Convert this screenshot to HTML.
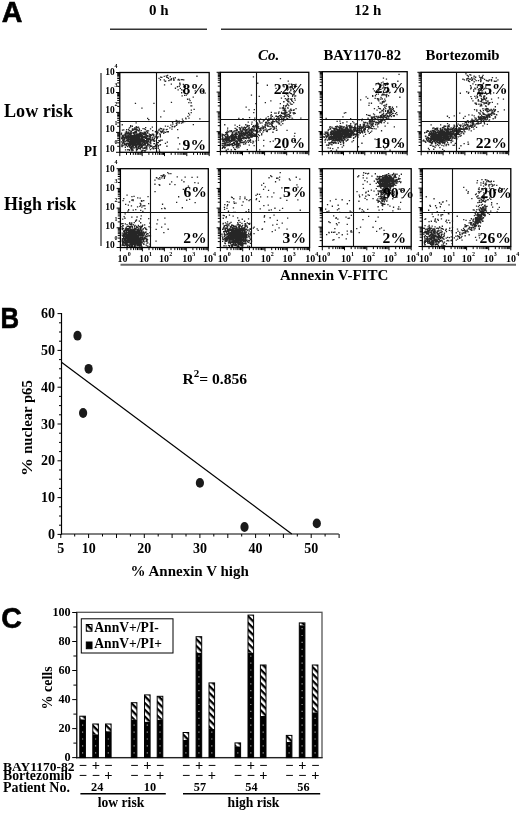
<!DOCTYPE html>
<html><head><meta charset="utf-8"><style>
html,body{margin:0;padding:0;background:#fff;}
svg{display:block;}
</style></head><body>
<svg width="520" height="813" viewBox="0 0 520 813">
<rect width="520" height="813" fill="#fff"/>
<path d="M126.0 140.0h1.3v1.3h-1.3zM146.0 137.0h1.3v1.3h-1.3zM125.0 137.5h1.3v1.3h-1.3zM141.3 145.4h1.3v1.3h-1.3zM126.1 131.0h1.3v1.3h-1.3zM143.4 142.2h1.3v1.3h-1.3zM150.8 145.6h1.3v1.3h-1.3zM136.1 137.4h1.3v1.3h-1.3zM160.1 139.6h1.3v1.3h-1.3zM129.9 132.2h1.3v1.3h-1.3zM137.9 139.9h1.3v1.3h-1.3zM133.9 138.4h1.3v1.3h-1.3zM139.5 143.0h1.3v1.3h-1.3zM146.9 141.0h1.3v1.3h-1.3zM120.9 141.3h1.3v1.3h-1.3zM124.2 136.9h1.3v1.3h-1.3zM123.7 137.8h1.3v1.3h-1.3zM130.0 139.5h1.3v1.3h-1.3zM166.7 141.5h1.3v1.3h-1.3zM144.6 132.5h1.3v1.3h-1.3zM134.4 142.4h1.3v1.3h-1.3zM136.2 140.9h1.3v1.3h-1.3zM137.9 133.6h1.3v1.3h-1.3zM142.1 135.0h1.3v1.3h-1.3zM153.8 137.8h1.3v1.3h-1.3zM143.2 139.6h1.3v1.3h-1.3zM145.6 136.5h1.3v1.3h-1.3zM146.0 139.2h1.3v1.3h-1.3zM148.4 143.4h1.3v1.3h-1.3zM138.3 134.9h1.3v1.3h-1.3zM143.9 142.2h1.3v1.3h-1.3zM151.8 138.3h1.3v1.3h-1.3zM142.0 142.2h1.3v1.3h-1.3zM139.5 140.4h1.3v1.3h-1.3zM138.6 135.9h1.3v1.3h-1.3zM127.9 136.0h1.3v1.3h-1.3zM142.3 147.7h1.3v1.3h-1.3zM145.8 145.5h1.3v1.3h-1.3zM144.0 143.4h1.3v1.3h-1.3zM138.7 143.3h1.3v1.3h-1.3zM153.0 138.7h1.3v1.3h-1.3zM130.8 149.1h1.3v1.3h-1.3zM139.2 144.5h1.3v1.3h-1.3zM144.9 133.5h1.3v1.3h-1.3zM158.9 150.7h1.3v1.3h-1.3zM138.6 143.2h1.3v1.3h-1.3zM138.1 134.3h1.3v1.3h-1.3zM136.0 140.9h1.3v1.3h-1.3zM147.0 143.8h1.3v1.3h-1.3zM137.5 146.4h1.3v1.3h-1.3zM130.2 142.7h1.3v1.3h-1.3zM147.0 138.3h1.3v1.3h-1.3zM120.9 132.6h1.3v1.3h-1.3zM139.1 142.1h1.3v1.3h-1.3zM150.9 134.8h1.3v1.3h-1.3zM137.0 142.5h1.3v1.3h-1.3zM135.6 126.0h1.3v1.3h-1.3zM146.0 134.8h1.3v1.3h-1.3zM133.3 139.9h1.3v1.3h-1.3zM159.4 144.4h1.3v1.3h-1.3zM138.0 147.6h1.3v1.3h-1.3zM136.3 149.1h1.3v1.3h-1.3zM130.8 135.9h1.3v1.3h-1.3zM143.5 147.3h1.3v1.3h-1.3zM142.9 141.2h1.3v1.3h-1.3zM120.6 133.6h1.3v1.3h-1.3zM131.5 135.6h1.3v1.3h-1.3zM142.3 137.7h1.3v1.3h-1.3zM144.1 140.1h1.3v1.3h-1.3zM134.0 139.4h1.3v1.3h-1.3zM140.9 144.0h1.3v1.3h-1.3zM132.7 137.3h1.3v1.3h-1.3zM124.7 146.6h1.3v1.3h-1.3zM150.1 139.2h1.3v1.3h-1.3zM132.7 131.9h1.3v1.3h-1.3zM138.5 140.3h1.3v1.3h-1.3zM156.6 142.1h1.3v1.3h-1.3zM130.0 125.1h1.3v1.3h-1.3zM149.7 141.2h1.3v1.3h-1.3zM122.5 138.7h1.3v1.3h-1.3zM147.1 143.0h1.3v1.3h-1.3zM135.4 127.2h1.3v1.3h-1.3zM135.9 130.4h1.3v1.3h-1.3zM142.4 127.9h1.3v1.3h-1.3zM128.8 144.9h1.3v1.3h-1.3zM151.8 133.9h1.3v1.3h-1.3zM123.2 142.5h1.3v1.3h-1.3zM144.7 134.3h1.3v1.3h-1.3zM130.8 134.7h1.3v1.3h-1.3zM126.3 134.3h1.3v1.3h-1.3zM148.3 143.8h1.3v1.3h-1.3zM155.5 140.2h1.3v1.3h-1.3zM135.8 133.5h1.3v1.3h-1.3zM135.9 131.8h1.3v1.3h-1.3zM121.0 141.3h1.3v1.3h-1.3zM150.0 144.7h1.3v1.3h-1.3zM149.0 141.5h1.3v1.3h-1.3zM130.5 138.9h1.3v1.3h-1.3zM133.6 132.6h1.3v1.3h-1.3zM121.8 129.5h1.3v1.3h-1.3zM137.0 139.8h1.3v1.3h-1.3zM132.7 146.4h1.3v1.3h-1.3zM138.6 142.3h1.3v1.3h-1.3zM148.0 135.5h1.3v1.3h-1.3zM130.8 145.6h1.3v1.3h-1.3zM140.0 144.8h1.3v1.3h-1.3zM143.9 128.3h1.3v1.3h-1.3zM143.5 135.9h1.3v1.3h-1.3zM130.2 136.0h1.3v1.3h-1.3zM143.9 144.4h1.3v1.3h-1.3zM146.1 130.8h1.3v1.3h-1.3zM131.7 125.6h1.3v1.3h-1.3zM136.1 142.2h1.3v1.3h-1.3zM130.1 139.7h1.3v1.3h-1.3zM139.1 144.7h1.3v1.3h-1.3zM129.6 133.8h1.3v1.3h-1.3zM130.1 147.9h1.3v1.3h-1.3zM146.8 139.2h1.3v1.3h-1.3zM139.0 139.8h1.3v1.3h-1.3zM138.8 138.0h1.3v1.3h-1.3zM134.0 131.9h1.3v1.3h-1.3zM131.2 147.4h1.3v1.3h-1.3zM141.8 139.8h1.3v1.3h-1.3zM135.1 139.2h1.3v1.3h-1.3zM140.2 135.8h1.3v1.3h-1.3zM138.8 140.5h1.3v1.3h-1.3zM130.3 134.1h1.3v1.3h-1.3zM128.0 132.4h1.3v1.3h-1.3zM145.0 126.9h1.3v1.3h-1.3zM134.6 135.5h1.3v1.3h-1.3zM131.4 139.0h1.3v1.3h-1.3zM147.2 140.3h1.3v1.3h-1.3zM135.7 135.6h1.3v1.3h-1.3zM135.8 143.9h1.3v1.3h-1.3zM133.5 132.4h1.3v1.3h-1.3zM125.6 131.9h1.3v1.3h-1.3zM124.5 143.8h1.3v1.3h-1.3zM140.2 138.0h1.3v1.3h-1.3zM150.1 136.6h1.3v1.3h-1.3zM143.8 144.0h1.3v1.3h-1.3zM123.1 129.3h1.3v1.3h-1.3zM128.7 143.2h1.3v1.3h-1.3zM148.7 133.4h1.3v1.3h-1.3zM146.4 137.8h1.3v1.3h-1.3zM133.5 135.7h1.3v1.3h-1.3zM134.1 128.8h1.3v1.3h-1.3zM128.0 131.5h1.3v1.3h-1.3zM141.4 150.8h1.3v1.3h-1.3zM161.6 139.4h1.3v1.3h-1.3zM121.5 135.4h1.3v1.3h-1.3zM128.5 149.0h1.3v1.3h-1.3zM142.1 135.5h1.3v1.3h-1.3zM145.4 142.7h1.3v1.3h-1.3zM122.4 134.8h1.3v1.3h-1.3zM134.8 138.9h1.3v1.3h-1.3zM138.2 137.3h1.3v1.3h-1.3zM138.7 136.0h1.3v1.3h-1.3zM128.9 146.5h1.3v1.3h-1.3zM140.2 141.7h1.3v1.3h-1.3zM122.6 136.8h1.3v1.3h-1.3zM144.4 132.7h1.3v1.3h-1.3zM146.9 137.8h1.3v1.3h-1.3zM140.6 138.6h1.3v1.3h-1.3zM139.0 145.7h1.3v1.3h-1.3zM133.4 147.2h1.3v1.3h-1.3zM130.0 133.3h1.3v1.3h-1.3zM143.4 133.8h1.3v1.3h-1.3zM133.7 143.6h1.3v1.3h-1.3zM147.9 130.3h1.3v1.3h-1.3zM141.6 149.7h1.3v1.3h-1.3zM147.8 138.7h1.3v1.3h-1.3zM131.6 136.9h1.3v1.3h-1.3zM126.6 136.6h1.3v1.3h-1.3zM135.3 138.1h1.3v1.3h-1.3zM147.6 138.7h1.3v1.3h-1.3zM123.9 143.5h1.3v1.3h-1.3zM127.3 135.7h1.3v1.3h-1.3zM135.8 137.0h1.3v1.3h-1.3zM128.0 136.8h1.3v1.3h-1.3zM156.7 137.5h1.3v1.3h-1.3zM135.8 145.0h1.3v1.3h-1.3zM143.7 143.8h1.3v1.3h-1.3zM144.8 129.0h1.3v1.3h-1.3zM129.2 139.0h1.3v1.3h-1.3zM141.5 146.4h1.3v1.3h-1.3zM141.2 138.1h1.3v1.3h-1.3zM137.4 137.9h1.3v1.3h-1.3zM139.2 142.9h1.3v1.3h-1.3zM133.9 134.3h1.3v1.3h-1.3zM129.3 144.3h1.3v1.3h-1.3zM148.5 145.5h1.3v1.3h-1.3zM144.7 144.2h1.3v1.3h-1.3zM137.0 142.6h1.3v1.3h-1.3zM127.5 137.0h1.3v1.3h-1.3zM130.4 142.3h1.3v1.3h-1.3zM131.8 137.9h1.3v1.3h-1.3zM140.6 146.7h1.3v1.3h-1.3zM129.9 133.2h1.3v1.3h-1.3zM144.4 133.7h1.3v1.3h-1.3zM141.1 136.3h1.3v1.3h-1.3zM136.0 129.0h1.3v1.3h-1.3zM143.4 136.9h1.3v1.3h-1.3zM128.9 149.6h1.3v1.3h-1.3zM140.7 137.4h1.3v1.3h-1.3zM138.0 147.8h1.3v1.3h-1.3zM136.8 141.4h1.3v1.3h-1.3zM141.6 134.5h1.3v1.3h-1.3zM138.2 136.4h1.3v1.3h-1.3zM125.8 142.7h1.3v1.3h-1.3zM143.0 140.0h1.3v1.3h-1.3zM128.8 127.3h1.3v1.3h-1.3zM141.4 138.9h1.3v1.3h-1.3zM121.8 137.3h1.3v1.3h-1.3zM123.3 137.6h1.3v1.3h-1.3zM138.3 141.0h1.3v1.3h-1.3zM139.0 140.1h1.3v1.3h-1.3zM126.7 136.0h1.3v1.3h-1.3zM132.4 137.3h1.3v1.3h-1.3zM139.4 142.6h1.3v1.3h-1.3zM151.7 126.4h1.3v1.3h-1.3zM140.6 138.3h1.3v1.3h-1.3zM157.5 146.0h1.3v1.3h-1.3zM122.1 139.8h1.3v1.3h-1.3zM132.3 144.0h1.3v1.3h-1.3zM127.5 137.6h1.3v1.3h-1.3zM135.8 138.4h1.3v1.3h-1.3zM131.7 128.5h1.3v1.3h-1.3zM141.1 144.8h1.3v1.3h-1.3zM136.4 133.4h1.3v1.3h-1.3zM138.8 142.2h1.3v1.3h-1.3zM135.4 138.8h1.3v1.3h-1.3zM149.7 134.1h1.3v1.3h-1.3zM132.0 128.2h1.3v1.3h-1.3zM130.7 134.4h1.3v1.3h-1.3zM128.4 134.4h1.3v1.3h-1.3zM153.2 139.4h1.3v1.3h-1.3zM136.5 129.5h1.3v1.3h-1.3zM140.6 134.2h1.3v1.3h-1.3zM151.7 133.6h1.3v1.3h-1.3zM131.8 129.8h1.3v1.3h-1.3zM137.9 133.6h1.3v1.3h-1.3zM136.4 136.9h1.3v1.3h-1.3zM131.5 143.6h1.3v1.3h-1.3zM145.4 140.1h1.3v1.3h-1.3zM128.9 132.4h1.3v1.3h-1.3zM132.9 134.4h1.3v1.3h-1.3zM130.7 132.5h1.3v1.3h-1.3zM128.2 137.1h1.3v1.3h-1.3zM149.9 140.2h1.3v1.3h-1.3zM132.4 129.8h1.3v1.3h-1.3zM138.9 139.0h1.3v1.3h-1.3zM126.0 132.1h1.3v1.3h-1.3zM136.6 144.5h1.3v1.3h-1.3zM142.6 140.6h1.3v1.3h-1.3zM134.1 140.5h1.3v1.3h-1.3zM126.8 136.1h1.3v1.3h-1.3zM148.4 138.6h1.3v1.3h-1.3zM149.8 139.9h1.3v1.3h-1.3zM138.3 137.1h1.3v1.3h-1.3zM124.6 132.6h1.3v1.3h-1.3zM156.9 144.3h1.3v1.3h-1.3zM142.5 144.7h1.3v1.3h-1.3zM142.1 145.0h1.3v1.3h-1.3zM134.6 137.6h1.3v1.3h-1.3zM145.9 137.9h1.3v1.3h-1.3zM125.0 136.7h1.3v1.3h-1.3zM132.1 141.9h1.3v1.3h-1.3zM130.5 132.6h1.3v1.3h-1.3zM134.0 147.2h1.3v1.3h-1.3zM136.6 139.8h1.3v1.3h-1.3zM137.1 140.6h1.3v1.3h-1.3zM145.4 147.4h1.3v1.3h-1.3zM122.2 145.0h1.3v1.3h-1.3zM137.0 137.3h1.3v1.3h-1.3zM158.6 140.1h1.3v1.3h-1.3zM154.5 145.9h1.3v1.3h-1.3zM127.7 140.8h1.3v1.3h-1.3zM143.6 138.9h1.3v1.3h-1.3zM135.3 132.8h1.3v1.3h-1.3zM153.4 139.2h1.3v1.3h-1.3zM133.5 137.0h1.3v1.3h-1.3zM129.9 134.1h1.3v1.3h-1.3zM137.8 140.8h1.3v1.3h-1.3zM132.4 138.1h1.3v1.3h-1.3zM124.5 140.7h1.3v1.3h-1.3zM130.3 139.6h1.3v1.3h-1.3zM128.8 135.4h1.3v1.3h-1.3zM138.9 132.6h1.3v1.3h-1.3zM159.2 140.8h1.3v1.3h-1.3zM136.3 134.9h1.3v1.3h-1.3zM151.4 147.9h1.3v1.3h-1.3zM139.7 131.8h1.3v1.3h-1.3zM132.5 141.9h1.3v1.3h-1.3zM132.4 132.1h1.3v1.3h-1.3zM126.3 133.8h1.3v1.3h-1.3zM137.1 135.5h1.3v1.3h-1.3zM153.0 134.8h1.3v1.3h-1.3zM140.1 139.8h1.3v1.3h-1.3zM135.8 144.6h1.3v1.3h-1.3zM134.0 137.0h1.3v1.3h-1.3zM133.6 138.1h1.3v1.3h-1.3zM148.6 144.3h1.3v1.3h-1.3zM124.9 135.5h1.3v1.3h-1.3zM129.8 142.8h1.3v1.3h-1.3zM139.0 144.0h1.3v1.3h-1.3zM136.4 128.6h1.3v1.3h-1.3zM141.1 140.6h1.3v1.3h-1.3zM141.6 132.3h1.3v1.3h-1.3zM137.7 135.3h1.3v1.3h-1.3zM130.8 140.4h1.3v1.3h-1.3zM140.2 134.4h1.3v1.3h-1.3zM121.6 124.1h1.3v1.3h-1.3zM131.8 144.6h1.3v1.3h-1.3zM136.5 126.7h1.3v1.3h-1.3zM129.2 140.6h1.3v1.3h-1.3zM152.1 146.7h1.3v1.3h-1.3zM140.3 140.4h1.3v1.3h-1.3zM127.5 135.7h1.3v1.3h-1.3zM134.0 134.5h1.3v1.3h-1.3zM137.6 136.9h1.3v1.3h-1.3zM140.0 147.1h1.3v1.3h-1.3zM143.7 141.9h1.3v1.3h-1.3zM134.8 130.5h1.3v1.3h-1.3zM136.0 141.9h1.3v1.3h-1.3zM127.9 145.0h1.3v1.3h-1.3zM134.0 140.7h1.3v1.3h-1.3zM134.0 131.9h1.3v1.3h-1.3zM155.6 134.4h1.3v1.3h-1.3zM145.3 136.7h1.3v1.3h-1.3zM139.5 134.8h1.3v1.3h-1.3zM133.3 143.7h1.3v1.3h-1.3zM154.5 136.0h1.3v1.3h-1.3zM137.1 144.2h1.3v1.3h-1.3zM131.3 142.3h1.3v1.3h-1.3zM129.9 141.6h1.3v1.3h-1.3zM140.9 146.0h1.3v1.3h-1.3zM140.3 132.8h1.3v1.3h-1.3zM143.0 133.6h1.3v1.3h-1.3zM143.8 147.8h1.3v1.3h-1.3zM142.4 136.5h1.3v1.3h-1.3zM147.7 140.9h1.3v1.3h-1.3zM125.8 136.0h1.3v1.3h-1.3zM149.8 138.5h1.3v1.3h-1.3zM138.1 137.2h1.3v1.3h-1.3zM121.8 134.8h1.3v1.3h-1.3zM140.2 140.4h1.3v1.3h-1.3zM135.4 127.2h1.3v1.3h-1.3zM148.0 143.9h1.3v1.3h-1.3zM146.2 146.9h1.3v1.3h-1.3zM133.0 135.3h1.3v1.3h-1.3zM139.8 148.4h1.3v1.3h-1.3zM121.8 136.4h1.3v1.3h-1.3zM130.6 141.5h1.3v1.3h-1.3zM150.2 138.6h1.3v1.3h-1.3zM125.8 138.2h1.3v1.3h-1.3zM134.4 130.4h1.3v1.3h-1.3zM145.0 136.9h1.3v1.3h-1.3zM143.1 132.4h1.3v1.3h-1.3zM146.9 132.1h1.3v1.3h-1.3zM146.5 130.0h1.3v1.3h-1.3zM149.4 138.1h1.3v1.3h-1.3zM123.0 136.4h1.3v1.3h-1.3zM140.0 133.9h1.3v1.3h-1.3zM132.6 140.1h1.3v1.3h-1.3zM135.5 122.2h1.3v1.3h-1.3zM133.1 141.0h1.3v1.3h-1.3zM139.7 144.7h1.3v1.3h-1.3zM144.2 141.4h1.3v1.3h-1.3zM146.8 145.1h1.3v1.3h-1.3zM137.9 135.7h1.3v1.3h-1.3zM146.2 142.1h1.3v1.3h-1.3zM141.2 140.0h1.3v1.3h-1.3zM139.5 142.7h1.3v1.3h-1.3zM138.3 147.7h1.3v1.3h-1.3zM131.7 136.3h1.3v1.3h-1.3zM139.9 143.3h1.3v1.3h-1.3zM144.1 147.7h1.3v1.3h-1.3zM132.7 145.0h1.3v1.3h-1.3zM141.2 133.7h1.3v1.3h-1.3zM135.8 150.2h1.3v1.3h-1.3zM144.1 137.1h1.3v1.3h-1.3zM130.7 138.8h1.3v1.3h-1.3zM157.8 145.0h1.3v1.3h-1.3zM139.8 134.2h1.3v1.3h-1.3zM126.3 136.9h1.3v1.3h-1.3zM133.4 135.3h1.3v1.3h-1.3zM147.2 140.4h1.3v1.3h-1.3zM125.9 145.0h1.3v1.3h-1.3zM134.2 131.5h1.3v1.3h-1.3zM139.9 141.9h1.3v1.3h-1.3zM134.0 142.5h1.3v1.3h-1.3zM144.4 134.9h1.3v1.3h-1.3zM135.8 145.6h1.3v1.3h-1.3zM146.0 147.4h1.3v1.3h-1.3zM153.7 140.6h1.3v1.3h-1.3zM146.5 131.6h1.3v1.3h-1.3zM143.2 141.7h1.3v1.3h-1.3zM136.2 136.5h1.3v1.3h-1.3zM127.0 138.8h1.3v1.3h-1.3zM148.5 138.1h1.3v1.3h-1.3zM141.8 135.8h1.3v1.3h-1.3zM139.3 133.7h1.3v1.3h-1.3zM140.4 138.1h1.3v1.3h-1.3zM139.8 136.0h1.3v1.3h-1.3zM126.4 136.2h1.3v1.3h-1.3zM146.3 148.4h1.3v1.3h-1.3zM134.1 143.1h1.3v1.3h-1.3zM143.8 141.8h1.3v1.3h-1.3zM123.0 139.5h1.3v1.3h-1.3zM128.3 144.6h1.3v1.3h-1.3zM144.1 143.0h1.3v1.3h-1.3zM143.3 132.6h1.3v1.3h-1.3zM145.7 140.2h1.3v1.3h-1.3zM135.4 135.0h1.3v1.3h-1.3zM127.8 135.8h1.3v1.3h-1.3zM164.8 142.7h1.3v1.3h-1.3zM138.9 135.6h1.3v1.3h-1.3zM131.4 135.5h1.3v1.3h-1.3zM129.0 143.0h1.3v1.3h-1.3zM134.6 143.5h1.3v1.3h-1.3zM126.6 143.1h1.3v1.3h-1.3zM136.8 142.6h1.3v1.3h-1.3zM136.1 134.1h1.3v1.3h-1.3zM147.9 137.6h1.3v1.3h-1.3zM135.7 134.1h1.3v1.3h-1.3zM138.8 137.0h1.3v1.3h-1.3zM139.5 141.1h1.3v1.3h-1.3zM130.8 130.8h1.3v1.3h-1.3zM140.9 144.3h1.3v1.3h-1.3zM143.3 133.3h1.3v1.3h-1.3zM142.4 141.6h1.3v1.3h-1.3zM139.6 141.6h1.3v1.3h-1.3zM134.1 139.9h1.3v1.3h-1.3zM145.3 137.0h1.3v1.3h-1.3zM124.0 137.2h1.3v1.3h-1.3zM138.8 129.1h1.3v1.3h-1.3zM130.9 141.6h1.3v1.3h-1.3zM135.6 139.4h1.3v1.3h-1.3zM125.7 142.9h1.3v1.3h-1.3zM152.8 139.4h1.3v1.3h-1.3zM130.4 132.1h1.3v1.3h-1.3zM145.0 140.3h1.3v1.3h-1.3zM129.9 144.9h1.3v1.3h-1.3zM143.9 142.9h1.3v1.3h-1.3zM121.2 137.0h1.3v1.3h-1.3zM142.6 132.9h1.3v1.3h-1.3zM145.4 147.5h1.3v1.3h-1.3zM146.3 135.9h1.3v1.3h-1.3zM130.6 143.5h1.3v1.3h-1.3zM145.9 146.5h1.3v1.3h-1.3zM147.8 139.4h1.3v1.3h-1.3zM133.3 128.6h1.3v1.3h-1.3zM132.8 136.0h1.3v1.3h-1.3zM142.8 141.6h1.3v1.3h-1.3zM124.7 134.0h1.3v1.3h-1.3zM127.1 149.1h1.3v1.3h-1.3zM130.5 143.1h1.3v1.3h-1.3zM149.8 149.0h1.3v1.3h-1.3zM125.9 136.1h1.3v1.3h-1.3zM130.4 136.8h1.3v1.3h-1.3zM160.6 132.0h1.3v1.3h-1.3zM142.0 132.7h1.3v1.3h-1.3zM149.0 147.2h1.3v1.3h-1.3zM132.4 149.8h1.3v1.3h-1.3zM137.7 146.1h1.3v1.3h-1.3zM139.8 136.2h1.3v1.3h-1.3zM133.6 138.0h1.3v1.3h-1.3zM142.6 140.2h1.3v1.3h-1.3zM158.2 139.9h1.3v1.3h-1.3zM132.8 134.7h1.3v1.3h-1.3zM130.0 130.5h1.3v1.3h-1.3zM128.1 143.1h1.3v1.3h-1.3zM137.5 138.1h1.3v1.3h-1.3zM140.2 145.1h1.3v1.3h-1.3zM142.5 143.7h1.3v1.3h-1.3zM132.0 137.1h1.3v1.3h-1.3zM130.0 137.8h1.3v1.3h-1.3zM129.6 136.3h1.3v1.3h-1.3zM135.4 137.7h1.3v1.3h-1.3zM134.6 136.1h1.3v1.3h-1.3zM148.8 138.2h1.3v1.3h-1.3zM127.9 139.2h1.3v1.3h-1.3zM127.2 132.3h1.3v1.3h-1.3zM137.8 130.0h1.3v1.3h-1.3zM146.3 130.8h1.3v1.3h-1.3zM128.9 141.4h1.3v1.3h-1.3zM126.2 136.9h1.3v1.3h-1.3zM135.7 140.5h1.3v1.3h-1.3zM134.0 127.2h1.3v1.3h-1.3zM135.6 131.6h1.3v1.3h-1.3zM137.1 134.4h1.3v1.3h-1.3zM134.1 137.6h1.3v1.3h-1.3zM144.0 143.8h1.3v1.3h-1.3zM128.0 138.1h1.3v1.3h-1.3zM150.1 142.9h1.3v1.3h-1.3zM130.4 137.7h1.3v1.3h-1.3zM133.9 143.8h1.3v1.3h-1.3zM137.3 141.1h1.3v1.3h-1.3zM156.9 133.3h1.3v1.3h-1.3zM127.9 128.7h1.3v1.3h-1.3zM122.7 142.3h1.3v1.3h-1.3zM139.6 148.1h1.3v1.3h-1.3zM150.0 145.8h1.3v1.3h-1.3zM145.0 144.5h1.3v1.3h-1.3zM137.3 139.0h1.3v1.3h-1.3zM137.3 143.6h1.3v1.3h-1.3zM135.5 140.6h1.3v1.3h-1.3zM150.1 134.1h1.3v1.3h-1.3zM130.2 141.5h1.3v1.3h-1.3zM134.6 137.9h1.3v1.3h-1.3zM155.9 143.0h1.3v1.3h-1.3zM133.2 144.6h1.3v1.3h-1.3zM159.7 135.0h1.3v1.3h-1.3zM131.0 139.1h1.3v1.3h-1.3zM131.3 150.3h1.3v1.3h-1.3zM141.7 137.3h1.3v1.3h-1.3zM141.4 135.1h1.3v1.3h-1.3zM131.6 139.1h1.3v1.3h-1.3zM158.5 128.7h1.3v1.3h-1.3zM140.8 146.7h1.3v1.3h-1.3zM143.7 150.1h1.3v1.3h-1.3zM141.1 140.2h1.3v1.3h-1.3zM135.8 134.2h1.3v1.3h-1.3zM151.7 133.9h1.3v1.3h-1.3zM135.9 136.0h1.3v1.3h-1.3zM129.9 126.3h1.3v1.3h-1.3zM133.6 139.4h1.3v1.3h-1.3zM138.3 143.7h1.3v1.3h-1.3zM135.5 135.4h1.3v1.3h-1.3zM139.8 142.9h1.3v1.3h-1.3zM128.9 130.0h1.3v1.3h-1.3zM127.8 143.9h1.3v1.3h-1.3zM146.0 135.0h1.3v1.3h-1.3zM138.0 143.7h1.3v1.3h-1.3zM149.0 136.5h1.3v1.3h-1.3zM134.8 146.5h1.3v1.3h-1.3zM158.7 149.3h1.3v1.3h-1.3zM126.7 140.5h1.3v1.3h-1.3zM134.3 138.4h1.3v1.3h-1.3zM131.0 135.8h1.3v1.3h-1.3zM136.9 148.8h1.3v1.3h-1.3zM143.3 141.9h1.3v1.3h-1.3zM137.2 134.9h1.3v1.3h-1.3zM134.9 145.6h1.3v1.3h-1.3zM144.5 150.4h1.3v1.3h-1.3zM139.3 139.1h1.3v1.3h-1.3zM122.4 139.8h1.3v1.3h-1.3zM121.5 145.9h1.3v1.3h-1.3zM131.3 138.5h1.3v1.3h-1.3zM124.8 135.2h1.3v1.3h-1.3zM128.6 144.4h1.3v1.3h-1.3zM139.2 132.8h1.3v1.3h-1.3zM132.6 132.6h1.3v1.3h-1.3zM142.3 138.5h1.3v1.3h-1.3zM138.0 135.9h1.3v1.3h-1.3zM131.9 136.0h1.3v1.3h-1.3zM122.6 141.1h1.3v1.3h-1.3zM140.6 130.0h1.3v1.3h-1.3zM137.9 145.4h1.3v1.3h-1.3zM139.1 146.2h1.3v1.3h-1.3zM134.6 138.8h1.3v1.3h-1.3zM125.3 133.0h1.3v1.3h-1.3zM139.2 142.0h1.3v1.3h-1.3zM147.5 140.7h1.3v1.3h-1.3zM128.1 140.5h1.3v1.3h-1.3zM135.7 148.6h1.3v1.3h-1.3zM154.6 145.8h1.3v1.3h-1.3zM126.8 135.2h1.3v1.3h-1.3zM138.7 135.3h1.3v1.3h-1.3zM141.7 143.2h1.3v1.3h-1.3zM144.5 140.9h1.3v1.3h-1.3zM129.0 133.7h1.3v1.3h-1.3zM135.9 146.1h1.3v1.3h-1.3zM151.2 145.6h1.3v1.3h-1.3zM140.3 143.0h1.3v1.3h-1.3zM144.4 146.7h1.3v1.3h-1.3zM144.7 131.4h1.3v1.3h-1.3zM145.6 141.9h1.3v1.3h-1.3zM132.9 141.5h1.3v1.3h-1.3zM139.6 138.9h1.3v1.3h-1.3zM121.8 138.2h1.3v1.3h-1.3zM142.0 139.2h1.3v1.3h-1.3zM122.7 140.2h1.3v1.3h-1.3zM143.5 140.6h1.3v1.3h-1.3zM140.8 137.4h1.3v1.3h-1.3zM131.1 141.3h1.3v1.3h-1.3zM133.8 139.7h1.3v1.3h-1.3zM166.3 145.6h1.3v1.3h-1.3zM138.2 130.3h1.3v1.3h-1.3zM137.9 143.2h1.3v1.3h-1.3zM130.7 137.1h1.3v1.3h-1.3zM131.6 142.2h1.3v1.3h-1.3zM149.3 139.2h1.3v1.3h-1.3zM145.9 141.2h1.3v1.3h-1.3zM135.2 137.3h1.3v1.3h-1.3zM129.3 145.3h1.3v1.3h-1.3zM144.9 134.3h1.3v1.3h-1.3zM144.6 135.7h1.3v1.3h-1.3zM123.5 144.3h1.3v1.3h-1.3zM125.5 144.4h1.3v1.3h-1.3zM138.8 144.1h1.3v1.3h-1.3zM141.6 145.7h1.3v1.3h-1.3zM140.1 142.4h1.3v1.3h-1.3zM139.2 145.2h1.3v1.3h-1.3zM133.5 144.2h1.3v1.3h-1.3zM150.6 139.9h1.3v1.3h-1.3zM141.0 136.6h1.3v1.3h-1.3zM134.4 140.2h1.3v1.3h-1.3zM133.9 133.9h1.3v1.3h-1.3zM136.7 140.0h1.3v1.3h-1.3zM139.9 143.1h1.3v1.3h-1.3zM121.0 145.2h1.3v1.3h-1.3zM135.5 134.7h1.3v1.3h-1.3zM133.7 141.1h1.3v1.3h-1.3zM144.8 137.7h1.3v1.3h-1.3zM138.4 130.5h1.3v1.3h-1.3zM138.5 138.5h1.3v1.3h-1.3zM133.1 143.5h1.3v1.3h-1.3zM153.1 146.1h1.3v1.3h-1.3zM130.0 146.7h1.3v1.3h-1.3zM134.0 138.5h1.3v1.3h-1.3zM131.8 141.0h1.3v1.3h-1.3zM142.0 140.2h1.3v1.3h-1.3zM135.1 138.0h1.3v1.3h-1.3zM133.4 143.9h1.3v1.3h-1.3zM132.3 137.8h1.3v1.3h-1.3zM132.0 137.4h1.3v1.3h-1.3zM131.9 134.9h1.3v1.3h-1.3zM135.0 141.9h1.3v1.3h-1.3zM131.5 145.4h1.3v1.3h-1.3zM128.9 141.9h1.3v1.3h-1.3zM135.4 138.1h1.3v1.3h-1.3zM131.8 143.1h1.3v1.3h-1.3zM133.3 141.0h1.3v1.3h-1.3zM140.0 140.8h1.3v1.3h-1.3zM124.7 137.4h1.3v1.3h-1.3zM137.2 139.6h1.3v1.3h-1.3zM127.6 133.1h1.3v1.3h-1.3zM134.6 145.2h1.3v1.3h-1.3zM126.8 132.4h1.3v1.3h-1.3zM135.5 138.1h1.3v1.3h-1.3zM131.5 138.9h1.3v1.3h-1.3zM128.5 141.5h1.3v1.3h-1.3zM137.6 141.3h1.3v1.3h-1.3zM130.2 143.6h1.3v1.3h-1.3zM132.5 142.0h1.3v1.3h-1.3zM128.4 142.3h1.3v1.3h-1.3zM136.7 144.5h1.3v1.3h-1.3zM133.1 141.5h1.3v1.3h-1.3zM130.1 143.1h1.3v1.3h-1.3zM136.9 143.8h1.3v1.3h-1.3zM131.1 135.8h1.3v1.3h-1.3zM132.7 139.3h1.3v1.3h-1.3zM129.3 142.1h1.3v1.3h-1.3zM137.7 141.4h1.3v1.3h-1.3zM138.5 141.4h1.3v1.3h-1.3zM128.2 138.0h1.3v1.3h-1.3zM131.3 142.4h1.3v1.3h-1.3zM137.6 140.5h1.3v1.3h-1.3zM138.0 137.2h1.3v1.3h-1.3zM132.4 145.2h1.3v1.3h-1.3zM135.2 143.6h1.3v1.3h-1.3zM123.7 134.2h1.3v1.3h-1.3zM128.7 143.5h1.3v1.3h-1.3zM141.0 137.9h1.3v1.3h-1.3zM128.1 136.5h1.3v1.3h-1.3zM128.6 141.9h1.3v1.3h-1.3zM131.5 146.5h1.3v1.3h-1.3zM136.6 137.6h1.3v1.3h-1.3zM134.2 139.5h1.3v1.3h-1.3zM136.9 143.1h1.3v1.3h-1.3zM131.3 143.1h1.3v1.3h-1.3zM135.8 139.7h1.3v1.3h-1.3zM134.3 142.4h1.3v1.3h-1.3zM131.4 137.7h1.3v1.3h-1.3zM139.3 140.0h1.3v1.3h-1.3zM130.1 141.6h1.3v1.3h-1.3zM125.8 140.2h1.3v1.3h-1.3zM126.3 138.5h1.3v1.3h-1.3zM124.2 137.5h1.3v1.3h-1.3zM137.4 139.4h1.3v1.3h-1.3zM127.0 146.0h1.3v1.3h-1.3zM129.9 145.1h1.3v1.3h-1.3zM130.4 135.0h1.3v1.3h-1.3zM142.1 138.5h1.3v1.3h-1.3zM136.8 144.1h1.3v1.3h-1.3zM126.6 140.3h1.3v1.3h-1.3zM130.2 142.1h1.3v1.3h-1.3zM133.0 135.7h1.3v1.3h-1.3zM133.3 142.6h1.3v1.3h-1.3zM131.6 142.0h1.3v1.3h-1.3zM130.4 139.8h1.3v1.3h-1.3zM134.7 140.5h1.3v1.3h-1.3zM139.3 143.3h1.3v1.3h-1.3zM137.2 142.5h1.3v1.3h-1.3zM133.8 136.0h1.3v1.3h-1.3zM138.2 146.0h1.3v1.3h-1.3zM134.1 139.2h1.3v1.3h-1.3zM132.9 144.2h1.3v1.3h-1.3zM134.4 136.7h1.3v1.3h-1.3zM132.2 137.4h1.3v1.3h-1.3zM132.0 137.0h1.3v1.3h-1.3zM128.8 145.1h1.3v1.3h-1.3zM138.2 134.5h1.3v1.3h-1.3zM128.2 138.5h1.3v1.3h-1.3zM131.1 135.3h1.3v1.3h-1.3zM137.4 134.5h1.3v1.3h-1.3zM136.4 142.4h1.3v1.3h-1.3zM131.2 137.8h1.3v1.3h-1.3zM133.3 140.5h1.3v1.3h-1.3zM122.8 135.7h1.3v1.3h-1.3zM135.6 139.7h1.3v1.3h-1.3zM131.0 136.6h1.3v1.3h-1.3zM129.6 137.4h1.3v1.3h-1.3zM146.7 135.7h1.3v1.3h-1.3zM140.5 141.7h1.3v1.3h-1.3zM134.1 140.7h1.3v1.3h-1.3zM131.2 145.5h1.3v1.3h-1.3zM135.5 139.9h1.3v1.3h-1.3zM132.4 140.7h1.3v1.3h-1.3zM127.5 138.9h1.3v1.3h-1.3zM130.0 142.1h1.3v1.3h-1.3zM136.0 133.6h1.3v1.3h-1.3zM132.0 143.4h1.3v1.3h-1.3zM126.7 136.0h1.3v1.3h-1.3zM137.9 139.6h1.3v1.3h-1.3zM130.8 135.9h1.3v1.3h-1.3zM133.9 138.1h1.3v1.3h-1.3zM134.1 141.5h1.3v1.3h-1.3zM136.5 138.9h1.3v1.3h-1.3zM130.5 140.1h1.3v1.3h-1.3zM132.6 140.6h1.3v1.3h-1.3zM130.5 139.2h1.3v1.3h-1.3zM130.2 138.0h1.3v1.3h-1.3zM133.8 144.0h1.3v1.3h-1.3zM130.4 142.0h1.3v1.3h-1.3zM134.7 140.4h1.3v1.3h-1.3zM136.4 138.1h1.3v1.3h-1.3zM135.8 141.1h1.3v1.3h-1.3zM136.0 146.7h1.3v1.3h-1.3zM127.9 140.4h1.3v1.3h-1.3zM134.8 136.7h1.3v1.3h-1.3zM138.9 141.6h1.3v1.3h-1.3zM129.1 135.9h1.3v1.3h-1.3zM131.0 148.2h1.3v1.3h-1.3zM143.6 131.5h1.3v1.3h-1.3zM124.1 142.3h1.3v1.3h-1.3zM132.5 137.9h1.3v1.3h-1.3zM136.0 140.4h1.3v1.3h-1.3zM134.4 140.9h1.3v1.3h-1.3zM127.7 144.5h1.3v1.3h-1.3zM130.8 143.9h1.3v1.3h-1.3zM136.4 140.2h1.3v1.3h-1.3zM133.7 139.9h1.3v1.3h-1.3zM124.0 138.9h1.3v1.3h-1.3zM135.1 134.5h1.3v1.3h-1.3zM125.7 143.7h1.3v1.3h-1.3zM137.0 134.7h1.3v1.3h-1.3zM135.3 139.9h1.3v1.3h-1.3zM137.8 138.9h1.3v1.3h-1.3zM131.9 137.4h1.3v1.3h-1.3zM133.9 139.6h1.3v1.3h-1.3zM129.8 138.8h1.3v1.3h-1.3zM129.3 142.2h1.3v1.3h-1.3zM128.0 134.7h1.3v1.3h-1.3zM128.3 143.7h1.3v1.3h-1.3zM130.5 142.2h1.3v1.3h-1.3zM136.6 138.3h1.3v1.3h-1.3zM136.7 141.8h1.3v1.3h-1.3zM132.8 137.6h1.3v1.3h-1.3zM132.7 135.6h1.3v1.3h-1.3zM131.7 138.0h1.3v1.3h-1.3zM135.2 141.2h1.3v1.3h-1.3zM129.9 143.0h1.3v1.3h-1.3zM138.9 140.2h1.3v1.3h-1.3zM129.4 141.8h1.3v1.3h-1.3zM121.0 138.0h1.3v1.3h-1.3zM135.9 146.9h1.3v1.3h-1.3zM129.4 145.3h1.3v1.3h-1.3zM144.5 146.5h1.3v1.3h-1.3zM121.4 143.8h1.3v1.3h-1.3zM134.0 143.5h1.3v1.3h-1.3zM132.1 137.9h1.3v1.3h-1.3zM131.9 145.2h1.3v1.3h-1.3zM137.2 139.0h1.3v1.3h-1.3zM134.9 143.0h1.3v1.3h-1.3zM135.8 139.9h1.3v1.3h-1.3zM129.8 137.4h1.3v1.3h-1.3zM130.9 138.1h1.3v1.3h-1.3zM125.2 135.1h1.3v1.3h-1.3zM137.4 136.1h1.3v1.3h-1.3zM126.5 139.9h1.3v1.3h-1.3zM140.2 144.4h1.3v1.3h-1.3zM131.0 136.4h1.3v1.3h-1.3zM130.4 136.9h1.3v1.3h-1.3zM130.3 141.7h1.3v1.3h-1.3zM127.7 137.3h1.3v1.3h-1.3zM131.7 139.9h1.3v1.3h-1.3zM129.2 137.3h1.3v1.3h-1.3zM127.4 137.4h1.3v1.3h-1.3zM135.6 139.2h1.3v1.3h-1.3zM132.7 137.0h1.3v1.3h-1.3zM131.7 129.5h1.3v1.3h-1.3zM124.8 144.1h1.3v1.3h-1.3zM140.2 132.1h1.3v1.3h-1.3zM153.8 142.9h1.3v1.3h-1.3zM157.6 147.6h1.3v1.3h-1.3zM152.1 139.3h1.3v1.3h-1.3zM159.8 127.7h1.3v1.3h-1.3zM154.9 144.5h1.3v1.3h-1.3zM130.8 147.0h1.3v1.3h-1.3zM138.7 139.9h1.3v1.3h-1.3zM154.8 131.1h1.3v1.3h-1.3zM131.9 142.7h1.3v1.3h-1.3zM123.9 140.4h1.3v1.3h-1.3zM151.7 138.8h1.3v1.3h-1.3zM130.4 146.8h1.3v1.3h-1.3zM154.3 146.0h1.3v1.3h-1.3zM142.4 149.5h1.3v1.3h-1.3zM152.1 129.9h1.3v1.3h-1.3zM135.3 128.6h1.3v1.3h-1.3zM122.4 135.0h1.3v1.3h-1.3zM154.7 147.7h1.3v1.3h-1.3zM125.6 130.7h1.3v1.3h-1.3zM136.2 148.1h1.3v1.3h-1.3zM145.1 149.4h1.3v1.3h-1.3zM129.1 142.4h1.3v1.3h-1.3zM155.2 144.9h1.3v1.3h-1.3zM128.7 143.4h1.3v1.3h-1.3zM137.8 126.4h1.3v1.3h-1.3zM134.2 134.2h1.3v1.3h-1.3zM145.6 133.2h1.3v1.3h-1.3zM144.5 144.1h1.3v1.3h-1.3zM128.0 129.3h1.3v1.3h-1.3zM148.1 138.1h1.3v1.3h-1.3zM126.0 129.0h1.3v1.3h-1.3zM157.7 141.9h1.3v1.3h-1.3zM134.9 131.1h1.3v1.3h-1.3zM159.8 144.0h1.3v1.3h-1.3zM149.7 135.4h1.3v1.3h-1.3zM133.1 136.6h1.3v1.3h-1.3zM126.7 142.4h1.3v1.3h-1.3zM137.6 147.3h1.3v1.3h-1.3zM137.0 137.9h1.3v1.3h-1.3zM140.8 150.5h1.3v1.3h-1.3zM134.5 144.3h1.3v1.3h-1.3zM130.2 141.1h1.3v1.3h-1.3zM132.1 148.7h1.3v1.3h-1.3zM132.2 148.2h1.3v1.3h-1.3zM147.4 137.8h1.3v1.3h-1.3zM157.4 136.1h1.3v1.3h-1.3zM150.0 141.6h1.3v1.3h-1.3zM138.5 127.7h1.3v1.3h-1.3zM137.3 133.3h1.3v1.3h-1.3zM132.4 144.1h1.3v1.3h-1.3zM147.2 132.4h1.3v1.3h-1.3zM137.0 129.4h1.3v1.3h-1.3zM155.9 132.5h1.3v1.3h-1.3zM137.4 134.9h1.3v1.3h-1.3zM153.0 148.1h1.3v1.3h-1.3zM144.0 140.2h1.3v1.3h-1.3zM124.9 149.3h1.3v1.3h-1.3zM124.4 135.5h1.3v1.3h-1.3zM135.6 144.8h1.3v1.3h-1.3zM147.1 134.9h1.3v1.3h-1.3zM156.0 150.7h1.3v1.3h-1.3zM121.9 142.5h1.3v1.3h-1.3zM139.3 135.4h1.3v1.3h-1.3zM139.1 134.2h1.3v1.3h-1.3zM147.2 141.7h1.3v1.3h-1.3zM159.7 136.3h1.3v1.3h-1.3zM153.3 142.9h1.3v1.3h-1.3zM123.6 138.0h1.3v1.3h-1.3zM136.7 143.1h1.3v1.3h-1.3zM129.2 135.6h1.3v1.3h-1.3zM126.6 136.3h1.3v1.3h-1.3zM149.9 128.2h1.3v1.3h-1.3zM127.5 142.9h1.3v1.3h-1.3zM167.2 125.7h1.3v1.3h-1.3zM172.2 120.9h1.3v1.3h-1.3zM152.9 135.1h1.3v1.3h-1.3zM178.4 122.4h1.3v1.3h-1.3zM149.0 138.8h1.3v1.3h-1.3zM167.7 131.1h1.3v1.3h-1.3zM157.1 132.0h1.3v1.3h-1.3zM166.4 128.8h1.3v1.3h-1.3zM163.1 132.6h1.3v1.3h-1.3zM156.1 133.3h1.3v1.3h-1.3zM153.2 134.3h1.3v1.3h-1.3zM163.2 128.9h1.3v1.3h-1.3zM177.0 129.0h1.3v1.3h-1.3zM162.0 130.4h1.3v1.3h-1.3zM176.3 123.4h1.3v1.3h-1.3zM152.6 140.2h1.3v1.3h-1.3zM170.2 124.5h1.3v1.3h-1.3zM165.7 128.9h1.3v1.3h-1.3zM161.3 131.4h1.3v1.3h-1.3zM175.9 124.8h1.3v1.3h-1.3zM152.1 136.8h1.3v1.3h-1.3zM174.5 125.4h1.3v1.3h-1.3zM172.2 123.4h1.3v1.3h-1.3zM161.0 128.1h1.3v1.3h-1.3zM159.7 134.0h1.3v1.3h-1.3zM155.5 134.5h1.3v1.3h-1.3zM161.7 131.2h1.3v1.3h-1.3zM166.4 131.1h1.3v1.3h-1.3zM149.0 135.5h1.3v1.3h-1.3zM161.1 131.5h1.3v1.3h-1.3zM159.1 133.3h1.3v1.3h-1.3zM156.3 130.7h1.3v1.3h-1.3zM145.5 140.0h1.3v1.3h-1.3zM145.5 133.8h1.3v1.3h-1.3zM158.2 129.8h1.3v1.3h-1.3zM155.9 130.2h1.3v1.3h-1.3zM155.9 131.9h1.3v1.3h-1.3zM171.9 125.8h1.3v1.3h-1.3zM156.4 136.8h1.3v1.3h-1.3zM163.1 128.4h1.3v1.3h-1.3zM157.4 131.5h1.3v1.3h-1.3zM178.5 120.5h1.3v1.3h-1.3zM160.3 128.3h1.3v1.3h-1.3zM171.3 128.4h1.3v1.3h-1.3zM149.3 134.2h1.3v1.3h-1.3zM175.6 122.7h1.3v1.3h-1.3zM176.2 120.0h1.3v1.3h-1.3zM150.0 134.6h1.3v1.3h-1.3zM173.8 126.1h1.3v1.3h-1.3zM152.5 133.4h1.3v1.3h-1.3zM169.2 127.2h1.3v1.3h-1.3zM163.4 131.3h1.3v1.3h-1.3zM171.4 126.2h1.3v1.3h-1.3zM171.9 122.0h1.3v1.3h-1.3zM154.5 136.4h1.3v1.3h-1.3zM177.4 79.2h1.3v1.3h-1.3zM159.8 79.1h1.3v1.3h-1.3zM184.8 85.4h1.3v1.3h-1.3zM173.4 79.2h1.3v1.3h-1.3zM169.7 76.0h1.3v1.3h-1.3zM182.7 83.8h1.3v1.3h-1.3zM160.0 76.4h1.3v1.3h-1.3zM168.2 79.9h1.3v1.3h-1.3zM170.6 79.2h1.3v1.3h-1.3zM174.6 77.1h1.3v1.3h-1.3zM165.0 80.5h1.3v1.3h-1.3zM165.6 75.3h1.3v1.3h-1.3zM169.5 79.3h1.3v1.3h-1.3zM167.0 74.7h1.3v1.3h-1.3zM166.6 76.8h1.3v1.3h-1.3zM179.1 82.4h1.3v1.3h-1.3zM163.6 75.8h1.3v1.3h-1.3zM166.2 76.6h1.3v1.3h-1.3zM173.1 78.7h1.3v1.3h-1.3zM170.7 83.4h1.3v1.3h-1.3zM178.8 79.4h1.3v1.3h-1.3zM179.3 82.7h1.3v1.3h-1.3zM170.8 78.1h1.3v1.3h-1.3zM172.8 77.5h1.3v1.3h-1.3zM181.8 78.9h1.3v1.3h-1.3zM183.1 79.3h1.3v1.3h-1.3zM180.7 78.9h1.3v1.3h-1.3zM167.8 77.6h1.3v1.3h-1.3zM163.6 79.3h1.3v1.3h-1.3zM158.4 77.8h1.3v1.3h-1.3zM164.5 80.6h1.3v1.3h-1.3zM184.6 86.3h1.3v1.3h-1.3zM178.0 78.8h1.3v1.3h-1.3zM173.2 79.6h1.3v1.3h-1.3zM183.1 79.2h1.3v1.3h-1.3zM161.2 76.7h1.3v1.3h-1.3zM179.4 84.1h1.3v1.3h-1.3zM191.1 105.2h1.3v1.3h-1.3zM186.8 93.2h1.3v1.3h-1.3zM178.4 121.1h1.3v1.3h-1.3zM182.2 121.9h1.3v1.3h-1.3zM182.8 89.9h1.3v1.3h-1.3zM184.1 120.9h1.3v1.3h-1.3zM181.1 89.1h1.3v1.3h-1.3zM175.6 119.7h1.3v1.3h-1.3zM185.1 117.5h1.3v1.3h-1.3zM193.5 108.7h1.3v1.3h-1.3zM188.8 98.5h1.3v1.3h-1.3zM187.3 115.8h1.3v1.3h-1.3zM177.5 89.2h1.3v1.3h-1.3zM176.5 122.0h1.3v1.3h-1.3zM186.9 98.4h1.3v1.3h-1.3zM182.7 121.0h1.3v1.3h-1.3zM181.8 118.4h1.3v1.3h-1.3zM174.8 87.6h1.3v1.3h-1.3zM188.0 112.8h1.3v1.3h-1.3zM180.8 122.4h1.3v1.3h-1.3zM178.6 122.2h1.3v1.3h-1.3zM182.4 119.9h1.3v1.3h-1.3zM178.6 85.7h1.3v1.3h-1.3zM190.3 105.2h1.3v1.3h-1.3zM185.4 118.3h1.3v1.3h-1.3zM188.3 117.4h1.3v1.3h-1.3zM190.5 102.1h1.3v1.3h-1.3zM176.8 86.1h1.3v1.3h-1.3zM190.7 109.5h1.3v1.3h-1.3zM188.9 114.2h1.3v1.3h-1.3zM181.9 121.1h1.3v1.3h-1.3zM184.0 94.7h1.3v1.3h-1.3zM189.4 99.9h1.3v1.3h-1.3zM185.7 94.4h1.3v1.3h-1.3zM182.2 121.2h1.3v1.3h-1.3zM187.0 98.6h1.3v1.3h-1.3zM190.6 111.9h1.3v1.3h-1.3zM179.7 87.8h1.3v1.3h-1.3zM181.5 95.3h1.3v1.3h-1.3zM188.2 101.9h1.3v1.3h-1.3zM204.5 92.4h1.3v1.3h-1.3zM163.5 110.5h1.3v1.3h-1.3zM194.6 90.2h1.3v1.3h-1.3zM194.9 92.1h1.3v1.3h-1.3zM170.8 101.7h1.3v1.3h-1.3zM192.6 96.4h1.3v1.3h-1.3zM196.3 75.6h1.3v1.3h-1.3zM181.0 92.1h1.3v1.3h-1.3zM160.1 116.2h1.3v1.3h-1.3zM163.9 84.3h1.3v1.3h-1.3zM199.2 118.2h1.3v1.3h-1.3zM201.7 90.4h1.3v1.3h-1.3zM153.3 102.8h1.3v1.3h-1.3zM147.9 118.9h1.3v1.3h-1.3zM134.8 102.7h1.3v1.3h-1.3zM147.0 117.7h1.3v1.3h-1.3zM148.2 119.0h1.3v1.3h-1.3zM141.3 107.4h1.3v1.3h-1.3zM162.4 129.6h1.3v1.3h-1.3zM192.7 124.0h1.3v1.3h-1.3zM164.8 131.7h1.3v1.3h-1.3zM159.8 130.6h1.3v1.3h-1.3zM164.8 125.4h1.3v1.3h-1.3zM177.5 137.1h1.3v1.3h-1.3zM179.0 143.3h1.3v1.3h-1.3zM177.5 148.5h1.3v1.3h-1.3zM161.0 128.2h1.3v1.3h-1.3zM160.8 130.7h1.3v1.3h-1.3zM278.5 118.2h1.3v1.3h-1.3zM230.9 140.8h1.3v1.3h-1.3zM245.2 124.2h1.3v1.3h-1.3zM248.6 125.1h1.3v1.3h-1.3zM257.7 137.2h1.3v1.3h-1.3zM294.6 112.8h1.3v1.3h-1.3zM252.1 131.6h1.3v1.3h-1.3zM233.8 133.9h1.3v1.3h-1.3zM224.6 146.8h1.3v1.3h-1.3zM254.6 124.8h1.3v1.3h-1.3zM237.8 136.4h1.3v1.3h-1.3zM224.6 144.9h1.3v1.3h-1.3zM242.9 132.5h1.3v1.3h-1.3zM239.6 138.8h1.3v1.3h-1.3zM258.6 128.0h1.3v1.3h-1.3zM250.3 136.2h1.3v1.3h-1.3zM244.8 132.1h1.3v1.3h-1.3zM284.7 119.2h1.3v1.3h-1.3zM288.5 113.7h1.3v1.3h-1.3zM272.6 126.1h1.3v1.3h-1.3zM235.8 135.8h1.3v1.3h-1.3zM227.5 135.3h1.3v1.3h-1.3zM252.9 126.5h1.3v1.3h-1.3zM257.8 127.8h1.3v1.3h-1.3zM256.2 132.9h1.3v1.3h-1.3zM264.4 124.5h1.3v1.3h-1.3zM251.7 128.8h1.3v1.3h-1.3zM287.4 116.0h1.3v1.3h-1.3zM228.7 136.2h1.3v1.3h-1.3zM279.9 114.9h1.3v1.3h-1.3zM280.0 114.6h1.3v1.3h-1.3zM264.7 125.1h1.3v1.3h-1.3zM254.0 135.3h1.3v1.3h-1.3zM255.9 130.0h1.3v1.3h-1.3zM240.3 129.7h1.3v1.3h-1.3zM293.4 109.1h1.3v1.3h-1.3zM275.5 112.4h1.3v1.3h-1.3zM280.3 124.5h1.3v1.3h-1.3zM243.5 141.3h1.3v1.3h-1.3zM270.6 113.9h1.3v1.3h-1.3zM284.9 112.6h1.3v1.3h-1.3zM276.3 129.5h1.3v1.3h-1.3zM280.9 118.1h1.3v1.3h-1.3zM270.7 111.8h1.3v1.3h-1.3zM269.4 128.6h1.3v1.3h-1.3zM230.2 134.9h1.3v1.3h-1.3zM279.6 115.9h1.3v1.3h-1.3zM283.7 110.0h1.3v1.3h-1.3zM248.5 132.0h1.3v1.3h-1.3zM233.9 134.2h1.3v1.3h-1.3zM268.3 118.0h1.3v1.3h-1.3zM256.9 130.3h1.3v1.3h-1.3zM231.8 131.6h1.3v1.3h-1.3zM282.3 120.4h1.3v1.3h-1.3zM282.1 123.0h1.3v1.3h-1.3zM271.2 123.1h1.3v1.3h-1.3zM244.6 136.9h1.3v1.3h-1.3zM263.1 130.0h1.3v1.3h-1.3zM253.5 128.1h1.3v1.3h-1.3zM240.9 139.0h1.3v1.3h-1.3zM238.2 135.9h1.3v1.3h-1.3zM222.9 143.1h1.3v1.3h-1.3zM284.4 110.1h1.3v1.3h-1.3zM250.9 134.8h1.3v1.3h-1.3zM290.1 115.2h1.3v1.3h-1.3zM270.0 117.9h1.3v1.3h-1.3zM273.8 120.9h1.3v1.3h-1.3zM227.6 131.3h1.3v1.3h-1.3zM261.1 133.0h1.3v1.3h-1.3zM228.6 143.2h1.3v1.3h-1.3zM240.0 128.3h1.3v1.3h-1.3zM244.9 127.7h1.3v1.3h-1.3zM267.3 122.9h1.3v1.3h-1.3zM284.2 115.8h1.3v1.3h-1.3zM239.5 130.4h1.3v1.3h-1.3zM226.7 139.7h1.3v1.3h-1.3zM269.3 123.6h1.3v1.3h-1.3zM268.5 121.9h1.3v1.3h-1.3zM272.1 122.6h1.3v1.3h-1.3zM256.5 129.0h1.3v1.3h-1.3zM247.8 131.5h1.3v1.3h-1.3zM289.5 109.4h1.3v1.3h-1.3zM258.8 135.0h1.3v1.3h-1.3zM229.5 140.2h1.3v1.3h-1.3zM277.7 115.9h1.3v1.3h-1.3zM252.1 129.2h1.3v1.3h-1.3zM275.6 115.2h1.3v1.3h-1.3zM244.0 133.3h1.3v1.3h-1.3zM241.5 130.4h1.3v1.3h-1.3zM243.8 129.3h1.3v1.3h-1.3zM258.0 126.1h1.3v1.3h-1.3zM256.3 125.6h1.3v1.3h-1.3zM271.9 122.3h1.3v1.3h-1.3zM271.7 126.3h1.3v1.3h-1.3zM283.8 108.5h1.3v1.3h-1.3zM251.0 127.8h1.3v1.3h-1.3zM265.6 117.4h1.3v1.3h-1.3zM245.8 131.7h1.3v1.3h-1.3zM251.5 127.7h1.3v1.3h-1.3zM265.4 128.3h1.3v1.3h-1.3zM292.2 118.8h1.3v1.3h-1.3zM275.9 120.3h1.3v1.3h-1.3zM271.8 115.7h1.3v1.3h-1.3zM262.3 131.5h1.3v1.3h-1.3zM251.0 123.4h1.3v1.3h-1.3zM232.1 134.2h1.3v1.3h-1.3zM275.1 120.3h1.3v1.3h-1.3zM257.4 125.4h1.3v1.3h-1.3zM228.3 131.1h1.3v1.3h-1.3zM266.5 129.5h1.3v1.3h-1.3zM254.5 134.3h1.3v1.3h-1.3zM243.4 127.2h1.3v1.3h-1.3zM264.9 125.1h1.3v1.3h-1.3zM277.3 121.6h1.3v1.3h-1.3zM267.5 116.0h1.3v1.3h-1.3zM248.2 134.8h1.3v1.3h-1.3zM263.0 127.6h1.3v1.3h-1.3zM269.5 125.9h1.3v1.3h-1.3zM284.4 114.8h1.3v1.3h-1.3zM235.5 137.3h1.3v1.3h-1.3zM276.6 116.1h1.3v1.3h-1.3zM255.9 127.6h1.3v1.3h-1.3zM280.0 116.0h1.3v1.3h-1.3zM269.8 118.8h1.3v1.3h-1.3zM283.0 119.7h1.3v1.3h-1.3zM237.8 135.4h1.3v1.3h-1.3zM253.6 119.4h1.3v1.3h-1.3zM238.4 140.1h1.3v1.3h-1.3zM235.7 136.2h1.3v1.3h-1.3zM246.7 132.7h1.3v1.3h-1.3zM283.6 112.3h1.3v1.3h-1.3zM246.2 129.6h1.3v1.3h-1.3zM284.3 113.6h1.3v1.3h-1.3zM248.3 137.5h1.3v1.3h-1.3zM224.8 138.5h1.3v1.3h-1.3zM275.3 115.8h1.3v1.3h-1.3zM231.9 139.4h1.3v1.3h-1.3zM283.2 107.4h1.3v1.3h-1.3zM227.0 139.8h1.3v1.3h-1.3zM271.7 124.7h1.3v1.3h-1.3zM267.3 120.1h1.3v1.3h-1.3zM253.6 133.5h1.3v1.3h-1.3zM245.2 134.1h1.3v1.3h-1.3zM242.4 134.2h1.3v1.3h-1.3zM241.4 131.5h1.3v1.3h-1.3zM232.2 134.6h1.3v1.3h-1.3zM254.9 134.7h1.3v1.3h-1.3zM270.4 116.7h1.3v1.3h-1.3zM266.3 122.3h1.3v1.3h-1.3zM245.3 131.1h1.3v1.3h-1.3zM252.7 126.0h1.3v1.3h-1.3zM283.3 115.9h1.3v1.3h-1.3zM249.4 134.6h1.3v1.3h-1.3zM264.7 126.8h1.3v1.3h-1.3zM284.4 111.4h1.3v1.3h-1.3zM269.9 118.3h1.3v1.3h-1.3zM242.9 128.6h1.3v1.3h-1.3zM295.4 107.9h1.3v1.3h-1.3zM227.4 148.6h1.3v1.3h-1.3zM256.9 126.6h1.3v1.3h-1.3zM270.3 115.1h1.3v1.3h-1.3zM227.8 139.0h1.3v1.3h-1.3zM228.4 140.3h1.3v1.3h-1.3zM221.8 134.8h1.3v1.3h-1.3zM252.9 125.1h1.3v1.3h-1.3zM264.5 129.3h1.3v1.3h-1.3zM282.5 112.6h1.3v1.3h-1.3zM250.2 128.7h1.3v1.3h-1.3zM261.8 125.4h1.3v1.3h-1.3zM236.0 133.1h1.3v1.3h-1.3zM227.3 135.8h1.3v1.3h-1.3zM285.8 112.0h1.3v1.3h-1.3zM265.8 130.6h1.3v1.3h-1.3zM272.3 120.1h1.3v1.3h-1.3zM225.0 138.2h1.3v1.3h-1.3zM238.2 136.0h1.3v1.3h-1.3zM258.2 128.0h1.3v1.3h-1.3zM241.2 132.3h1.3v1.3h-1.3zM259.9 118.5h1.3v1.3h-1.3zM221.8 138.5h1.3v1.3h-1.3zM278.6 123.5h1.3v1.3h-1.3zM225.4 136.3h1.3v1.3h-1.3zM237.3 142.7h1.3v1.3h-1.3zM271.0 123.8h1.3v1.3h-1.3zM236.8 141.5h1.3v1.3h-1.3zM275.9 121.3h1.3v1.3h-1.3zM261.4 128.1h1.3v1.3h-1.3zM260.4 129.8h1.3v1.3h-1.3zM247.8 131.1h1.3v1.3h-1.3zM227.4 139.9h1.3v1.3h-1.3zM248.0 136.5h1.3v1.3h-1.3zM286.3 118.1h1.3v1.3h-1.3zM257.4 123.5h1.3v1.3h-1.3zM240.8 140.1h1.3v1.3h-1.3zM228.1 138.2h1.3v1.3h-1.3zM228.4 137.3h1.3v1.3h-1.3zM265.0 118.5h1.3v1.3h-1.3zM278.5 123.5h1.3v1.3h-1.3zM232.8 137.9h1.3v1.3h-1.3zM226.5 137.8h1.3v1.3h-1.3zM234.7 140.7h1.3v1.3h-1.3zM264.8 124.6h1.3v1.3h-1.3zM229.3 140.3h1.3v1.3h-1.3zM231.4 142.9h1.3v1.3h-1.3zM235.9 140.4h1.3v1.3h-1.3zM251.1 135.3h1.3v1.3h-1.3zM254.4 130.5h1.3v1.3h-1.3zM223.0 138.4h1.3v1.3h-1.3zM253.0 132.9h1.3v1.3h-1.3zM259.5 128.4h1.3v1.3h-1.3zM288.5 115.9h1.3v1.3h-1.3zM267.2 125.8h1.3v1.3h-1.3zM287.0 115.3h1.3v1.3h-1.3zM242.5 127.2h1.3v1.3h-1.3zM272.6 121.0h1.3v1.3h-1.3zM253.3 126.2h1.3v1.3h-1.3zM235.7 137.2h1.3v1.3h-1.3zM278.2 119.9h1.3v1.3h-1.3zM291.1 109.8h1.3v1.3h-1.3zM289.8 115.2h1.3v1.3h-1.3zM269.5 122.9h1.3v1.3h-1.3zM248.6 130.1h1.3v1.3h-1.3zM280.7 121.3h1.3v1.3h-1.3zM239.4 138.2h1.3v1.3h-1.3zM228.6 138.2h1.3v1.3h-1.3zM288.9 114.9h1.3v1.3h-1.3zM272.7 128.7h1.3v1.3h-1.3zM232.8 134.6h1.3v1.3h-1.3zM222.3 141.0h1.3v1.3h-1.3zM243.2 143.6h1.3v1.3h-1.3zM271.6 126.3h1.3v1.3h-1.3zM232.5 135.6h1.3v1.3h-1.3zM284.3 115.0h1.3v1.3h-1.3zM241.8 134.8h1.3v1.3h-1.3zM268.1 122.0h1.3v1.3h-1.3zM234.5 127.7h1.3v1.3h-1.3zM234.6 134.2h1.3v1.3h-1.3zM222.5 141.2h1.3v1.3h-1.3zM267.8 118.7h1.3v1.3h-1.3zM289.5 112.8h1.3v1.3h-1.3zM262.7 120.5h1.3v1.3h-1.3zM252.0 135.0h1.3v1.3h-1.3zM223.9 141.2h1.3v1.3h-1.3zM237.3 138.4h1.3v1.3h-1.3zM225.6 133.5h1.3v1.3h-1.3zM250.1 136.0h1.3v1.3h-1.3zM275.9 118.1h1.3v1.3h-1.3zM266.1 121.6h1.3v1.3h-1.3zM287.0 118.0h1.3v1.3h-1.3zM265.5 124.2h1.3v1.3h-1.3zM254.9 133.6h1.3v1.3h-1.3zM256.4 127.7h1.3v1.3h-1.3zM226.9 134.1h1.3v1.3h-1.3zM290.2 108.5h1.3v1.3h-1.3zM247.4 129.1h1.3v1.3h-1.3zM253.3 129.1h1.3v1.3h-1.3zM246.6 131.5h1.3v1.3h-1.3zM293.5 112.1h1.3v1.3h-1.3zM226.6 137.0h1.3v1.3h-1.3zM228.0 139.3h1.3v1.3h-1.3zM272.1 121.1h1.3v1.3h-1.3zM249.7 130.1h1.3v1.3h-1.3zM225.9 138.0h1.3v1.3h-1.3zM236.2 143.2h1.3v1.3h-1.3zM278.9 122.6h1.3v1.3h-1.3zM232.3 137.0h1.3v1.3h-1.3zM228.5 138.4h1.3v1.3h-1.3zM232.3 135.4h1.3v1.3h-1.3zM222.2 136.7h1.3v1.3h-1.3zM284.3 112.4h1.3v1.3h-1.3zM221.9 137.3h1.3v1.3h-1.3zM245.2 132.1h1.3v1.3h-1.3zM274.0 127.5h1.3v1.3h-1.3zM284.4 110.8h1.3v1.3h-1.3zM277.5 117.6h1.3v1.3h-1.3zM222.9 139.9h1.3v1.3h-1.3zM267.0 124.5h1.3v1.3h-1.3zM236.4 133.5h1.3v1.3h-1.3zM233.5 130.4h1.3v1.3h-1.3zM240.7 135.1h1.3v1.3h-1.3zM270.7 121.6h1.3v1.3h-1.3zM231.9 144.3h1.3v1.3h-1.3zM254.6 125.5h1.3v1.3h-1.3zM252.3 140.4h1.3v1.3h-1.3zM268.1 129.0h1.3v1.3h-1.3zM259.0 121.2h1.3v1.3h-1.3zM271.2 118.2h1.3v1.3h-1.3zM248.5 128.0h1.3v1.3h-1.3zM247.3 134.5h1.3v1.3h-1.3zM242.5 137.7h1.3v1.3h-1.3zM274.1 112.5h1.3v1.3h-1.3zM247.4 129.2h1.3v1.3h-1.3zM249.3 136.8h1.3v1.3h-1.3zM283.8 117.3h1.3v1.3h-1.3zM233.4 141.9h1.3v1.3h-1.3zM285.5 116.5h1.3v1.3h-1.3zM275.7 127.5h1.3v1.3h-1.3zM244.4 132.5h1.3v1.3h-1.3zM239.8 134.9h1.3v1.3h-1.3zM277.6 122.1h1.3v1.3h-1.3zM276.3 120.7h1.3v1.3h-1.3zM236.0 140.8h1.3v1.3h-1.3zM268.0 125.4h1.3v1.3h-1.3zM263.3 126.1h1.3v1.3h-1.3zM245.7 138.0h1.3v1.3h-1.3zM253.6 128.5h1.3v1.3h-1.3zM266.7 130.6h1.3v1.3h-1.3zM226.7 138.0h1.3v1.3h-1.3zM226.7 139.6h1.3v1.3h-1.3zM282.7 107.7h1.3v1.3h-1.3zM287.5 107.5h1.3v1.3h-1.3zM256.0 123.6h1.3v1.3h-1.3zM229.3 136.1h1.3v1.3h-1.3zM256.8 122.3h1.3v1.3h-1.3zM263.4 119.6h1.3v1.3h-1.3zM229.1 139.4h1.3v1.3h-1.3zM236.2 135.9h1.3v1.3h-1.3zM248.2 130.9h1.3v1.3h-1.3zM242.1 130.6h1.3v1.3h-1.3zM280.2 116.8h1.3v1.3h-1.3zM266.5 130.9h1.3v1.3h-1.3zM226.2 145.3h1.3v1.3h-1.3zM261.3 122.2h1.3v1.3h-1.3zM259.5 131.4h1.3v1.3h-1.3zM239.2 132.8h1.3v1.3h-1.3zM233.0 141.5h1.3v1.3h-1.3zM273.2 125.9h1.3v1.3h-1.3zM277.9 118.8h1.3v1.3h-1.3zM281.1 117.4h1.3v1.3h-1.3zM277.9 112.6h1.3v1.3h-1.3zM238.1 137.0h1.3v1.3h-1.3zM244.5 130.3h1.3v1.3h-1.3zM257.5 131.3h1.3v1.3h-1.3zM235.4 130.1h1.3v1.3h-1.3zM272.0 121.1h1.3v1.3h-1.3zM252.0 131.9h1.3v1.3h-1.3zM268.8 119.4h1.3v1.3h-1.3zM262.2 127.1h1.3v1.3h-1.3zM248.6 132.0h1.3v1.3h-1.3zM282.7 117.8h1.3v1.3h-1.3zM247.1 133.5h1.3v1.3h-1.3zM265.0 122.5h1.3v1.3h-1.3zM234.8 136.7h1.3v1.3h-1.3zM275.7 125.7h1.3v1.3h-1.3zM278.6 120.2h1.3v1.3h-1.3zM244.8 127.1h1.3v1.3h-1.3zM240.0 134.3h1.3v1.3h-1.3zM255.8 126.2h1.3v1.3h-1.3zM282.2 115.9h1.3v1.3h-1.3zM289.4 111.7h1.3v1.3h-1.3zM291.4 117.5h1.3v1.3h-1.3zM229.2 141.4h1.3v1.3h-1.3zM278.7 115.0h1.3v1.3h-1.3zM286.3 111.7h1.3v1.3h-1.3zM224.9 142.6h1.3v1.3h-1.3zM255.9 128.7h1.3v1.3h-1.3zM280.9 119.1h1.3v1.3h-1.3zM271.3 123.2h1.3v1.3h-1.3zM229.9 140.5h1.3v1.3h-1.3zM256.4 129.5h1.3v1.3h-1.3zM247.7 134.1h1.3v1.3h-1.3zM242.0 132.7h1.3v1.3h-1.3zM243.7 135.0h1.3v1.3h-1.3zM243.5 134.0h1.3v1.3h-1.3zM263.0 129.6h1.3v1.3h-1.3zM243.1 133.4h1.3v1.3h-1.3zM228.8 144.1h1.3v1.3h-1.3zM257.5 126.6h1.3v1.3h-1.3zM267.7 120.3h1.3v1.3h-1.3zM284.0 113.7h1.3v1.3h-1.3zM264.5 123.9h1.3v1.3h-1.3zM255.8 124.8h1.3v1.3h-1.3zM286.6 118.4h1.3v1.3h-1.3zM258.5 120.1h1.3v1.3h-1.3zM222.0 140.2h1.3v1.3h-1.3zM289.1 117.0h1.3v1.3h-1.3zM232.1 133.0h1.3v1.3h-1.3zM270.4 127.9h1.3v1.3h-1.3zM223.4 146.6h1.3v1.3h-1.3zM282.7 112.8h1.3v1.3h-1.3zM226.2 133.2h1.3v1.3h-1.3zM230.3 137.6h1.3v1.3h-1.3zM235.6 132.7h1.3v1.3h-1.3zM227.9 138.6h1.3v1.3h-1.3zM271.2 125.0h1.3v1.3h-1.3zM247.0 131.3h1.3v1.3h-1.3zM271.3 122.2h1.3v1.3h-1.3zM285.3 112.3h1.3v1.3h-1.3zM234.1 135.9h1.3v1.3h-1.3zM257.7 134.0h1.3v1.3h-1.3zM245.4 133.2h1.3v1.3h-1.3zM235.8 128.6h1.3v1.3h-1.3zM225.1 142.6h1.3v1.3h-1.3zM278.6 117.5h1.3v1.3h-1.3zM238.5 136.3h1.3v1.3h-1.3zM265.8 122.5h1.3v1.3h-1.3zM272.3 119.8h1.3v1.3h-1.3zM257.0 124.7h1.3v1.3h-1.3zM272.3 131.6h1.3v1.3h-1.3zM238.1 144.5h1.3v1.3h-1.3zM293.0 109.8h1.3v1.3h-1.3zM282.3 112.6h1.3v1.3h-1.3zM226.4 132.2h1.3v1.3h-1.3zM280.9 117.6h1.3v1.3h-1.3zM265.0 121.7h1.3v1.3h-1.3zM284.3 113.1h1.3v1.3h-1.3zM267.0 119.9h1.3v1.3h-1.3zM273.5 127.1h1.3v1.3h-1.3zM273.5 117.5h1.3v1.3h-1.3zM231.1 137.2h1.3v1.3h-1.3zM260.5 126.9h1.3v1.3h-1.3zM250.0 133.6h1.3v1.3h-1.3zM232.7 138.0h1.3v1.3h-1.3zM284.1 113.7h1.3v1.3h-1.3zM247.2 128.4h1.3v1.3h-1.3zM236.4 129.5h1.3v1.3h-1.3zM232.5 142.8h1.3v1.3h-1.3zM251.3 136.8h1.3v1.3h-1.3zM252.3 135.8h1.3v1.3h-1.3zM250.6 128.7h1.3v1.3h-1.3zM223.7 134.6h1.3v1.3h-1.3zM255.7 129.2h1.3v1.3h-1.3zM249.1 133.4h1.3v1.3h-1.3zM251.7 133.7h1.3v1.3h-1.3zM225.1 131.9h1.3v1.3h-1.3zM230.8 135.5h1.3v1.3h-1.3zM256.8 131.8h1.3v1.3h-1.3zM221.7 135.5h1.3v1.3h-1.3zM242.3 118.1h1.3v1.3h-1.3zM236.8 137.9h1.3v1.3h-1.3zM233.7 143.0h1.3v1.3h-1.3zM248.0 133.8h1.3v1.3h-1.3zM235.6 146.5h1.3v1.3h-1.3zM245.0 137.8h1.3v1.3h-1.3zM233.9 140.0h1.3v1.3h-1.3zM229.4 136.0h1.3v1.3h-1.3zM240.9 131.1h1.3v1.3h-1.3zM244.5 134.5h1.3v1.3h-1.3zM231.0 138.3h1.3v1.3h-1.3zM246.4 135.0h1.3v1.3h-1.3zM244.6 132.1h1.3v1.3h-1.3zM225.8 141.1h1.3v1.3h-1.3zM236.8 144.5h1.3v1.3h-1.3zM246.5 136.7h1.3v1.3h-1.3zM234.0 148.6h1.3v1.3h-1.3zM239.9 127.5h1.3v1.3h-1.3zM221.4 135.3h1.3v1.3h-1.3zM237.8 135.1h1.3v1.3h-1.3zM249.3 140.7h1.3v1.3h-1.3zM254.1 117.5h1.3v1.3h-1.3zM238.9 133.4h1.3v1.3h-1.3zM225.2 137.4h1.3v1.3h-1.3zM233.7 136.3h1.3v1.3h-1.3zM249.7 132.2h1.3v1.3h-1.3zM235.1 139.3h1.3v1.3h-1.3zM234.2 134.2h1.3v1.3h-1.3zM239.7 141.3h1.3v1.3h-1.3zM231.1 135.8h1.3v1.3h-1.3zM226.9 129.4h1.3v1.3h-1.3zM258.9 130.2h1.3v1.3h-1.3zM244.7 132.9h1.3v1.3h-1.3zM239.9 134.2h1.3v1.3h-1.3zM234.5 136.9h1.3v1.3h-1.3zM257.8 139.5h1.3v1.3h-1.3zM249.1 140.3h1.3v1.3h-1.3zM237.5 137.1h1.3v1.3h-1.3zM238.9 134.7h1.3v1.3h-1.3zM252.0 125.9h1.3v1.3h-1.3zM227.1 140.3h1.3v1.3h-1.3zM253.3 134.1h1.3v1.3h-1.3zM249.9 135.3h1.3v1.3h-1.3zM251.4 129.1h1.3v1.3h-1.3zM249.9 139.7h1.3v1.3h-1.3zM235.3 132.8h1.3v1.3h-1.3zM239.8 128.9h1.3v1.3h-1.3zM227.5 143.7h1.3v1.3h-1.3zM236.7 142.1h1.3v1.3h-1.3zM245.1 131.5h1.3v1.3h-1.3zM239.3 131.1h1.3v1.3h-1.3zM238.2 137.2h1.3v1.3h-1.3zM254.3 130.0h1.3v1.3h-1.3zM251.2 132.2h1.3v1.3h-1.3zM243.5 136.7h1.3v1.3h-1.3zM251.1 135.6h1.3v1.3h-1.3zM235.9 141.7h1.3v1.3h-1.3zM239.0 139.9h1.3v1.3h-1.3zM249.5 134.9h1.3v1.3h-1.3zM229.6 142.1h1.3v1.3h-1.3zM246.3 133.1h1.3v1.3h-1.3zM243.7 129.0h1.3v1.3h-1.3zM240.0 137.3h1.3v1.3h-1.3zM222.3 134.1h1.3v1.3h-1.3zM252.8 135.5h1.3v1.3h-1.3zM239.7 145.3h1.3v1.3h-1.3zM246.0 126.5h1.3v1.3h-1.3zM238.2 140.3h1.3v1.3h-1.3zM259.8 128.0h1.3v1.3h-1.3zM249.1 130.4h1.3v1.3h-1.3zM247.1 136.1h1.3v1.3h-1.3zM241.1 134.9h1.3v1.3h-1.3zM237.2 138.9h1.3v1.3h-1.3zM244.8 131.3h1.3v1.3h-1.3zM246.2 137.3h1.3v1.3h-1.3zM241.1 142.0h1.3v1.3h-1.3zM227.1 134.5h1.3v1.3h-1.3zM248.2 138.1h1.3v1.3h-1.3zM248.1 136.2h1.3v1.3h-1.3zM240.8 132.0h1.3v1.3h-1.3zM241.3 132.1h1.3v1.3h-1.3zM224.1 147.5h1.3v1.3h-1.3zM250.7 133.5h1.3v1.3h-1.3zM222.6 139.4h1.3v1.3h-1.3zM252.6 129.9h1.3v1.3h-1.3zM239.1 140.5h1.3v1.3h-1.3zM229.9 139.9h1.3v1.3h-1.3zM233.9 137.4h1.3v1.3h-1.3zM234.4 132.4h1.3v1.3h-1.3zM242.8 136.5h1.3v1.3h-1.3zM255.9 127.3h1.3v1.3h-1.3zM245.3 130.9h1.3v1.3h-1.3zM244.1 134.9h1.3v1.3h-1.3zM234.4 124.4h1.3v1.3h-1.3zM238.2 137.4h1.3v1.3h-1.3zM240.9 137.9h1.3v1.3h-1.3zM242.5 128.2h1.3v1.3h-1.3zM233.1 138.8h1.3v1.3h-1.3zM234.6 135.5h1.3v1.3h-1.3zM247.0 140.2h1.3v1.3h-1.3zM226.9 132.1h1.3v1.3h-1.3zM240.5 133.5h1.3v1.3h-1.3zM236.1 140.6h1.3v1.3h-1.3zM235.6 137.8h1.3v1.3h-1.3zM248.2 127.5h1.3v1.3h-1.3zM242.2 129.5h1.3v1.3h-1.3zM254.2 126.5h1.3v1.3h-1.3zM246.6 125.2h1.3v1.3h-1.3zM240.0 141.7h1.3v1.3h-1.3zM253.9 135.8h1.3v1.3h-1.3zM235.4 143.7h1.3v1.3h-1.3zM255.6 120.5h1.3v1.3h-1.3zM238.9 124.7h1.3v1.3h-1.3zM245.1 132.8h1.3v1.3h-1.3zM235.3 136.4h1.3v1.3h-1.3zM227.0 127.4h1.3v1.3h-1.3zM232.4 138.5h1.3v1.3h-1.3zM234.7 137.1h1.3v1.3h-1.3zM234.0 138.7h1.3v1.3h-1.3zM222.0 147.0h1.3v1.3h-1.3zM236.7 126.0h1.3v1.3h-1.3zM227.6 141.7h1.3v1.3h-1.3zM254.6 135.6h1.3v1.3h-1.3zM228.7 137.2h1.3v1.3h-1.3zM244.8 140.1h1.3v1.3h-1.3zM242.7 136.8h1.3v1.3h-1.3zM247.2 137.2h1.3v1.3h-1.3zM250.2 141.7h1.3v1.3h-1.3zM222.5 134.1h1.3v1.3h-1.3zM232.4 137.5h1.3v1.3h-1.3zM234.8 148.9h1.3v1.3h-1.3zM225.6 136.4h1.3v1.3h-1.3zM235.9 136.3h1.3v1.3h-1.3zM241.3 141.9h1.3v1.3h-1.3zM251.4 121.5h1.3v1.3h-1.3zM231.5 136.5h1.3v1.3h-1.3zM250.2 135.6h1.3v1.3h-1.3zM239.8 140.3h1.3v1.3h-1.3zM240.4 136.4h1.3v1.3h-1.3zM245.1 123.9h1.3v1.3h-1.3zM239.0 137.5h1.3v1.3h-1.3zM231.3 136.9h1.3v1.3h-1.3zM221.4 133.4h1.3v1.3h-1.3zM237.9 132.3h1.3v1.3h-1.3zM231.5 135.9h1.3v1.3h-1.3zM238.5 132.4h1.3v1.3h-1.3zM248.3 127.6h1.3v1.3h-1.3zM245.2 131.5h1.3v1.3h-1.3zM250.7 131.1h1.3v1.3h-1.3zM237.3 145.6h1.3v1.3h-1.3zM236.2 140.2h1.3v1.3h-1.3zM251.3 135.1h1.3v1.3h-1.3zM238.2 139.6h1.3v1.3h-1.3zM238.9 133.6h1.3v1.3h-1.3zM238.2 132.3h1.3v1.3h-1.3zM247.0 124.7h1.3v1.3h-1.3zM251.5 132.1h1.3v1.3h-1.3zM250.8 130.0h1.3v1.3h-1.3zM230.3 136.7h1.3v1.3h-1.3zM228.6 144.9h1.3v1.3h-1.3zM238.3 145.2h1.3v1.3h-1.3zM248.5 126.9h1.3v1.3h-1.3zM238.4 138.3h1.3v1.3h-1.3zM230.8 143.7h1.3v1.3h-1.3zM245.2 128.9h1.3v1.3h-1.3zM224.4 140.1h1.3v1.3h-1.3zM223.8 138.3h1.3v1.3h-1.3zM226.1 137.9h1.3v1.3h-1.3zM238.5 139.8h1.3v1.3h-1.3zM245.9 133.1h1.3v1.3h-1.3zM227.2 137.0h1.3v1.3h-1.3zM232.0 139.8h1.3v1.3h-1.3zM239.0 134.3h1.3v1.3h-1.3zM239.1 141.3h1.3v1.3h-1.3zM239.9 140.1h1.3v1.3h-1.3zM248.7 137.3h1.3v1.3h-1.3zM244.8 142.4h1.3v1.3h-1.3zM226.7 135.5h1.3v1.3h-1.3zM224.3 142.0h1.3v1.3h-1.3zM234.8 144.1h1.3v1.3h-1.3zM235.4 134.0h1.3v1.3h-1.3zM236.6 129.7h1.3v1.3h-1.3zM251.7 131.7h1.3v1.3h-1.3zM221.7 138.8h1.3v1.3h-1.3zM235.7 143.1h1.3v1.3h-1.3zM223.2 145.2h1.3v1.3h-1.3zM236.8 133.7h1.3v1.3h-1.3zM265.2 124.4h1.3v1.3h-1.3zM230.9 135.1h1.3v1.3h-1.3zM239.6 137.1h1.3v1.3h-1.3zM224.6 135.9h1.3v1.3h-1.3zM225.0 134.1h1.3v1.3h-1.3zM222.8 145.2h1.3v1.3h-1.3zM226.7 135.3h1.3v1.3h-1.3zM223.8 138.6h1.3v1.3h-1.3zM233.9 137.3h1.3v1.3h-1.3zM230.9 131.0h1.3v1.3h-1.3zM232.0 139.2h1.3v1.3h-1.3zM228.6 139.4h1.3v1.3h-1.3zM248.6 144.4h1.3v1.3h-1.3zM245.0 143.2h1.3v1.3h-1.3zM243.8 141.4h1.3v1.3h-1.3zM242.3 135.7h1.3v1.3h-1.3zM238.7 136.3h1.3v1.3h-1.3zM259.7 128.9h1.3v1.3h-1.3zM224.5 143.6h1.3v1.3h-1.3zM232.2 139.6h1.3v1.3h-1.3zM231.3 143.9h1.3v1.3h-1.3zM241.4 133.9h1.3v1.3h-1.3zM227.0 138.6h1.3v1.3h-1.3zM221.2 138.5h1.3v1.3h-1.3zM230.8 136.1h1.3v1.3h-1.3zM251.0 131.0h1.3v1.3h-1.3zM236.3 144.7h1.3v1.3h-1.3zM240.1 135.1h1.3v1.3h-1.3zM231.1 133.6h1.3v1.3h-1.3zM236.6 140.7h1.3v1.3h-1.3zM239.2 142.8h1.3v1.3h-1.3zM226.0 144.2h1.3v1.3h-1.3zM236.2 145.5h1.3v1.3h-1.3zM240.5 132.3h1.3v1.3h-1.3zM250.4 132.3h1.3v1.3h-1.3zM234.1 142.0h1.3v1.3h-1.3zM235.5 131.7h1.3v1.3h-1.3zM234.9 133.8h1.3v1.3h-1.3zM243.0 132.0h1.3v1.3h-1.3zM245.4 130.3h1.3v1.3h-1.3zM227.3 144.6h1.3v1.3h-1.3zM225.5 139.6h1.3v1.3h-1.3zM237.8 134.5h1.3v1.3h-1.3zM239.8 136.4h1.3v1.3h-1.3zM255.5 135.4h1.3v1.3h-1.3zM237.6 138.5h1.3v1.3h-1.3zM243.2 141.5h1.3v1.3h-1.3zM239.1 135.7h1.3v1.3h-1.3zM238.8 137.6h1.3v1.3h-1.3zM246.2 136.3h1.3v1.3h-1.3zM226.3 131.3h1.3v1.3h-1.3zM234.6 134.2h1.3v1.3h-1.3zM230.1 144.1h1.3v1.3h-1.3zM255.5 140.3h1.3v1.3h-1.3zM231.4 139.4h1.3v1.3h-1.3zM236.0 145.2h1.3v1.3h-1.3zM244.2 137.5h1.3v1.3h-1.3zM242.5 142.0h1.3v1.3h-1.3zM235.3 133.9h1.3v1.3h-1.3zM233.0 131.3h1.3v1.3h-1.3zM238.2 117.8h1.3v1.3h-1.3zM226.5 142.3h1.3v1.3h-1.3zM239.9 138.7h1.3v1.3h-1.3zM235.2 135.7h1.3v1.3h-1.3zM242.1 136.3h1.3v1.3h-1.3zM231.6 137.9h1.3v1.3h-1.3zM236.6 147.3h1.3v1.3h-1.3zM232.7 139.6h1.3v1.3h-1.3zM224.1 124.1h1.3v1.3h-1.3zM230.2 134.9h1.3v1.3h-1.3zM222.9 139.3h1.3v1.3h-1.3zM247.2 125.6h1.3v1.3h-1.3zM238.2 147.0h1.3v1.3h-1.3zM242.2 137.6h1.3v1.3h-1.3zM231.6 138.7h1.3v1.3h-1.3zM230.4 137.4h1.3v1.3h-1.3zM248.0 131.9h1.3v1.3h-1.3zM247.6 121.4h1.3v1.3h-1.3zM221.6 144.7h1.3v1.3h-1.3zM227.9 140.2h1.3v1.3h-1.3zM248.4 139.9h1.3v1.3h-1.3zM251.5 128.9h1.3v1.3h-1.3zM233.0 144.9h1.3v1.3h-1.3zM231.8 143.3h1.3v1.3h-1.3zM238.2 136.3h1.3v1.3h-1.3zM226.1 141.3h1.3v1.3h-1.3zM247.8 141.7h1.3v1.3h-1.3zM237.8 143.0h1.3v1.3h-1.3zM238.2 144.8h1.3v1.3h-1.3zM224.2 144.7h1.3v1.3h-1.3zM222.4 146.2h1.3v1.3h-1.3zM233.5 137.4h1.3v1.3h-1.3zM230.4 139.5h1.3v1.3h-1.3zM221.7 143.0h1.3v1.3h-1.3zM245.8 141.5h1.3v1.3h-1.3zM243.2 138.3h1.3v1.3h-1.3zM239.6 137.5h1.3v1.3h-1.3zM259.6 122.4h1.3v1.3h-1.3zM236.9 138.0h1.3v1.3h-1.3zM236.5 128.9h1.3v1.3h-1.3zM254.4 135.0h1.3v1.3h-1.3zM244.6 136.8h1.3v1.3h-1.3zM241.1 126.4h1.3v1.3h-1.3zM239.2 143.5h1.3v1.3h-1.3zM242.2 128.3h1.3v1.3h-1.3zM231.7 138.3h1.3v1.3h-1.3zM243.9 136.8h1.3v1.3h-1.3zM224.7 139.7h1.3v1.3h-1.3zM224.2 143.1h1.3v1.3h-1.3zM224.7 137.6h1.3v1.3h-1.3zM221.7 147.7h1.3v1.3h-1.3zM256.7 130.6h1.3v1.3h-1.3zM240.1 127.6h1.3v1.3h-1.3zM230.9 137.7h1.3v1.3h-1.3zM249.8 138.7h1.3v1.3h-1.3zM238.2 144.9h1.3v1.3h-1.3zM225.0 138.4h1.3v1.3h-1.3zM231.3 140.8h1.3v1.3h-1.3zM232.9 147.0h1.3v1.3h-1.3zM244.6 131.7h1.3v1.3h-1.3zM233.8 144.1h1.3v1.3h-1.3zM225.2 144.3h1.3v1.3h-1.3zM238.6 126.9h1.3v1.3h-1.3zM243.8 126.6h1.3v1.3h-1.3zM248.7 132.7h1.3v1.3h-1.3zM224.3 143.8h1.3v1.3h-1.3zM230.7 149.2h1.3v1.3h-1.3zM226.9 143.9h1.3v1.3h-1.3zM228.6 139.1h1.3v1.3h-1.3zM246.1 135.0h1.3v1.3h-1.3zM252.1 142.4h1.3v1.3h-1.3zM255.4 130.1h1.3v1.3h-1.3zM237.6 138.2h1.3v1.3h-1.3zM240.8 134.7h1.3v1.3h-1.3zM229.4 129.9h1.3v1.3h-1.3zM241.1 132.9h1.3v1.3h-1.3zM233.5 138.2h1.3v1.3h-1.3zM229.5 144.2h1.3v1.3h-1.3zM241.4 131.6h1.3v1.3h-1.3zM235.2 135.0h1.3v1.3h-1.3zM237.9 139.1h1.3v1.3h-1.3zM226.4 136.6h1.3v1.3h-1.3zM235.6 131.8h1.3v1.3h-1.3zM252.8 129.1h1.3v1.3h-1.3zM241.6 140.3h1.3v1.3h-1.3zM225.2 138.3h1.3v1.3h-1.3zM252.5 130.3h1.3v1.3h-1.3zM261.0 134.3h1.3v1.3h-1.3zM231.4 139.7h1.3v1.3h-1.3zM239.1 128.5h1.3v1.3h-1.3zM245.7 128.9h1.3v1.3h-1.3zM237.6 143.7h1.3v1.3h-1.3zM228.9 140.8h1.3v1.3h-1.3zM233.0 136.9h1.3v1.3h-1.3zM237.9 139.9h1.3v1.3h-1.3zM250.0 134.7h1.3v1.3h-1.3zM237.2 131.4h1.3v1.3h-1.3zM249.2 129.1h1.3v1.3h-1.3zM287.7 101.2h1.3v1.3h-1.3zM288.2 100.7h1.3v1.3h-1.3zM290.8 83.4h1.3v1.3h-1.3zM292.0 94.7h1.3v1.3h-1.3zM285.3 104.9h1.3v1.3h-1.3zM284.0 109.2h1.3v1.3h-1.3zM287.2 94.4h1.3v1.3h-1.3zM294.5 99.4h1.3v1.3h-1.3zM294.0 86.1h1.3v1.3h-1.3zM287.5 88.5h1.3v1.3h-1.3zM282.5 113.3h1.3v1.3h-1.3zM295.0 95.3h1.3v1.3h-1.3zM281.0 112.7h1.3v1.3h-1.3zM289.5 87.2h1.3v1.3h-1.3zM289.9 98.5h1.3v1.3h-1.3zM291.0 100.0h1.3v1.3h-1.3zM282.9 113.3h1.3v1.3h-1.3zM287.0 107.2h1.3v1.3h-1.3zM290.8 93.1h1.3v1.3h-1.3zM285.9 99.4h1.3v1.3h-1.3zM289.0 91.6h1.3v1.3h-1.3zM285.7 114.2h1.3v1.3h-1.3zM285.0 109.4h1.3v1.3h-1.3zM278.4 111.3h1.3v1.3h-1.3zM290.0 111.5h1.3v1.3h-1.3zM287.2 113.8h1.3v1.3h-1.3zM287.3 100.3h1.3v1.3h-1.3zM287.7 98.4h1.3v1.3h-1.3zM285.7 93.4h1.3v1.3h-1.3zM280.9 111.7h1.3v1.3h-1.3zM292.5 112.2h1.3v1.3h-1.3zM295.9 85.8h1.3v1.3h-1.3zM286.8 89.4h1.3v1.3h-1.3zM283.0 105.1h1.3v1.3h-1.3zM292.4 94.1h1.3v1.3h-1.3zM285.2 105.7h1.3v1.3h-1.3zM287.1 100.5h1.3v1.3h-1.3zM286.1 104.7h1.3v1.3h-1.3zM293.2 113.3h1.3v1.3h-1.3zM283.1 85.3h1.3v1.3h-1.3zM287.7 95.9h1.3v1.3h-1.3zM284.7 98.0h1.3v1.3h-1.3zM286.5 98.4h1.3v1.3h-1.3zM282.0 107.2h1.3v1.3h-1.3zM290.7 98.6h1.3v1.3h-1.3zM291.9 95.7h1.3v1.3h-1.3zM287.6 80.5h1.3v1.3h-1.3zM293.7 90.0h1.3v1.3h-1.3zM287.2 100.7h1.3v1.3h-1.3zM287.2 103.8h1.3v1.3h-1.3zM292.7 88.6h1.3v1.3h-1.3zM294.2 95.4h1.3v1.3h-1.3zM288.4 83.4h1.3v1.3h-1.3zM286.3 99.4h1.3v1.3h-1.3zM286.7 103.2h1.3v1.3h-1.3zM279.4 107.5h1.3v1.3h-1.3zM293.0 102.0h1.3v1.3h-1.3zM281.6 107.5h1.3v1.3h-1.3zM285.1 110.4h1.3v1.3h-1.3zM290.2 109.4h1.3v1.3h-1.3zM289.4 102.3h1.3v1.3h-1.3zM279.7 102.9h1.3v1.3h-1.3zM283.7 95.5h1.3v1.3h-1.3zM289.6 92.8h1.3v1.3h-1.3zM290.0 87.1h1.3v1.3h-1.3zM284.8 107.4h1.3v1.3h-1.3zM286.9 86.5h1.3v1.3h-1.3zM280.8 115.1h1.3v1.3h-1.3zM288.4 110.6h1.3v1.3h-1.3zM289.2 86.5h1.3v1.3h-1.3zM288.1 104.9h1.3v1.3h-1.3zM291.3 98.3h1.3v1.3h-1.3zM285.5 115.4h1.3v1.3h-1.3zM293.7 85.7h1.3v1.3h-1.3zM290.3 89.0h1.3v1.3h-1.3zM290.2 103.4h1.3v1.3h-1.3zM290.0 86.1h1.3v1.3h-1.3zM286.2 86.3h1.3v1.3h-1.3zM280.7 90.9h1.3v1.3h-1.3zM283.0 101.3h1.3v1.3h-1.3zM283.4 85.8h1.3v1.3h-1.3zM291.9 100.8h1.3v1.3h-1.3zM291.4 103.8h1.3v1.3h-1.3zM293.4 93.9h1.3v1.3h-1.3zM290.1 89.9h1.3v1.3h-1.3zM287.2 94.6h1.3v1.3h-1.3zM282.5 109.4h1.3v1.3h-1.3zM288.0 98.1h1.3v1.3h-1.3zM290.6 83.5h1.3v1.3h-1.3zM293.1 91.3h1.3v1.3h-1.3zM275.4 87.8h1.3v1.3h-1.3zM295.3 83.8h1.3v1.3h-1.3zM250.8 94.4h1.3v1.3h-1.3zM252.8 76.2h1.3v1.3h-1.3zM283.3 101.0h1.3v1.3h-1.3zM279.8 78.0h1.3v1.3h-1.3zM280.8 97.5h1.3v1.3h-1.3zM266.7 84.6h1.3v1.3h-1.3zM258.6 95.8h1.3v1.3h-1.3zM270.2 100.2h1.3v1.3h-1.3zM287.1 86.9h1.3v1.3h-1.3zM283.4 86.1h1.3v1.3h-1.3zM291.0 83.8h1.3v1.3h-1.3zM282.7 106.7h1.3v1.3h-1.3zM294.0 97.8h1.3v1.3h-1.3zM300.2 117.4h1.3v1.3h-1.3zM293.6 90.4h1.3v1.3h-1.3zM264.7 101.9h1.3v1.3h-1.3zM257.1 82.6h1.3v1.3h-1.3zM255.2 103.0h1.3v1.3h-1.3zM248.9 117.0h1.3v1.3h-1.3zM253.1 111.9h1.3v1.3h-1.3zM248.4 109.2h1.3v1.3h-1.3zM245.5 106.4h1.3v1.3h-1.3zM253.7 108.9h1.3v1.3h-1.3zM225.6 149.6h1.3v1.3h-1.3zM253.5 145.0h1.3v1.3h-1.3zM259.0 149.3h1.3v1.3h-1.3zM231.0 138.4h1.3v1.3h-1.3zM273.5 128.5h1.3v1.3h-1.3zM293.8 135.4h1.3v1.3h-1.3zM275.8 129.7h1.3v1.3h-1.3zM230.9 129.9h1.3v1.3h-1.3zM284.2 148.7h1.3v1.3h-1.3zM293.7 139.7h1.3v1.3h-1.3zM231.8 145.1h1.3v1.3h-1.3zM263.0 145.2h1.3v1.3h-1.3zM272.6 140.5h1.3v1.3h-1.3zM237.8 131.1h1.3v1.3h-1.3zM231.1 137.5h1.3v1.3h-1.3zM246.7 149.0h1.3v1.3h-1.3zM228.7 144.7h1.3v1.3h-1.3zM234.0 130.3h1.3v1.3h-1.3zM294.2 132.8h1.3v1.3h-1.3zM269.6 140.9h1.3v1.3h-1.3zM254.9 135.7h1.3v1.3h-1.3zM235.5 143.3h1.3v1.3h-1.3zM252.9 141.2h1.3v1.3h-1.3zM286.4 129.7h1.3v1.3h-1.3zM256.8 135.8h1.3v1.3h-1.3zM294.9 141.7h1.3v1.3h-1.3zM239.8 138.1h1.3v1.3h-1.3zM226.1 139.3h1.3v1.3h-1.3zM230.2 131.0h1.3v1.3h-1.3zM263.1 139.8h1.3v1.3h-1.3zM343.3 138.0h1.3v1.3h-1.3zM336.6 139.6h1.3v1.3h-1.3zM354.6 133.6h1.3v1.3h-1.3zM336.6 134.4h1.3v1.3h-1.3zM338.3 139.0h1.3v1.3h-1.3zM354.7 136.2h1.3v1.3h-1.3zM342.4 137.0h1.3v1.3h-1.3zM348.4 134.0h1.3v1.3h-1.3zM345.7 131.7h1.3v1.3h-1.3zM345.1 137.1h1.3v1.3h-1.3zM338.3 131.6h1.3v1.3h-1.3zM343.0 138.3h1.3v1.3h-1.3zM341.1 134.0h1.3v1.3h-1.3zM335.8 125.9h1.3v1.3h-1.3zM346.1 124.6h1.3v1.3h-1.3zM342.5 136.3h1.3v1.3h-1.3zM332.6 130.8h1.3v1.3h-1.3zM334.3 130.2h1.3v1.3h-1.3zM341.6 136.0h1.3v1.3h-1.3zM343.2 133.4h1.3v1.3h-1.3zM338.2 132.5h1.3v1.3h-1.3zM354.5 123.7h1.3v1.3h-1.3zM352.8 139.9h1.3v1.3h-1.3zM340.4 132.8h1.3v1.3h-1.3zM335.7 136.4h1.3v1.3h-1.3zM340.0 134.6h1.3v1.3h-1.3zM341.1 133.8h1.3v1.3h-1.3zM332.9 135.7h1.3v1.3h-1.3zM343.0 142.1h1.3v1.3h-1.3zM347.7 128.8h1.3v1.3h-1.3zM343.2 129.0h1.3v1.3h-1.3zM341.2 125.7h1.3v1.3h-1.3zM333.6 139.5h1.3v1.3h-1.3zM338.3 135.5h1.3v1.3h-1.3zM337.8 134.5h1.3v1.3h-1.3zM339.9 130.1h1.3v1.3h-1.3zM327.4 135.1h1.3v1.3h-1.3zM327.6 129.6h1.3v1.3h-1.3zM339.3 126.9h1.3v1.3h-1.3zM340.3 126.7h1.3v1.3h-1.3zM349.8 129.0h1.3v1.3h-1.3zM336.0 129.3h1.3v1.3h-1.3zM323.5 133.4h1.3v1.3h-1.3zM339.5 135.8h1.3v1.3h-1.3zM334.5 133.9h1.3v1.3h-1.3zM338.6 127.6h1.3v1.3h-1.3zM346.1 132.3h1.3v1.3h-1.3zM335.5 130.9h1.3v1.3h-1.3zM337.4 129.3h1.3v1.3h-1.3zM349.8 135.8h1.3v1.3h-1.3zM344.2 132.2h1.3v1.3h-1.3zM333.3 130.3h1.3v1.3h-1.3zM334.2 130.8h1.3v1.3h-1.3zM346.6 129.0h1.3v1.3h-1.3zM345.3 126.7h1.3v1.3h-1.3zM350.0 117.9h1.3v1.3h-1.3zM345.7 133.6h1.3v1.3h-1.3zM342.6 140.4h1.3v1.3h-1.3zM345.8 130.9h1.3v1.3h-1.3zM325.3 136.0h1.3v1.3h-1.3zM339.3 127.8h1.3v1.3h-1.3zM354.3 125.2h1.3v1.3h-1.3zM357.4 136.5h1.3v1.3h-1.3zM338.3 138.9h1.3v1.3h-1.3zM341.1 129.5h1.3v1.3h-1.3zM335.4 142.3h1.3v1.3h-1.3zM346.3 121.2h1.3v1.3h-1.3zM349.8 135.0h1.3v1.3h-1.3zM339.8 122.8h1.3v1.3h-1.3zM340.1 129.8h1.3v1.3h-1.3zM344.7 134.0h1.3v1.3h-1.3zM340.4 138.5h1.3v1.3h-1.3zM339.1 135.4h1.3v1.3h-1.3zM350.8 134.9h1.3v1.3h-1.3zM342.5 130.8h1.3v1.3h-1.3zM335.0 137.8h1.3v1.3h-1.3zM341.6 132.1h1.3v1.3h-1.3zM350.0 126.6h1.3v1.3h-1.3zM340.4 129.3h1.3v1.3h-1.3zM323.2 136.1h1.3v1.3h-1.3zM343.9 133.2h1.3v1.3h-1.3zM329.2 126.8h1.3v1.3h-1.3zM343.9 134.8h1.3v1.3h-1.3zM328.2 136.7h1.3v1.3h-1.3zM330.9 132.1h1.3v1.3h-1.3zM345.7 133.2h1.3v1.3h-1.3zM330.7 131.1h1.3v1.3h-1.3zM343.7 133.6h1.3v1.3h-1.3zM337.9 137.4h1.3v1.3h-1.3zM338.7 135.5h1.3v1.3h-1.3zM350.7 134.3h1.3v1.3h-1.3zM351.2 129.8h1.3v1.3h-1.3zM344.4 131.5h1.3v1.3h-1.3zM335.7 131.1h1.3v1.3h-1.3zM346.8 127.6h1.3v1.3h-1.3zM328.4 128.7h1.3v1.3h-1.3zM344.9 131.8h1.3v1.3h-1.3zM338.1 134.1h1.3v1.3h-1.3zM336.0 132.6h1.3v1.3h-1.3zM338.8 129.6h1.3v1.3h-1.3zM356.7 131.2h1.3v1.3h-1.3zM345.2 134.8h1.3v1.3h-1.3zM338.4 133.2h1.3v1.3h-1.3zM342.7 126.2h1.3v1.3h-1.3zM348.7 135.8h1.3v1.3h-1.3zM347.4 135.8h1.3v1.3h-1.3zM346.1 134.1h1.3v1.3h-1.3zM332.1 135.9h1.3v1.3h-1.3zM331.3 126.6h1.3v1.3h-1.3zM337.4 136.8h1.3v1.3h-1.3zM344.1 139.1h1.3v1.3h-1.3zM337.5 135.6h1.3v1.3h-1.3zM343.8 136.7h1.3v1.3h-1.3zM345.2 128.6h1.3v1.3h-1.3zM344.3 128.2h1.3v1.3h-1.3zM336.0 132.2h1.3v1.3h-1.3zM330.9 138.1h1.3v1.3h-1.3zM348.1 134.3h1.3v1.3h-1.3zM340.9 136.5h1.3v1.3h-1.3zM338.4 135.7h1.3v1.3h-1.3zM339.1 132.7h1.3v1.3h-1.3zM341.4 136.2h1.3v1.3h-1.3zM347.0 139.3h1.3v1.3h-1.3zM334.9 125.9h1.3v1.3h-1.3zM344.2 134.5h1.3v1.3h-1.3zM337.5 138.1h1.3v1.3h-1.3zM348.2 125.1h1.3v1.3h-1.3zM341.9 132.3h1.3v1.3h-1.3zM347.7 132.7h1.3v1.3h-1.3zM340.2 133.3h1.3v1.3h-1.3zM338.7 135.1h1.3v1.3h-1.3zM344.6 130.4h1.3v1.3h-1.3zM339.1 135.6h1.3v1.3h-1.3zM343.1 131.0h1.3v1.3h-1.3zM336.1 134.8h1.3v1.3h-1.3zM341.6 146.4h1.3v1.3h-1.3zM338.3 126.8h1.3v1.3h-1.3zM328.3 143.9h1.3v1.3h-1.3zM351.4 130.2h1.3v1.3h-1.3zM341.3 134.3h1.3v1.3h-1.3zM332.7 132.9h1.3v1.3h-1.3zM358.5 119.2h1.3v1.3h-1.3zM343.3 129.8h1.3v1.3h-1.3zM351.3 131.0h1.3v1.3h-1.3zM346.0 133.0h1.3v1.3h-1.3zM353.9 129.2h1.3v1.3h-1.3zM340.3 127.0h1.3v1.3h-1.3zM358.4 131.9h1.3v1.3h-1.3zM337.2 140.4h1.3v1.3h-1.3zM332.6 133.0h1.3v1.3h-1.3zM324.4 133.8h1.3v1.3h-1.3zM344.8 128.9h1.3v1.3h-1.3zM343.8 130.5h1.3v1.3h-1.3zM337.1 136.5h1.3v1.3h-1.3zM348.3 133.2h1.3v1.3h-1.3zM360.7 130.3h1.3v1.3h-1.3zM344.5 128.2h1.3v1.3h-1.3zM346.4 133.5h1.3v1.3h-1.3zM341.9 129.4h1.3v1.3h-1.3zM347.6 134.5h1.3v1.3h-1.3zM337.6 132.5h1.3v1.3h-1.3zM334.2 137.7h1.3v1.3h-1.3zM340.7 128.8h1.3v1.3h-1.3zM346.8 132.0h1.3v1.3h-1.3zM341.0 131.3h1.3v1.3h-1.3zM349.1 129.2h1.3v1.3h-1.3zM347.4 138.9h1.3v1.3h-1.3zM343.9 131.1h1.3v1.3h-1.3zM355.0 123.9h1.3v1.3h-1.3zM332.8 140.0h1.3v1.3h-1.3zM339.2 128.0h1.3v1.3h-1.3zM336.1 136.1h1.3v1.3h-1.3zM346.3 125.6h1.3v1.3h-1.3zM343.7 132.1h1.3v1.3h-1.3zM330.4 131.7h1.3v1.3h-1.3zM341.3 133.8h1.3v1.3h-1.3zM351.3 127.0h1.3v1.3h-1.3zM339.4 129.6h1.3v1.3h-1.3zM328.3 137.7h1.3v1.3h-1.3zM351.0 135.3h1.3v1.3h-1.3zM338.8 128.8h1.3v1.3h-1.3zM351.1 129.8h1.3v1.3h-1.3zM344.7 130.6h1.3v1.3h-1.3zM335.8 135.6h1.3v1.3h-1.3zM328.4 134.9h1.3v1.3h-1.3zM357.4 130.1h1.3v1.3h-1.3zM353.3 122.2h1.3v1.3h-1.3zM339.7 126.4h1.3v1.3h-1.3zM347.5 134.4h1.3v1.3h-1.3zM337.5 133.6h1.3v1.3h-1.3zM346.9 129.8h1.3v1.3h-1.3zM341.1 134.7h1.3v1.3h-1.3zM334.4 133.1h1.3v1.3h-1.3zM351.1 129.7h1.3v1.3h-1.3zM337.0 134.6h1.3v1.3h-1.3zM351.9 133.4h1.3v1.3h-1.3zM334.3 130.8h1.3v1.3h-1.3zM333.3 133.9h1.3v1.3h-1.3zM343.1 131.9h1.3v1.3h-1.3zM342.6 140.1h1.3v1.3h-1.3zM338.3 136.8h1.3v1.3h-1.3zM335.3 135.3h1.3v1.3h-1.3zM341.2 131.1h1.3v1.3h-1.3zM329.8 132.3h1.3v1.3h-1.3zM334.3 139.6h1.3v1.3h-1.3zM334.6 138.5h1.3v1.3h-1.3zM346.2 134.4h1.3v1.3h-1.3zM331.4 132.2h1.3v1.3h-1.3zM339.0 133.5h1.3v1.3h-1.3zM326.4 133.1h1.3v1.3h-1.3zM340.3 135.9h1.3v1.3h-1.3zM337.0 131.5h1.3v1.3h-1.3zM343.4 133.6h1.3v1.3h-1.3zM330.0 128.5h1.3v1.3h-1.3zM342.3 127.3h1.3v1.3h-1.3zM351.3 125.8h1.3v1.3h-1.3zM340.1 137.2h1.3v1.3h-1.3zM358.7 128.8h1.3v1.3h-1.3zM334.3 129.4h1.3v1.3h-1.3zM339.2 134.8h1.3v1.3h-1.3zM338.4 136.0h1.3v1.3h-1.3zM333.6 129.6h1.3v1.3h-1.3zM329.7 128.0h1.3v1.3h-1.3zM346.1 132.3h1.3v1.3h-1.3zM346.8 134.5h1.3v1.3h-1.3zM348.2 129.6h1.3v1.3h-1.3zM342.5 130.3h1.3v1.3h-1.3zM332.8 140.1h1.3v1.3h-1.3zM337.7 140.0h1.3v1.3h-1.3zM332.1 130.7h1.3v1.3h-1.3zM348.0 132.7h1.3v1.3h-1.3zM348.2 131.6h1.3v1.3h-1.3zM335.9 149.4h1.3v1.3h-1.3zM331.2 131.0h1.3v1.3h-1.3zM330.6 135.1h1.3v1.3h-1.3zM336.4 135.8h1.3v1.3h-1.3zM339.6 136.1h1.3v1.3h-1.3zM339.9 131.5h1.3v1.3h-1.3zM347.6 135.4h1.3v1.3h-1.3zM354.1 130.7h1.3v1.3h-1.3zM335.0 127.9h1.3v1.3h-1.3zM343.4 137.4h1.3v1.3h-1.3zM350.0 132.3h1.3v1.3h-1.3zM344.6 132.9h1.3v1.3h-1.3zM346.0 134.9h1.3v1.3h-1.3zM335.8 134.2h1.3v1.3h-1.3zM344.4 133.5h1.3v1.3h-1.3zM361.7 126.3h1.3v1.3h-1.3zM344.5 131.3h1.3v1.3h-1.3zM345.6 140.5h1.3v1.3h-1.3zM345.2 132.6h1.3v1.3h-1.3zM329.5 126.0h1.3v1.3h-1.3zM353.9 127.5h1.3v1.3h-1.3zM336.0 139.9h1.3v1.3h-1.3zM355.8 127.4h1.3v1.3h-1.3zM353.5 129.9h1.3v1.3h-1.3zM343.7 126.3h1.3v1.3h-1.3zM332.3 136.8h1.3v1.3h-1.3zM349.8 129.4h1.3v1.3h-1.3zM349.1 132.6h1.3v1.3h-1.3zM349.1 127.1h1.3v1.3h-1.3zM323.6 136.6h1.3v1.3h-1.3zM341.2 130.0h1.3v1.3h-1.3zM336.5 125.6h1.3v1.3h-1.3zM358.6 130.9h1.3v1.3h-1.3zM327.8 138.3h1.3v1.3h-1.3zM347.6 132.3h1.3v1.3h-1.3zM339.3 136.0h1.3v1.3h-1.3zM333.7 127.8h1.3v1.3h-1.3zM331.3 127.0h1.3v1.3h-1.3zM345.7 134.6h1.3v1.3h-1.3zM330.2 138.8h1.3v1.3h-1.3zM339.3 120.5h1.3v1.3h-1.3zM347.4 128.4h1.3v1.3h-1.3zM340.1 125.5h1.3v1.3h-1.3zM329.8 133.8h1.3v1.3h-1.3zM349.6 125.5h1.3v1.3h-1.3zM342.0 133.7h1.3v1.3h-1.3zM337.3 126.1h1.3v1.3h-1.3zM346.4 139.8h1.3v1.3h-1.3zM341.2 130.5h1.3v1.3h-1.3zM347.2 137.2h1.3v1.3h-1.3zM337.8 131.7h1.3v1.3h-1.3zM345.4 130.8h1.3v1.3h-1.3zM350.1 123.0h1.3v1.3h-1.3zM349.5 136.2h1.3v1.3h-1.3zM325.1 132.4h1.3v1.3h-1.3zM333.7 135.5h1.3v1.3h-1.3zM342.5 140.8h1.3v1.3h-1.3zM334.0 142.3h1.3v1.3h-1.3zM356.3 132.7h1.3v1.3h-1.3zM352.9 132.1h1.3v1.3h-1.3zM347.3 131.0h1.3v1.3h-1.3zM334.5 131.6h1.3v1.3h-1.3zM354.2 134.3h1.3v1.3h-1.3zM327.5 135.2h1.3v1.3h-1.3zM345.4 132.9h1.3v1.3h-1.3zM342.7 140.4h1.3v1.3h-1.3zM342.6 132.9h1.3v1.3h-1.3zM335.7 136.6h1.3v1.3h-1.3zM349.5 125.0h1.3v1.3h-1.3zM341.8 139.7h1.3v1.3h-1.3zM333.0 139.7h1.3v1.3h-1.3zM339.5 131.9h1.3v1.3h-1.3zM333.3 134.9h1.3v1.3h-1.3zM331.8 135.7h1.3v1.3h-1.3zM338.2 129.5h1.3v1.3h-1.3zM327.0 134.0h1.3v1.3h-1.3zM338.9 130.8h1.3v1.3h-1.3zM344.9 135.0h1.3v1.3h-1.3zM348.1 130.7h1.3v1.3h-1.3zM355.1 123.6h1.3v1.3h-1.3zM338.7 129.5h1.3v1.3h-1.3zM340.7 128.1h1.3v1.3h-1.3zM349.5 130.3h1.3v1.3h-1.3zM333.5 129.3h1.3v1.3h-1.3zM337.8 131.6h1.3v1.3h-1.3zM333.8 132.2h1.3v1.3h-1.3zM335.5 127.3h1.3v1.3h-1.3zM343.0 136.6h1.3v1.3h-1.3zM340.2 143.7h1.3v1.3h-1.3zM332.8 134.4h1.3v1.3h-1.3zM353.8 129.6h1.3v1.3h-1.3zM346.6 128.4h1.3v1.3h-1.3zM346.1 135.1h1.3v1.3h-1.3zM347.6 134.2h1.3v1.3h-1.3zM332.8 135.6h1.3v1.3h-1.3zM350.2 131.0h1.3v1.3h-1.3zM343.4 134.9h1.3v1.3h-1.3zM337.1 129.0h1.3v1.3h-1.3zM333.6 136.7h1.3v1.3h-1.3zM331.5 137.7h1.3v1.3h-1.3zM339.0 132.6h1.3v1.3h-1.3zM335.3 133.9h1.3v1.3h-1.3zM333.7 131.7h1.3v1.3h-1.3zM342.3 122.1h1.3v1.3h-1.3zM340.5 127.3h1.3v1.3h-1.3zM337.3 133.4h1.3v1.3h-1.3zM340.4 130.4h1.3v1.3h-1.3zM333.8 137.8h1.3v1.3h-1.3zM339.6 141.5h1.3v1.3h-1.3zM349.3 132.5h1.3v1.3h-1.3zM336.7 138.5h1.3v1.3h-1.3zM335.0 129.4h1.3v1.3h-1.3zM348.5 130.3h1.3v1.3h-1.3zM332.4 139.3h1.3v1.3h-1.3zM335.4 132.7h1.3v1.3h-1.3zM345.7 130.9h1.3v1.3h-1.3zM349.3 134.2h1.3v1.3h-1.3zM353.5 126.9h1.3v1.3h-1.3zM345.2 127.2h1.3v1.3h-1.3zM334.8 133.6h1.3v1.3h-1.3zM345.1 136.3h1.3v1.3h-1.3zM345.8 127.7h1.3v1.3h-1.3zM354.4 130.2h1.3v1.3h-1.3zM331.3 132.9h1.3v1.3h-1.3zM326.8 139.5h1.3v1.3h-1.3zM343.3 130.4h1.3v1.3h-1.3zM350.2 128.1h1.3v1.3h-1.3zM333.1 139.4h1.3v1.3h-1.3zM330.8 137.5h1.3v1.3h-1.3zM330.4 134.3h1.3v1.3h-1.3zM354.9 126.8h1.3v1.3h-1.3zM333.6 134.6h1.3v1.3h-1.3zM338.6 127.3h1.3v1.3h-1.3zM348.4 134.7h1.3v1.3h-1.3zM339.0 139.2h1.3v1.3h-1.3zM344.1 135.6h1.3v1.3h-1.3zM340.9 136.4h1.3v1.3h-1.3zM327.3 131.6h1.3v1.3h-1.3zM334.2 129.3h1.3v1.3h-1.3zM341.5 128.8h1.3v1.3h-1.3zM331.2 137.0h1.3v1.3h-1.3zM344.4 139.2h1.3v1.3h-1.3zM354.6 127.0h1.3v1.3h-1.3zM356.3 134.5h1.3v1.3h-1.3zM341.6 135.1h1.3v1.3h-1.3zM335.9 131.2h1.3v1.3h-1.3zM345.4 137.5h1.3v1.3h-1.3zM331.9 133.1h1.3v1.3h-1.3zM330.6 134.1h1.3v1.3h-1.3zM343.1 126.2h1.3v1.3h-1.3zM337.2 126.0h1.3v1.3h-1.3zM330.5 135.6h1.3v1.3h-1.3zM343.4 133.8h1.3v1.3h-1.3zM330.2 136.4h1.3v1.3h-1.3zM342.8 143.2h1.3v1.3h-1.3zM338.9 138.0h1.3v1.3h-1.3zM344.2 135.1h1.3v1.3h-1.3zM336.3 130.7h1.3v1.3h-1.3zM338.8 135.2h1.3v1.3h-1.3zM348.0 129.8h1.3v1.3h-1.3zM336.0 132.2h1.3v1.3h-1.3zM344.3 131.8h1.3v1.3h-1.3zM340.1 131.7h1.3v1.3h-1.3zM334.5 133.2h1.3v1.3h-1.3zM348.7 130.5h1.3v1.3h-1.3zM342.0 132.0h1.3v1.3h-1.3zM342.9 144.9h1.3v1.3h-1.3zM339.6 134.1h1.3v1.3h-1.3zM340.6 137.0h1.3v1.3h-1.3zM333.8 133.3h1.3v1.3h-1.3zM338.1 137.9h1.3v1.3h-1.3zM336.3 134.2h1.3v1.3h-1.3zM331.2 133.8h1.3v1.3h-1.3zM330.0 131.5h1.3v1.3h-1.3zM336.0 134.5h1.3v1.3h-1.3zM344.5 131.8h1.3v1.3h-1.3zM338.4 137.5h1.3v1.3h-1.3zM336.6 135.1h1.3v1.3h-1.3zM345.1 129.7h1.3v1.3h-1.3zM331.2 132.7h1.3v1.3h-1.3zM346.4 135.5h1.3v1.3h-1.3zM347.3 136.0h1.3v1.3h-1.3zM339.2 125.2h1.3v1.3h-1.3zM344.4 131.8h1.3v1.3h-1.3zM330.3 136.1h1.3v1.3h-1.3zM328.3 141.9h1.3v1.3h-1.3zM325.9 135.5h1.3v1.3h-1.3zM347.8 133.7h1.3v1.3h-1.3zM336.3 126.2h1.3v1.3h-1.3zM326.2 135.4h1.3v1.3h-1.3zM341.5 128.6h1.3v1.3h-1.3zM338.7 128.5h1.3v1.3h-1.3zM353.2 137.1h1.3v1.3h-1.3zM349.8 124.4h1.3v1.3h-1.3zM342.2 140.0h1.3v1.3h-1.3zM349.6 132.9h1.3v1.3h-1.3zM338.1 138.1h1.3v1.3h-1.3zM334.0 137.5h1.3v1.3h-1.3zM329.4 137.5h1.3v1.3h-1.3zM337.7 130.7h1.3v1.3h-1.3zM342.8 135.7h1.3v1.3h-1.3zM337.4 137.4h1.3v1.3h-1.3zM328.2 134.6h1.3v1.3h-1.3zM346.8 131.8h1.3v1.3h-1.3zM338.5 138.2h1.3v1.3h-1.3zM351.6 131.7h1.3v1.3h-1.3zM350.8 132.9h1.3v1.3h-1.3zM334.7 131.8h1.3v1.3h-1.3zM347.5 131.9h1.3v1.3h-1.3zM344.5 132.7h1.3v1.3h-1.3zM341.7 139.7h1.3v1.3h-1.3zM340.5 129.2h1.3v1.3h-1.3zM344.3 130.9h1.3v1.3h-1.3zM342.3 138.2h1.3v1.3h-1.3zM328.0 133.4h1.3v1.3h-1.3zM335.2 142.2h1.3v1.3h-1.3zM333.2 129.4h1.3v1.3h-1.3zM336.4 132.4h1.3v1.3h-1.3zM324.5 131.5h1.3v1.3h-1.3zM347.7 132.4h1.3v1.3h-1.3zM338.9 136.3h1.3v1.3h-1.3zM342.5 126.8h1.3v1.3h-1.3zM348.8 136.7h1.3v1.3h-1.3zM343.0 131.7h1.3v1.3h-1.3zM351.1 132.2h1.3v1.3h-1.3zM348.0 128.4h1.3v1.3h-1.3zM333.3 133.9h1.3v1.3h-1.3zM325.9 131.4h1.3v1.3h-1.3zM330.8 130.5h1.3v1.3h-1.3zM325.8 137.0h1.3v1.3h-1.3zM342.1 127.9h1.3v1.3h-1.3zM339.0 136.6h1.3v1.3h-1.3zM351.6 130.7h1.3v1.3h-1.3zM349.2 134.0h1.3v1.3h-1.3zM331.9 136.8h1.3v1.3h-1.3zM337.6 142.3h1.3v1.3h-1.3zM327.0 135.9h1.3v1.3h-1.3zM340.0 141.8h1.3v1.3h-1.3zM332.0 132.8h1.3v1.3h-1.3zM324.6 139.3h1.3v1.3h-1.3zM332.4 132.3h1.3v1.3h-1.3zM335.6 137.3h1.3v1.3h-1.3zM340.0 137.6h1.3v1.3h-1.3zM340.7 134.7h1.3v1.3h-1.3zM339.8 133.9h1.3v1.3h-1.3zM339.3 131.7h1.3v1.3h-1.3zM346.4 130.2h1.3v1.3h-1.3zM339.7 138.4h1.3v1.3h-1.3zM337.9 139.9h1.3v1.3h-1.3zM335.4 142.7h1.3v1.3h-1.3zM343.5 133.0h1.3v1.3h-1.3zM349.5 127.5h1.3v1.3h-1.3zM340.1 139.1h1.3v1.3h-1.3zM335.3 137.6h1.3v1.3h-1.3zM339.5 138.3h1.3v1.3h-1.3zM332.4 127.8h1.3v1.3h-1.3zM340.6 138.5h1.3v1.3h-1.3zM327.1 131.5h1.3v1.3h-1.3zM326.1 136.2h1.3v1.3h-1.3zM347.8 130.1h1.3v1.3h-1.3zM324.6 141.5h1.3v1.3h-1.3zM332.9 131.7h1.3v1.3h-1.3zM342.8 127.2h1.3v1.3h-1.3zM330.1 133.9h1.3v1.3h-1.3zM340.5 137.1h1.3v1.3h-1.3zM353.0 131.6h1.3v1.3h-1.3zM346.5 126.1h1.3v1.3h-1.3zM353.4 130.0h1.3v1.3h-1.3zM346.2 134.5h1.3v1.3h-1.3zM344.2 131.6h1.3v1.3h-1.3zM350.6 126.5h1.3v1.3h-1.3zM344.1 134.8h1.3v1.3h-1.3zM339.8 127.2h1.3v1.3h-1.3zM350.0 132.7h1.3v1.3h-1.3zM346.6 139.8h1.3v1.3h-1.3zM339.8 133.0h1.3v1.3h-1.3zM340.1 133.5h1.3v1.3h-1.3zM354.0 126.3h1.3v1.3h-1.3zM340.9 132.7h1.3v1.3h-1.3zM346.4 131.0h1.3v1.3h-1.3zM333.6 128.3h1.3v1.3h-1.3zM337.5 132.7h1.3v1.3h-1.3zM341.3 139.7h1.3v1.3h-1.3zM346.2 135.1h1.3v1.3h-1.3zM348.0 130.2h1.3v1.3h-1.3zM347.3 137.0h1.3v1.3h-1.3zM333.3 140.1h1.3v1.3h-1.3zM331.7 140.2h1.3v1.3h-1.3zM343.1 130.4h1.3v1.3h-1.3zM333.2 132.8h1.3v1.3h-1.3zM352.9 137.7h1.3v1.3h-1.3zM335.4 138.6h1.3v1.3h-1.3zM358.1 134.3h1.3v1.3h-1.3zM352.3 130.6h1.3v1.3h-1.3zM348.5 136.4h1.3v1.3h-1.3zM332.7 135.1h1.3v1.3h-1.3zM341.9 135.2h1.3v1.3h-1.3zM346.7 127.5h1.3v1.3h-1.3zM340.8 126.2h1.3v1.3h-1.3zM333.3 137.2h1.3v1.3h-1.3zM337.4 139.3h1.3v1.3h-1.3zM329.1 137.8h1.3v1.3h-1.3zM339.1 137.2h1.3v1.3h-1.3zM342.8 133.3h1.3v1.3h-1.3zM341.3 133.7h1.3v1.3h-1.3zM334.5 135.8h1.3v1.3h-1.3zM342.6 131.9h1.3v1.3h-1.3zM344.3 132.3h1.3v1.3h-1.3zM344.4 129.1h1.3v1.3h-1.3zM341.3 138.7h1.3v1.3h-1.3zM340.2 133.7h1.3v1.3h-1.3zM348.7 136.5h1.3v1.3h-1.3zM336.5 120.7h1.3v1.3h-1.3zM340.8 140.2h1.3v1.3h-1.3zM348.2 131.0h1.3v1.3h-1.3zM356.9 128.5h1.3v1.3h-1.3zM358.5 127.7h1.3v1.3h-1.3zM378.1 117.1h1.3v1.3h-1.3zM373.2 118.4h1.3v1.3h-1.3zM396.4 114.0h1.3v1.3h-1.3zM374.1 117.5h1.3v1.3h-1.3zM380.6 120.8h1.3v1.3h-1.3zM380.0 118.4h1.3v1.3h-1.3zM368.5 121.3h1.3v1.3h-1.3zM362.4 130.4h1.3v1.3h-1.3zM378.5 122.2h1.3v1.3h-1.3zM387.6 117.5h1.3v1.3h-1.3zM348.2 134.3h1.3v1.3h-1.3zM365.2 126.8h1.3v1.3h-1.3zM362.7 123.6h1.3v1.3h-1.3zM373.2 116.6h1.3v1.3h-1.3zM387.6 115.4h1.3v1.3h-1.3zM385.9 117.1h1.3v1.3h-1.3zM357.9 127.9h1.3v1.3h-1.3zM345.6 135.2h1.3v1.3h-1.3zM360.6 126.7h1.3v1.3h-1.3zM328.7 142.4h1.3v1.3h-1.3zM347.5 134.0h1.3v1.3h-1.3zM390.2 111.1h1.3v1.3h-1.3zM345.7 135.7h1.3v1.3h-1.3zM391.8 112.7h1.3v1.3h-1.3zM377.2 126.3h1.3v1.3h-1.3zM338.7 132.9h1.3v1.3h-1.3zM329.2 137.2h1.3v1.3h-1.3zM387.0 118.8h1.3v1.3h-1.3zM358.9 129.8h1.3v1.3h-1.3zM349.0 127.2h1.3v1.3h-1.3zM389.1 115.0h1.3v1.3h-1.3zM351.7 132.2h1.3v1.3h-1.3zM380.3 119.7h1.3v1.3h-1.3zM335.8 138.6h1.3v1.3h-1.3zM362.7 126.8h1.3v1.3h-1.3zM358.4 129.1h1.3v1.3h-1.3zM337.1 131.3h1.3v1.3h-1.3zM370.6 120.3h1.3v1.3h-1.3zM354.2 129.9h1.3v1.3h-1.3zM373.8 116.5h1.3v1.3h-1.3zM361.8 127.4h1.3v1.3h-1.3zM387.6 115.9h1.3v1.3h-1.3zM359.6 124.0h1.3v1.3h-1.3zM384.6 120.5h1.3v1.3h-1.3zM361.4 127.5h1.3v1.3h-1.3zM391.0 114.0h1.3v1.3h-1.3zM367.5 126.5h1.3v1.3h-1.3zM351.9 132.9h1.3v1.3h-1.3zM351.2 131.2h1.3v1.3h-1.3zM340.0 135.4h1.3v1.3h-1.3zM340.6 134.6h1.3v1.3h-1.3zM362.0 132.1h1.3v1.3h-1.3zM383.0 108.3h1.3v1.3h-1.3zM377.5 116.8h1.3v1.3h-1.3zM372.2 122.4h1.3v1.3h-1.3zM359.5 124.9h1.3v1.3h-1.3zM331.0 138.2h1.3v1.3h-1.3zM363.1 129.1h1.3v1.3h-1.3zM339.7 130.9h1.3v1.3h-1.3zM384.0 115.2h1.3v1.3h-1.3zM331.7 139.7h1.3v1.3h-1.3zM339.0 136.8h1.3v1.3h-1.3zM380.9 118.9h1.3v1.3h-1.3zM380.2 121.6h1.3v1.3h-1.3zM324.3 139.5h1.3v1.3h-1.3zM363.9 129.2h1.3v1.3h-1.3zM357.1 127.5h1.3v1.3h-1.3zM380.2 116.0h1.3v1.3h-1.3zM391.2 108.5h1.3v1.3h-1.3zM380.5 119.8h1.3v1.3h-1.3zM382.0 116.9h1.3v1.3h-1.3zM377.8 121.5h1.3v1.3h-1.3zM389.2 118.7h1.3v1.3h-1.3zM346.1 130.2h1.3v1.3h-1.3zM363.0 121.5h1.3v1.3h-1.3zM340.7 133.0h1.3v1.3h-1.3zM344.2 131.8h1.3v1.3h-1.3zM358.0 132.0h1.3v1.3h-1.3zM334.4 141.2h1.3v1.3h-1.3zM356.6 128.9h1.3v1.3h-1.3zM348.2 135.4h1.3v1.3h-1.3zM338.7 137.3h1.3v1.3h-1.3zM374.7 118.1h1.3v1.3h-1.3zM348.0 135.3h1.3v1.3h-1.3zM366.4 126.5h1.3v1.3h-1.3zM368.1 127.6h1.3v1.3h-1.3zM340.3 135.9h1.3v1.3h-1.3zM382.8 116.0h1.3v1.3h-1.3zM350.0 129.4h1.3v1.3h-1.3zM385.3 117.2h1.3v1.3h-1.3zM368.7 132.8h1.3v1.3h-1.3zM367.0 129.5h1.3v1.3h-1.3zM327.6 134.4h1.3v1.3h-1.3zM370.7 123.3h1.3v1.3h-1.3zM383.0 115.3h1.3v1.3h-1.3zM388.2 112.4h1.3v1.3h-1.3zM387.5 115.4h1.3v1.3h-1.3zM342.4 137.6h1.3v1.3h-1.3zM332.9 138.4h1.3v1.3h-1.3zM368.7 126.8h1.3v1.3h-1.3zM360.0 125.7h1.3v1.3h-1.3zM363.2 126.1h1.3v1.3h-1.3zM377.6 115.8h1.3v1.3h-1.3zM386.8 112.4h1.3v1.3h-1.3zM336.1 138.7h1.3v1.3h-1.3zM353.4 132.9h1.3v1.3h-1.3zM369.6 120.8h1.3v1.3h-1.3zM380.1 116.6h1.3v1.3h-1.3zM363.9 123.7h1.3v1.3h-1.3zM332.4 141.9h1.3v1.3h-1.3zM370.9 121.5h1.3v1.3h-1.3zM337.5 136.3h1.3v1.3h-1.3zM340.6 133.3h1.3v1.3h-1.3zM336.3 140.0h1.3v1.3h-1.3zM364.1 130.6h1.3v1.3h-1.3zM371.8 123.9h1.3v1.3h-1.3zM371.9 125.3h1.3v1.3h-1.3zM345.5 133.9h1.3v1.3h-1.3zM371.7 119.6h1.3v1.3h-1.3zM346.6 133.6h1.3v1.3h-1.3zM373.5 128.0h1.3v1.3h-1.3zM373.3 120.6h1.3v1.3h-1.3zM358.6 129.4h1.3v1.3h-1.3zM380.1 119.9h1.3v1.3h-1.3zM352.0 130.9h1.3v1.3h-1.3zM354.5 129.4h1.3v1.3h-1.3zM367.1 126.6h1.3v1.3h-1.3zM352.1 131.6h1.3v1.3h-1.3zM346.4 134.2h1.3v1.3h-1.3zM336.8 139.6h1.3v1.3h-1.3zM351.2 131.7h1.3v1.3h-1.3zM378.4 120.6h1.3v1.3h-1.3zM386.3 115.8h1.3v1.3h-1.3zM335.0 134.1h1.3v1.3h-1.3zM327.9 144.7h1.3v1.3h-1.3zM363.0 135.5h1.3v1.3h-1.3zM343.7 138.2h1.3v1.3h-1.3zM391.1 110.9h1.3v1.3h-1.3zM330.2 143.5h1.3v1.3h-1.3zM392.7 115.2h1.3v1.3h-1.3zM377.9 123.1h1.3v1.3h-1.3zM345.0 135.4h1.3v1.3h-1.3zM363.0 125.5h1.3v1.3h-1.3zM371.7 127.9h1.3v1.3h-1.3zM375.8 115.7h1.3v1.3h-1.3zM392.7 108.0h1.3v1.3h-1.3zM364.1 131.8h1.3v1.3h-1.3zM335.8 139.3h1.3v1.3h-1.3zM389.7 111.9h1.3v1.3h-1.3zM330.7 141.7h1.3v1.3h-1.3zM350.2 136.8h1.3v1.3h-1.3zM393.8 110.8h1.3v1.3h-1.3zM374.9 124.0h1.3v1.3h-1.3zM359.0 132.0h1.3v1.3h-1.3zM343.9 129.6h1.3v1.3h-1.3zM370.3 124.1h1.3v1.3h-1.3zM382.2 117.4h1.3v1.3h-1.3zM371.7 116.7h1.3v1.3h-1.3zM337.1 137.3h1.3v1.3h-1.3zM370.4 124.8h1.3v1.3h-1.3zM337.3 133.9h1.3v1.3h-1.3zM351.1 125.4h1.3v1.3h-1.3zM340.7 134.0h1.3v1.3h-1.3zM339.1 134.1h1.3v1.3h-1.3zM383.9 115.5h1.3v1.3h-1.3zM369.4 114.8h1.3v1.3h-1.3zM356.7 131.9h1.3v1.3h-1.3zM347.7 131.5h1.3v1.3h-1.3zM357.2 125.7h1.3v1.3h-1.3zM335.5 128.0h1.3v1.3h-1.3zM350.5 128.4h1.3v1.3h-1.3zM372.7 122.4h1.3v1.3h-1.3zM337.8 133.5h1.3v1.3h-1.3zM383.5 119.8h1.3v1.3h-1.3zM342.0 131.9h1.3v1.3h-1.3zM352.9 132.0h1.3v1.3h-1.3zM346.6 133.8h1.3v1.3h-1.3zM333.1 139.6h1.3v1.3h-1.3zM352.9 127.0h1.3v1.3h-1.3zM387.1 122.4h1.3v1.3h-1.3zM356.7 128.9h1.3v1.3h-1.3zM344.4 135.7h1.3v1.3h-1.3zM363.6 128.4h1.3v1.3h-1.3zM340.8 139.6h1.3v1.3h-1.3zM355.5 129.5h1.3v1.3h-1.3zM395.9 112.0h1.3v1.3h-1.3zM330.1 142.0h1.3v1.3h-1.3zM357.0 125.2h1.3v1.3h-1.3zM375.8 122.1h1.3v1.3h-1.3zM343.0 133.0h1.3v1.3h-1.3zM335.7 137.8h1.3v1.3h-1.3zM327.2 132.8h1.3v1.3h-1.3zM368.1 128.2h1.3v1.3h-1.3zM359.6 132.6h1.3v1.3h-1.3zM344.8 133.8h1.3v1.3h-1.3zM346.6 132.0h1.3v1.3h-1.3zM373.2 120.5h1.3v1.3h-1.3zM348.9 130.8h1.3v1.3h-1.3zM364.6 127.5h1.3v1.3h-1.3zM332.1 137.4h1.3v1.3h-1.3zM390.7 110.0h1.3v1.3h-1.3zM355.8 134.1h1.3v1.3h-1.3zM335.0 137.5h1.3v1.3h-1.3zM380.4 111.3h1.3v1.3h-1.3zM342.3 131.3h1.3v1.3h-1.3zM359.0 127.9h1.3v1.3h-1.3zM365.2 126.2h1.3v1.3h-1.3zM349.2 129.9h1.3v1.3h-1.3zM387.8 112.3h1.3v1.3h-1.3zM350.4 134.4h1.3v1.3h-1.3zM368.9 120.0h1.3v1.3h-1.3zM374.9 122.3h1.3v1.3h-1.3zM372.5 116.3h1.3v1.3h-1.3zM349.3 130.7h1.3v1.3h-1.3zM369.3 122.1h1.3v1.3h-1.3zM340.9 138.3h1.3v1.3h-1.3zM381.7 120.1h1.3v1.3h-1.3zM382.4 117.3h1.3v1.3h-1.3zM387.0 111.1h1.3v1.3h-1.3zM383.5 116.5h1.3v1.3h-1.3zM386.5 114.7h1.3v1.3h-1.3zM377.7 123.0h1.3v1.3h-1.3zM372.2 123.4h1.3v1.3h-1.3zM353.0 133.8h1.3v1.3h-1.3zM380.4 115.2h1.3v1.3h-1.3zM343.6 135.7h1.3v1.3h-1.3zM341.3 133.2h1.3v1.3h-1.3zM346.3 137.3h1.3v1.3h-1.3zM388.5 115.6h1.3v1.3h-1.3zM356.4 130.0h1.3v1.3h-1.3zM364.2 128.0h1.3v1.3h-1.3zM376.6 118.3h1.3v1.3h-1.3zM370.5 116.3h1.3v1.3h-1.3zM393.7 115.1h1.3v1.3h-1.3zM331.2 140.8h1.3v1.3h-1.3zM337.6 138.2h1.3v1.3h-1.3zM381.4 114.5h1.3v1.3h-1.3zM364.0 122.2h1.3v1.3h-1.3zM331.2 138.4h1.3v1.3h-1.3zM360.9 128.1h1.3v1.3h-1.3zM345.5 129.6h1.3v1.3h-1.3zM345.4 134.0h1.3v1.3h-1.3zM393.4 115.4h1.3v1.3h-1.3zM366.9 124.3h1.3v1.3h-1.3zM372.4 123.1h1.3v1.3h-1.3zM368.7 125.8h1.3v1.3h-1.3zM387.1 110.1h1.3v1.3h-1.3zM364.9 133.7h1.3v1.3h-1.3zM355.9 130.8h1.3v1.3h-1.3zM356.1 132.4h1.3v1.3h-1.3zM335.9 136.8h1.3v1.3h-1.3zM343.1 131.3h1.3v1.3h-1.3zM354.7 127.3h1.3v1.3h-1.3zM387.8 109.5h1.3v1.3h-1.3zM336.4 128.2h1.3v1.3h-1.3zM382.9 118.3h1.3v1.3h-1.3zM325.2 134.9h1.3v1.3h-1.3zM370.9 118.7h1.3v1.3h-1.3zM370.6 118.8h1.3v1.3h-1.3zM334.3 136.5h1.3v1.3h-1.3zM326.7 135.8h1.3v1.3h-1.3zM333.3 133.2h1.3v1.3h-1.3zM389.2 114.2h1.3v1.3h-1.3zM364.1 124.9h1.3v1.3h-1.3zM364.7 128.6h1.3v1.3h-1.3zM360.8 127.4h1.3v1.3h-1.3zM376.7 116.5h1.3v1.3h-1.3zM374.1 121.0h1.3v1.3h-1.3zM338.7 138.4h1.3v1.3h-1.3zM328.4 138.7h1.3v1.3h-1.3zM358.8 127.1h1.3v1.3h-1.3zM359.8 129.5h1.3v1.3h-1.3zM366.9 126.2h1.3v1.3h-1.3zM345.9 124.6h1.3v1.3h-1.3zM342.6 141.6h1.3v1.3h-1.3zM369.0 114.9h1.3v1.3h-1.3zM371.1 130.4h1.3v1.3h-1.3zM392.8 115.0h1.3v1.3h-1.3zM370.6 126.0h1.3v1.3h-1.3zM348.2 129.3h1.3v1.3h-1.3zM335.5 136.1h1.3v1.3h-1.3zM338.9 133.9h1.3v1.3h-1.3zM366.2 124.7h1.3v1.3h-1.3zM388.9 111.7h1.3v1.3h-1.3zM382.7 110.5h1.3v1.3h-1.3zM379.2 121.1h1.3v1.3h-1.3zM341.8 129.1h1.3v1.3h-1.3zM361.7 118.6h1.3v1.3h-1.3zM360.1 127.7h1.3v1.3h-1.3zM392.5 112.8h1.3v1.3h-1.3zM384.8 116.7h1.3v1.3h-1.3zM363.0 129.4h1.3v1.3h-1.3zM329.1 138.4h1.3v1.3h-1.3zM350.4 134.9h1.3v1.3h-1.3zM341.5 133.9h1.3v1.3h-1.3zM361.7 130.6h1.3v1.3h-1.3zM339.0 140.2h1.3v1.3h-1.3zM328.8 138.6h1.3v1.3h-1.3zM348.6 135.2h1.3v1.3h-1.3zM332.2 139.3h1.3v1.3h-1.3zM352.6 134.8h1.3v1.3h-1.3zM352.4 127.2h1.3v1.3h-1.3zM377.5 119.4h1.3v1.3h-1.3zM372.1 121.0h1.3v1.3h-1.3zM381.2 116.9h1.3v1.3h-1.3zM369.4 119.8h1.3v1.3h-1.3zM349.6 130.6h1.3v1.3h-1.3zM388.0 110.6h1.3v1.3h-1.3zM355.9 123.3h1.3v1.3h-1.3zM357.1 125.2h1.3v1.3h-1.3zM364.7 128.1h1.3v1.3h-1.3zM345.3 133.1h1.3v1.3h-1.3zM343.8 139.1h1.3v1.3h-1.3zM371.2 123.4h1.3v1.3h-1.3zM371.7 118.1h1.3v1.3h-1.3zM373.9 120.4h1.3v1.3h-1.3zM380.7 117.0h1.3v1.3h-1.3zM360.8 129.5h1.3v1.3h-1.3zM381.8 116.2h1.3v1.3h-1.3zM385.3 113.8h1.3v1.3h-1.3zM389.1 108.4h1.3v1.3h-1.3zM387.3 115.6h1.3v1.3h-1.3zM381.4 120.2h1.3v1.3h-1.3zM380.5 116.0h1.3v1.3h-1.3zM352.1 120.9h1.3v1.3h-1.3zM367.8 125.2h1.3v1.3h-1.3zM336.8 132.1h1.3v1.3h-1.3zM342.3 130.2h1.3v1.3h-1.3zM362.7 124.8h1.3v1.3h-1.3zM325.0 138.6h1.3v1.3h-1.3zM389.2 114.4h1.3v1.3h-1.3zM340.3 133.5h1.3v1.3h-1.3zM390.9 111.9h1.3v1.3h-1.3zM335.4 139.9h1.3v1.3h-1.3zM358.7 126.0h1.3v1.3h-1.3zM368.4 125.7h1.3v1.3h-1.3zM375.8 121.5h1.3v1.3h-1.3zM376.9 122.1h1.3v1.3h-1.3zM384.8 114.9h1.3v1.3h-1.3zM335.2 134.1h1.3v1.3h-1.3zM386.0 117.7h1.3v1.3h-1.3zM332.7 136.9h1.3v1.3h-1.3zM361.2 119.9h1.3v1.3h-1.3zM380.1 115.9h1.3v1.3h-1.3zM366.5 122.3h1.3v1.3h-1.3zM364.4 125.5h1.3v1.3h-1.3zM372.9 113.2h1.3v1.3h-1.3zM388.0 112.4h1.3v1.3h-1.3zM356.2 127.5h1.3v1.3h-1.3zM386.7 114.7h1.3v1.3h-1.3zM386.6 115.3h1.3v1.3h-1.3zM365.2 126.2h1.3v1.3h-1.3zM367.4 117.6h1.3v1.3h-1.3zM348.9 130.8h1.3v1.3h-1.3zM384.9 110.8h1.3v1.3h-1.3zM394.8 113.0h1.3v1.3h-1.3zM331.3 137.1h1.3v1.3h-1.3zM329.3 135.9h1.3v1.3h-1.3zM348.1 130.4h1.3v1.3h-1.3zM337.7 142.6h1.3v1.3h-1.3zM364.6 121.9h1.3v1.3h-1.3zM382.2 114.1h1.3v1.3h-1.3zM363.0 127.2h1.3v1.3h-1.3zM389.8 115.0h1.3v1.3h-1.3zM380.8 122.1h1.3v1.3h-1.3zM331.2 141.9h1.3v1.3h-1.3zM371.1 117.5h1.3v1.3h-1.3zM384.5 125.4h1.3v1.3h-1.3zM328.5 139.3h1.3v1.3h-1.3zM332.1 147.9h1.3v1.3h-1.3zM383.5 122.0h1.3v1.3h-1.3zM379.7 120.8h1.3v1.3h-1.3zM340.6 138.9h1.3v1.3h-1.3zM341.3 134.7h1.3v1.3h-1.3zM348.6 133.0h1.3v1.3h-1.3zM333.4 138.0h1.3v1.3h-1.3zM388.0 116.0h1.3v1.3h-1.3zM332.8 136.6h1.3v1.3h-1.3zM328.7 142.4h1.3v1.3h-1.3zM383.4 114.7h1.3v1.3h-1.3zM336.6 135.4h1.3v1.3h-1.3zM344.9 132.0h1.3v1.3h-1.3zM359.0 131.6h1.3v1.3h-1.3zM342.3 132.7h1.3v1.3h-1.3zM332.8 142.8h1.3v1.3h-1.3zM353.4 128.5h1.3v1.3h-1.3zM345.7 135.8h1.3v1.3h-1.3zM376.4 116.5h1.3v1.3h-1.3zM367.5 131.0h1.3v1.3h-1.3zM370.6 120.6h1.3v1.3h-1.3zM365.0 121.7h1.3v1.3h-1.3zM376.7 124.2h1.3v1.3h-1.3zM347.3 131.6h1.3v1.3h-1.3zM355.1 129.4h1.3v1.3h-1.3zM336.3 133.9h1.3v1.3h-1.3zM371.0 117.5h1.3v1.3h-1.3zM369.4 127.2h1.3v1.3h-1.3zM349.7 132.7h1.3v1.3h-1.3zM385.8 112.9h1.3v1.3h-1.3zM372.1 124.5h1.3v1.3h-1.3zM390.0 109.5h1.3v1.3h-1.3zM383.1 108.8h1.3v1.3h-1.3zM380.1 114.9h1.3v1.3h-1.3zM360.5 131.6h1.3v1.3h-1.3zM338.9 136.4h1.3v1.3h-1.3zM355.1 127.5h1.3v1.3h-1.3zM373.0 126.0h1.3v1.3h-1.3zM338.7 133.2h1.3v1.3h-1.3zM379.0 116.7h1.3v1.3h-1.3zM369.5 127.1h1.3v1.3h-1.3zM379.8 121.4h1.3v1.3h-1.3zM331.8 133.8h1.3v1.3h-1.3zM327.5 134.7h1.3v1.3h-1.3zM341.5 134.0h1.3v1.3h-1.3zM333.1 141.9h1.3v1.3h-1.3zM342.4 132.5h1.3v1.3h-1.3zM334.4 135.5h1.3v1.3h-1.3zM338.9 136.5h1.3v1.3h-1.3zM354.7 128.6h1.3v1.3h-1.3zM339.1 137.9h1.3v1.3h-1.3zM355.0 123.5h1.3v1.3h-1.3zM366.8 122.6h1.3v1.3h-1.3zM333.6 133.6h1.3v1.3h-1.3zM390.7 116.0h1.3v1.3h-1.3zM345.5 134.1h1.3v1.3h-1.3zM389.4 113.3h1.3v1.3h-1.3zM334.3 136.7h1.3v1.3h-1.3zM381.8 119.2h1.3v1.3h-1.3zM326.5 144.4h1.3v1.3h-1.3zM349.4 134.8h1.3v1.3h-1.3zM343.3 126.5h1.3v1.3h-1.3zM388.0 117.4h1.3v1.3h-1.3zM380.2 114.9h1.3v1.3h-1.3zM333.3 133.8h1.3v1.3h-1.3zM360.2 126.2h1.3v1.3h-1.3zM348.6 126.0h1.3v1.3h-1.3zM393.1 109.9h1.3v1.3h-1.3zM352.7 128.9h1.3v1.3h-1.3zM328.8 142.7h1.3v1.3h-1.3zM357.0 126.4h1.3v1.3h-1.3zM368.5 123.3h1.3v1.3h-1.3zM347.2 133.1h1.3v1.3h-1.3zM381.4 113.8h1.3v1.3h-1.3zM369.7 122.5h1.3v1.3h-1.3zM361.7 126.8h1.3v1.3h-1.3zM388.2 109.5h1.3v1.3h-1.3zM379.6 108.1h1.3v1.3h-1.3zM383.7 101.2h1.3v1.3h-1.3zM382.0 109.7h1.3v1.3h-1.3zM380.6 115.3h1.3v1.3h-1.3zM383.2 104.9h1.3v1.3h-1.3zM381.8 100.9h1.3v1.3h-1.3zM384.8 100.2h1.3v1.3h-1.3zM380.8 82.2h1.3v1.3h-1.3zM385.6 94.5h1.3v1.3h-1.3zM382.4 81.5h1.3v1.3h-1.3zM383.9 89.1h1.3v1.3h-1.3zM386.8 83.9h1.3v1.3h-1.3zM386.8 84.0h1.3v1.3h-1.3zM377.7 93.4h1.3v1.3h-1.3zM383.2 93.6h1.3v1.3h-1.3zM378.1 89.6h1.3v1.3h-1.3zM378.3 107.8h1.3v1.3h-1.3zM370.8 102.6h1.3v1.3h-1.3zM385.8 96.3h1.3v1.3h-1.3zM381.4 98.1h1.3v1.3h-1.3zM385.6 90.7h1.3v1.3h-1.3zM382.6 101.5h1.3v1.3h-1.3zM383.8 88.6h1.3v1.3h-1.3zM378.2 100.2h1.3v1.3h-1.3zM386.2 82.8h1.3v1.3h-1.3zM387.1 89.7h1.3v1.3h-1.3zM377.6 83.4h1.3v1.3h-1.3zM384.1 98.5h1.3v1.3h-1.3zM376.4 109.5h1.3v1.3h-1.3zM381.6 109.9h1.3v1.3h-1.3zM382.9 94.1h1.3v1.3h-1.3zM385.9 103.8h1.3v1.3h-1.3zM379.1 88.7h1.3v1.3h-1.3zM391.2 83.5h1.3v1.3h-1.3zM389.4 91.8h1.3v1.3h-1.3zM385.1 108.0h1.3v1.3h-1.3zM374.2 115.9h1.3v1.3h-1.3zM382.9 112.6h1.3v1.3h-1.3zM386.2 93.7h1.3v1.3h-1.3zM372.0 95.1h1.3v1.3h-1.3zM387.0 86.7h1.3v1.3h-1.3zM376.7 97.9h1.3v1.3h-1.3zM387.9 95.1h1.3v1.3h-1.3zM381.8 87.5h1.3v1.3h-1.3zM379.6 102.5h1.3v1.3h-1.3zM379.0 111.7h1.3v1.3h-1.3zM381.9 87.5h1.3v1.3h-1.3zM396.0 106.3h1.3v1.3h-1.3zM384.3 94.3h1.3v1.3h-1.3zM384.2 106.6h1.3v1.3h-1.3zM380.2 88.8h1.3v1.3h-1.3zM379.6 115.5h1.3v1.3h-1.3zM389.5 105.9h1.3v1.3h-1.3zM389.3 106.7h1.3v1.3h-1.3zM377.7 106.0h1.3v1.3h-1.3zM381.5 98.4h1.3v1.3h-1.3zM385.1 86.9h1.3v1.3h-1.3zM383.1 100.4h1.3v1.3h-1.3zM385.4 94.5h1.3v1.3h-1.3zM386.8 82.6h1.3v1.3h-1.3zM383.0 114.4h1.3v1.3h-1.3zM385.8 78.4h1.3v1.3h-1.3zM379.6 98.5h1.3v1.3h-1.3zM381.7 113.7h1.3v1.3h-1.3zM392.2 108.9h1.3v1.3h-1.3zM377.4 99.2h1.3v1.3h-1.3zM376.4 90.7h1.3v1.3h-1.3zM384.7 87.2h1.3v1.3h-1.3zM381.1 94.5h1.3v1.3h-1.3zM381.9 94.2h1.3v1.3h-1.3zM380.4 96.8h1.3v1.3h-1.3zM381.2 84.5h1.3v1.3h-1.3zM381.9 93.5h1.3v1.3h-1.3zM384.9 84.6h1.3v1.3h-1.3zM377.6 98.7h1.3v1.3h-1.3zM375.7 93.8h1.3v1.3h-1.3zM381.3 109.7h1.3v1.3h-1.3zM385.7 105.4h1.3v1.3h-1.3zM373.8 107.9h1.3v1.3h-1.3zM384.4 104.5h1.3v1.3h-1.3zM377.8 98.2h1.3v1.3h-1.3zM379.1 112.0h1.3v1.3h-1.3zM381.2 103.3h1.3v1.3h-1.3zM382.8 91.5h1.3v1.3h-1.3zM382.8 77.5h1.3v1.3h-1.3zM381.6 102.2h1.3v1.3h-1.3zM374.8 95.1h1.3v1.3h-1.3zM390.1 111.3h1.3v1.3h-1.3zM380.5 91.3h1.3v1.3h-1.3zM384.9 110.0h1.3v1.3h-1.3zM372.1 95.6h1.3v1.3h-1.3zM360.0 99.2h1.3v1.3h-1.3zM377.6 82.4h1.3v1.3h-1.3zM367.7 114.7h1.3v1.3h-1.3zM396.0 87.0h1.3v1.3h-1.3zM372.7 88.3h1.3v1.3h-1.3zM373.8 90.3h1.3v1.3h-1.3zM398.4 73.7h1.3v1.3h-1.3zM374.5 97.7h1.3v1.3h-1.3zM384.4 88.0h1.3v1.3h-1.3zM388.8 92.3h1.3v1.3h-1.3zM366.0 114.0h1.3v1.3h-1.3zM368.3 104.7h1.3v1.3h-1.3zM397.2 80.6h1.3v1.3h-1.3zM390.2 108.0h1.3v1.3h-1.3zM373.9 114.2h1.3v1.3h-1.3zM365.5 96.3h1.3v1.3h-1.3zM399.2 96.6h1.3v1.3h-1.3zM395.0 91.1h1.3v1.3h-1.3zM385.9 94.9h1.3v1.3h-1.3zM388.4 106.1h1.3v1.3h-1.3zM388.7 107.2h1.3v1.3h-1.3zM368.5 102.4h1.3v1.3h-1.3zM391.8 106.6h1.3v1.3h-1.3zM367.1 97.7h1.3v1.3h-1.3zM325.5 117.8h1.3v1.3h-1.3zM345.1 112.0h1.3v1.3h-1.3zM343.7 112.5h1.3v1.3h-1.3zM342.3 116.3h1.3v1.3h-1.3zM389.4 149.6h1.3v1.3h-1.3zM374.4 138.4h1.3v1.3h-1.3zM363.7 128.8h1.3v1.3h-1.3zM327.5 147.2h1.3v1.3h-1.3zM398.0 145.7h1.3v1.3h-1.3zM339.1 140.6h1.3v1.3h-1.3zM339.7 133.1h1.3v1.3h-1.3zM384.3 148.3h1.3v1.3h-1.3zM325.9 144.5h1.3v1.3h-1.3zM378.3 142.5h1.3v1.3h-1.3zM336.1 133.8h1.3v1.3h-1.3zM380.9 130.1h1.3v1.3h-1.3zM337.8 137.0h1.3v1.3h-1.3zM337.8 131.6h1.3v1.3h-1.3zM336.8 130.3h1.3v1.3h-1.3zM332.6 135.3h1.3v1.3h-1.3zM350.4 128.5h1.3v1.3h-1.3zM338.4 135.1h1.3v1.3h-1.3zM330.3 132.4h1.3v1.3h-1.3zM328.3 143.5h1.3v1.3h-1.3zM334.2 136.7h1.3v1.3h-1.3zM335.2 142.1h1.3v1.3h-1.3zM398.0 142.6h1.3v1.3h-1.3zM331.4 129.9h1.3v1.3h-1.3zM337.4 147.1h1.3v1.3h-1.3zM331.3 144.1h1.3v1.3h-1.3zM382.8 145.8h1.3v1.3h-1.3zM356.9 135.4h1.3v1.3h-1.3zM351.4 141.3h1.3v1.3h-1.3zM361.3 142.6h1.3v1.3h-1.3zM357.8 146.1h1.3v1.3h-1.3zM369.9 131.8h1.3v1.3h-1.3zM356.6 130.8h1.3v1.3h-1.3zM393.7 126.2h1.3v1.3h-1.3zM355.1 135.7h1.3v1.3h-1.3zM370.5 127.6h1.3v1.3h-1.3zM375.4 128.3h1.3v1.3h-1.3zM345.8 132.8h1.3v1.3h-1.3zM330.5 150.0h1.3v1.3h-1.3zM329.6 147.6h1.3v1.3h-1.3zM433.2 127.3h1.3v1.3h-1.3zM432.1 133.5h1.3v1.3h-1.3zM431.1 138.3h1.3v1.3h-1.3zM437.7 138.1h1.3v1.3h-1.3zM428.5 133.0h1.3v1.3h-1.3zM456.2 132.3h1.3v1.3h-1.3zM436.0 134.2h1.3v1.3h-1.3zM435.8 135.1h1.3v1.3h-1.3zM448.0 129.1h1.3v1.3h-1.3zM435.3 138.7h1.3v1.3h-1.3zM446.2 131.9h1.3v1.3h-1.3zM449.8 137.3h1.3v1.3h-1.3zM436.7 136.9h1.3v1.3h-1.3zM443.2 132.9h1.3v1.3h-1.3zM443.3 139.9h1.3v1.3h-1.3zM440.0 139.3h1.3v1.3h-1.3zM423.5 140.4h1.3v1.3h-1.3zM433.3 133.9h1.3v1.3h-1.3zM448.4 126.1h1.3v1.3h-1.3zM441.5 134.9h1.3v1.3h-1.3zM444.4 128.1h1.3v1.3h-1.3zM437.1 129.2h1.3v1.3h-1.3zM437.2 133.4h1.3v1.3h-1.3zM452.1 131.0h1.3v1.3h-1.3zM440.6 140.6h1.3v1.3h-1.3zM442.1 138.1h1.3v1.3h-1.3zM437.1 134.2h1.3v1.3h-1.3zM450.4 134.6h1.3v1.3h-1.3zM427.8 130.8h1.3v1.3h-1.3zM446.4 135.4h1.3v1.3h-1.3zM452.1 140.5h1.3v1.3h-1.3zM441.5 133.1h1.3v1.3h-1.3zM428.7 137.9h1.3v1.3h-1.3zM433.7 132.9h1.3v1.3h-1.3zM435.0 135.4h1.3v1.3h-1.3zM444.1 136.0h1.3v1.3h-1.3zM435.8 135.9h1.3v1.3h-1.3zM444.7 132.6h1.3v1.3h-1.3zM450.8 134.8h1.3v1.3h-1.3zM433.6 130.3h1.3v1.3h-1.3zM424.3 140.4h1.3v1.3h-1.3zM432.2 127.6h1.3v1.3h-1.3zM441.7 132.1h1.3v1.3h-1.3zM435.4 137.2h1.3v1.3h-1.3zM435.0 133.0h1.3v1.3h-1.3zM433.0 137.3h1.3v1.3h-1.3zM444.5 140.0h1.3v1.3h-1.3zM438.9 131.8h1.3v1.3h-1.3zM447.1 138.9h1.3v1.3h-1.3zM433.2 132.6h1.3v1.3h-1.3zM448.5 125.7h1.3v1.3h-1.3zM440.8 129.7h1.3v1.3h-1.3zM449.0 132.4h1.3v1.3h-1.3zM434.9 135.8h1.3v1.3h-1.3zM436.9 139.5h1.3v1.3h-1.3zM439.4 138.9h1.3v1.3h-1.3zM441.4 137.1h1.3v1.3h-1.3zM432.5 134.8h1.3v1.3h-1.3zM444.0 128.7h1.3v1.3h-1.3zM454.9 129.8h1.3v1.3h-1.3zM448.5 138.5h1.3v1.3h-1.3zM442.8 134.4h1.3v1.3h-1.3zM441.0 136.0h1.3v1.3h-1.3zM447.9 143.8h1.3v1.3h-1.3zM443.0 133.5h1.3v1.3h-1.3zM443.6 135.1h1.3v1.3h-1.3zM444.4 132.2h1.3v1.3h-1.3zM433.6 134.5h1.3v1.3h-1.3zM430.6 139.4h1.3v1.3h-1.3zM442.6 134.6h1.3v1.3h-1.3zM429.6 139.9h1.3v1.3h-1.3zM442.4 129.5h1.3v1.3h-1.3zM439.7 136.5h1.3v1.3h-1.3zM441.3 140.7h1.3v1.3h-1.3zM447.9 131.1h1.3v1.3h-1.3zM434.0 133.8h1.3v1.3h-1.3zM440.0 124.3h1.3v1.3h-1.3zM429.4 137.7h1.3v1.3h-1.3zM434.4 135.5h1.3v1.3h-1.3zM442.5 134.3h1.3v1.3h-1.3zM425.1 141.8h1.3v1.3h-1.3zM433.3 134.4h1.3v1.3h-1.3zM441.9 139.2h1.3v1.3h-1.3zM439.8 129.1h1.3v1.3h-1.3zM426.6 129.9h1.3v1.3h-1.3zM435.8 138.5h1.3v1.3h-1.3zM427.5 130.2h1.3v1.3h-1.3zM436.0 128.0h1.3v1.3h-1.3zM440.8 134.6h1.3v1.3h-1.3zM436.4 133.5h1.3v1.3h-1.3zM434.5 129.4h1.3v1.3h-1.3zM441.7 132.7h1.3v1.3h-1.3zM437.0 137.6h1.3v1.3h-1.3zM445.5 129.1h1.3v1.3h-1.3zM431.2 134.6h1.3v1.3h-1.3zM439.3 131.0h1.3v1.3h-1.3zM447.9 144.1h1.3v1.3h-1.3zM441.3 130.5h1.3v1.3h-1.3zM435.3 134.9h1.3v1.3h-1.3zM440.3 136.9h1.3v1.3h-1.3zM432.9 129.7h1.3v1.3h-1.3zM439.6 138.3h1.3v1.3h-1.3zM434.4 137.6h1.3v1.3h-1.3zM440.2 132.3h1.3v1.3h-1.3zM439.5 139.8h1.3v1.3h-1.3zM447.5 129.5h1.3v1.3h-1.3zM443.1 136.7h1.3v1.3h-1.3zM450.6 136.3h1.3v1.3h-1.3zM437.4 133.7h1.3v1.3h-1.3zM437.0 143.9h1.3v1.3h-1.3zM451.6 136.3h1.3v1.3h-1.3zM445.2 129.5h1.3v1.3h-1.3zM434.9 142.4h1.3v1.3h-1.3zM448.5 132.0h1.3v1.3h-1.3zM432.7 132.4h1.3v1.3h-1.3zM458.3 128.5h1.3v1.3h-1.3zM435.5 131.8h1.3v1.3h-1.3zM446.2 138.2h1.3v1.3h-1.3zM430.0 139.6h1.3v1.3h-1.3zM434.4 136.4h1.3v1.3h-1.3zM443.9 141.7h1.3v1.3h-1.3zM428.4 133.7h1.3v1.3h-1.3zM442.9 139.5h1.3v1.3h-1.3zM443.4 136.8h1.3v1.3h-1.3zM436.5 138.6h1.3v1.3h-1.3zM443.4 134.5h1.3v1.3h-1.3zM436.7 135.7h1.3v1.3h-1.3zM442.6 133.9h1.3v1.3h-1.3zM444.1 132.2h1.3v1.3h-1.3zM437.9 137.2h1.3v1.3h-1.3zM438.0 134.6h1.3v1.3h-1.3zM435.4 131.5h1.3v1.3h-1.3zM438.3 141.7h1.3v1.3h-1.3zM439.3 134.1h1.3v1.3h-1.3zM453.1 129.5h1.3v1.3h-1.3zM445.1 125.8h1.3v1.3h-1.3zM437.8 137.6h1.3v1.3h-1.3zM424.8 141.2h1.3v1.3h-1.3zM438.5 133.8h1.3v1.3h-1.3zM440.1 127.8h1.3v1.3h-1.3zM429.5 138.2h1.3v1.3h-1.3zM445.4 131.7h1.3v1.3h-1.3zM442.4 129.9h1.3v1.3h-1.3zM443.2 127.2h1.3v1.3h-1.3zM442.9 137.3h1.3v1.3h-1.3zM434.1 134.2h1.3v1.3h-1.3zM439.9 135.6h1.3v1.3h-1.3zM435.6 137.6h1.3v1.3h-1.3zM432.9 140.4h1.3v1.3h-1.3zM444.5 135.4h1.3v1.3h-1.3zM432.9 135.7h1.3v1.3h-1.3zM438.7 133.6h1.3v1.3h-1.3zM455.3 137.3h1.3v1.3h-1.3zM440.1 129.4h1.3v1.3h-1.3zM436.1 134.3h1.3v1.3h-1.3zM444.8 138.6h1.3v1.3h-1.3zM436.6 131.6h1.3v1.3h-1.3zM436.9 135.8h1.3v1.3h-1.3zM445.3 133.9h1.3v1.3h-1.3zM429.6 141.6h1.3v1.3h-1.3zM446.8 133.4h1.3v1.3h-1.3zM426.3 139.5h1.3v1.3h-1.3zM436.2 136.1h1.3v1.3h-1.3zM441.4 139.1h1.3v1.3h-1.3zM442.7 135.2h1.3v1.3h-1.3zM451.2 129.3h1.3v1.3h-1.3zM443.0 132.0h1.3v1.3h-1.3zM429.7 144.8h1.3v1.3h-1.3zM447.6 136.1h1.3v1.3h-1.3zM431.9 141.7h1.3v1.3h-1.3zM430.5 124.2h1.3v1.3h-1.3zM450.0 133.1h1.3v1.3h-1.3zM448.8 131.7h1.3v1.3h-1.3zM442.4 140.1h1.3v1.3h-1.3zM438.1 144.9h1.3v1.3h-1.3zM441.1 133.5h1.3v1.3h-1.3zM433.6 131.4h1.3v1.3h-1.3zM440.6 133.1h1.3v1.3h-1.3zM436.9 134.9h1.3v1.3h-1.3zM433.6 138.0h1.3v1.3h-1.3zM435.3 139.4h1.3v1.3h-1.3zM436.4 135.7h1.3v1.3h-1.3zM437.1 135.5h1.3v1.3h-1.3zM439.4 134.5h1.3v1.3h-1.3zM439.4 135.6h1.3v1.3h-1.3zM443.6 125.2h1.3v1.3h-1.3zM439.7 130.9h1.3v1.3h-1.3zM427.8 138.6h1.3v1.3h-1.3zM446.2 136.6h1.3v1.3h-1.3zM435.4 136.3h1.3v1.3h-1.3zM433.3 137.3h1.3v1.3h-1.3zM446.4 139.1h1.3v1.3h-1.3zM436.4 136.8h1.3v1.3h-1.3zM434.8 135.4h1.3v1.3h-1.3zM434.0 134.6h1.3v1.3h-1.3zM438.0 130.2h1.3v1.3h-1.3zM446.8 134.8h1.3v1.3h-1.3zM440.4 131.6h1.3v1.3h-1.3zM441.9 127.0h1.3v1.3h-1.3zM451.2 131.1h1.3v1.3h-1.3zM432.3 138.5h1.3v1.3h-1.3zM445.4 136.7h1.3v1.3h-1.3zM439.0 143.1h1.3v1.3h-1.3zM442.3 129.4h1.3v1.3h-1.3zM440.7 131.0h1.3v1.3h-1.3zM435.5 133.0h1.3v1.3h-1.3zM449.1 134.9h1.3v1.3h-1.3zM446.3 131.3h1.3v1.3h-1.3zM446.1 132.4h1.3v1.3h-1.3zM439.9 138.0h1.3v1.3h-1.3zM434.2 137.7h1.3v1.3h-1.3zM445.0 137.3h1.3v1.3h-1.3zM452.5 131.9h1.3v1.3h-1.3zM435.2 137.5h1.3v1.3h-1.3zM433.3 136.4h1.3v1.3h-1.3zM435.5 133.7h1.3v1.3h-1.3zM430.8 131.6h1.3v1.3h-1.3zM439.0 138.5h1.3v1.3h-1.3zM431.1 134.3h1.3v1.3h-1.3zM450.1 129.1h1.3v1.3h-1.3zM431.5 137.6h1.3v1.3h-1.3zM442.3 129.9h1.3v1.3h-1.3zM445.3 137.7h1.3v1.3h-1.3zM448.3 138.7h1.3v1.3h-1.3zM442.0 129.4h1.3v1.3h-1.3zM447.2 136.1h1.3v1.3h-1.3zM451.3 134.9h1.3v1.3h-1.3zM440.1 132.7h1.3v1.3h-1.3zM439.5 134.2h1.3v1.3h-1.3zM450.5 141.9h1.3v1.3h-1.3zM442.3 141.2h1.3v1.3h-1.3zM451.7 131.3h1.3v1.3h-1.3zM432.4 137.6h1.3v1.3h-1.3zM436.4 137.3h1.3v1.3h-1.3zM442.0 130.3h1.3v1.3h-1.3zM440.7 130.6h1.3v1.3h-1.3zM440.5 138.7h1.3v1.3h-1.3zM448.8 139.0h1.3v1.3h-1.3zM432.6 136.3h1.3v1.3h-1.3zM447.1 134.1h1.3v1.3h-1.3zM436.7 138.2h1.3v1.3h-1.3zM439.0 138.7h1.3v1.3h-1.3zM432.2 136.1h1.3v1.3h-1.3zM426.0 138.6h1.3v1.3h-1.3zM433.9 140.8h1.3v1.3h-1.3zM425.7 131.6h1.3v1.3h-1.3zM436.8 138.0h1.3v1.3h-1.3zM443.6 142.6h1.3v1.3h-1.3zM444.7 137.3h1.3v1.3h-1.3zM441.6 134.1h1.3v1.3h-1.3zM437.8 131.7h1.3v1.3h-1.3zM443.1 145.2h1.3v1.3h-1.3zM443.3 132.9h1.3v1.3h-1.3zM446.4 138.7h1.3v1.3h-1.3zM456.2 138.2h1.3v1.3h-1.3zM436.9 139.1h1.3v1.3h-1.3zM448.2 136.2h1.3v1.3h-1.3zM436.4 135.1h1.3v1.3h-1.3zM437.2 131.0h1.3v1.3h-1.3zM447.2 126.1h1.3v1.3h-1.3zM445.6 131.6h1.3v1.3h-1.3zM433.9 141.1h1.3v1.3h-1.3zM433.1 138.8h1.3v1.3h-1.3zM440.1 137.9h1.3v1.3h-1.3zM448.5 138.1h1.3v1.3h-1.3zM458.1 127.2h1.3v1.3h-1.3zM439.5 138.4h1.3v1.3h-1.3zM443.0 136.2h1.3v1.3h-1.3zM443.0 131.7h1.3v1.3h-1.3zM436.6 137.9h1.3v1.3h-1.3zM438.5 133.1h1.3v1.3h-1.3zM441.6 135.1h1.3v1.3h-1.3zM446.9 132.8h1.3v1.3h-1.3zM431.7 138.2h1.3v1.3h-1.3zM441.3 144.7h1.3v1.3h-1.3zM430.7 135.9h1.3v1.3h-1.3zM447.6 130.2h1.3v1.3h-1.3zM442.0 133.5h1.3v1.3h-1.3zM438.4 138.5h1.3v1.3h-1.3zM434.2 135.9h1.3v1.3h-1.3zM444.1 133.3h1.3v1.3h-1.3zM434.1 138.9h1.3v1.3h-1.3zM435.1 142.1h1.3v1.3h-1.3zM426.6 137.4h1.3v1.3h-1.3zM431.5 142.9h1.3v1.3h-1.3zM443.8 131.4h1.3v1.3h-1.3zM455.9 130.0h1.3v1.3h-1.3zM441.5 140.6h1.3v1.3h-1.3zM443.7 132.9h1.3v1.3h-1.3zM444.3 132.4h1.3v1.3h-1.3zM443.1 131.4h1.3v1.3h-1.3zM454.4 130.9h1.3v1.3h-1.3zM439.1 136.1h1.3v1.3h-1.3zM432.9 132.6h1.3v1.3h-1.3zM435.3 145.0h1.3v1.3h-1.3zM432.0 139.0h1.3v1.3h-1.3zM441.9 142.0h1.3v1.3h-1.3zM435.9 135.4h1.3v1.3h-1.3zM445.6 133.6h1.3v1.3h-1.3zM447.8 139.7h1.3v1.3h-1.3zM428.1 140.5h1.3v1.3h-1.3zM431.5 138.9h1.3v1.3h-1.3zM437.1 127.4h1.3v1.3h-1.3zM441.9 137.0h1.3v1.3h-1.3zM435.7 136.3h1.3v1.3h-1.3zM441.9 131.6h1.3v1.3h-1.3zM438.0 137.1h1.3v1.3h-1.3zM439.0 139.6h1.3v1.3h-1.3zM439.5 138.4h1.3v1.3h-1.3zM437.6 142.4h1.3v1.3h-1.3zM446.4 138.2h1.3v1.3h-1.3zM439.1 134.9h1.3v1.3h-1.3zM445.3 128.5h1.3v1.3h-1.3zM440.1 137.0h1.3v1.3h-1.3zM453.7 137.7h1.3v1.3h-1.3zM449.9 135.9h1.3v1.3h-1.3zM430.6 133.4h1.3v1.3h-1.3zM432.2 137.8h1.3v1.3h-1.3zM427.7 138.5h1.3v1.3h-1.3zM444.8 136.9h1.3v1.3h-1.3zM432.2 136.6h1.3v1.3h-1.3zM434.3 133.4h1.3v1.3h-1.3zM445.1 134.3h1.3v1.3h-1.3zM441.2 135.0h1.3v1.3h-1.3zM441.4 133.5h1.3v1.3h-1.3zM438.1 140.0h1.3v1.3h-1.3zM443.4 133.9h1.3v1.3h-1.3zM426.8 136.6h1.3v1.3h-1.3zM428.0 137.4h1.3v1.3h-1.3zM453.5 133.9h1.3v1.3h-1.3zM440.0 139.2h1.3v1.3h-1.3zM428.1 134.7h1.3v1.3h-1.3zM454.4 132.9h1.3v1.3h-1.3zM442.0 129.6h1.3v1.3h-1.3zM436.4 127.6h1.3v1.3h-1.3zM441.4 132.9h1.3v1.3h-1.3zM441.2 139.6h1.3v1.3h-1.3zM446.4 134.0h1.3v1.3h-1.3zM442.4 132.0h1.3v1.3h-1.3zM436.0 127.7h1.3v1.3h-1.3zM449.7 134.0h1.3v1.3h-1.3zM436.2 134.5h1.3v1.3h-1.3zM443.1 132.8h1.3v1.3h-1.3zM450.5 140.3h1.3v1.3h-1.3zM431.7 135.8h1.3v1.3h-1.3zM446.1 143.7h1.3v1.3h-1.3zM434.2 128.4h1.3v1.3h-1.3zM433.4 139.3h1.3v1.3h-1.3zM436.7 135.7h1.3v1.3h-1.3zM450.0 135.0h1.3v1.3h-1.3zM430.9 142.8h1.3v1.3h-1.3zM440.9 129.2h1.3v1.3h-1.3zM435.0 134.7h1.3v1.3h-1.3zM430.3 133.5h1.3v1.3h-1.3zM439.6 140.3h1.3v1.3h-1.3zM450.2 137.0h1.3v1.3h-1.3zM435.2 137.3h1.3v1.3h-1.3zM436.7 128.6h1.3v1.3h-1.3zM440.2 136.0h1.3v1.3h-1.3zM424.0 132.1h1.3v1.3h-1.3zM451.5 138.1h1.3v1.3h-1.3zM430.8 132.5h1.3v1.3h-1.3zM447.5 135.0h1.3v1.3h-1.3zM457.5 136.2h1.3v1.3h-1.3zM451.8 133.6h1.3v1.3h-1.3zM429.3 132.7h1.3v1.3h-1.3zM454.7 142.7h1.3v1.3h-1.3zM434.0 139.1h1.3v1.3h-1.3zM443.1 135.3h1.3v1.3h-1.3zM444.4 133.8h1.3v1.3h-1.3zM427.9 136.8h1.3v1.3h-1.3zM439.0 131.1h1.3v1.3h-1.3zM434.9 128.6h1.3v1.3h-1.3zM442.1 139.2h1.3v1.3h-1.3zM429.8 133.7h1.3v1.3h-1.3zM438.3 135.3h1.3v1.3h-1.3zM440.3 139.4h1.3v1.3h-1.3zM446.9 130.4h1.3v1.3h-1.3zM438.7 141.0h1.3v1.3h-1.3zM434.4 146.7h1.3v1.3h-1.3zM434.7 128.0h1.3v1.3h-1.3zM436.9 137.3h1.3v1.3h-1.3zM441.1 132.8h1.3v1.3h-1.3zM447.7 128.9h1.3v1.3h-1.3zM446.4 130.6h1.3v1.3h-1.3zM438.9 134.8h1.3v1.3h-1.3zM439.3 137.7h1.3v1.3h-1.3zM448.5 136.5h1.3v1.3h-1.3zM448.1 136.5h1.3v1.3h-1.3zM442.7 137.5h1.3v1.3h-1.3zM446.9 122.9h1.3v1.3h-1.3zM433.0 132.0h1.3v1.3h-1.3zM443.4 139.1h1.3v1.3h-1.3zM442.2 134.2h1.3v1.3h-1.3zM436.0 138.1h1.3v1.3h-1.3zM440.7 137.8h1.3v1.3h-1.3zM439.3 131.8h1.3v1.3h-1.3zM446.6 134.4h1.3v1.3h-1.3zM438.1 131.8h1.3v1.3h-1.3zM440.3 134.0h1.3v1.3h-1.3zM445.6 134.5h1.3v1.3h-1.3zM439.6 131.8h1.3v1.3h-1.3zM449.3 135.0h1.3v1.3h-1.3zM449.2 139.7h1.3v1.3h-1.3zM440.5 136.8h1.3v1.3h-1.3zM430.3 135.3h1.3v1.3h-1.3zM432.5 131.2h1.3v1.3h-1.3zM455.5 136.6h1.3v1.3h-1.3zM444.4 128.5h1.3v1.3h-1.3zM446.2 134.9h1.3v1.3h-1.3zM444.3 143.4h1.3v1.3h-1.3zM439.1 139.8h1.3v1.3h-1.3zM443.1 141.7h1.3v1.3h-1.3zM446.1 138.1h1.3v1.3h-1.3zM440.2 131.5h1.3v1.3h-1.3zM441.3 140.3h1.3v1.3h-1.3zM444.5 141.3h1.3v1.3h-1.3zM442.1 132.4h1.3v1.3h-1.3zM446.9 136.0h1.3v1.3h-1.3zM454.5 134.4h1.3v1.3h-1.3zM449.6 132.8h1.3v1.3h-1.3zM430.1 135.8h1.3v1.3h-1.3zM434.0 140.2h1.3v1.3h-1.3zM429.1 131.4h1.3v1.3h-1.3zM438.8 137.9h1.3v1.3h-1.3zM437.8 136.2h1.3v1.3h-1.3zM436.6 140.5h1.3v1.3h-1.3zM446.1 130.4h1.3v1.3h-1.3zM453.1 133.4h1.3v1.3h-1.3zM455.4 132.9h1.3v1.3h-1.3zM437.8 138.1h1.3v1.3h-1.3zM436.0 129.4h1.3v1.3h-1.3zM428.4 141.1h1.3v1.3h-1.3zM431.5 130.3h1.3v1.3h-1.3zM454.3 134.0h1.3v1.3h-1.3zM444.0 132.9h1.3v1.3h-1.3zM443.1 132.4h1.3v1.3h-1.3zM448.3 128.1h1.3v1.3h-1.3zM441.6 133.7h1.3v1.3h-1.3zM443.2 140.1h1.3v1.3h-1.3zM440.5 139.6h1.3v1.3h-1.3zM456.0 131.3h1.3v1.3h-1.3zM442.4 137.4h1.3v1.3h-1.3zM441.8 129.9h1.3v1.3h-1.3zM459.0 133.9h1.3v1.3h-1.3zM441.3 137.0h1.3v1.3h-1.3zM450.5 129.1h1.3v1.3h-1.3zM447.9 137.9h1.3v1.3h-1.3zM463.3 127.9h1.3v1.3h-1.3zM452.0 129.7h1.3v1.3h-1.3zM447.0 133.1h1.3v1.3h-1.3zM436.4 127.9h1.3v1.3h-1.3zM444.3 129.9h1.3v1.3h-1.3zM446.7 128.7h1.3v1.3h-1.3zM454.4 129.5h1.3v1.3h-1.3zM443.4 133.2h1.3v1.3h-1.3zM435.3 140.2h1.3v1.3h-1.3zM446.1 134.9h1.3v1.3h-1.3zM454.1 125.6h1.3v1.3h-1.3zM431.0 136.8h1.3v1.3h-1.3zM447.1 138.1h1.3v1.3h-1.3zM445.9 133.3h1.3v1.3h-1.3zM432.3 129.9h1.3v1.3h-1.3zM432.3 137.6h1.3v1.3h-1.3zM438.9 133.1h1.3v1.3h-1.3zM437.1 138.4h1.3v1.3h-1.3zM445.2 136.1h1.3v1.3h-1.3zM446.1 128.7h1.3v1.3h-1.3zM437.0 137.0h1.3v1.3h-1.3zM433.9 135.9h1.3v1.3h-1.3zM429.9 130.6h1.3v1.3h-1.3zM435.7 138.9h1.3v1.3h-1.3zM446.9 127.4h1.3v1.3h-1.3zM437.6 132.2h1.3v1.3h-1.3zM442.4 134.5h1.3v1.3h-1.3zM452.0 133.6h1.3v1.3h-1.3zM444.2 136.0h1.3v1.3h-1.3zM445.0 125.5h1.3v1.3h-1.3zM448.5 137.9h1.3v1.3h-1.3zM447.0 129.8h1.3v1.3h-1.3zM453.8 130.1h1.3v1.3h-1.3zM441.4 136.9h1.3v1.3h-1.3zM444.4 133.0h1.3v1.3h-1.3zM453.4 126.6h1.3v1.3h-1.3zM430.3 141.3h1.3v1.3h-1.3zM442.2 140.1h1.3v1.3h-1.3zM447.5 138.8h1.3v1.3h-1.3zM444.9 138.4h1.3v1.3h-1.3zM460.5 134.9h1.3v1.3h-1.3zM434.9 133.5h1.3v1.3h-1.3zM442.0 142.5h1.3v1.3h-1.3zM430.3 136.9h1.3v1.3h-1.3zM446.9 135.8h1.3v1.3h-1.3zM426.0 138.8h1.3v1.3h-1.3zM440.7 136.7h1.3v1.3h-1.3zM434.9 135.4h1.3v1.3h-1.3zM443.5 135.6h1.3v1.3h-1.3zM432.1 136.9h1.3v1.3h-1.3zM438.9 142.2h1.3v1.3h-1.3zM445.9 135.9h1.3v1.3h-1.3zM434.4 136.2h1.3v1.3h-1.3zM446.7 133.9h1.3v1.3h-1.3zM422.3 140.3h1.3v1.3h-1.3zM434.6 135.7h1.3v1.3h-1.3zM443.2 132.0h1.3v1.3h-1.3zM455.3 138.0h1.3v1.3h-1.3zM439.1 137.3h1.3v1.3h-1.3zM428.8 140.2h1.3v1.3h-1.3zM430.6 142.1h1.3v1.3h-1.3zM450.4 131.9h1.3v1.3h-1.3zM447.4 130.9h1.3v1.3h-1.3zM449.7 137.6h1.3v1.3h-1.3zM439.5 143.2h1.3v1.3h-1.3zM446.7 131.9h1.3v1.3h-1.3zM439.3 134.3h1.3v1.3h-1.3zM430.2 133.8h1.3v1.3h-1.3zM442.5 134.4h1.3v1.3h-1.3zM444.2 141.8h1.3v1.3h-1.3zM433.8 133.2h1.3v1.3h-1.3zM442.8 134.9h1.3v1.3h-1.3zM442.5 133.7h1.3v1.3h-1.3zM440.5 141.6h1.3v1.3h-1.3zM452.1 136.4h1.3v1.3h-1.3zM435.2 143.1h1.3v1.3h-1.3zM435.3 134.1h1.3v1.3h-1.3zM444.3 125.9h1.3v1.3h-1.3zM440.8 133.6h1.3v1.3h-1.3zM437.4 136.4h1.3v1.3h-1.3zM434.2 137.2h1.3v1.3h-1.3zM425.2 135.6h1.3v1.3h-1.3zM439.6 128.1h1.3v1.3h-1.3zM448.1 136.2h1.3v1.3h-1.3zM429.6 140.1h1.3v1.3h-1.3zM440.7 135.1h1.3v1.3h-1.3zM444.4 132.1h1.3v1.3h-1.3zM450.2 135.5h1.3v1.3h-1.3zM442.8 130.7h1.3v1.3h-1.3zM442.9 126.5h1.3v1.3h-1.3zM433.5 135.9h1.3v1.3h-1.3zM431.6 129.7h1.3v1.3h-1.3zM437.5 130.1h1.3v1.3h-1.3zM446.3 140.6h1.3v1.3h-1.3zM430.2 132.7h1.3v1.3h-1.3zM438.0 136.0h1.3v1.3h-1.3zM439.7 141.2h1.3v1.3h-1.3zM443.7 138.2h1.3v1.3h-1.3zM457.9 132.3h1.3v1.3h-1.3zM462.8 127.2h1.3v1.3h-1.3zM432.6 140.0h1.3v1.3h-1.3zM428.8 134.7h1.3v1.3h-1.3zM448.6 133.8h1.3v1.3h-1.3zM450.6 131.1h1.3v1.3h-1.3zM440.6 134.6h1.3v1.3h-1.3zM466.1 126.9h1.3v1.3h-1.3zM453.7 134.7h1.3v1.3h-1.3zM483.2 113.1h1.3v1.3h-1.3zM485.3 119.3h1.3v1.3h-1.3zM431.9 132.5h1.3v1.3h-1.3zM435.3 137.9h1.3v1.3h-1.3zM466.7 128.0h1.3v1.3h-1.3zM447.1 128.3h1.3v1.3h-1.3zM432.0 136.5h1.3v1.3h-1.3zM456.1 133.8h1.3v1.3h-1.3zM436.5 134.4h1.3v1.3h-1.3zM484.6 118.3h1.3v1.3h-1.3zM441.3 129.7h1.3v1.3h-1.3zM480.3 116.1h1.3v1.3h-1.3zM451.7 131.2h1.3v1.3h-1.3zM481.7 117.8h1.3v1.3h-1.3zM434.8 136.6h1.3v1.3h-1.3zM493.4 113.7h1.3v1.3h-1.3zM436.0 140.5h1.3v1.3h-1.3zM431.8 134.7h1.3v1.3h-1.3zM476.1 123.2h1.3v1.3h-1.3zM448.6 124.2h1.3v1.3h-1.3zM439.4 130.6h1.3v1.3h-1.3zM449.2 134.7h1.3v1.3h-1.3zM459.1 124.6h1.3v1.3h-1.3zM453.1 127.8h1.3v1.3h-1.3zM446.1 136.8h1.3v1.3h-1.3zM486.1 114.4h1.3v1.3h-1.3zM459.2 127.2h1.3v1.3h-1.3zM430.6 135.3h1.3v1.3h-1.3zM466.7 125.0h1.3v1.3h-1.3zM464.8 127.0h1.3v1.3h-1.3zM468.3 129.2h1.3v1.3h-1.3zM471.5 124.9h1.3v1.3h-1.3zM447.7 133.4h1.3v1.3h-1.3zM487.5 113.6h1.3v1.3h-1.3zM460.6 128.8h1.3v1.3h-1.3zM458.1 133.8h1.3v1.3h-1.3zM445.4 135.0h1.3v1.3h-1.3zM458.8 129.8h1.3v1.3h-1.3zM440.0 129.2h1.3v1.3h-1.3zM429.8 138.6h1.3v1.3h-1.3zM454.7 135.7h1.3v1.3h-1.3zM448.5 133.3h1.3v1.3h-1.3zM448.1 131.7h1.3v1.3h-1.3zM439.0 138.9h1.3v1.3h-1.3zM479.6 116.9h1.3v1.3h-1.3zM468.6 125.7h1.3v1.3h-1.3zM440.3 137.3h1.3v1.3h-1.3zM493.0 112.2h1.3v1.3h-1.3zM443.6 135.4h1.3v1.3h-1.3zM458.4 129.1h1.3v1.3h-1.3zM464.2 131.1h1.3v1.3h-1.3zM479.9 116.6h1.3v1.3h-1.3zM488.3 115.7h1.3v1.3h-1.3zM438.2 132.9h1.3v1.3h-1.3zM469.5 125.3h1.3v1.3h-1.3zM473.5 115.3h1.3v1.3h-1.3zM455.6 128.3h1.3v1.3h-1.3zM483.9 119.3h1.3v1.3h-1.3zM477.4 121.4h1.3v1.3h-1.3zM439.6 136.1h1.3v1.3h-1.3zM461.7 131.3h1.3v1.3h-1.3zM453.8 134.1h1.3v1.3h-1.3zM452.2 130.7h1.3v1.3h-1.3zM491.8 111.9h1.3v1.3h-1.3zM459.2 128.6h1.3v1.3h-1.3zM486.6 115.5h1.3v1.3h-1.3zM453.1 131.7h1.3v1.3h-1.3zM476.5 120.5h1.3v1.3h-1.3zM458.2 133.2h1.3v1.3h-1.3zM434.8 136.8h1.3v1.3h-1.3zM462.2 125.7h1.3v1.3h-1.3zM493.1 108.6h1.3v1.3h-1.3zM451.9 129.5h1.3v1.3h-1.3zM480.8 120.0h1.3v1.3h-1.3zM436.2 134.7h1.3v1.3h-1.3zM484.7 118.1h1.3v1.3h-1.3zM471.3 120.1h1.3v1.3h-1.3zM468.4 126.1h1.3v1.3h-1.3zM453.7 129.1h1.3v1.3h-1.3zM452.1 136.8h1.3v1.3h-1.3zM488.0 120.5h1.3v1.3h-1.3zM456.8 133.4h1.3v1.3h-1.3zM466.4 125.9h1.3v1.3h-1.3zM429.3 140.8h1.3v1.3h-1.3zM444.0 132.3h1.3v1.3h-1.3zM476.7 123.2h1.3v1.3h-1.3zM437.6 139.4h1.3v1.3h-1.3zM443.3 140.1h1.3v1.3h-1.3zM477.9 117.0h1.3v1.3h-1.3zM456.4 125.1h1.3v1.3h-1.3zM436.7 138.7h1.3v1.3h-1.3zM443.3 138.1h1.3v1.3h-1.3zM492.0 110.3h1.3v1.3h-1.3zM456.9 131.5h1.3v1.3h-1.3zM469.2 125.8h1.3v1.3h-1.3zM474.4 123.5h1.3v1.3h-1.3zM439.2 132.4h1.3v1.3h-1.3zM438.6 138.2h1.3v1.3h-1.3zM448.9 129.1h1.3v1.3h-1.3zM443.4 138.2h1.3v1.3h-1.3zM447.7 134.3h1.3v1.3h-1.3zM454.7 127.7h1.3v1.3h-1.3zM433.6 137.9h1.3v1.3h-1.3zM438.7 132.6h1.3v1.3h-1.3zM489.0 109.7h1.3v1.3h-1.3zM459.9 127.5h1.3v1.3h-1.3zM478.5 117.8h1.3v1.3h-1.3zM453.3 135.4h1.3v1.3h-1.3zM472.5 121.9h1.3v1.3h-1.3zM434.4 136.1h1.3v1.3h-1.3zM478.6 118.4h1.3v1.3h-1.3zM449.2 132.1h1.3v1.3h-1.3zM495.7 114.1h1.3v1.3h-1.3zM452.8 131.3h1.3v1.3h-1.3zM471.7 119.5h1.3v1.3h-1.3zM445.3 135.9h1.3v1.3h-1.3zM433.4 139.5h1.3v1.3h-1.3zM441.3 135.9h1.3v1.3h-1.3zM461.5 128.4h1.3v1.3h-1.3zM486.3 111.0h1.3v1.3h-1.3zM488.8 114.9h1.3v1.3h-1.3zM481.2 118.1h1.3v1.3h-1.3zM446.3 131.4h1.3v1.3h-1.3zM449.9 132.5h1.3v1.3h-1.3zM482.9 118.2h1.3v1.3h-1.3zM486.1 114.9h1.3v1.3h-1.3zM443.7 134.6h1.3v1.3h-1.3zM440.7 140.5h1.3v1.3h-1.3zM432.7 136.1h1.3v1.3h-1.3zM474.4 124.5h1.3v1.3h-1.3zM494.5 117.5h1.3v1.3h-1.3zM482.6 119.8h1.3v1.3h-1.3zM430.7 139.8h1.3v1.3h-1.3zM452.2 132.8h1.3v1.3h-1.3zM434.4 138.5h1.3v1.3h-1.3zM440.3 133.6h1.3v1.3h-1.3zM436.8 135.8h1.3v1.3h-1.3zM449.6 135.6h1.3v1.3h-1.3zM455.9 127.9h1.3v1.3h-1.3zM487.5 114.1h1.3v1.3h-1.3zM463.4 125.1h1.3v1.3h-1.3zM483.3 116.6h1.3v1.3h-1.3zM453.5 131.3h1.3v1.3h-1.3zM440.7 136.2h1.3v1.3h-1.3zM465.2 127.4h1.3v1.3h-1.3zM453.8 130.9h1.3v1.3h-1.3zM473.3 120.2h1.3v1.3h-1.3zM487.8 114.4h1.3v1.3h-1.3zM432.9 136.4h1.3v1.3h-1.3zM480.8 116.8h1.3v1.3h-1.3zM445.5 132.3h1.3v1.3h-1.3zM425.5 137.4h1.3v1.3h-1.3zM466.8 124.1h1.3v1.3h-1.3zM433.7 140.6h1.3v1.3h-1.3zM435.7 141.2h1.3v1.3h-1.3zM459.3 127.4h1.3v1.3h-1.3zM488.9 113.9h1.3v1.3h-1.3zM441.5 136.6h1.3v1.3h-1.3zM452.8 126.6h1.3v1.3h-1.3zM482.2 112.0h1.3v1.3h-1.3zM472.6 124.3h1.3v1.3h-1.3zM446.9 135.3h1.3v1.3h-1.3zM472.2 119.8h1.3v1.3h-1.3zM462.2 123.3h1.3v1.3h-1.3zM455.5 132.7h1.3v1.3h-1.3zM469.0 127.9h1.3v1.3h-1.3zM462.3 125.6h1.3v1.3h-1.3zM488.9 109.6h1.3v1.3h-1.3zM463.4 130.2h1.3v1.3h-1.3zM448.9 132.6h1.3v1.3h-1.3zM431.7 138.5h1.3v1.3h-1.3zM442.6 137.4h1.3v1.3h-1.3zM451.3 135.0h1.3v1.3h-1.3zM472.9 121.1h1.3v1.3h-1.3zM439.9 133.8h1.3v1.3h-1.3zM439.3 131.1h1.3v1.3h-1.3zM484.9 116.4h1.3v1.3h-1.3zM471.3 118.6h1.3v1.3h-1.3zM471.4 122.1h1.3v1.3h-1.3zM457.4 130.1h1.3v1.3h-1.3zM439.0 135.4h1.3v1.3h-1.3zM483.6 115.8h1.3v1.3h-1.3zM472.0 125.2h1.3v1.3h-1.3zM456.3 128.5h1.3v1.3h-1.3zM458.6 128.4h1.3v1.3h-1.3zM475.5 117.8h1.3v1.3h-1.3zM473.3 128.4h1.3v1.3h-1.3zM468.5 125.4h1.3v1.3h-1.3zM445.5 135.1h1.3v1.3h-1.3zM439.7 136.2h1.3v1.3h-1.3zM436.9 138.0h1.3v1.3h-1.3zM451.2 133.5h1.3v1.3h-1.3zM464.0 128.5h1.3v1.3h-1.3zM443.6 132.2h1.3v1.3h-1.3zM457.7 131.3h1.3v1.3h-1.3zM491.9 112.3h1.3v1.3h-1.3zM470.3 124.9h1.3v1.3h-1.3zM445.4 136.7h1.3v1.3h-1.3zM449.9 136.5h1.3v1.3h-1.3zM458.2 128.5h1.3v1.3h-1.3zM482.9 117.0h1.3v1.3h-1.3zM468.1 125.5h1.3v1.3h-1.3zM474.7 119.3h1.3v1.3h-1.3zM440.5 136.3h1.3v1.3h-1.3zM486.0 114.9h1.3v1.3h-1.3zM463.4 129.3h1.3v1.3h-1.3zM488.6 113.6h1.3v1.3h-1.3zM470.0 120.6h1.3v1.3h-1.3zM471.5 114.4h1.3v1.3h-1.3zM481.0 118.3h1.3v1.3h-1.3zM461.4 130.9h1.3v1.3h-1.3zM436.8 135.2h1.3v1.3h-1.3zM467.7 122.0h1.3v1.3h-1.3zM485.5 116.8h1.3v1.3h-1.3zM453.5 124.6h1.3v1.3h-1.3zM454.0 133.2h1.3v1.3h-1.3zM438.0 132.8h1.3v1.3h-1.3zM446.2 130.9h1.3v1.3h-1.3zM447.0 136.9h1.3v1.3h-1.3zM480.3 111.0h1.3v1.3h-1.3zM491.4 113.3h1.3v1.3h-1.3zM459.6 127.6h1.3v1.3h-1.3zM443.2 141.9h1.3v1.3h-1.3zM457.6 130.4h1.3v1.3h-1.3zM477.7 116.3h1.3v1.3h-1.3zM450.0 135.8h1.3v1.3h-1.3zM475.9 126.8h1.3v1.3h-1.3zM438.1 139.1h1.3v1.3h-1.3zM443.1 137.0h1.3v1.3h-1.3zM427.7 136.7h1.3v1.3h-1.3zM439.1 133.0h1.3v1.3h-1.3zM467.4 124.3h1.3v1.3h-1.3zM436.2 138.1h1.3v1.3h-1.3zM485.5 116.9h1.3v1.3h-1.3zM456.6 133.7h1.3v1.3h-1.3zM431.8 140.9h1.3v1.3h-1.3zM431.0 136.2h1.3v1.3h-1.3zM487.1 114.4h1.3v1.3h-1.3zM472.5 126.6h1.3v1.3h-1.3zM472.8 123.1h1.3v1.3h-1.3zM450.4 136.0h1.3v1.3h-1.3zM451.5 134.8h1.3v1.3h-1.3zM472.1 122.5h1.3v1.3h-1.3zM479.4 112.8h1.3v1.3h-1.3zM471.1 121.0h1.3v1.3h-1.3zM454.6 130.7h1.3v1.3h-1.3zM486.6 118.1h1.3v1.3h-1.3zM487.8 110.6h1.3v1.3h-1.3zM429.4 139.7h1.3v1.3h-1.3zM468.2 125.7h1.3v1.3h-1.3zM489.4 113.6h1.3v1.3h-1.3zM484.9 114.3h1.3v1.3h-1.3zM435.0 132.2h1.3v1.3h-1.3zM450.0 128.6h1.3v1.3h-1.3zM437.5 134.0h1.3v1.3h-1.3zM440.2 135.6h1.3v1.3h-1.3zM492.5 118.1h1.3v1.3h-1.3zM494.1 110.1h1.3v1.3h-1.3zM493.9 113.2h1.3v1.3h-1.3zM462.7 132.4h1.3v1.3h-1.3zM480.4 118.5h1.3v1.3h-1.3zM456.6 125.6h1.3v1.3h-1.3zM460.5 131.5h1.3v1.3h-1.3zM477.7 122.6h1.3v1.3h-1.3zM457.1 131.2h1.3v1.3h-1.3zM485.6 115.7h1.3v1.3h-1.3zM466.3 128.6h1.3v1.3h-1.3zM452.7 137.2h1.3v1.3h-1.3zM465.8 122.0h1.3v1.3h-1.3zM444.1 135.9h1.3v1.3h-1.3zM469.4 125.4h1.3v1.3h-1.3zM486.7 123.7h1.3v1.3h-1.3zM447.5 124.9h1.3v1.3h-1.3zM447.5 132.1h1.3v1.3h-1.3zM460.9 127.9h1.3v1.3h-1.3zM473.5 119.7h1.3v1.3h-1.3zM476.2 119.7h1.3v1.3h-1.3zM458.5 129.3h1.3v1.3h-1.3zM468.4 127.4h1.3v1.3h-1.3zM487.3 116.8h1.3v1.3h-1.3zM467.3 119.9h1.3v1.3h-1.3zM438.0 138.0h1.3v1.3h-1.3zM435.4 138.9h1.3v1.3h-1.3zM483.6 121.9h1.3v1.3h-1.3zM440.7 135.4h1.3v1.3h-1.3zM447.1 129.8h1.3v1.3h-1.3zM462.7 127.3h1.3v1.3h-1.3zM448.4 131.4h1.3v1.3h-1.3zM457.3 130.3h1.3v1.3h-1.3zM447.6 136.6h1.3v1.3h-1.3zM449.6 130.8h1.3v1.3h-1.3zM478.3 118.6h1.3v1.3h-1.3zM481.2 117.9h1.3v1.3h-1.3zM486.3 116.6h1.3v1.3h-1.3zM479.8 122.4h1.3v1.3h-1.3zM460.6 131.1h1.3v1.3h-1.3zM435.7 131.4h1.3v1.3h-1.3zM454.4 129.3h1.3v1.3h-1.3zM470.0 124.6h1.3v1.3h-1.3zM474.1 125.6h1.3v1.3h-1.3zM431.2 139.0h1.3v1.3h-1.3zM464.9 128.3h1.3v1.3h-1.3zM466.7 120.4h1.3v1.3h-1.3zM456.8 132.9h1.3v1.3h-1.3zM441.1 132.9h1.3v1.3h-1.3zM441.7 134.3h1.3v1.3h-1.3zM464.6 121.7h1.3v1.3h-1.3zM441.5 137.2h1.3v1.3h-1.3zM469.6 122.0h1.3v1.3h-1.3zM441.3 132.2h1.3v1.3h-1.3zM497.4 110.9h1.3v1.3h-1.3zM494.6 109.4h1.3v1.3h-1.3zM434.9 132.8h1.3v1.3h-1.3zM445.6 139.2h1.3v1.3h-1.3zM443.7 136.1h1.3v1.3h-1.3zM452.0 133.4h1.3v1.3h-1.3zM459.8 128.7h1.3v1.3h-1.3zM465.5 126.7h1.3v1.3h-1.3zM430.1 137.6h1.3v1.3h-1.3zM444.0 131.1h1.3v1.3h-1.3zM492.3 112.2h1.3v1.3h-1.3zM450.9 132.8h1.3v1.3h-1.3zM479.0 116.7h1.3v1.3h-1.3zM431.6 138.3h1.3v1.3h-1.3zM491.5 112.1h1.3v1.3h-1.3zM456.5 130.9h1.3v1.3h-1.3zM453.4 128.7h1.3v1.3h-1.3zM486.0 119.3h1.3v1.3h-1.3zM489.2 115.5h1.3v1.3h-1.3zM452.7 127.3h1.3v1.3h-1.3zM470.6 130.2h1.3v1.3h-1.3zM442.4 133.7h1.3v1.3h-1.3zM435.3 134.3h1.3v1.3h-1.3zM484.2 117.7h1.3v1.3h-1.3zM433.7 137.8h1.3v1.3h-1.3zM435.8 136.9h1.3v1.3h-1.3zM477.6 120.7h1.3v1.3h-1.3zM445.8 130.9h1.3v1.3h-1.3zM476.0 123.1h1.3v1.3h-1.3zM470.9 126.7h1.3v1.3h-1.3zM481.5 117.9h1.3v1.3h-1.3zM452.9 133.3h1.3v1.3h-1.3zM458.8 130.7h1.3v1.3h-1.3zM436.1 138.8h1.3v1.3h-1.3zM457.9 131.6h1.3v1.3h-1.3zM464.9 124.6h1.3v1.3h-1.3zM472.7 121.3h1.3v1.3h-1.3zM482.5 116.1h1.3v1.3h-1.3zM464.3 128.7h1.3v1.3h-1.3zM482.8 117.9h1.3v1.3h-1.3zM426.8 140.4h1.3v1.3h-1.3zM478.9 117.1h1.3v1.3h-1.3zM494.6 116.1h1.3v1.3h-1.3zM443.4 131.8h1.3v1.3h-1.3zM447.0 142.0h1.3v1.3h-1.3zM479.9 119.2h1.3v1.3h-1.3zM470.5 125.6h1.3v1.3h-1.3zM479.4 122.7h1.3v1.3h-1.3zM454.3 137.3h1.3v1.3h-1.3zM480.7 122.3h1.3v1.3h-1.3zM440.3 134.3h1.3v1.3h-1.3zM493.9 110.7h1.3v1.3h-1.3zM483.1 116.2h1.3v1.3h-1.3zM486.9 115.2h1.3v1.3h-1.3zM445.7 131.3h1.3v1.3h-1.3zM443.1 134.8h1.3v1.3h-1.3zM432.1 145.4h1.3v1.3h-1.3zM457.0 132.0h1.3v1.3h-1.3zM458.5 131.7h1.3v1.3h-1.3zM452.7 133.1h1.3v1.3h-1.3zM458.2 130.5h1.3v1.3h-1.3zM471.4 120.8h1.3v1.3h-1.3zM489.0 115.1h1.3v1.3h-1.3zM462.3 128.8h1.3v1.3h-1.3zM465.9 123.6h1.3v1.3h-1.3zM460.4 132.9h1.3v1.3h-1.3zM474.2 117.3h1.3v1.3h-1.3zM446.5 129.6h1.3v1.3h-1.3zM481.8 115.9h1.3v1.3h-1.3zM454.4 128.7h1.3v1.3h-1.3zM487.6 103.8h1.3v1.3h-1.3zM452.3 129.9h1.3v1.3h-1.3zM494.9 116.4h1.3v1.3h-1.3zM486.4 116.1h1.3v1.3h-1.3zM435.3 134.1h1.3v1.3h-1.3zM455.6 136.4h1.3v1.3h-1.3zM433.8 137.5h1.3v1.3h-1.3zM458.3 130.8h1.3v1.3h-1.3zM434.8 137.9h1.3v1.3h-1.3zM444.4 137.1h1.3v1.3h-1.3zM481.0 114.8h1.3v1.3h-1.3zM457.6 128.7h1.3v1.3h-1.3zM455.1 133.7h1.3v1.3h-1.3zM466.2 127.7h1.3v1.3h-1.3zM455.3 135.0h1.3v1.3h-1.3zM476.5 122.7h1.3v1.3h-1.3zM435.7 136.7h1.3v1.3h-1.3zM449.8 134.2h1.3v1.3h-1.3zM455.6 134.1h1.3v1.3h-1.3zM439.8 131.9h1.3v1.3h-1.3zM434.7 138.8h1.3v1.3h-1.3zM448.7 133.2h1.3v1.3h-1.3zM461.3 128.7h1.3v1.3h-1.3zM434.8 142.7h1.3v1.3h-1.3zM478.0 123.3h1.3v1.3h-1.3zM451.8 127.9h1.3v1.3h-1.3zM475.4 119.1h1.3v1.3h-1.3zM434.6 139.0h1.3v1.3h-1.3zM494.8 109.1h1.3v1.3h-1.3zM423.0 139.4h1.3v1.3h-1.3zM460.3 124.6h1.3v1.3h-1.3zM464.0 123.4h1.3v1.3h-1.3zM459.6 129.5h1.3v1.3h-1.3zM471.7 123.6h1.3v1.3h-1.3zM439.8 136.3h1.3v1.3h-1.3zM444.2 134.1h1.3v1.3h-1.3zM482.7 113.6h1.3v1.3h-1.3zM488.9 116.1h1.3v1.3h-1.3zM493.9 110.5h1.3v1.3h-1.3zM448.7 132.7h1.3v1.3h-1.3zM436.6 136.3h1.3v1.3h-1.3zM440.0 136.1h1.3v1.3h-1.3zM439.8 134.8h1.3v1.3h-1.3zM481.4 118.8h1.3v1.3h-1.3zM482.3 125.3h1.3v1.3h-1.3zM436.2 138.0h1.3v1.3h-1.3zM488.8 115.8h1.3v1.3h-1.3zM457.3 132.0h1.3v1.3h-1.3zM460.0 125.8h1.3v1.3h-1.3zM457.5 123.4h1.3v1.3h-1.3zM456.6 130.1h1.3v1.3h-1.3zM437.0 141.6h1.3v1.3h-1.3zM493.1 112.5h1.3v1.3h-1.3zM479.7 118.2h1.3v1.3h-1.3zM451.7 128.9h1.3v1.3h-1.3zM450.5 127.3h1.3v1.3h-1.3zM483.9 123.2h1.3v1.3h-1.3zM447.0 135.7h1.3v1.3h-1.3zM488.9 119.2h1.3v1.3h-1.3zM477.1 119.2h1.3v1.3h-1.3zM478.4 116.7h1.3v1.3h-1.3zM482.2 111.9h1.3v1.3h-1.3zM483.1 96.6h1.3v1.3h-1.3zM470.0 88.3h1.3v1.3h-1.3zM479.1 83.9h1.3v1.3h-1.3zM480.8 101.1h1.3v1.3h-1.3zM477.8 84.7h1.3v1.3h-1.3zM487.5 108.7h1.3v1.3h-1.3zM476.8 96.9h1.3v1.3h-1.3zM487.0 111.1h1.3v1.3h-1.3zM477.5 100.2h1.3v1.3h-1.3zM485.8 98.0h1.3v1.3h-1.3zM485.3 100.0h1.3v1.3h-1.3zM480.6 93.2h1.3v1.3h-1.3zM479.6 105.5h1.3v1.3h-1.3zM481.0 117.1h1.3v1.3h-1.3zM482.4 74.7h1.3v1.3h-1.3zM490.5 108.8h1.3v1.3h-1.3zM481.5 84.1h1.3v1.3h-1.3zM483.7 92.7h1.3v1.3h-1.3zM477.7 88.6h1.3v1.3h-1.3zM480.5 87.7h1.3v1.3h-1.3zM491.7 101.7h1.3v1.3h-1.3zM482.8 110.0h1.3v1.3h-1.3zM468.1 91.7h1.3v1.3h-1.3zM479.3 94.0h1.3v1.3h-1.3zM490.7 112.7h1.3v1.3h-1.3zM490.0 93.1h1.3v1.3h-1.3zM474.5 88.2h1.3v1.3h-1.3zM488.2 102.9h1.3v1.3h-1.3zM489.5 91.2h1.3v1.3h-1.3zM491.2 111.2h1.3v1.3h-1.3zM488.4 102.0h1.3v1.3h-1.3zM493.0 92.2h1.3v1.3h-1.3zM485.5 109.3h1.3v1.3h-1.3zM472.3 100.2h1.3v1.3h-1.3zM472.3 83.2h1.3v1.3h-1.3zM480.1 100.7h1.3v1.3h-1.3zM481.1 98.7h1.3v1.3h-1.3zM487.7 103.7h1.3v1.3h-1.3zM475.5 80.0h1.3v1.3h-1.3zM485.9 97.3h1.3v1.3h-1.3zM475.2 103.2h1.3v1.3h-1.3zM480.6 87.9h1.3v1.3h-1.3zM472.0 79.3h1.3v1.3h-1.3zM471.1 79.8h1.3v1.3h-1.3zM496.1 114.2h1.3v1.3h-1.3zM477.7 99.0h1.3v1.3h-1.3zM480.3 110.9h1.3v1.3h-1.3zM480.6 95.6h1.3v1.3h-1.3zM487.7 104.0h1.3v1.3h-1.3zM482.7 82.9h1.3v1.3h-1.3zM489.4 102.0h1.3v1.3h-1.3zM477.9 89.4h1.3v1.3h-1.3zM491.3 109.4h1.3v1.3h-1.3zM485.0 91.9h1.3v1.3h-1.3zM490.9 98.4h1.3v1.3h-1.3zM487.3 100.2h1.3v1.3h-1.3zM483.6 87.7h1.3v1.3h-1.3zM483.2 95.4h1.3v1.3h-1.3zM479.7 109.7h1.3v1.3h-1.3zM479.5 94.3h1.3v1.3h-1.3zM483.9 113.8h1.3v1.3h-1.3zM474.4 102.5h1.3v1.3h-1.3zM486.0 107.8h1.3v1.3h-1.3zM476.1 109.3h1.3v1.3h-1.3zM484.9 105.3h1.3v1.3h-1.3zM484.5 108.4h1.3v1.3h-1.3zM487.2 100.9h1.3v1.3h-1.3zM482.8 97.4h1.3v1.3h-1.3zM482.4 112.8h1.3v1.3h-1.3zM485.9 101.8h1.3v1.3h-1.3zM490.0 113.8h1.3v1.3h-1.3zM473.1 90.7h1.3v1.3h-1.3zM471.0 98.0h1.3v1.3h-1.3zM486.7 109.5h1.3v1.3h-1.3zM481.1 105.3h1.3v1.3h-1.3zM480.4 103.4h1.3v1.3h-1.3zM480.6 97.7h1.3v1.3h-1.3zM486.1 102.8h1.3v1.3h-1.3zM487.2 107.9h1.3v1.3h-1.3zM481.0 99.6h1.3v1.3h-1.3zM467.8 92.6h1.3v1.3h-1.3zM485.4 102.3h1.3v1.3h-1.3zM479.1 94.9h1.3v1.3h-1.3zM480.1 104.7h1.3v1.3h-1.3zM481.6 93.2h1.3v1.3h-1.3zM482.3 99.1h1.3v1.3h-1.3zM470.6 87.5h1.3v1.3h-1.3zM466.1 91.1h1.3v1.3h-1.3zM473.9 109.0h1.3v1.3h-1.3zM478.2 112.1h1.3v1.3h-1.3zM483.9 95.7h1.3v1.3h-1.3zM473.0 89.2h1.3v1.3h-1.3zM483.4 103.3h1.3v1.3h-1.3zM476.3 95.2h1.3v1.3h-1.3zM479.8 79.2h1.3v1.3h-1.3zM491.0 114.8h1.3v1.3h-1.3zM478.3 100.5h1.3v1.3h-1.3zM486.1 93.7h1.3v1.3h-1.3zM480.9 90.3h1.3v1.3h-1.3zM485.2 109.7h1.3v1.3h-1.3zM485.5 105.8h1.3v1.3h-1.3zM483.9 97.6h1.3v1.3h-1.3zM485.8 108.0h1.3v1.3h-1.3zM475.1 84.0h1.3v1.3h-1.3zM476.9 93.6h1.3v1.3h-1.3zM480.5 87.3h1.3v1.3h-1.3zM469.9 84.9h1.3v1.3h-1.3zM493.5 110.5h1.3v1.3h-1.3zM479.0 88.1h1.3v1.3h-1.3zM483.5 102.6h1.3v1.3h-1.3zM480.0 81.0h1.3v1.3h-1.3zM476.8 96.1h1.3v1.3h-1.3zM482.3 108.1h1.3v1.3h-1.3zM478.6 91.9h1.3v1.3h-1.3zM475.2 97.5h1.3v1.3h-1.3zM474.2 87.4h1.3v1.3h-1.3zM485.2 102.8h1.3v1.3h-1.3zM488.6 103.1h1.3v1.3h-1.3zM481.9 90.3h1.3v1.3h-1.3zM467.9 79.8h1.3v1.3h-1.3zM483.5 98.4h1.3v1.3h-1.3zM474.2 95.7h1.3v1.3h-1.3zM482.9 82.4h1.3v1.3h-1.3zM475.1 88.3h1.3v1.3h-1.3zM470.3 96.0h1.3v1.3h-1.3zM484.2 116.9h1.3v1.3h-1.3zM480.1 86.4h1.3v1.3h-1.3zM489.2 116.8h1.3v1.3h-1.3zM489.2 110.2h1.3v1.3h-1.3zM494.7 106.1h1.3v1.3h-1.3zM486.4 80.1h1.3v1.3h-1.3zM476.7 86.6h1.3v1.3h-1.3zM490.4 109.5h1.3v1.3h-1.3zM479.8 94.6h1.3v1.3h-1.3zM479.5 113.7h1.3v1.3h-1.3zM484.1 95.2h1.3v1.3h-1.3zM479.9 95.0h1.3v1.3h-1.3zM479.6 85.3h1.3v1.3h-1.3zM486.9 118.4h1.3v1.3h-1.3zM489.1 79.3h1.3v1.3h-1.3zM475.0 76.4h1.3v1.3h-1.3zM462.3 78.6h1.3v1.3h-1.3zM497.3 79.2h1.3v1.3h-1.3zM477.8 80.0h1.3v1.3h-1.3zM463.8 79.3h1.3v1.3h-1.3zM473.5 75.6h1.3v1.3h-1.3zM480.7 77.0h1.3v1.3h-1.3zM471.0 77.1h1.3v1.3h-1.3zM481.7 75.9h1.3v1.3h-1.3zM471.6 78.5h1.3v1.3h-1.3zM469.3 74.0h1.3v1.3h-1.3zM482.2 77.8h1.3v1.3h-1.3zM468.8 78.5h1.3v1.3h-1.3zM481.4 77.0h1.3v1.3h-1.3zM480.1 77.4h1.3v1.3h-1.3zM480.3 78.5h1.3v1.3h-1.3zM490.9 80.3h1.3v1.3h-1.3zM490.9 79.1h1.3v1.3h-1.3zM467.9 80.4h1.3v1.3h-1.3zM485.6 79.7h1.3v1.3h-1.3zM466.6 74.8h1.3v1.3h-1.3zM495.6 77.2h1.3v1.3h-1.3zM473.5 81.1h1.3v1.3h-1.3zM466.1 79.5h1.3v1.3h-1.3zM467.8 75.5h1.3v1.3h-1.3zM488.4 79.5h1.3v1.3h-1.3zM465.3 73.1h1.3v1.3h-1.3zM478.6 75.3h1.3v1.3h-1.3zM469.7 78.4h1.3v1.3h-1.3zM497.0 84.4h1.3v1.3h-1.3zM487.8 80.4h1.3v1.3h-1.3zM475.0 76.7h1.3v1.3h-1.3zM467.7 75.8h1.3v1.3h-1.3zM473.3 77.5h1.3v1.3h-1.3zM480.4 80.1h1.3v1.3h-1.3zM494.6 80.7h1.3v1.3h-1.3zM467.6 77.6h1.3v1.3h-1.3zM470.2 74.4h1.3v1.3h-1.3zM483.9 78.7h1.3v1.3h-1.3zM479.2 76.8h1.3v1.3h-1.3zM474.4 78.7h1.3v1.3h-1.3zM493.7 80.6h1.3v1.3h-1.3zM466.3 78.1h1.3v1.3h-1.3zM484.1 102.3h1.3v1.3h-1.3zM476.2 110.4h1.3v1.3h-1.3zM504.3 90.4h1.3v1.3h-1.3zM497.8 97.3h1.3v1.3h-1.3zM468.9 81.0h1.3v1.3h-1.3zM480.9 104.1h1.3v1.3h-1.3zM475.9 103.6h1.3v1.3h-1.3zM491.8 76.9h1.3v1.3h-1.3zM475.4 102.5h1.3v1.3h-1.3zM495.9 80.5h1.3v1.3h-1.3zM488.7 89.0h1.3v1.3h-1.3zM502.8 98.4h1.3v1.3h-1.3zM503.7 109.3h1.3v1.3h-1.3zM483.1 88.7h1.3v1.3h-1.3zM470.5 86.4h1.3v1.3h-1.3zM462.9 117.6h1.3v1.3h-1.3zM496.9 103.3h1.3v1.3h-1.3zM464.5 115.7h1.3v1.3h-1.3zM482.3 101.7h1.3v1.3h-1.3zM468.2 114.3h1.3v1.3h-1.3zM459.7 92.6h1.3v1.3h-1.3zM478.1 115.8h1.3v1.3h-1.3zM484.5 98.7h1.3v1.3h-1.3zM478.3 103.6h1.3v1.3h-1.3zM459.1 112.4h1.3v1.3h-1.3zM453.6 115.3h1.3v1.3h-1.3zM446.8 115.6h1.3v1.3h-1.3zM448.6 117.0h1.3v1.3h-1.3zM459.4 135.7h1.3v1.3h-1.3zM433.1 148.6h1.3v1.3h-1.3zM430.6 144.5h1.3v1.3h-1.3zM447.9 133.6h1.3v1.3h-1.3zM434.7 131.1h1.3v1.3h-1.3zM450.5 140.0h1.3v1.3h-1.3zM427.3 140.1h1.3v1.3h-1.3zM428.6 148.9h1.3v1.3h-1.3zM463.2 133.2h1.3v1.3h-1.3zM453.7 137.4h1.3v1.3h-1.3zM429.4 141.8h1.3v1.3h-1.3zM467.9 143.5h1.3v1.3h-1.3zM467.4 141.4h1.3v1.3h-1.3zM459.5 130.6h1.3v1.3h-1.3zM426.4 131.1h1.3v1.3h-1.3zM458.7 147.7h1.3v1.3h-1.3zM431.4 137.9h1.3v1.3h-1.3zM463.5 143.0h1.3v1.3h-1.3zM442.0 148.7h1.3v1.3h-1.3zM459.5 129.2h1.3v1.3h-1.3zM450.8 139.4h1.3v1.3h-1.3zM450.7 140.3h1.3v1.3h-1.3zM460.3 145.1h1.3v1.3h-1.3zM427.8 147.8h1.3v1.3h-1.3zM445.5 145.0h1.3v1.3h-1.3zM433.2 136.1h1.3v1.3h-1.3zM443.5 149.9h1.3v1.3h-1.3zM467.5 143.7h1.3v1.3h-1.3zM437.6 137.2h1.3v1.3h-1.3zM433.2 145.7h1.3v1.3h-1.3zM452.5 144.7h1.3v1.3h-1.3zM442.1 128.4h1.3v1.3h-1.3zM439.5 134.1h1.3v1.3h-1.3zM441.0 135.0h1.3v1.3h-1.3zM439.2 147.0h1.3v1.3h-1.3zM424.8 135.4h1.3v1.3h-1.3zM449.3 134.6h1.3v1.3h-1.3zM453.9 144.4h1.3v1.3h-1.3zM439.8 143.3h1.3v1.3h-1.3zM437.1 137.5h1.3v1.3h-1.3zM133.1 234.7h1.3v1.3h-1.3zM125.2 235.3h1.3v1.3h-1.3zM132.3 233.3h1.3v1.3h-1.3zM127.9 231.5h1.3v1.3h-1.3zM140.4 229.2h1.3v1.3h-1.3zM134.9 231.0h1.3v1.3h-1.3zM127.5 239.4h1.3v1.3h-1.3zM139.8 244.9h1.3v1.3h-1.3zM127.5 229.0h1.3v1.3h-1.3zM124.6 229.3h1.3v1.3h-1.3zM139.0 238.5h1.3v1.3h-1.3zM130.8 232.8h1.3v1.3h-1.3zM134.6 235.6h1.3v1.3h-1.3zM128.8 238.4h1.3v1.3h-1.3zM125.7 229.5h1.3v1.3h-1.3zM122.8 233.9h1.3v1.3h-1.3zM129.7 241.9h1.3v1.3h-1.3zM121.6 244.6h1.3v1.3h-1.3zM131.9 245.7h1.3v1.3h-1.3zM126.8 225.7h1.3v1.3h-1.3zM136.6 231.5h1.3v1.3h-1.3zM146.9 238.9h1.3v1.3h-1.3zM138.2 231.5h1.3v1.3h-1.3zM131.2 238.2h1.3v1.3h-1.3zM133.0 239.7h1.3v1.3h-1.3zM140.6 227.0h1.3v1.3h-1.3zM128.2 230.9h1.3v1.3h-1.3zM125.2 234.5h1.3v1.3h-1.3zM139.6 244.1h1.3v1.3h-1.3zM121.6 238.4h1.3v1.3h-1.3zM134.9 234.7h1.3v1.3h-1.3zM142.5 240.5h1.3v1.3h-1.3zM139.8 237.6h1.3v1.3h-1.3zM135.8 241.2h1.3v1.3h-1.3zM125.8 228.1h1.3v1.3h-1.3zM132.2 231.8h1.3v1.3h-1.3zM137.6 231.4h1.3v1.3h-1.3zM134.8 230.2h1.3v1.3h-1.3zM143.9 238.3h1.3v1.3h-1.3zM124.6 237.0h1.3v1.3h-1.3zM132.6 224.1h1.3v1.3h-1.3zM125.0 238.8h1.3v1.3h-1.3zM126.7 235.1h1.3v1.3h-1.3zM140.7 243.4h1.3v1.3h-1.3zM132.9 239.3h1.3v1.3h-1.3zM141.7 239.0h1.3v1.3h-1.3zM122.8 238.2h1.3v1.3h-1.3zM124.3 232.9h1.3v1.3h-1.3zM132.1 236.7h1.3v1.3h-1.3zM131.3 241.0h1.3v1.3h-1.3zM130.4 238.2h1.3v1.3h-1.3zM136.3 234.4h1.3v1.3h-1.3zM130.3 235.4h1.3v1.3h-1.3zM124.8 232.7h1.3v1.3h-1.3zM134.6 237.5h1.3v1.3h-1.3zM122.9 240.8h1.3v1.3h-1.3zM136.3 241.9h1.3v1.3h-1.3zM139.4 237.7h1.3v1.3h-1.3zM135.4 236.0h1.3v1.3h-1.3zM125.6 236.5h1.3v1.3h-1.3zM134.6 238.4h1.3v1.3h-1.3zM128.0 233.3h1.3v1.3h-1.3zM128.1 234.9h1.3v1.3h-1.3zM130.0 239.8h1.3v1.3h-1.3zM131.1 225.5h1.3v1.3h-1.3zM136.3 234.6h1.3v1.3h-1.3zM137.9 235.9h1.3v1.3h-1.3zM131.4 229.5h1.3v1.3h-1.3zM140.6 234.6h1.3v1.3h-1.3zM138.0 239.0h1.3v1.3h-1.3zM143.4 238.0h1.3v1.3h-1.3zM132.1 234.4h1.3v1.3h-1.3zM121.7 239.3h1.3v1.3h-1.3zM127.6 242.2h1.3v1.3h-1.3zM139.2 238.5h1.3v1.3h-1.3zM145.8 239.1h1.3v1.3h-1.3zM137.0 233.2h1.3v1.3h-1.3zM136.1 236.7h1.3v1.3h-1.3zM140.7 236.8h1.3v1.3h-1.3zM138.9 230.8h1.3v1.3h-1.3zM131.7 239.1h1.3v1.3h-1.3zM136.8 232.2h1.3v1.3h-1.3zM127.1 234.5h1.3v1.3h-1.3zM129.0 233.9h1.3v1.3h-1.3zM133.1 229.9h1.3v1.3h-1.3zM134.4 232.0h1.3v1.3h-1.3zM128.7 233.6h1.3v1.3h-1.3zM136.7 237.9h1.3v1.3h-1.3zM128.7 238.9h1.3v1.3h-1.3zM125.7 238.2h1.3v1.3h-1.3zM133.0 237.3h1.3v1.3h-1.3zM124.1 238.9h1.3v1.3h-1.3zM135.3 239.0h1.3v1.3h-1.3zM129.1 242.3h1.3v1.3h-1.3zM142.9 243.3h1.3v1.3h-1.3zM133.6 245.8h1.3v1.3h-1.3zM127.3 228.0h1.3v1.3h-1.3zM126.7 233.6h1.3v1.3h-1.3zM128.2 236.3h1.3v1.3h-1.3zM133.8 235.4h1.3v1.3h-1.3zM125.8 235.4h1.3v1.3h-1.3zM134.8 231.9h1.3v1.3h-1.3zM123.2 234.7h1.3v1.3h-1.3zM133.6 233.9h1.3v1.3h-1.3zM129.9 233.7h1.3v1.3h-1.3zM134.6 234.1h1.3v1.3h-1.3zM126.5 233.7h1.3v1.3h-1.3zM128.9 234.8h1.3v1.3h-1.3zM130.1 241.0h1.3v1.3h-1.3zM125.8 231.1h1.3v1.3h-1.3zM129.9 230.1h1.3v1.3h-1.3zM134.0 234.7h1.3v1.3h-1.3zM134.5 239.7h1.3v1.3h-1.3zM136.6 235.8h1.3v1.3h-1.3zM135.0 234.1h1.3v1.3h-1.3zM133.0 241.4h1.3v1.3h-1.3zM142.3 239.2h1.3v1.3h-1.3zM129.0 234.2h1.3v1.3h-1.3zM124.9 241.1h1.3v1.3h-1.3zM139.3 233.1h1.3v1.3h-1.3zM129.2 236.2h1.3v1.3h-1.3zM123.0 230.7h1.3v1.3h-1.3zM135.1 233.5h1.3v1.3h-1.3zM135.4 238.9h1.3v1.3h-1.3zM140.3 233.6h1.3v1.3h-1.3zM140.5 234.8h1.3v1.3h-1.3zM132.1 243.7h1.3v1.3h-1.3zM128.9 231.1h1.3v1.3h-1.3zM136.1 235.4h1.3v1.3h-1.3zM122.5 243.7h1.3v1.3h-1.3zM127.8 241.1h1.3v1.3h-1.3zM131.5 232.9h1.3v1.3h-1.3zM132.6 229.9h1.3v1.3h-1.3zM138.6 231.8h1.3v1.3h-1.3zM130.5 237.0h1.3v1.3h-1.3zM123.9 245.0h1.3v1.3h-1.3zM133.3 238.1h1.3v1.3h-1.3zM123.2 234.9h1.3v1.3h-1.3zM131.0 234.7h1.3v1.3h-1.3zM127.9 225.6h1.3v1.3h-1.3zM134.1 241.4h1.3v1.3h-1.3zM124.5 243.6h1.3v1.3h-1.3zM128.8 235.2h1.3v1.3h-1.3zM132.9 236.3h1.3v1.3h-1.3zM135.8 231.5h1.3v1.3h-1.3zM132.5 230.9h1.3v1.3h-1.3zM146.0 229.0h1.3v1.3h-1.3zM140.2 243.3h1.3v1.3h-1.3zM130.5 236.2h1.3v1.3h-1.3zM131.0 239.5h1.3v1.3h-1.3zM135.3 239.4h1.3v1.3h-1.3zM136.5 238.7h1.3v1.3h-1.3zM126.6 240.2h1.3v1.3h-1.3zM128.4 231.5h1.3v1.3h-1.3zM134.1 235.9h1.3v1.3h-1.3zM132.0 239.3h1.3v1.3h-1.3zM124.2 235.8h1.3v1.3h-1.3zM128.1 236.6h1.3v1.3h-1.3zM138.6 232.1h1.3v1.3h-1.3zM129.6 235.0h1.3v1.3h-1.3zM133.9 228.8h1.3v1.3h-1.3zM135.8 233.9h1.3v1.3h-1.3zM140.3 243.2h1.3v1.3h-1.3zM130.0 233.7h1.3v1.3h-1.3zM129.2 233.3h1.3v1.3h-1.3zM124.4 232.7h1.3v1.3h-1.3zM132.7 238.1h1.3v1.3h-1.3zM134.5 230.4h1.3v1.3h-1.3zM136.7 235.2h1.3v1.3h-1.3zM135.6 235.8h1.3v1.3h-1.3zM123.5 241.6h1.3v1.3h-1.3zM130.6 234.0h1.3v1.3h-1.3zM123.7 234.9h1.3v1.3h-1.3zM139.2 243.2h1.3v1.3h-1.3zM136.1 234.0h1.3v1.3h-1.3zM132.8 238.2h1.3v1.3h-1.3zM128.3 235.1h1.3v1.3h-1.3zM133.2 232.1h1.3v1.3h-1.3zM130.3 231.2h1.3v1.3h-1.3zM128.0 234.3h1.3v1.3h-1.3zM134.2 239.9h1.3v1.3h-1.3zM127.7 237.6h1.3v1.3h-1.3zM140.7 225.7h1.3v1.3h-1.3zM131.1 229.3h1.3v1.3h-1.3zM139.3 239.4h1.3v1.3h-1.3zM134.8 238.7h1.3v1.3h-1.3zM122.0 243.0h1.3v1.3h-1.3zM130.2 236.1h1.3v1.3h-1.3zM123.0 237.3h1.3v1.3h-1.3zM121.9 228.9h1.3v1.3h-1.3zM146.0 235.7h1.3v1.3h-1.3zM145.6 244.5h1.3v1.3h-1.3zM139.7 226.6h1.3v1.3h-1.3zM141.9 237.4h1.3v1.3h-1.3zM137.1 241.4h1.3v1.3h-1.3zM125.5 235.4h1.3v1.3h-1.3zM135.8 236.6h1.3v1.3h-1.3zM131.6 235.4h1.3v1.3h-1.3zM133.9 234.3h1.3v1.3h-1.3zM140.0 228.1h1.3v1.3h-1.3zM127.5 239.8h1.3v1.3h-1.3zM137.8 245.3h1.3v1.3h-1.3zM138.1 230.8h1.3v1.3h-1.3zM137.3 235.1h1.3v1.3h-1.3zM140.4 242.1h1.3v1.3h-1.3zM126.7 235.5h1.3v1.3h-1.3zM133.0 230.8h1.3v1.3h-1.3zM122.8 235.0h1.3v1.3h-1.3zM136.4 244.3h1.3v1.3h-1.3zM134.8 238.0h1.3v1.3h-1.3zM129.4 244.0h1.3v1.3h-1.3zM123.6 239.8h1.3v1.3h-1.3zM138.4 244.2h1.3v1.3h-1.3zM127.0 232.0h1.3v1.3h-1.3zM129.7 241.1h1.3v1.3h-1.3zM134.7 236.8h1.3v1.3h-1.3zM137.5 236.8h1.3v1.3h-1.3zM130.8 245.9h1.3v1.3h-1.3zM129.7 238.6h1.3v1.3h-1.3zM127.6 239.6h1.3v1.3h-1.3zM128.3 240.7h1.3v1.3h-1.3zM130.6 236.8h1.3v1.3h-1.3zM145.9 240.5h1.3v1.3h-1.3zM137.7 235.1h1.3v1.3h-1.3zM130.0 241.1h1.3v1.3h-1.3zM137.1 239.2h1.3v1.3h-1.3zM138.7 225.9h1.3v1.3h-1.3zM132.5 242.9h1.3v1.3h-1.3zM135.9 243.0h1.3v1.3h-1.3zM126.3 239.8h1.3v1.3h-1.3zM127.2 228.8h1.3v1.3h-1.3zM142.5 240.7h1.3v1.3h-1.3zM141.3 233.6h1.3v1.3h-1.3zM131.5 233.4h1.3v1.3h-1.3zM139.5 234.2h1.3v1.3h-1.3zM128.5 235.0h1.3v1.3h-1.3zM129.0 233.7h1.3v1.3h-1.3zM143.0 231.2h1.3v1.3h-1.3zM126.7 230.0h1.3v1.3h-1.3zM139.0 232.4h1.3v1.3h-1.3zM136.5 244.4h1.3v1.3h-1.3zM137.2 229.5h1.3v1.3h-1.3zM135.7 235.1h1.3v1.3h-1.3zM140.9 230.4h1.3v1.3h-1.3zM137.7 229.2h1.3v1.3h-1.3zM135.4 228.1h1.3v1.3h-1.3zM124.6 243.1h1.3v1.3h-1.3zM132.6 233.7h1.3v1.3h-1.3zM129.4 233.4h1.3v1.3h-1.3zM132.3 230.9h1.3v1.3h-1.3zM129.6 231.6h1.3v1.3h-1.3zM141.2 231.2h1.3v1.3h-1.3zM140.2 242.6h1.3v1.3h-1.3zM130.1 236.5h1.3v1.3h-1.3zM126.1 245.2h1.3v1.3h-1.3zM128.6 238.1h1.3v1.3h-1.3zM129.2 237.1h1.3v1.3h-1.3zM135.6 239.5h1.3v1.3h-1.3zM138.6 237.2h1.3v1.3h-1.3zM135.4 228.8h1.3v1.3h-1.3zM129.6 227.4h1.3v1.3h-1.3zM137.4 237.0h1.3v1.3h-1.3zM124.1 233.7h1.3v1.3h-1.3zM134.3 244.5h1.3v1.3h-1.3zM128.7 238.9h1.3v1.3h-1.3zM124.8 241.1h1.3v1.3h-1.3zM131.2 232.8h1.3v1.3h-1.3zM137.9 237.3h1.3v1.3h-1.3zM138.2 233.8h1.3v1.3h-1.3zM129.6 231.0h1.3v1.3h-1.3zM129.3 235.4h1.3v1.3h-1.3zM133.0 233.0h1.3v1.3h-1.3zM128.8 223.3h1.3v1.3h-1.3zM141.3 241.6h1.3v1.3h-1.3zM135.1 237.8h1.3v1.3h-1.3zM124.3 230.3h1.3v1.3h-1.3zM129.6 234.3h1.3v1.3h-1.3zM134.3 233.8h1.3v1.3h-1.3zM128.5 239.3h1.3v1.3h-1.3zM130.9 240.6h1.3v1.3h-1.3zM136.0 234.2h1.3v1.3h-1.3zM133.5 237.3h1.3v1.3h-1.3zM132.1 230.0h1.3v1.3h-1.3zM127.9 236.9h1.3v1.3h-1.3zM130.0 226.1h1.3v1.3h-1.3zM136.6 236.9h1.3v1.3h-1.3zM130.2 232.2h1.3v1.3h-1.3zM127.2 237.0h1.3v1.3h-1.3zM140.2 243.1h1.3v1.3h-1.3zM132.0 237.5h1.3v1.3h-1.3zM133.2 241.0h1.3v1.3h-1.3zM138.3 241.4h1.3v1.3h-1.3zM131.7 242.3h1.3v1.3h-1.3zM134.6 241.1h1.3v1.3h-1.3zM127.2 241.9h1.3v1.3h-1.3zM130.5 236.1h1.3v1.3h-1.3zM131.5 234.6h1.3v1.3h-1.3zM138.1 234.7h1.3v1.3h-1.3zM127.6 240.9h1.3v1.3h-1.3zM125.0 236.7h1.3v1.3h-1.3zM127.0 236.3h1.3v1.3h-1.3zM122.6 234.6h1.3v1.3h-1.3zM121.8 238.1h1.3v1.3h-1.3zM132.9 231.7h1.3v1.3h-1.3zM123.2 232.4h1.3v1.3h-1.3zM126.5 244.5h1.3v1.3h-1.3zM136.3 233.1h1.3v1.3h-1.3zM136.5 238.4h1.3v1.3h-1.3zM124.6 228.4h1.3v1.3h-1.3zM127.5 230.1h1.3v1.3h-1.3zM127.2 233.8h1.3v1.3h-1.3zM133.8 227.3h1.3v1.3h-1.3zM143.5 234.3h1.3v1.3h-1.3zM125.7 232.5h1.3v1.3h-1.3zM125.7 242.7h1.3v1.3h-1.3zM126.4 224.0h1.3v1.3h-1.3zM127.0 239.6h1.3v1.3h-1.3zM124.9 236.4h1.3v1.3h-1.3zM139.9 241.2h1.3v1.3h-1.3zM124.7 240.9h1.3v1.3h-1.3zM131.8 234.9h1.3v1.3h-1.3zM143.8 233.0h1.3v1.3h-1.3zM136.0 234.6h1.3v1.3h-1.3zM127.4 229.4h1.3v1.3h-1.3zM134.7 238.1h1.3v1.3h-1.3zM142.0 232.4h1.3v1.3h-1.3zM139.6 234.2h1.3v1.3h-1.3zM124.0 238.1h1.3v1.3h-1.3zM137.1 235.4h1.3v1.3h-1.3zM139.2 245.8h1.3v1.3h-1.3zM141.3 238.0h1.3v1.3h-1.3zM126.8 245.7h1.3v1.3h-1.3zM133.7 234.8h1.3v1.3h-1.3zM124.9 239.5h1.3v1.3h-1.3zM142.9 239.7h1.3v1.3h-1.3zM126.3 237.9h1.3v1.3h-1.3zM129.6 239.2h1.3v1.3h-1.3zM142.6 228.1h1.3v1.3h-1.3zM133.6 234.9h1.3v1.3h-1.3zM133.6 235.1h1.3v1.3h-1.3zM126.1 244.1h1.3v1.3h-1.3zM130.0 234.7h1.3v1.3h-1.3zM138.4 240.9h1.3v1.3h-1.3zM138.1 233.2h1.3v1.3h-1.3zM130.0 240.6h1.3v1.3h-1.3zM128.0 231.4h1.3v1.3h-1.3zM126.0 233.6h1.3v1.3h-1.3zM123.1 233.6h1.3v1.3h-1.3zM128.8 241.4h1.3v1.3h-1.3zM125.5 235.8h1.3v1.3h-1.3zM129.0 232.4h1.3v1.3h-1.3zM125.0 236.3h1.3v1.3h-1.3zM135.7 236.9h1.3v1.3h-1.3zM123.5 242.5h1.3v1.3h-1.3zM132.2 236.3h1.3v1.3h-1.3zM123.1 234.8h1.3v1.3h-1.3zM142.9 238.3h1.3v1.3h-1.3zM139.1 235.3h1.3v1.3h-1.3zM126.3 231.8h1.3v1.3h-1.3zM130.9 233.4h1.3v1.3h-1.3zM135.6 232.6h1.3v1.3h-1.3zM137.9 230.4h1.3v1.3h-1.3zM122.0 242.8h1.3v1.3h-1.3zM125.9 238.0h1.3v1.3h-1.3zM135.4 237.6h1.3v1.3h-1.3zM139.1 240.4h1.3v1.3h-1.3zM132.0 236.8h1.3v1.3h-1.3zM140.0 236.8h1.3v1.3h-1.3zM137.4 240.7h1.3v1.3h-1.3zM128.2 239.7h1.3v1.3h-1.3zM149.3 231.9h1.3v1.3h-1.3zM137.3 226.3h1.3v1.3h-1.3zM130.3 234.6h1.3v1.3h-1.3zM135.0 237.7h1.3v1.3h-1.3zM124.0 230.5h1.3v1.3h-1.3zM131.3 233.3h1.3v1.3h-1.3zM130.5 237.6h1.3v1.3h-1.3zM131.8 244.3h1.3v1.3h-1.3zM133.8 238.7h1.3v1.3h-1.3zM127.1 244.0h1.3v1.3h-1.3zM138.7 237.7h1.3v1.3h-1.3zM130.9 239.1h1.3v1.3h-1.3zM138.7 242.0h1.3v1.3h-1.3zM128.1 241.4h1.3v1.3h-1.3zM131.9 233.3h1.3v1.3h-1.3zM130.1 240.9h1.3v1.3h-1.3zM143.0 235.2h1.3v1.3h-1.3zM128.9 237.5h1.3v1.3h-1.3zM129.4 230.1h1.3v1.3h-1.3zM139.3 231.8h1.3v1.3h-1.3zM129.9 237.2h1.3v1.3h-1.3zM130.6 240.8h1.3v1.3h-1.3zM125.4 230.1h1.3v1.3h-1.3zM133.5 236.3h1.3v1.3h-1.3zM125.0 240.7h1.3v1.3h-1.3zM133.4 228.5h1.3v1.3h-1.3zM133.3 239.6h1.3v1.3h-1.3zM136.2 233.1h1.3v1.3h-1.3zM130.8 236.3h1.3v1.3h-1.3zM135.0 233.0h1.3v1.3h-1.3zM131.3 235.0h1.3v1.3h-1.3zM131.1 232.8h1.3v1.3h-1.3zM134.1 241.8h1.3v1.3h-1.3zM140.0 236.4h1.3v1.3h-1.3zM134.1 237.1h1.3v1.3h-1.3zM134.2 231.3h1.3v1.3h-1.3zM121.7 244.3h1.3v1.3h-1.3zM147.5 233.2h1.3v1.3h-1.3zM137.4 238.3h1.3v1.3h-1.3zM139.8 231.4h1.3v1.3h-1.3zM145.3 231.2h1.3v1.3h-1.3zM132.3 235.4h1.3v1.3h-1.3zM143.8 241.3h1.3v1.3h-1.3zM127.3 239.6h1.3v1.3h-1.3zM131.3 230.0h1.3v1.3h-1.3zM129.1 241.6h1.3v1.3h-1.3zM136.2 241.4h1.3v1.3h-1.3zM126.8 229.0h1.3v1.3h-1.3zM127.3 238.4h1.3v1.3h-1.3zM138.9 244.5h1.3v1.3h-1.3zM136.2 238.2h1.3v1.3h-1.3zM130.0 231.0h1.3v1.3h-1.3zM134.8 236.7h1.3v1.3h-1.3zM132.3 230.2h1.3v1.3h-1.3zM127.3 236.2h1.3v1.3h-1.3zM129.7 238.6h1.3v1.3h-1.3zM140.6 238.9h1.3v1.3h-1.3zM134.6 235.1h1.3v1.3h-1.3zM123.7 238.7h1.3v1.3h-1.3zM132.1 233.4h1.3v1.3h-1.3zM127.4 240.9h1.3v1.3h-1.3zM135.5 236.5h1.3v1.3h-1.3zM136.9 229.0h1.3v1.3h-1.3zM131.4 244.1h1.3v1.3h-1.3zM130.0 238.3h1.3v1.3h-1.3zM130.5 238.8h1.3v1.3h-1.3zM126.0 229.4h1.3v1.3h-1.3zM137.4 239.4h1.3v1.3h-1.3zM137.8 232.1h1.3v1.3h-1.3zM133.4 236.1h1.3v1.3h-1.3zM134.9 245.5h1.3v1.3h-1.3zM129.0 245.6h1.3v1.3h-1.3zM125.7 240.1h1.3v1.3h-1.3zM130.0 231.0h1.3v1.3h-1.3zM137.1 233.5h1.3v1.3h-1.3zM134.8 241.5h1.3v1.3h-1.3zM127.9 233.4h1.3v1.3h-1.3zM131.3 236.5h1.3v1.3h-1.3zM142.7 240.2h1.3v1.3h-1.3zM128.2 237.7h1.3v1.3h-1.3zM130.8 236.4h1.3v1.3h-1.3zM137.6 239.8h1.3v1.3h-1.3zM130.1 241.0h1.3v1.3h-1.3zM137.9 239.8h1.3v1.3h-1.3zM128.5 244.8h1.3v1.3h-1.3zM141.0 232.6h1.3v1.3h-1.3zM137.3 240.9h1.3v1.3h-1.3zM135.1 240.7h1.3v1.3h-1.3zM130.7 235.7h1.3v1.3h-1.3zM136.5 237.4h1.3v1.3h-1.3zM137.6 244.1h1.3v1.3h-1.3zM132.8 239.5h1.3v1.3h-1.3zM140.5 232.3h1.3v1.3h-1.3zM123.3 239.6h1.3v1.3h-1.3zM141.3 235.0h1.3v1.3h-1.3zM134.6 234.7h1.3v1.3h-1.3zM131.9 236.4h1.3v1.3h-1.3zM145.0 228.5h1.3v1.3h-1.3zM128.3 230.1h1.3v1.3h-1.3zM135.7 236.4h1.3v1.3h-1.3zM131.4 237.2h1.3v1.3h-1.3zM132.0 235.3h1.3v1.3h-1.3zM129.5 237.4h1.3v1.3h-1.3zM128.7 234.8h1.3v1.3h-1.3zM136.0 240.5h1.3v1.3h-1.3zM138.0 242.8h1.3v1.3h-1.3zM135.2 238.2h1.3v1.3h-1.3zM134.7 236.3h1.3v1.3h-1.3zM122.5 235.4h1.3v1.3h-1.3zM126.0 236.4h1.3v1.3h-1.3zM133.7 236.5h1.3v1.3h-1.3zM131.1 236.1h1.3v1.3h-1.3zM144.4 231.9h1.3v1.3h-1.3zM135.6 232.4h1.3v1.3h-1.3zM130.1 242.9h1.3v1.3h-1.3zM125.9 236.6h1.3v1.3h-1.3zM125.1 244.5h1.3v1.3h-1.3zM134.1 240.9h1.3v1.3h-1.3zM131.5 242.5h1.3v1.3h-1.3zM124.3 239.9h1.3v1.3h-1.3zM128.4 234.6h1.3v1.3h-1.3zM140.1 236.8h1.3v1.3h-1.3zM135.4 234.4h1.3v1.3h-1.3zM129.5 242.1h1.3v1.3h-1.3zM128.1 234.1h1.3v1.3h-1.3zM135.5 235.3h1.3v1.3h-1.3zM122.9 235.9h1.3v1.3h-1.3zM141.9 233.2h1.3v1.3h-1.3zM122.9 241.5h1.3v1.3h-1.3zM129.0 234.0h1.3v1.3h-1.3zM144.7 237.7h1.3v1.3h-1.3zM125.3 240.1h1.3v1.3h-1.3zM134.3 235.3h1.3v1.3h-1.3zM129.1 236.4h1.3v1.3h-1.3zM127.7 240.8h1.3v1.3h-1.3zM144.1 227.1h1.3v1.3h-1.3zM131.9 239.9h1.3v1.3h-1.3zM132.0 242.4h1.3v1.3h-1.3zM138.0 237.6h1.3v1.3h-1.3zM128.2 242.2h1.3v1.3h-1.3zM128.0 233.7h1.3v1.3h-1.3zM130.6 238.0h1.3v1.3h-1.3zM128.7 235.6h1.3v1.3h-1.3zM133.3 242.8h1.3v1.3h-1.3zM127.8 232.3h1.3v1.3h-1.3zM123.9 235.6h1.3v1.3h-1.3zM133.0 240.0h1.3v1.3h-1.3zM129.4 230.5h1.3v1.3h-1.3zM124.5 242.0h1.3v1.3h-1.3zM136.0 241.1h1.3v1.3h-1.3zM137.7 237.3h1.3v1.3h-1.3zM129.0 231.5h1.3v1.3h-1.3zM132.3 235.5h1.3v1.3h-1.3zM125.2 233.7h1.3v1.3h-1.3zM124.1 239.7h1.3v1.3h-1.3zM132.7 244.0h1.3v1.3h-1.3zM132.5 235.7h1.3v1.3h-1.3zM136.5 238.6h1.3v1.3h-1.3zM123.6 230.0h1.3v1.3h-1.3zM125.5 243.0h1.3v1.3h-1.3zM142.4 234.8h1.3v1.3h-1.3zM135.4 241.2h1.3v1.3h-1.3zM131.0 234.1h1.3v1.3h-1.3zM123.9 232.4h1.3v1.3h-1.3zM131.6 226.7h1.3v1.3h-1.3zM138.3 228.0h1.3v1.3h-1.3zM123.8 233.9h1.3v1.3h-1.3zM129.2 234.8h1.3v1.3h-1.3zM129.3 240.6h1.3v1.3h-1.3zM126.0 245.1h1.3v1.3h-1.3zM130.9 238.1h1.3v1.3h-1.3zM124.8 232.3h1.3v1.3h-1.3zM131.9 229.7h1.3v1.3h-1.3zM134.6 238.1h1.3v1.3h-1.3zM137.5 232.2h1.3v1.3h-1.3zM134.1 245.6h1.3v1.3h-1.3zM131.5 236.3h1.3v1.3h-1.3zM141.5 238.8h1.3v1.3h-1.3zM140.4 232.1h1.3v1.3h-1.3zM131.1 239.7h1.3v1.3h-1.3zM135.4 241.9h1.3v1.3h-1.3zM137.4 235.4h1.3v1.3h-1.3zM130.0 235.3h1.3v1.3h-1.3zM136.4 241.3h1.3v1.3h-1.3zM127.7 239.3h1.3v1.3h-1.3zM130.0 233.9h1.3v1.3h-1.3zM132.6 242.0h1.3v1.3h-1.3zM129.9 232.3h1.3v1.3h-1.3zM127.0 234.9h1.3v1.3h-1.3zM131.8 237.2h1.3v1.3h-1.3zM130.3 236.0h1.3v1.3h-1.3zM134.1 229.5h1.3v1.3h-1.3zM127.7 244.6h1.3v1.3h-1.3zM130.0 242.7h1.3v1.3h-1.3zM130.1 234.2h1.3v1.3h-1.3zM124.6 239.1h1.3v1.3h-1.3zM133.6 222.0h1.3v1.3h-1.3zM128.5 244.5h1.3v1.3h-1.3zM137.5 240.3h1.3v1.3h-1.3zM126.7 238.6h1.3v1.3h-1.3zM127.0 236.5h1.3v1.3h-1.3zM136.5 243.0h1.3v1.3h-1.3zM122.1 242.6h1.3v1.3h-1.3zM142.9 232.4h1.3v1.3h-1.3zM132.2 242.0h1.3v1.3h-1.3zM131.7 241.7h1.3v1.3h-1.3zM132.5 240.8h1.3v1.3h-1.3zM149.3 243.4h1.3v1.3h-1.3zM131.0 233.2h1.3v1.3h-1.3zM134.5 231.7h1.3v1.3h-1.3zM123.9 233.9h1.3v1.3h-1.3zM133.0 234.8h1.3v1.3h-1.3zM133.1 231.9h1.3v1.3h-1.3zM138.3 238.1h1.3v1.3h-1.3zM131.0 232.3h1.3v1.3h-1.3zM131.1 234.9h1.3v1.3h-1.3zM130.6 229.7h1.3v1.3h-1.3zM135.9 237.4h1.3v1.3h-1.3zM142.0 242.3h1.3v1.3h-1.3zM123.9 233.1h1.3v1.3h-1.3zM134.8 238.7h1.3v1.3h-1.3zM132.9 236.4h1.3v1.3h-1.3zM135.7 243.4h1.3v1.3h-1.3zM124.5 236.8h1.3v1.3h-1.3zM125.0 229.9h1.3v1.3h-1.3zM126.5 241.8h1.3v1.3h-1.3zM140.6 245.1h1.3v1.3h-1.3zM133.5 235.7h1.3v1.3h-1.3zM131.7 239.3h1.3v1.3h-1.3zM129.1 236.5h1.3v1.3h-1.3zM126.8 234.6h1.3v1.3h-1.3zM132.6 237.4h1.3v1.3h-1.3zM134.9 243.5h1.3v1.3h-1.3zM136.3 240.2h1.3v1.3h-1.3zM127.6 242.0h1.3v1.3h-1.3zM144.9 235.2h1.3v1.3h-1.3zM139.0 241.3h1.3v1.3h-1.3zM132.4 236.1h1.3v1.3h-1.3zM140.6 234.4h1.3v1.3h-1.3zM136.2 235.7h1.3v1.3h-1.3zM136.7 243.7h1.3v1.3h-1.3zM136.3 242.8h1.3v1.3h-1.3zM130.5 239.7h1.3v1.3h-1.3zM133.5 238.9h1.3v1.3h-1.3zM128.6 239.2h1.3v1.3h-1.3zM122.3 235.6h1.3v1.3h-1.3zM140.2 233.8h1.3v1.3h-1.3zM130.3 240.8h1.3v1.3h-1.3zM127.4 238.7h1.3v1.3h-1.3zM125.9 235.1h1.3v1.3h-1.3zM139.2 230.5h1.3v1.3h-1.3zM135.8 234.5h1.3v1.3h-1.3zM140.4 228.4h1.3v1.3h-1.3zM133.9 225.6h1.3v1.3h-1.3zM145.5 240.8h1.3v1.3h-1.3zM129.9 234.2h1.3v1.3h-1.3zM131.7 226.1h1.3v1.3h-1.3zM128.7 230.7h1.3v1.3h-1.3zM140.3 225.4h1.3v1.3h-1.3zM135.5 231.2h1.3v1.3h-1.3zM130.3 233.4h1.3v1.3h-1.3zM133.1 239.3h1.3v1.3h-1.3zM124.7 243.5h1.3v1.3h-1.3zM126.4 229.0h1.3v1.3h-1.3zM130.8 241.4h1.3v1.3h-1.3zM134.2 235.2h1.3v1.3h-1.3zM140.9 231.1h1.3v1.3h-1.3zM127.0 245.6h1.3v1.3h-1.3zM139.4 234.6h1.3v1.3h-1.3zM132.5 234.2h1.3v1.3h-1.3zM133.7 236.5h1.3v1.3h-1.3zM125.5 230.3h1.3v1.3h-1.3zM131.3 233.2h1.3v1.3h-1.3zM128.8 234.8h1.3v1.3h-1.3zM131.1 245.7h1.3v1.3h-1.3zM133.8 233.8h1.3v1.3h-1.3zM134.5 230.5h1.3v1.3h-1.3zM126.3 238.0h1.3v1.3h-1.3zM126.6 231.9h1.3v1.3h-1.3zM141.2 245.8h1.3v1.3h-1.3zM137.5 231.2h1.3v1.3h-1.3zM121.6 232.4h1.3v1.3h-1.3zM124.3 232.6h1.3v1.3h-1.3zM129.3 238.7h1.3v1.3h-1.3zM145.2 231.9h1.3v1.3h-1.3zM130.3 228.7h1.3v1.3h-1.3zM140.7 241.8h1.3v1.3h-1.3zM134.0 232.7h1.3v1.3h-1.3zM131.0 238.5h1.3v1.3h-1.3zM135.1 231.7h1.3v1.3h-1.3zM139.2 234.1h1.3v1.3h-1.3zM135.1 241.4h1.3v1.3h-1.3zM135.8 230.6h1.3v1.3h-1.3zM133.9 240.2h1.3v1.3h-1.3zM128.9 231.2h1.3v1.3h-1.3zM132.5 240.6h1.3v1.3h-1.3zM140.5 244.4h1.3v1.3h-1.3zM134.6 227.8h1.3v1.3h-1.3zM131.6 235.1h1.3v1.3h-1.3zM140.4 240.8h1.3v1.3h-1.3zM124.4 229.8h1.3v1.3h-1.3zM132.9 231.6h1.3v1.3h-1.3zM121.3 228.2h1.3v1.3h-1.3zM140.0 239.0h1.3v1.3h-1.3zM125.1 235.9h1.3v1.3h-1.3zM128.6 232.6h1.3v1.3h-1.3zM138.3 243.6h1.3v1.3h-1.3zM138.4 234.9h1.3v1.3h-1.3zM139.6 229.4h1.3v1.3h-1.3zM128.8 241.2h1.3v1.3h-1.3zM125.3 237.4h1.3v1.3h-1.3zM133.7 238.9h1.3v1.3h-1.3zM128.8 234.8h1.3v1.3h-1.3zM126.6 236.3h1.3v1.3h-1.3zM127.2 239.6h1.3v1.3h-1.3zM133.5 236.3h1.3v1.3h-1.3zM132.7 237.6h1.3v1.3h-1.3zM136.9 242.8h1.3v1.3h-1.3zM134.2 241.5h1.3v1.3h-1.3zM138.5 234.8h1.3v1.3h-1.3zM126.7 242.0h1.3v1.3h-1.3zM142.8 234.3h1.3v1.3h-1.3zM121.9 241.7h1.3v1.3h-1.3zM137.4 236.2h1.3v1.3h-1.3zM130.0 238.1h1.3v1.3h-1.3zM128.2 244.6h1.3v1.3h-1.3zM134.0 243.5h1.3v1.3h-1.3zM137.1 240.4h1.3v1.3h-1.3zM130.7 235.2h1.3v1.3h-1.3zM128.1 235.2h1.3v1.3h-1.3zM123.6 240.0h1.3v1.3h-1.3zM138.5 237.4h1.3v1.3h-1.3zM141.0 229.9h1.3v1.3h-1.3zM128.6 236.7h1.3v1.3h-1.3zM131.5 239.2h1.3v1.3h-1.3zM137.8 239.4h1.3v1.3h-1.3zM129.9 229.1h1.3v1.3h-1.3zM132.5 233.6h1.3v1.3h-1.3zM133.0 238.0h1.3v1.3h-1.3zM127.0 237.0h1.3v1.3h-1.3zM131.7 228.3h1.3v1.3h-1.3zM129.8 240.6h1.3v1.3h-1.3zM139.5 231.5h1.3v1.3h-1.3zM129.8 229.5h1.3v1.3h-1.3zM141.2 238.3h1.3v1.3h-1.3zM133.2 237.1h1.3v1.3h-1.3zM132.5 241.3h1.3v1.3h-1.3zM132.9 229.0h1.3v1.3h-1.3zM139.3 237.9h1.3v1.3h-1.3zM133.3 234.7h1.3v1.3h-1.3zM128.9 233.8h1.3v1.3h-1.3zM130.7 236.6h1.3v1.3h-1.3zM131.6 230.1h1.3v1.3h-1.3zM128.8 238.3h1.3v1.3h-1.3zM136.1 240.6h1.3v1.3h-1.3zM128.0 240.3h1.3v1.3h-1.3zM132.2 242.8h1.3v1.3h-1.3zM128.7 244.2h1.3v1.3h-1.3zM131.1 237.7h1.3v1.3h-1.3zM132.4 237.5h1.3v1.3h-1.3zM126.4 240.3h1.3v1.3h-1.3zM129.4 243.3h1.3v1.3h-1.3zM131.2 231.3h1.3v1.3h-1.3zM136.6 237.1h1.3v1.3h-1.3zM138.1 241.0h1.3v1.3h-1.3zM135.7 230.7h1.3v1.3h-1.3zM132.7 231.8h1.3v1.3h-1.3zM140.5 234.1h1.3v1.3h-1.3zM133.9 234.6h1.3v1.3h-1.3zM134.2 244.9h1.3v1.3h-1.3zM133.9 245.1h1.3v1.3h-1.3zM124.8 238.1h1.3v1.3h-1.3zM133.0 239.2h1.3v1.3h-1.3zM146.6 232.9h1.3v1.3h-1.3zM130.4 239.8h1.3v1.3h-1.3zM128.5 239.3h1.3v1.3h-1.3zM123.7 239.0h1.3v1.3h-1.3zM124.8 239.5h1.3v1.3h-1.3zM125.7 242.9h1.3v1.3h-1.3zM128.0 239.4h1.3v1.3h-1.3zM125.6 239.8h1.3v1.3h-1.3zM127.2 242.1h1.3v1.3h-1.3zM136.8 245.0h1.3v1.3h-1.3zM133.1 231.0h1.3v1.3h-1.3zM132.2 239.7h1.3v1.3h-1.3zM128.3 239.2h1.3v1.3h-1.3zM136.1 232.8h1.3v1.3h-1.3zM142.0 232.2h1.3v1.3h-1.3zM129.4 236.5h1.3v1.3h-1.3zM131.2 232.2h1.3v1.3h-1.3zM140.5 237.0h1.3v1.3h-1.3zM128.9 232.0h1.3v1.3h-1.3zM134.8 238.0h1.3v1.3h-1.3zM128.3 238.6h1.3v1.3h-1.3zM143.5 237.1h1.3v1.3h-1.3zM123.5 239.9h1.3v1.3h-1.3zM141.6 236.3h1.3v1.3h-1.3zM127.8 239.9h1.3v1.3h-1.3zM130.3 241.8h1.3v1.3h-1.3zM134.3 238.2h1.3v1.3h-1.3zM129.6 241.3h1.3v1.3h-1.3zM133.2 234.1h1.3v1.3h-1.3zM134.5 234.1h1.3v1.3h-1.3zM139.8 237.7h1.3v1.3h-1.3zM131.5 240.7h1.3v1.3h-1.3zM128.4 234.9h1.3v1.3h-1.3zM136.8 245.0h1.3v1.3h-1.3zM135.9 227.0h1.3v1.3h-1.3zM131.5 242.2h1.3v1.3h-1.3zM127.3 238.1h1.3v1.3h-1.3zM130.4 243.0h1.3v1.3h-1.3zM137.4 241.2h1.3v1.3h-1.3zM131.1 237.8h1.3v1.3h-1.3zM124.6 233.6h1.3v1.3h-1.3zM138.6 232.2h1.3v1.3h-1.3zM133.2 241.4h1.3v1.3h-1.3zM130.4 245.2h1.3v1.3h-1.3zM126.0 235.3h1.3v1.3h-1.3zM135.1 228.7h1.3v1.3h-1.3zM129.0 238.8h1.3v1.3h-1.3zM134.2 241.6h1.3v1.3h-1.3zM130.0 240.2h1.3v1.3h-1.3zM139.6 238.6h1.3v1.3h-1.3zM124.7 238.9h1.3v1.3h-1.3zM145.8 233.8h1.3v1.3h-1.3zM127.9 240.2h1.3v1.3h-1.3zM130.8 232.7h1.3v1.3h-1.3zM133.2 244.0h1.3v1.3h-1.3zM133.7 243.1h1.3v1.3h-1.3zM131.9 232.9h1.3v1.3h-1.3zM138.2 237.1h1.3v1.3h-1.3zM139.1 241.8h1.3v1.3h-1.3zM134.4 237.9h1.3v1.3h-1.3zM130.2 224.3h1.3v1.3h-1.3zM130.7 235.4h1.3v1.3h-1.3zM130.0 241.1h1.3v1.3h-1.3zM129.9 232.5h1.3v1.3h-1.3zM136.5 231.5h1.3v1.3h-1.3zM137.4 238.8h1.3v1.3h-1.3zM137.2 245.0h1.3v1.3h-1.3zM140.6 240.1h1.3v1.3h-1.3zM133.3 238.2h1.3v1.3h-1.3zM130.2 234.4h1.3v1.3h-1.3zM139.6 244.1h1.3v1.3h-1.3zM138.7 229.6h1.3v1.3h-1.3zM136.5 229.4h1.3v1.3h-1.3zM123.0 244.6h1.3v1.3h-1.3zM142.1 229.2h1.3v1.3h-1.3zM126.5 235.6h1.3v1.3h-1.3zM135.3 243.3h1.3v1.3h-1.3zM136.5 230.5h1.3v1.3h-1.3zM132.4 237.4h1.3v1.3h-1.3zM140.7 234.3h1.3v1.3h-1.3zM139.6 243.3h1.3v1.3h-1.3zM132.0 235.7h1.3v1.3h-1.3zM125.1 227.5h1.3v1.3h-1.3zM131.6 240.1h1.3v1.3h-1.3zM130.1 228.9h1.3v1.3h-1.3zM127.6 240.6h1.3v1.3h-1.3zM125.8 242.6h1.3v1.3h-1.3zM133.6 236.4h1.3v1.3h-1.3zM132.1 239.3h1.3v1.3h-1.3zM136.4 245.1h1.3v1.3h-1.3zM132.2 236.5h1.3v1.3h-1.3zM134.6 244.5h1.3v1.3h-1.3zM130.4 244.6h1.3v1.3h-1.3zM138.7 220.5h1.3v1.3h-1.3zM132.5 243.7h1.3v1.3h-1.3zM132.3 239.5h1.3v1.3h-1.3zM130.8 237.7h1.3v1.3h-1.3zM123.6 231.1h1.3v1.3h-1.3zM126.3 243.0h1.3v1.3h-1.3zM138.4 238.9h1.3v1.3h-1.3zM136.7 231.5h1.3v1.3h-1.3zM129.0 240.3h1.3v1.3h-1.3zM125.9 228.1h1.3v1.3h-1.3zM131.6 237.4h1.3v1.3h-1.3zM133.9 244.8h1.3v1.3h-1.3zM124.1 232.1h1.3v1.3h-1.3zM123.5 229.9h1.3v1.3h-1.3zM131.9 234.0h1.3v1.3h-1.3zM139.0 238.1h1.3v1.3h-1.3zM131.6 244.9h1.3v1.3h-1.3zM138.7 229.4h1.3v1.3h-1.3zM129.0 234.8h1.3v1.3h-1.3zM143.3 238.6h1.3v1.3h-1.3zM134.3 242.4h1.3v1.3h-1.3zM126.5 242.7h1.3v1.3h-1.3zM134.4 224.7h1.3v1.3h-1.3zM125.7 230.9h1.3v1.3h-1.3zM136.1 239.3h1.3v1.3h-1.3zM140.3 240.9h1.3v1.3h-1.3zM122.0 227.6h1.3v1.3h-1.3zM126.1 237.1h1.3v1.3h-1.3zM132.8 230.7h1.3v1.3h-1.3zM132.1 237.5h1.3v1.3h-1.3zM121.6 240.5h1.3v1.3h-1.3zM138.0 235.9h1.3v1.3h-1.3zM133.4 237.8h1.3v1.3h-1.3zM134.7 227.9h1.3v1.3h-1.3zM131.6 232.3h1.3v1.3h-1.3zM128.6 229.4h1.3v1.3h-1.3zM129.8 230.3h1.3v1.3h-1.3zM141.3 233.1h1.3v1.3h-1.3zM125.7 240.7h1.3v1.3h-1.3zM139.3 235.1h1.3v1.3h-1.3zM134.8 236.7h1.3v1.3h-1.3zM130.6 237.8h1.3v1.3h-1.3zM136.3 238.2h1.3v1.3h-1.3zM132.0 234.8h1.3v1.3h-1.3zM139.7 243.7h1.3v1.3h-1.3zM126.4 237.8h1.3v1.3h-1.3zM137.4 236.1h1.3v1.3h-1.3zM133.8 231.0h1.3v1.3h-1.3zM129.1 232.7h1.3v1.3h-1.3zM130.6 238.0h1.3v1.3h-1.3zM133.6 235.4h1.3v1.3h-1.3zM123.8 232.6h1.3v1.3h-1.3zM136.1 236.9h1.3v1.3h-1.3zM131.5 236.0h1.3v1.3h-1.3zM142.0 236.3h1.3v1.3h-1.3zM134.8 234.7h1.3v1.3h-1.3zM136.6 231.7h1.3v1.3h-1.3zM134.6 240.1h1.3v1.3h-1.3zM130.1 235.5h1.3v1.3h-1.3zM140.8 236.6h1.3v1.3h-1.3zM141.4 231.1h1.3v1.3h-1.3zM133.3 243.6h1.3v1.3h-1.3zM130.4 239.9h1.3v1.3h-1.3zM138.2 235.5h1.3v1.3h-1.3zM137.8 224.8h1.3v1.3h-1.3zM131.5 238.8h1.3v1.3h-1.3zM127.8 231.9h1.3v1.3h-1.3zM130.7 237.6h1.3v1.3h-1.3zM132.1 237.3h1.3v1.3h-1.3zM135.3 239.2h1.3v1.3h-1.3zM137.1 242.2h1.3v1.3h-1.3zM144.5 236.5h1.3v1.3h-1.3zM155.4 240.5h1.3v1.3h-1.3zM132.0 230.7h1.3v1.3h-1.3zM131.8 243.4h1.3v1.3h-1.3zM143.0 239.8h1.3v1.3h-1.3zM127.4 240.9h1.3v1.3h-1.3zM125.6 229.9h1.3v1.3h-1.3zM142.0 233.8h1.3v1.3h-1.3zM141.0 233.0h1.3v1.3h-1.3zM133.7 231.1h1.3v1.3h-1.3zM137.8 244.7h1.3v1.3h-1.3zM132.3 235.2h1.3v1.3h-1.3zM125.5 229.6h1.3v1.3h-1.3zM139.9 234.2h1.3v1.3h-1.3zM125.8 241.3h1.3v1.3h-1.3zM130.9 223.7h1.3v1.3h-1.3zM133.9 234.8h1.3v1.3h-1.3zM135.1 241.3h1.3v1.3h-1.3zM128.7 226.8h1.3v1.3h-1.3zM135.1 232.8h1.3v1.3h-1.3zM138.6 245.3h1.3v1.3h-1.3zM148.6 235.2h1.3v1.3h-1.3zM129.6 223.6h1.3v1.3h-1.3zM128.4 228.0h1.3v1.3h-1.3zM132.9 235.4h1.3v1.3h-1.3zM147.1 242.3h1.3v1.3h-1.3zM138.7 234.5h1.3v1.3h-1.3zM146.8 245.4h1.3v1.3h-1.3zM141.6 237.5h1.3v1.3h-1.3zM126.6 228.0h1.3v1.3h-1.3zM146.7 239.1h1.3v1.3h-1.3zM130.9 240.5h1.3v1.3h-1.3zM124.7 223.2h1.3v1.3h-1.3zM136.3 244.3h1.3v1.3h-1.3zM125.9 226.5h1.3v1.3h-1.3zM128.7 232.1h1.3v1.3h-1.3zM149.4 235.0h1.3v1.3h-1.3zM126.2 241.3h1.3v1.3h-1.3zM125.9 240.4h1.3v1.3h-1.3zM146.1 237.6h1.3v1.3h-1.3zM121.2 223.1h1.3v1.3h-1.3zM149.2 222.4h1.3v1.3h-1.3zM136.1 235.5h1.3v1.3h-1.3zM126.6 230.0h1.3v1.3h-1.3zM121.5 234.5h1.3v1.3h-1.3zM145.2 227.7h1.3v1.3h-1.3zM129.1 222.1h1.3v1.3h-1.3zM132.4 241.2h1.3v1.3h-1.3zM130.3 243.6h1.3v1.3h-1.3zM122.1 225.0h1.3v1.3h-1.3zM143.3 243.6h1.3v1.3h-1.3zM142.3 234.6h1.3v1.3h-1.3zM149.8 226.9h1.3v1.3h-1.3zM133.1 233.5h1.3v1.3h-1.3zM149.8 235.2h1.3v1.3h-1.3zM133.6 240.5h1.3v1.3h-1.3zM123.0 236.8h1.3v1.3h-1.3zM148.5 245.7h1.3v1.3h-1.3zM133.5 234.0h1.3v1.3h-1.3zM134.2 233.4h1.3v1.3h-1.3zM128.3 229.1h1.3v1.3h-1.3zM121.3 226.1h1.3v1.3h-1.3zM139.1 232.1h1.3v1.3h-1.3zM122.7 227.9h1.3v1.3h-1.3zM140.0 222.1h1.3v1.3h-1.3zM130.7 233.9h1.3v1.3h-1.3zM130.6 232.5h1.3v1.3h-1.3zM121.5 240.4h1.3v1.3h-1.3zM130.3 224.1h1.3v1.3h-1.3zM139.7 242.3h1.3v1.3h-1.3zM122.0 238.0h1.3v1.3h-1.3zM128.5 236.5h1.3v1.3h-1.3zM144.2 238.2h1.3v1.3h-1.3zM142.0 224.6h1.3v1.3h-1.3zM147.3 235.2h1.3v1.3h-1.3zM128.7 230.0h1.3v1.3h-1.3zM137.2 227.2h1.3v1.3h-1.3zM122.8 233.8h1.3v1.3h-1.3zM148.4 225.9h1.3v1.3h-1.3zM135.0 234.8h1.3v1.3h-1.3zM146.3 242.4h1.3v1.3h-1.3zM128.7 225.9h1.3v1.3h-1.3zM122.4 223.0h1.3v1.3h-1.3zM126.2 240.5h1.3v1.3h-1.3zM138.4 229.3h1.3v1.3h-1.3zM146.6 235.5h1.3v1.3h-1.3zM129.6 245.5h1.3v1.3h-1.3zM146.4 240.8h1.3v1.3h-1.3zM127.5 229.3h1.3v1.3h-1.3zM123.6 239.8h1.3v1.3h-1.3zM138.2 232.2h1.3v1.3h-1.3zM122.4 199.9h1.3v1.3h-1.3zM132.4 199.1h1.3v1.3h-1.3zM143.1 199.9h1.3v1.3h-1.3zM133.4 195.7h1.3v1.3h-1.3zM123.1 197.9h1.3v1.3h-1.3zM140.1 209.8h1.3v1.3h-1.3zM139.2 205.8h1.3v1.3h-1.3zM141.1 200.6h1.3v1.3h-1.3zM142.5 205.1h1.3v1.3h-1.3zM127.7 204.4h1.3v1.3h-1.3zM140.8 200.1h1.3v1.3h-1.3zM128.0 209.1h1.3v1.3h-1.3zM140.2 203.4h1.3v1.3h-1.3zM148.0 203.0h1.3v1.3h-1.3zM136.9 206.3h1.3v1.3h-1.3zM144.4 207.9h1.3v1.3h-1.3zM130.8 205.3h1.3v1.3h-1.3zM140.1 204.7h1.3v1.3h-1.3zM128.9 201.2h1.3v1.3h-1.3zM132.6 209.5h1.3v1.3h-1.3zM126.4 194.4h1.3v1.3h-1.3zM147.4 195.9h1.3v1.3h-1.3zM135.1 208.9h1.3v1.3h-1.3zM127.3 210.5h1.3v1.3h-1.3zM139.6 202.7h1.3v1.3h-1.3zM144.1 205.1h1.3v1.3h-1.3zM139.5 197.5h1.3v1.3h-1.3zM137.1 197.2h1.3v1.3h-1.3zM141.2 206.5h1.3v1.3h-1.3zM132.5 199.9h1.3v1.3h-1.3zM141.4 200.2h1.3v1.3h-1.3zM131.1 199.5h1.3v1.3h-1.3zM142.2 210.7h1.3v1.3h-1.3zM125.0 203.7h1.3v1.3h-1.3zM131.3 195.9h1.3v1.3h-1.3zM128.0 225.4h1.3v1.3h-1.3zM141.7 225.9h1.3v1.3h-1.3zM124.5 213.2h1.3v1.3h-1.3zM135.8 225.7h1.3v1.3h-1.3zM123.5 215.9h1.3v1.3h-1.3zM140.6 215.2h1.3v1.3h-1.3zM131.2 216.4h1.3v1.3h-1.3zM122.1 218.4h1.3v1.3h-1.3zM136.4 216.3h1.3v1.3h-1.3zM135.9 219.3h1.3v1.3h-1.3zM148.1 218.0h1.3v1.3h-1.3zM144.0 224.2h1.3v1.3h-1.3zM122.7 225.3h1.3v1.3h-1.3zM136.4 216.5h1.3v1.3h-1.3zM135.5 219.8h1.3v1.3h-1.3zM131.1 222.6h1.3v1.3h-1.3zM124.3 217.6h1.3v1.3h-1.3zM140.1 218.1h1.3v1.3h-1.3zM131.1 222.3h1.3v1.3h-1.3zM134.9 220.6h1.3v1.3h-1.3zM163.0 175.3h1.3v1.3h-1.3zM161.8 175.8h1.3v1.3h-1.3zM163.2 173.9h1.3v1.3h-1.3zM159.1 177.0h1.3v1.3h-1.3zM154.3 179.5h1.3v1.3h-1.3zM164.5 175.2h1.3v1.3h-1.3zM168.3 173.0h1.3v1.3h-1.3zM156.2 177.2h1.3v1.3h-1.3zM163.9 176.2h1.3v1.3h-1.3zM162.3 174.8h1.3v1.3h-1.3zM167.1 172.0h1.3v1.3h-1.3zM170.2 173.0h1.3v1.3h-1.3zM155.8 177.0h1.3v1.3h-1.3zM159.3 178.4h1.3v1.3h-1.3zM160.5 174.9h1.3v1.3h-1.3zM187.8 185.4h1.3v1.3h-1.3zM164.5 207.9h1.3v1.3h-1.3zM169.2 183.6h1.3v1.3h-1.3zM176.0 201.8h1.3v1.3h-1.3zM159.1 184.6h1.3v1.3h-1.3zM183.3 181.1h1.3v1.3h-1.3zM154.3 183.6h1.3v1.3h-1.3zM158.5 184.0h1.3v1.3h-1.3zM176.6 176.2h1.3v1.3h-1.3zM182.7 188.7h1.3v1.3h-1.3zM191.4 176.8h1.3v1.3h-1.3zM154.4 190.9h1.3v1.3h-1.3zM194.5 202.0h1.3v1.3h-1.3zM197.6 182.5h1.3v1.3h-1.3zM196.8 176.4h1.3v1.3h-1.3zM186.1 199.6h1.3v1.3h-1.3zM161.2 177.3h1.3v1.3h-1.3zM189.0 198.8h1.3v1.3h-1.3zM181.7 207.1h1.3v1.3h-1.3zM163.7 177.6h1.3v1.3h-1.3zM194.2 182.0h1.3v1.3h-1.3zM161.9 203.6h1.3v1.3h-1.3zM171.0 181.2h1.3v1.3h-1.3zM178.0 196.1h1.3v1.3h-1.3zM161.1 207.9h1.3v1.3h-1.3zM157.7 178.3h1.3v1.3h-1.3zM184.5 176.5h1.3v1.3h-1.3zM174.3 184.0h1.3v1.3h-1.3zM181.1 179.4h1.3v1.3h-1.3zM163.9 207.4h1.3v1.3h-1.3zM164.4 223.5h1.3v1.3h-1.3zM164.2 217.5h1.3v1.3h-1.3zM161.0 226.4h1.3v1.3h-1.3zM156.3 223.3h1.3v1.3h-1.3zM157.0 219.3h1.3v1.3h-1.3zM163.2 231.9h1.3v1.3h-1.3zM167.5 228.6h1.3v1.3h-1.3zM155.5 228.7h1.3v1.3h-1.3zM236.0 243.9h1.3v1.3h-1.3zM240.0 243.1h1.3v1.3h-1.3zM241.2 244.6h1.3v1.3h-1.3zM235.0 235.0h1.3v1.3h-1.3zM231.4 229.3h1.3v1.3h-1.3zM238.5 228.0h1.3v1.3h-1.3zM236.3 231.6h1.3v1.3h-1.3zM239.7 232.8h1.3v1.3h-1.3zM237.7 235.8h1.3v1.3h-1.3zM239.7 230.4h1.3v1.3h-1.3zM229.0 233.7h1.3v1.3h-1.3zM231.8 234.7h1.3v1.3h-1.3zM226.7 230.8h1.3v1.3h-1.3zM236.6 238.7h1.3v1.3h-1.3zM241.6 239.6h1.3v1.3h-1.3zM237.1 238.6h1.3v1.3h-1.3zM247.6 234.3h1.3v1.3h-1.3zM231.1 245.8h1.3v1.3h-1.3zM228.7 236.6h1.3v1.3h-1.3zM236.9 240.0h1.3v1.3h-1.3zM237.5 235.5h1.3v1.3h-1.3zM246.5 239.5h1.3v1.3h-1.3zM230.5 232.2h1.3v1.3h-1.3zM253.4 233.0h1.3v1.3h-1.3zM236.5 241.0h1.3v1.3h-1.3zM235.2 240.0h1.3v1.3h-1.3zM232.3 233.1h1.3v1.3h-1.3zM236.1 242.2h1.3v1.3h-1.3zM239.4 230.9h1.3v1.3h-1.3zM233.4 242.1h1.3v1.3h-1.3zM228.7 236.8h1.3v1.3h-1.3zM228.8 232.4h1.3v1.3h-1.3zM238.3 233.4h1.3v1.3h-1.3zM235.0 237.7h1.3v1.3h-1.3zM237.6 234.2h1.3v1.3h-1.3zM231.8 229.0h1.3v1.3h-1.3zM232.8 236.3h1.3v1.3h-1.3zM230.8 233.4h1.3v1.3h-1.3zM232.9 233.3h1.3v1.3h-1.3zM243.3 240.2h1.3v1.3h-1.3zM242.5 232.4h1.3v1.3h-1.3zM224.0 228.2h1.3v1.3h-1.3zM236.3 234.3h1.3v1.3h-1.3zM236.9 228.4h1.3v1.3h-1.3zM238.3 245.9h1.3v1.3h-1.3zM230.7 231.4h1.3v1.3h-1.3zM221.3 233.6h1.3v1.3h-1.3zM237.6 239.5h1.3v1.3h-1.3zM231.3 235.8h1.3v1.3h-1.3zM239.0 235.5h1.3v1.3h-1.3zM244.0 233.1h1.3v1.3h-1.3zM230.7 232.5h1.3v1.3h-1.3zM223.0 231.1h1.3v1.3h-1.3zM238.7 243.4h1.3v1.3h-1.3zM236.3 239.0h1.3v1.3h-1.3zM229.7 239.5h1.3v1.3h-1.3zM235.1 233.9h1.3v1.3h-1.3zM233.8 242.1h1.3v1.3h-1.3zM243.5 237.3h1.3v1.3h-1.3zM244.2 234.8h1.3v1.3h-1.3zM242.6 238.8h1.3v1.3h-1.3zM233.1 243.7h1.3v1.3h-1.3zM230.5 235.5h1.3v1.3h-1.3zM240.7 235.5h1.3v1.3h-1.3zM239.8 236.5h1.3v1.3h-1.3zM240.9 232.6h1.3v1.3h-1.3zM240.3 235.3h1.3v1.3h-1.3zM236.9 240.4h1.3v1.3h-1.3zM242.2 238.7h1.3v1.3h-1.3zM237.4 236.1h1.3v1.3h-1.3zM240.4 232.4h1.3v1.3h-1.3zM233.2 227.6h1.3v1.3h-1.3zM230.1 237.3h1.3v1.3h-1.3zM234.7 231.8h1.3v1.3h-1.3zM238.3 242.4h1.3v1.3h-1.3zM239.6 232.4h1.3v1.3h-1.3zM238.3 239.5h1.3v1.3h-1.3zM228.1 230.7h1.3v1.3h-1.3zM233.2 237.0h1.3v1.3h-1.3zM235.0 237.6h1.3v1.3h-1.3zM240.5 239.6h1.3v1.3h-1.3zM232.0 228.0h1.3v1.3h-1.3zM232.7 227.4h1.3v1.3h-1.3zM241.9 235.7h1.3v1.3h-1.3zM231.0 241.8h1.3v1.3h-1.3zM234.3 235.3h1.3v1.3h-1.3zM233.5 233.9h1.3v1.3h-1.3zM234.8 232.0h1.3v1.3h-1.3zM231.3 230.7h1.3v1.3h-1.3zM244.1 226.6h1.3v1.3h-1.3zM242.7 232.6h1.3v1.3h-1.3zM240.3 229.1h1.3v1.3h-1.3zM232.5 242.8h1.3v1.3h-1.3zM241.5 245.9h1.3v1.3h-1.3zM250.0 238.9h1.3v1.3h-1.3zM237.4 240.6h1.3v1.3h-1.3zM241.9 239.5h1.3v1.3h-1.3zM224.0 237.9h1.3v1.3h-1.3zM232.9 238.8h1.3v1.3h-1.3zM237.4 235.8h1.3v1.3h-1.3zM243.0 236.0h1.3v1.3h-1.3zM241.5 225.4h1.3v1.3h-1.3zM244.4 235.0h1.3v1.3h-1.3zM234.5 245.0h1.3v1.3h-1.3zM229.2 240.1h1.3v1.3h-1.3zM241.2 239.6h1.3v1.3h-1.3zM235.5 234.6h1.3v1.3h-1.3zM227.4 232.8h1.3v1.3h-1.3zM245.2 236.8h1.3v1.3h-1.3zM235.6 231.6h1.3v1.3h-1.3zM238.0 242.6h1.3v1.3h-1.3zM240.3 234.8h1.3v1.3h-1.3zM236.2 234.0h1.3v1.3h-1.3zM232.7 231.8h1.3v1.3h-1.3zM243.9 230.2h1.3v1.3h-1.3zM234.9 240.3h1.3v1.3h-1.3zM235.9 231.5h1.3v1.3h-1.3zM232.2 240.0h1.3v1.3h-1.3zM230.4 235.8h1.3v1.3h-1.3zM230.1 233.8h1.3v1.3h-1.3zM240.1 229.9h1.3v1.3h-1.3zM232.5 239.4h1.3v1.3h-1.3zM239.6 230.5h1.3v1.3h-1.3zM243.9 235.6h1.3v1.3h-1.3zM232.8 242.9h1.3v1.3h-1.3zM241.7 235.8h1.3v1.3h-1.3zM238.3 236.4h1.3v1.3h-1.3zM233.6 235.2h1.3v1.3h-1.3zM241.9 236.1h1.3v1.3h-1.3zM228.3 234.7h1.3v1.3h-1.3zM227.4 228.8h1.3v1.3h-1.3zM242.2 233.2h1.3v1.3h-1.3zM239.7 236.7h1.3v1.3h-1.3zM232.4 237.7h1.3v1.3h-1.3zM244.3 235.1h1.3v1.3h-1.3zM231.3 239.2h1.3v1.3h-1.3zM234.6 236.8h1.3v1.3h-1.3zM232.6 232.5h1.3v1.3h-1.3zM236.9 238.6h1.3v1.3h-1.3zM234.6 229.7h1.3v1.3h-1.3zM235.9 234.1h1.3v1.3h-1.3zM229.8 235.4h1.3v1.3h-1.3zM231.2 232.1h1.3v1.3h-1.3zM241.0 233.5h1.3v1.3h-1.3zM236.1 240.9h1.3v1.3h-1.3zM233.0 240.3h1.3v1.3h-1.3zM230.9 237.9h1.3v1.3h-1.3zM237.4 235.4h1.3v1.3h-1.3zM234.6 235.9h1.3v1.3h-1.3zM240.7 227.8h1.3v1.3h-1.3zM234.9 245.0h1.3v1.3h-1.3zM241.6 242.0h1.3v1.3h-1.3zM239.5 235.2h1.3v1.3h-1.3zM242.1 243.8h1.3v1.3h-1.3zM228.3 230.1h1.3v1.3h-1.3zM237.7 224.0h1.3v1.3h-1.3zM230.7 241.2h1.3v1.3h-1.3zM230.3 234.1h1.3v1.3h-1.3zM227.9 238.0h1.3v1.3h-1.3zM230.8 226.5h1.3v1.3h-1.3zM240.2 230.7h1.3v1.3h-1.3zM240.9 236.9h1.3v1.3h-1.3zM233.4 240.5h1.3v1.3h-1.3zM239.5 238.3h1.3v1.3h-1.3zM236.5 232.1h1.3v1.3h-1.3zM227.2 228.8h1.3v1.3h-1.3zM232.8 239.2h1.3v1.3h-1.3zM245.2 237.8h1.3v1.3h-1.3zM235.5 226.6h1.3v1.3h-1.3zM245.4 242.6h1.3v1.3h-1.3zM244.4 241.6h1.3v1.3h-1.3zM228.7 236.4h1.3v1.3h-1.3zM224.2 237.8h1.3v1.3h-1.3zM230.6 241.4h1.3v1.3h-1.3zM229.4 235.0h1.3v1.3h-1.3zM245.1 233.8h1.3v1.3h-1.3zM236.5 233.7h1.3v1.3h-1.3zM237.6 236.4h1.3v1.3h-1.3zM237.7 234.4h1.3v1.3h-1.3zM234.8 235.9h1.3v1.3h-1.3zM236.7 233.9h1.3v1.3h-1.3zM234.8 243.3h1.3v1.3h-1.3zM235.0 233.5h1.3v1.3h-1.3zM226.1 227.2h1.3v1.3h-1.3zM239.2 230.5h1.3v1.3h-1.3zM243.2 234.4h1.3v1.3h-1.3zM243.7 233.3h1.3v1.3h-1.3zM229.5 231.9h1.3v1.3h-1.3zM241.6 231.8h1.3v1.3h-1.3zM233.5 230.1h1.3v1.3h-1.3zM234.3 240.2h1.3v1.3h-1.3zM237.7 235.4h1.3v1.3h-1.3zM235.5 232.2h1.3v1.3h-1.3zM233.9 229.7h1.3v1.3h-1.3zM225.9 240.8h1.3v1.3h-1.3zM238.7 235.4h1.3v1.3h-1.3zM236.7 240.1h1.3v1.3h-1.3zM237.3 245.7h1.3v1.3h-1.3zM237.4 237.1h1.3v1.3h-1.3zM231.1 236.7h1.3v1.3h-1.3zM240.5 232.4h1.3v1.3h-1.3zM239.5 238.5h1.3v1.3h-1.3zM227.6 234.6h1.3v1.3h-1.3zM226.1 239.2h1.3v1.3h-1.3zM235.5 231.3h1.3v1.3h-1.3zM242.8 232.3h1.3v1.3h-1.3zM236.0 232.4h1.3v1.3h-1.3zM231.9 238.2h1.3v1.3h-1.3zM231.1 232.4h1.3v1.3h-1.3zM235.1 239.6h1.3v1.3h-1.3zM237.0 233.1h1.3v1.3h-1.3zM239.6 228.1h1.3v1.3h-1.3zM236.1 228.1h1.3v1.3h-1.3zM238.6 242.4h1.3v1.3h-1.3zM231.4 238.4h1.3v1.3h-1.3zM237.1 237.9h1.3v1.3h-1.3zM235.1 225.4h1.3v1.3h-1.3zM240.0 234.8h1.3v1.3h-1.3zM238.8 235.0h1.3v1.3h-1.3zM223.6 224.9h1.3v1.3h-1.3zM230.0 241.3h1.3v1.3h-1.3zM240.9 240.7h1.3v1.3h-1.3zM239.5 238.8h1.3v1.3h-1.3zM236.5 232.5h1.3v1.3h-1.3zM234.5 235.4h1.3v1.3h-1.3zM239.6 224.6h1.3v1.3h-1.3zM232.4 235.0h1.3v1.3h-1.3zM233.7 240.4h1.3v1.3h-1.3zM229.2 228.6h1.3v1.3h-1.3zM237.0 236.1h1.3v1.3h-1.3zM233.3 232.3h1.3v1.3h-1.3zM230.7 242.0h1.3v1.3h-1.3zM234.4 232.9h1.3v1.3h-1.3zM232.4 231.1h1.3v1.3h-1.3zM237.9 238.7h1.3v1.3h-1.3zM237.4 235.9h1.3v1.3h-1.3zM232.8 236.0h1.3v1.3h-1.3zM230.6 235.1h1.3v1.3h-1.3zM241.3 240.0h1.3v1.3h-1.3zM248.6 239.8h1.3v1.3h-1.3zM230.4 221.7h1.3v1.3h-1.3zM234.6 240.8h1.3v1.3h-1.3zM243.0 240.8h1.3v1.3h-1.3zM235.8 233.1h1.3v1.3h-1.3zM229.5 229.8h1.3v1.3h-1.3zM231.0 233.9h1.3v1.3h-1.3zM241.8 230.6h1.3v1.3h-1.3zM224.2 238.3h1.3v1.3h-1.3zM244.2 234.7h1.3v1.3h-1.3zM230.4 228.9h1.3v1.3h-1.3zM244.4 230.3h1.3v1.3h-1.3zM230.0 233.1h1.3v1.3h-1.3zM231.6 231.6h1.3v1.3h-1.3zM231.4 237.7h1.3v1.3h-1.3zM239.1 230.5h1.3v1.3h-1.3zM230.4 234.9h1.3v1.3h-1.3zM238.9 229.7h1.3v1.3h-1.3zM241.2 226.9h1.3v1.3h-1.3zM244.3 239.2h1.3v1.3h-1.3zM240.8 238.8h1.3v1.3h-1.3zM236.9 236.8h1.3v1.3h-1.3zM244.5 228.2h1.3v1.3h-1.3zM236.0 241.4h1.3v1.3h-1.3zM234.0 239.6h1.3v1.3h-1.3zM238.0 232.0h1.3v1.3h-1.3zM236.1 231.3h1.3v1.3h-1.3zM230.6 234.0h1.3v1.3h-1.3zM242.2 233.4h1.3v1.3h-1.3zM228.4 233.7h1.3v1.3h-1.3zM248.2 236.1h1.3v1.3h-1.3zM225.2 234.3h1.3v1.3h-1.3zM235.1 230.2h1.3v1.3h-1.3zM236.6 224.2h1.3v1.3h-1.3zM237.6 223.5h1.3v1.3h-1.3zM236.5 236.9h1.3v1.3h-1.3zM239.4 221.8h1.3v1.3h-1.3zM244.3 224.6h1.3v1.3h-1.3zM237.6 234.2h1.3v1.3h-1.3zM239.9 231.5h1.3v1.3h-1.3zM237.8 232.3h1.3v1.3h-1.3zM229.7 239.4h1.3v1.3h-1.3zM233.2 239.6h1.3v1.3h-1.3zM243.9 230.1h1.3v1.3h-1.3zM237.7 234.9h1.3v1.3h-1.3zM249.2 234.0h1.3v1.3h-1.3zM238.2 240.8h1.3v1.3h-1.3zM241.4 235.4h1.3v1.3h-1.3zM229.1 241.9h1.3v1.3h-1.3zM240.1 233.6h1.3v1.3h-1.3zM233.6 237.2h1.3v1.3h-1.3zM232.1 228.3h1.3v1.3h-1.3zM225.8 231.7h1.3v1.3h-1.3zM234.5 233.9h1.3v1.3h-1.3zM234.4 237.1h1.3v1.3h-1.3zM233.7 236.3h1.3v1.3h-1.3zM241.2 241.9h1.3v1.3h-1.3zM237.5 230.4h1.3v1.3h-1.3zM240.7 232.1h1.3v1.3h-1.3zM234.1 241.7h1.3v1.3h-1.3zM237.7 233.4h1.3v1.3h-1.3zM238.2 235.4h1.3v1.3h-1.3zM235.0 238.8h1.3v1.3h-1.3zM242.4 233.3h1.3v1.3h-1.3zM226.3 235.6h1.3v1.3h-1.3zM240.3 235.2h1.3v1.3h-1.3zM227.0 236.0h1.3v1.3h-1.3zM221.5 235.4h1.3v1.3h-1.3zM233.7 227.9h1.3v1.3h-1.3zM240.4 238.5h1.3v1.3h-1.3zM238.2 236.2h1.3v1.3h-1.3zM222.8 239.0h1.3v1.3h-1.3zM250.1 232.4h1.3v1.3h-1.3zM248.1 240.0h1.3v1.3h-1.3zM240.6 235.2h1.3v1.3h-1.3zM229.8 237.9h1.3v1.3h-1.3zM235.9 238.9h1.3v1.3h-1.3zM241.8 243.2h1.3v1.3h-1.3zM225.2 237.0h1.3v1.3h-1.3zM244.1 233.9h1.3v1.3h-1.3zM230.8 234.4h1.3v1.3h-1.3zM238.2 235.9h1.3v1.3h-1.3zM240.5 235.5h1.3v1.3h-1.3zM238.0 236.3h1.3v1.3h-1.3zM236.2 227.0h1.3v1.3h-1.3zM240.0 230.9h1.3v1.3h-1.3zM253.6 226.4h1.3v1.3h-1.3zM234.7 235.3h1.3v1.3h-1.3zM242.3 234.7h1.3v1.3h-1.3zM230.9 233.4h1.3v1.3h-1.3zM237.3 228.3h1.3v1.3h-1.3zM239.5 238.0h1.3v1.3h-1.3zM235.0 230.5h1.3v1.3h-1.3zM237.7 233.9h1.3v1.3h-1.3zM238.9 232.5h1.3v1.3h-1.3zM227.6 237.8h1.3v1.3h-1.3zM230.6 244.8h1.3v1.3h-1.3zM243.4 227.0h1.3v1.3h-1.3zM238.4 240.9h1.3v1.3h-1.3zM240.9 236.9h1.3v1.3h-1.3zM232.1 228.7h1.3v1.3h-1.3zM229.8 232.9h1.3v1.3h-1.3zM235.2 234.9h1.3v1.3h-1.3zM246.3 236.9h1.3v1.3h-1.3zM232.3 236.3h1.3v1.3h-1.3zM229.8 238.8h1.3v1.3h-1.3zM231.6 227.5h1.3v1.3h-1.3zM243.9 237.2h1.3v1.3h-1.3zM231.7 238.4h1.3v1.3h-1.3zM241.8 230.5h1.3v1.3h-1.3zM235.4 229.6h1.3v1.3h-1.3zM234.5 230.4h1.3v1.3h-1.3zM232.0 234.9h1.3v1.3h-1.3zM236.6 235.9h1.3v1.3h-1.3zM234.7 241.0h1.3v1.3h-1.3zM246.9 241.1h1.3v1.3h-1.3zM232.0 233.2h1.3v1.3h-1.3zM237.2 232.1h1.3v1.3h-1.3zM229.5 227.8h1.3v1.3h-1.3zM240.1 228.2h1.3v1.3h-1.3zM222.4 228.6h1.3v1.3h-1.3zM238.1 236.0h1.3v1.3h-1.3zM234.3 239.6h1.3v1.3h-1.3zM228.2 232.4h1.3v1.3h-1.3zM238.0 234.3h1.3v1.3h-1.3zM224.5 238.1h1.3v1.3h-1.3zM232.9 235.8h1.3v1.3h-1.3zM233.1 236.9h1.3v1.3h-1.3zM241.0 235.7h1.3v1.3h-1.3zM239.7 239.3h1.3v1.3h-1.3zM242.0 230.3h1.3v1.3h-1.3zM229.9 232.8h1.3v1.3h-1.3zM235.7 230.4h1.3v1.3h-1.3zM236.8 241.6h1.3v1.3h-1.3zM231.2 234.7h1.3v1.3h-1.3zM238.0 230.8h1.3v1.3h-1.3zM235.1 233.7h1.3v1.3h-1.3zM231.0 237.0h1.3v1.3h-1.3zM237.8 240.0h1.3v1.3h-1.3zM231.9 231.8h1.3v1.3h-1.3zM243.9 232.4h1.3v1.3h-1.3zM237.3 239.0h1.3v1.3h-1.3zM237.9 231.9h1.3v1.3h-1.3zM240.0 233.2h1.3v1.3h-1.3zM241.7 239.1h1.3v1.3h-1.3zM228.6 230.1h1.3v1.3h-1.3zM240.6 240.8h1.3v1.3h-1.3zM234.3 232.6h1.3v1.3h-1.3zM231.0 245.0h1.3v1.3h-1.3zM238.4 235.2h1.3v1.3h-1.3zM239.6 233.1h1.3v1.3h-1.3zM228.3 229.3h1.3v1.3h-1.3zM235.6 225.7h1.3v1.3h-1.3zM233.3 225.9h1.3v1.3h-1.3zM233.0 230.8h1.3v1.3h-1.3zM241.9 230.0h1.3v1.3h-1.3zM235.9 236.1h1.3v1.3h-1.3zM244.5 222.9h1.3v1.3h-1.3zM236.1 226.9h1.3v1.3h-1.3zM246.8 226.8h1.3v1.3h-1.3zM226.3 227.7h1.3v1.3h-1.3zM229.3 234.5h1.3v1.3h-1.3zM243.0 228.0h1.3v1.3h-1.3zM241.6 234.4h1.3v1.3h-1.3zM241.3 222.7h1.3v1.3h-1.3zM236.5 232.2h1.3v1.3h-1.3zM237.5 244.9h1.3v1.3h-1.3zM232.5 235.1h1.3v1.3h-1.3zM238.6 233.8h1.3v1.3h-1.3zM241.7 236.6h1.3v1.3h-1.3zM231.4 245.8h1.3v1.3h-1.3zM232.0 241.8h1.3v1.3h-1.3zM237.8 234.7h1.3v1.3h-1.3zM240.7 242.8h1.3v1.3h-1.3zM240.9 232.9h1.3v1.3h-1.3zM243.7 232.6h1.3v1.3h-1.3zM233.7 233.4h1.3v1.3h-1.3zM236.6 229.9h1.3v1.3h-1.3zM237.9 237.8h1.3v1.3h-1.3zM236.9 241.4h1.3v1.3h-1.3zM239.1 237.6h1.3v1.3h-1.3zM237.8 226.5h1.3v1.3h-1.3zM239.9 229.1h1.3v1.3h-1.3zM233.2 233.3h1.3v1.3h-1.3zM238.7 226.3h1.3v1.3h-1.3zM229.7 232.0h1.3v1.3h-1.3zM237.6 236.1h1.3v1.3h-1.3zM227.9 244.8h1.3v1.3h-1.3zM228.8 245.0h1.3v1.3h-1.3zM240.4 234.0h1.3v1.3h-1.3zM224.6 237.7h1.3v1.3h-1.3zM231.2 230.1h1.3v1.3h-1.3zM235.9 238.2h1.3v1.3h-1.3zM229.2 233.2h1.3v1.3h-1.3zM235.2 231.9h1.3v1.3h-1.3zM232.3 236.3h1.3v1.3h-1.3zM232.1 228.6h1.3v1.3h-1.3zM235.2 238.5h1.3v1.3h-1.3zM236.4 235.7h1.3v1.3h-1.3zM245.3 233.2h1.3v1.3h-1.3zM225.4 238.8h1.3v1.3h-1.3zM247.1 245.4h1.3v1.3h-1.3zM238.6 242.5h1.3v1.3h-1.3zM229.4 233.0h1.3v1.3h-1.3zM238.3 241.7h1.3v1.3h-1.3zM245.8 234.8h1.3v1.3h-1.3zM226.4 227.3h1.3v1.3h-1.3zM236.2 237.2h1.3v1.3h-1.3zM236.9 239.8h1.3v1.3h-1.3zM227.0 229.2h1.3v1.3h-1.3zM233.1 227.5h1.3v1.3h-1.3zM231.2 230.6h1.3v1.3h-1.3zM238.6 241.8h1.3v1.3h-1.3zM237.8 238.4h1.3v1.3h-1.3zM232.5 234.7h1.3v1.3h-1.3zM228.1 236.6h1.3v1.3h-1.3zM234.4 235.6h1.3v1.3h-1.3zM238.7 237.7h1.3v1.3h-1.3zM227.2 230.4h1.3v1.3h-1.3zM239.0 239.2h1.3v1.3h-1.3zM243.7 228.0h1.3v1.3h-1.3zM234.8 227.9h1.3v1.3h-1.3zM246.0 234.6h1.3v1.3h-1.3zM238.2 241.2h1.3v1.3h-1.3zM240.4 234.6h1.3v1.3h-1.3zM242.1 228.5h1.3v1.3h-1.3zM234.5 233.3h1.3v1.3h-1.3zM244.6 235.7h1.3v1.3h-1.3zM238.3 229.6h1.3v1.3h-1.3zM232.3 233.8h1.3v1.3h-1.3zM237.7 228.3h1.3v1.3h-1.3zM233.5 230.8h1.3v1.3h-1.3zM234.3 240.3h1.3v1.3h-1.3zM231.8 229.2h1.3v1.3h-1.3zM233.4 237.9h1.3v1.3h-1.3zM231.4 240.8h1.3v1.3h-1.3zM238.9 237.5h1.3v1.3h-1.3zM239.7 232.0h1.3v1.3h-1.3zM233.8 236.7h1.3v1.3h-1.3zM232.5 235.0h1.3v1.3h-1.3zM243.0 237.3h1.3v1.3h-1.3zM228.0 236.4h1.3v1.3h-1.3zM232.5 237.8h1.3v1.3h-1.3zM244.2 228.2h1.3v1.3h-1.3zM245.2 243.0h1.3v1.3h-1.3zM233.1 225.0h1.3v1.3h-1.3zM231.8 234.9h1.3v1.3h-1.3zM242.8 229.6h1.3v1.3h-1.3zM236.7 239.8h1.3v1.3h-1.3zM238.8 240.0h1.3v1.3h-1.3zM242.4 235.2h1.3v1.3h-1.3zM224.3 235.0h1.3v1.3h-1.3zM231.7 237.6h1.3v1.3h-1.3zM230.5 236.1h1.3v1.3h-1.3zM234.6 242.6h1.3v1.3h-1.3zM239.8 235.6h1.3v1.3h-1.3zM240.6 237.1h1.3v1.3h-1.3zM232.1 236.0h1.3v1.3h-1.3zM244.1 235.9h1.3v1.3h-1.3zM239.0 235.2h1.3v1.3h-1.3zM232.4 237.2h1.3v1.3h-1.3zM229.1 233.7h1.3v1.3h-1.3zM237.6 233.0h1.3v1.3h-1.3zM233.4 236.2h1.3v1.3h-1.3zM232.1 233.3h1.3v1.3h-1.3zM230.8 230.4h1.3v1.3h-1.3zM239.0 224.2h1.3v1.3h-1.3zM235.6 231.5h1.3v1.3h-1.3zM230.5 239.5h1.3v1.3h-1.3zM236.4 228.9h1.3v1.3h-1.3zM242.9 233.3h1.3v1.3h-1.3zM248.1 236.1h1.3v1.3h-1.3zM226.0 225.1h1.3v1.3h-1.3zM237.0 229.9h1.3v1.3h-1.3zM232.7 235.9h1.3v1.3h-1.3zM224.9 238.2h1.3v1.3h-1.3zM231.0 238.3h1.3v1.3h-1.3zM239.7 234.7h1.3v1.3h-1.3zM238.5 236.8h1.3v1.3h-1.3zM231.4 229.0h1.3v1.3h-1.3zM241.9 230.6h1.3v1.3h-1.3zM237.1 235.2h1.3v1.3h-1.3zM241.0 243.0h1.3v1.3h-1.3zM229.8 242.8h1.3v1.3h-1.3zM240.1 237.6h1.3v1.3h-1.3zM238.3 238.9h1.3v1.3h-1.3zM237.9 239.3h1.3v1.3h-1.3zM223.1 226.6h1.3v1.3h-1.3zM240.5 226.0h1.3v1.3h-1.3zM241.1 236.0h1.3v1.3h-1.3zM226.1 233.5h1.3v1.3h-1.3zM238.4 234.9h1.3v1.3h-1.3zM231.4 231.1h1.3v1.3h-1.3zM233.4 230.8h1.3v1.3h-1.3zM240.0 237.5h1.3v1.3h-1.3zM239.7 234.9h1.3v1.3h-1.3zM250.6 231.4h1.3v1.3h-1.3zM232.6 235.8h1.3v1.3h-1.3zM240.7 232.8h1.3v1.3h-1.3zM236.6 238.1h1.3v1.3h-1.3zM228.2 242.4h1.3v1.3h-1.3zM238.3 233.6h1.3v1.3h-1.3zM234.6 231.5h1.3v1.3h-1.3zM236.8 231.7h1.3v1.3h-1.3zM238.9 233.6h1.3v1.3h-1.3zM236.7 237.8h1.3v1.3h-1.3zM228.9 245.9h1.3v1.3h-1.3zM232.7 228.8h1.3v1.3h-1.3zM224.1 242.4h1.3v1.3h-1.3zM225.1 240.4h1.3v1.3h-1.3zM240.3 241.2h1.3v1.3h-1.3zM228.8 241.2h1.3v1.3h-1.3zM237.4 237.1h1.3v1.3h-1.3zM235.4 234.0h1.3v1.3h-1.3zM234.9 244.1h1.3v1.3h-1.3zM238.8 227.2h1.3v1.3h-1.3zM234.2 244.3h1.3v1.3h-1.3zM235.9 233.5h1.3v1.3h-1.3zM234.0 241.7h1.3v1.3h-1.3zM241.9 233.6h1.3v1.3h-1.3zM238.5 235.2h1.3v1.3h-1.3zM241.9 229.3h1.3v1.3h-1.3zM229.6 234.7h1.3v1.3h-1.3zM234.1 239.4h1.3v1.3h-1.3zM236.1 236.3h1.3v1.3h-1.3zM240.3 237.0h1.3v1.3h-1.3zM240.7 240.1h1.3v1.3h-1.3zM239.4 240.1h1.3v1.3h-1.3zM234.9 238.3h1.3v1.3h-1.3zM226.4 237.2h1.3v1.3h-1.3zM235.4 240.4h1.3v1.3h-1.3zM234.1 240.7h1.3v1.3h-1.3zM237.4 238.7h1.3v1.3h-1.3zM232.4 239.0h1.3v1.3h-1.3zM236.4 230.3h1.3v1.3h-1.3zM237.8 232.4h1.3v1.3h-1.3zM231.9 232.2h1.3v1.3h-1.3zM241.1 240.7h1.3v1.3h-1.3zM233.1 240.8h1.3v1.3h-1.3zM235.4 231.1h1.3v1.3h-1.3zM224.7 229.1h1.3v1.3h-1.3zM237.6 234.4h1.3v1.3h-1.3zM232.0 228.7h1.3v1.3h-1.3zM242.0 228.1h1.3v1.3h-1.3zM248.8 240.3h1.3v1.3h-1.3zM223.9 232.8h1.3v1.3h-1.3zM239.5 233.7h1.3v1.3h-1.3zM238.1 236.5h1.3v1.3h-1.3zM239.3 231.7h1.3v1.3h-1.3zM236.0 238.2h1.3v1.3h-1.3zM238.5 242.5h1.3v1.3h-1.3zM237.5 242.7h1.3v1.3h-1.3zM235.4 232.3h1.3v1.3h-1.3zM235.5 240.2h1.3v1.3h-1.3zM228.6 237.5h1.3v1.3h-1.3zM227.5 232.8h1.3v1.3h-1.3zM229.4 236.0h1.3v1.3h-1.3zM229.1 236.3h1.3v1.3h-1.3zM245.2 238.6h1.3v1.3h-1.3zM232.9 234.1h1.3v1.3h-1.3zM250.3 234.6h1.3v1.3h-1.3zM235.9 235.4h1.3v1.3h-1.3zM248.3 235.5h1.3v1.3h-1.3zM229.3 237.8h1.3v1.3h-1.3zM237.0 234.6h1.3v1.3h-1.3zM237.7 237.1h1.3v1.3h-1.3zM236.0 232.1h1.3v1.3h-1.3zM240.6 233.9h1.3v1.3h-1.3zM232.3 236.6h1.3v1.3h-1.3zM232.3 230.7h1.3v1.3h-1.3zM234.0 232.7h1.3v1.3h-1.3zM232.4 236.0h1.3v1.3h-1.3zM237.8 238.5h1.3v1.3h-1.3zM238.3 232.1h1.3v1.3h-1.3zM240.4 237.8h1.3v1.3h-1.3zM228.7 240.5h1.3v1.3h-1.3zM234.7 228.9h1.3v1.3h-1.3zM228.5 234.2h1.3v1.3h-1.3zM232.1 236.6h1.3v1.3h-1.3zM241.2 236.3h1.3v1.3h-1.3zM235.1 234.1h1.3v1.3h-1.3zM232.3 237.2h1.3v1.3h-1.3zM234.4 235.0h1.3v1.3h-1.3zM239.9 240.9h1.3v1.3h-1.3zM232.9 231.3h1.3v1.3h-1.3zM232.9 237.3h1.3v1.3h-1.3zM241.8 238.2h1.3v1.3h-1.3zM235.8 232.1h1.3v1.3h-1.3zM234.5 225.8h1.3v1.3h-1.3zM239.0 234.4h1.3v1.3h-1.3zM237.9 235.3h1.3v1.3h-1.3zM226.8 233.7h1.3v1.3h-1.3zM231.6 236.8h1.3v1.3h-1.3zM234.5 234.1h1.3v1.3h-1.3zM240.0 244.1h1.3v1.3h-1.3zM232.3 240.3h1.3v1.3h-1.3zM240.0 230.5h1.3v1.3h-1.3zM222.1 237.1h1.3v1.3h-1.3zM229.3 234.3h1.3v1.3h-1.3zM229.5 238.8h1.3v1.3h-1.3zM239.5 236.8h1.3v1.3h-1.3zM241.1 229.1h1.3v1.3h-1.3zM245.4 235.1h1.3v1.3h-1.3zM238.9 231.2h1.3v1.3h-1.3zM237.2 229.6h1.3v1.3h-1.3zM241.0 235.7h1.3v1.3h-1.3zM224.5 239.3h1.3v1.3h-1.3zM252.7 227.4h1.3v1.3h-1.3zM227.9 236.2h1.3v1.3h-1.3zM238.3 232.8h1.3v1.3h-1.3zM241.2 237.6h1.3v1.3h-1.3zM231.6 233.1h1.3v1.3h-1.3zM241.1 239.9h1.3v1.3h-1.3zM223.6 233.4h1.3v1.3h-1.3zM250.5 231.0h1.3v1.3h-1.3zM238.8 236.3h1.3v1.3h-1.3zM234.4 236.3h1.3v1.3h-1.3zM230.4 237.5h1.3v1.3h-1.3zM248.3 229.2h1.3v1.3h-1.3zM241.1 233.5h1.3v1.3h-1.3zM237.8 241.2h1.3v1.3h-1.3zM235.1 234.5h1.3v1.3h-1.3zM240.4 237.1h1.3v1.3h-1.3zM232.2 238.0h1.3v1.3h-1.3zM230.1 229.6h1.3v1.3h-1.3zM236.1 238.0h1.3v1.3h-1.3zM228.3 233.1h1.3v1.3h-1.3zM237.6 231.6h1.3v1.3h-1.3zM232.4 242.4h1.3v1.3h-1.3zM240.3 237.3h1.3v1.3h-1.3zM230.5 231.2h1.3v1.3h-1.3zM239.7 231.2h1.3v1.3h-1.3zM233.8 237.1h1.3v1.3h-1.3zM246.0 228.4h1.3v1.3h-1.3zM250.9 240.4h1.3v1.3h-1.3zM230.6 233.9h1.3v1.3h-1.3zM233.5 237.4h1.3v1.3h-1.3zM229.2 232.9h1.3v1.3h-1.3zM233.9 230.8h1.3v1.3h-1.3zM245.1 239.8h1.3v1.3h-1.3zM227.8 235.7h1.3v1.3h-1.3zM236.7 230.6h1.3v1.3h-1.3zM245.3 232.1h1.3v1.3h-1.3zM239.8 230.6h1.3v1.3h-1.3zM233.5 237.7h1.3v1.3h-1.3zM241.0 226.0h1.3v1.3h-1.3zM226.6 230.1h1.3v1.3h-1.3zM248.1 241.7h1.3v1.3h-1.3zM236.1 233.2h1.3v1.3h-1.3zM234.4 228.3h1.3v1.3h-1.3zM237.2 232.6h1.3v1.3h-1.3zM239.9 240.0h1.3v1.3h-1.3zM231.0 232.7h1.3v1.3h-1.3zM241.8 233.5h1.3v1.3h-1.3zM232.2 238.8h1.3v1.3h-1.3zM230.5 244.0h1.3v1.3h-1.3zM236.5 233.7h1.3v1.3h-1.3zM239.6 239.3h1.3v1.3h-1.3zM232.7 236.9h1.3v1.3h-1.3zM229.3 235.6h1.3v1.3h-1.3zM240.0 230.7h1.3v1.3h-1.3zM237.8 236.0h1.3v1.3h-1.3zM244.6 226.1h1.3v1.3h-1.3zM230.8 228.9h1.3v1.3h-1.3zM234.6 242.3h1.3v1.3h-1.3zM249.4 237.7h1.3v1.3h-1.3zM225.1 227.4h1.3v1.3h-1.3zM228.2 223.6h1.3v1.3h-1.3zM240.6 231.9h1.3v1.3h-1.3zM240.2 243.3h1.3v1.3h-1.3zM237.6 237.4h1.3v1.3h-1.3zM223.9 234.2h1.3v1.3h-1.3zM238.2 225.7h1.3v1.3h-1.3zM246.6 229.7h1.3v1.3h-1.3zM240.1 239.3h1.3v1.3h-1.3zM233.8 242.1h1.3v1.3h-1.3zM231.1 237.9h1.3v1.3h-1.3zM235.3 234.9h1.3v1.3h-1.3zM225.1 234.2h1.3v1.3h-1.3zM238.0 237.2h1.3v1.3h-1.3zM233.1 228.1h1.3v1.3h-1.3zM224.6 240.7h1.3v1.3h-1.3zM237.0 232.5h1.3v1.3h-1.3zM232.0 231.0h1.3v1.3h-1.3zM234.6 232.7h1.3v1.3h-1.3zM225.0 227.7h1.3v1.3h-1.3zM236.7 233.0h1.3v1.3h-1.3zM235.4 237.1h1.3v1.3h-1.3zM232.8 225.9h1.3v1.3h-1.3zM234.4 234.9h1.3v1.3h-1.3zM242.8 243.1h1.3v1.3h-1.3zM230.2 233.3h1.3v1.3h-1.3zM238.1 239.7h1.3v1.3h-1.3zM222.7 227.5h1.3v1.3h-1.3zM234.6 236.8h1.3v1.3h-1.3zM235.8 233.1h1.3v1.3h-1.3zM238.0 234.2h1.3v1.3h-1.3zM232.2 231.8h1.3v1.3h-1.3zM226.7 238.6h1.3v1.3h-1.3zM238.9 239.4h1.3v1.3h-1.3zM244.3 238.2h1.3v1.3h-1.3zM235.4 237.4h1.3v1.3h-1.3zM244.4 236.5h1.3v1.3h-1.3zM229.6 239.5h1.3v1.3h-1.3zM233.8 236.3h1.3v1.3h-1.3zM229.5 233.7h1.3v1.3h-1.3zM235.4 239.8h1.3v1.3h-1.3zM244.8 240.8h1.3v1.3h-1.3zM237.7 230.0h1.3v1.3h-1.3zM231.1 235.1h1.3v1.3h-1.3zM230.5 241.9h1.3v1.3h-1.3zM237.8 233.8h1.3v1.3h-1.3zM240.9 235.4h1.3v1.3h-1.3zM234.3 227.9h1.3v1.3h-1.3zM232.1 244.4h1.3v1.3h-1.3zM243.7 232.1h1.3v1.3h-1.3zM237.4 224.3h1.3v1.3h-1.3zM238.0 233.6h1.3v1.3h-1.3zM239.2 236.2h1.3v1.3h-1.3zM237.3 237.0h1.3v1.3h-1.3zM229.9 234.2h1.3v1.3h-1.3zM238.8 237.3h1.3v1.3h-1.3zM229.4 229.6h1.3v1.3h-1.3zM249.5 228.1h1.3v1.3h-1.3zM228.5 230.1h1.3v1.3h-1.3zM239.6 242.3h1.3v1.3h-1.3zM229.2 229.6h1.3v1.3h-1.3zM237.4 237.3h1.3v1.3h-1.3zM222.2 238.6h1.3v1.3h-1.3zM237.3 242.4h1.3v1.3h-1.3zM234.3 231.8h1.3v1.3h-1.3zM236.5 240.2h1.3v1.3h-1.3zM245.4 232.0h1.3v1.3h-1.3zM240.2 245.0h1.3v1.3h-1.3zM244.6 240.6h1.3v1.3h-1.3zM235.1 233.3h1.3v1.3h-1.3zM239.9 234.6h1.3v1.3h-1.3zM236.3 230.8h1.3v1.3h-1.3zM224.1 235.9h1.3v1.3h-1.3zM238.0 239.5h1.3v1.3h-1.3zM240.1 234.7h1.3v1.3h-1.3zM232.0 244.1h1.3v1.3h-1.3zM243.0 228.7h1.3v1.3h-1.3zM238.6 235.9h1.3v1.3h-1.3zM239.5 230.3h1.3v1.3h-1.3zM229.3 237.0h1.3v1.3h-1.3zM240.3 233.8h1.3v1.3h-1.3zM223.9 232.5h1.3v1.3h-1.3zM229.2 222.8h1.3v1.3h-1.3zM238.6 238.1h1.3v1.3h-1.3zM240.6 235.5h1.3v1.3h-1.3zM231.8 233.8h1.3v1.3h-1.3zM243.3 234.2h1.3v1.3h-1.3zM243.1 229.9h1.3v1.3h-1.3zM237.7 242.3h1.3v1.3h-1.3zM246.2 234.1h1.3v1.3h-1.3zM245.8 231.3h1.3v1.3h-1.3zM230.8 237.0h1.3v1.3h-1.3zM240.2 230.7h1.3v1.3h-1.3zM235.6 235.6h1.3v1.3h-1.3zM238.1 237.7h1.3v1.3h-1.3zM235.0 231.6h1.3v1.3h-1.3zM235.0 236.8h1.3v1.3h-1.3zM227.0 226.1h1.3v1.3h-1.3zM244.8 225.6h1.3v1.3h-1.3zM237.6 232.7h1.3v1.3h-1.3zM234.7 238.8h1.3v1.3h-1.3zM240.5 235.4h1.3v1.3h-1.3zM229.8 233.5h1.3v1.3h-1.3zM240.2 228.9h1.3v1.3h-1.3zM241.7 234.9h1.3v1.3h-1.3zM230.0 226.5h1.3v1.3h-1.3zM245.5 236.0h1.3v1.3h-1.3zM230.5 238.9h1.3v1.3h-1.3zM233.0 240.6h1.3v1.3h-1.3zM244.1 234.6h1.3v1.3h-1.3zM241.2 236.1h1.3v1.3h-1.3zM232.0 232.9h1.3v1.3h-1.3zM229.4 235.5h1.3v1.3h-1.3zM233.6 235.2h1.3v1.3h-1.3zM232.7 243.4h1.3v1.3h-1.3zM223.6 236.0h1.3v1.3h-1.3zM238.6 233.7h1.3v1.3h-1.3zM241.8 234.8h1.3v1.3h-1.3zM223.9 238.2h1.3v1.3h-1.3zM238.7 231.7h1.3v1.3h-1.3zM237.7 233.1h1.3v1.3h-1.3zM238.7 229.0h1.3v1.3h-1.3zM244.1 239.5h1.3v1.3h-1.3zM239.8 233.4h1.3v1.3h-1.3zM238.5 232.9h1.3v1.3h-1.3zM227.9 231.0h1.3v1.3h-1.3zM227.0 237.5h1.3v1.3h-1.3zM242.5 229.9h1.3v1.3h-1.3zM239.5 233.2h1.3v1.3h-1.3zM236.4 230.1h1.3v1.3h-1.3zM245.8 240.1h1.3v1.3h-1.3zM241.5 235.5h1.3v1.3h-1.3zM241.2 239.4h1.3v1.3h-1.3zM240.9 231.5h1.3v1.3h-1.3zM239.0 230.3h1.3v1.3h-1.3zM233.4 232.8h1.3v1.3h-1.3zM241.1 240.3h1.3v1.3h-1.3zM237.5 244.2h1.3v1.3h-1.3zM239.1 239.6h1.3v1.3h-1.3zM231.2 232.4h1.3v1.3h-1.3zM243.2 240.1h1.3v1.3h-1.3zM237.6 233.0h1.3v1.3h-1.3zM239.0 236.4h1.3v1.3h-1.3zM233.0 240.6h1.3v1.3h-1.3zM232.2 230.1h1.3v1.3h-1.3zM225.5 237.9h1.3v1.3h-1.3zM238.5 234.2h1.3v1.3h-1.3zM230.6 237.1h1.3v1.3h-1.3zM244.6 226.1h1.3v1.3h-1.3zM230.2 233.9h1.3v1.3h-1.3zM227.9 231.4h1.3v1.3h-1.3zM241.1 232.4h1.3v1.3h-1.3zM231.6 230.1h1.3v1.3h-1.3zM244.7 235.9h1.3v1.3h-1.3zM238.2 235.7h1.3v1.3h-1.3zM225.9 240.6h1.3v1.3h-1.3zM246.2 228.6h1.3v1.3h-1.3zM231.6 231.1h1.3v1.3h-1.3zM233.6 237.9h1.3v1.3h-1.3zM229.8 233.7h1.3v1.3h-1.3zM225.0 240.0h1.3v1.3h-1.3zM237.9 220.0h1.3v1.3h-1.3zM239.5 229.7h1.3v1.3h-1.3zM245.1 224.1h1.3v1.3h-1.3zM234.7 237.6h1.3v1.3h-1.3zM228.3 240.6h1.3v1.3h-1.3zM232.0 226.8h1.3v1.3h-1.3zM233.3 234.5h1.3v1.3h-1.3zM234.8 239.3h1.3v1.3h-1.3zM244.3 242.7h1.3v1.3h-1.3zM237.4 242.8h1.3v1.3h-1.3zM240.5 234.7h1.3v1.3h-1.3zM241.3 229.7h1.3v1.3h-1.3zM233.8 241.2h1.3v1.3h-1.3zM232.3 239.3h1.3v1.3h-1.3zM246.1 235.8h1.3v1.3h-1.3zM241.7 232.4h1.3v1.3h-1.3zM245.9 231.2h1.3v1.3h-1.3zM234.6 238.9h1.3v1.3h-1.3zM235.7 241.6h1.3v1.3h-1.3zM235.4 228.0h1.3v1.3h-1.3zM242.5 241.5h1.3v1.3h-1.3zM239.3 234.6h1.3v1.3h-1.3zM241.1 239.7h1.3v1.3h-1.3zM236.6 242.5h1.3v1.3h-1.3zM242.2 245.1h1.3v1.3h-1.3zM236.2 236.9h1.3v1.3h-1.3zM242.3 234.3h1.3v1.3h-1.3zM229.0 228.2h1.3v1.3h-1.3zM248.0 232.6h1.3v1.3h-1.3zM228.2 239.1h1.3v1.3h-1.3zM242.1 239.3h1.3v1.3h-1.3zM235.5 227.3h1.3v1.3h-1.3zM243.2 236.4h1.3v1.3h-1.3zM226.5 232.7h1.3v1.3h-1.3zM234.6 236.0h1.3v1.3h-1.3zM222.0 240.8h1.3v1.3h-1.3zM232.3 237.2h1.3v1.3h-1.3zM228.2 224.8h1.3v1.3h-1.3zM239.4 238.8h1.3v1.3h-1.3zM233.0 244.3h1.3v1.3h-1.3zM237.9 240.0h1.3v1.3h-1.3zM232.2 240.7h1.3v1.3h-1.3zM233.7 244.4h1.3v1.3h-1.3zM246.4 225.8h1.3v1.3h-1.3zM230.6 236.5h1.3v1.3h-1.3zM231.1 236.8h1.3v1.3h-1.3zM239.2 235.6h1.3v1.3h-1.3zM232.3 235.9h1.3v1.3h-1.3zM239.2 241.9h1.3v1.3h-1.3zM231.9 238.5h1.3v1.3h-1.3zM234.8 234.1h1.3v1.3h-1.3zM233.2 232.4h1.3v1.3h-1.3zM231.2 228.5h1.3v1.3h-1.3zM227.9 242.1h1.3v1.3h-1.3zM246.2 239.8h1.3v1.3h-1.3zM236.4 232.7h1.3v1.3h-1.3zM241.3 235.2h1.3v1.3h-1.3zM237.3 237.4h1.3v1.3h-1.3zM234.7 238.7h1.3v1.3h-1.3zM234.3 233.6h1.3v1.3h-1.3zM236.2 229.2h1.3v1.3h-1.3zM243.2 232.3h1.3v1.3h-1.3zM232.2 238.2h1.3v1.3h-1.3zM244.4 229.4h1.3v1.3h-1.3zM232.2 234.4h1.3v1.3h-1.3zM236.0 235.5h1.3v1.3h-1.3zM234.3 227.4h1.3v1.3h-1.3zM229.8 241.9h1.3v1.3h-1.3zM244.0 236.5h1.3v1.3h-1.3zM235.6 233.4h1.3v1.3h-1.3zM241.3 233.4h1.3v1.3h-1.3zM244.8 229.0h1.3v1.3h-1.3zM237.7 231.6h1.3v1.3h-1.3zM242.8 238.1h1.3v1.3h-1.3zM241.0 234.3h1.3v1.3h-1.3zM229.9 236.5h1.3v1.3h-1.3zM241.5 243.8h1.3v1.3h-1.3zM230.5 232.7h1.3v1.3h-1.3zM234.9 232.7h1.3v1.3h-1.3zM226.2 236.4h1.3v1.3h-1.3zM235.5 240.5h1.3v1.3h-1.3zM242.9 234.6h1.3v1.3h-1.3zM240.7 227.7h1.3v1.3h-1.3zM237.3 231.4h1.3v1.3h-1.3zM243.8 242.9h1.3v1.3h-1.3zM232.5 241.4h1.3v1.3h-1.3zM243.5 236.6h1.3v1.3h-1.3zM243.9 235.5h1.3v1.3h-1.3zM234.3 245.0h1.3v1.3h-1.3zM229.3 237.6h1.3v1.3h-1.3zM237.8 232.8h1.3v1.3h-1.3zM235.5 237.5h1.3v1.3h-1.3zM232.5 233.1h1.3v1.3h-1.3zM225.3 237.2h1.3v1.3h-1.3zM236.9 234.8h1.3v1.3h-1.3zM244.4 231.6h1.3v1.3h-1.3zM242.6 241.2h1.3v1.3h-1.3zM223.8 234.1h1.3v1.3h-1.3zM235.4 244.7h1.3v1.3h-1.3zM235.3 233.2h1.3v1.3h-1.3zM233.6 235.2h1.3v1.3h-1.3zM234.7 235.3h1.3v1.3h-1.3zM235.1 238.6h1.3v1.3h-1.3zM236.3 241.5h1.3v1.3h-1.3zM238.9 225.2h1.3v1.3h-1.3zM222.6 222.7h1.3v1.3h-1.3zM249.1 236.2h1.3v1.3h-1.3zM238.7 228.4h1.3v1.3h-1.3zM248.9 245.7h1.3v1.3h-1.3zM231.2 230.6h1.3v1.3h-1.3zM238.5 226.9h1.3v1.3h-1.3zM224.2 233.9h1.3v1.3h-1.3zM225.0 224.8h1.3v1.3h-1.3zM249.7 242.8h1.3v1.3h-1.3zM226.6 240.1h1.3v1.3h-1.3zM241.2 242.6h1.3v1.3h-1.3zM237.9 243.9h1.3v1.3h-1.3zM223.9 226.2h1.3v1.3h-1.3zM238.8 225.6h1.3v1.3h-1.3zM228.2 240.8h1.3v1.3h-1.3zM243.8 227.4h1.3v1.3h-1.3zM237.1 222.1h1.3v1.3h-1.3zM234.5 244.5h1.3v1.3h-1.3zM247.9 223.0h1.3v1.3h-1.3zM238.4 226.1h1.3v1.3h-1.3zM225.4 245.2h1.3v1.3h-1.3zM248.3 223.3h1.3v1.3h-1.3zM239.4 237.4h1.3v1.3h-1.3zM232.1 224.7h1.3v1.3h-1.3zM234.6 228.8h1.3v1.3h-1.3zM238.9 233.6h1.3v1.3h-1.3zM223.4 245.1h1.3v1.3h-1.3zM242.0 227.4h1.3v1.3h-1.3zM231.2 224.3h1.3v1.3h-1.3zM243.7 231.3h1.3v1.3h-1.3zM248.5 230.4h1.3v1.3h-1.3zM236.3 230.7h1.3v1.3h-1.3zM224.3 230.6h1.3v1.3h-1.3zM250.0 228.7h1.3v1.3h-1.3zM246.1 225.2h1.3v1.3h-1.3zM234.2 236.0h1.3v1.3h-1.3zM244.9 223.1h1.3v1.3h-1.3zM233.1 227.9h1.3v1.3h-1.3zM245.3 243.3h1.3v1.3h-1.3zM224.4 239.9h1.3v1.3h-1.3zM230.5 225.9h1.3v1.3h-1.3zM225.3 236.9h1.3v1.3h-1.3zM222.0 228.8h1.3v1.3h-1.3zM230.7 238.2h1.3v1.3h-1.3zM231.4 238.7h1.3v1.3h-1.3zM224.8 242.9h1.3v1.3h-1.3zM228.2 229.0h1.3v1.3h-1.3zM243.3 239.2h1.3v1.3h-1.3zM241.2 235.6h1.3v1.3h-1.3zM226.6 228.4h1.3v1.3h-1.3zM226.5 224.6h1.3v1.3h-1.3zM228.2 231.0h1.3v1.3h-1.3zM246.4 236.5h1.3v1.3h-1.3zM227.2 228.3h1.3v1.3h-1.3zM224.6 240.9h1.3v1.3h-1.3zM238.8 244.1h1.3v1.3h-1.3zM242.1 234.7h1.3v1.3h-1.3zM233.8 225.9h1.3v1.3h-1.3zM232.1 236.3h1.3v1.3h-1.3zM229.7 226.0h1.3v1.3h-1.3zM230.9 224.9h1.3v1.3h-1.3zM239.8 235.7h1.3v1.3h-1.3zM249.9 233.2h1.3v1.3h-1.3zM234.7 233.4h1.3v1.3h-1.3zM236.4 245.4h1.3v1.3h-1.3zM241.9 228.4h1.3v1.3h-1.3zM233.5 236.4h1.3v1.3h-1.3zM231.9 245.7h1.3v1.3h-1.3zM232.8 243.5h1.3v1.3h-1.3zM242.0 224.7h1.3v1.3h-1.3zM226.9 236.0h1.3v1.3h-1.3zM242.1 231.4h1.3v1.3h-1.3zM229.1 233.9h1.3v1.3h-1.3zM225.5 230.6h1.3v1.3h-1.3zM248.9 223.6h1.3v1.3h-1.3zM233.7 202.8h1.3v1.3h-1.3zM224.2 203.9h1.3v1.3h-1.3zM241.4 204.8h1.3v1.3h-1.3zM248.4 199.9h1.3v1.3h-1.3zM244.3 198.0h1.3v1.3h-1.3zM239.5 196.2h1.3v1.3h-1.3zM245.5 211.1h1.3v1.3h-1.3zM230.9 196.5h1.3v1.3h-1.3zM227.0 204.1h1.3v1.3h-1.3zM248.1 210.7h1.3v1.3h-1.3zM246.1 199.0h1.3v1.3h-1.3zM242.5 201.3h1.3v1.3h-1.3zM223.8 206.7h1.3v1.3h-1.3zM233.1 211.8h1.3v1.3h-1.3zM233.3 201.2h1.3v1.3h-1.3zM233.1 198.1h1.3v1.3h-1.3zM234.6 211.7h1.3v1.3h-1.3zM248.0 208.9h1.3v1.3h-1.3zM226.6 201.0h1.3v1.3h-1.3zM231.7 196.9h1.3v1.3h-1.3zM227.8 210.6h1.3v1.3h-1.3zM235.3 202.5h1.3v1.3h-1.3zM226.3 207.7h1.3v1.3h-1.3zM249.5 199.0h1.3v1.3h-1.3zM232.8 207.3h1.3v1.3h-1.3zM244.3 196.5h1.3v1.3h-1.3zM239.3 198.2h1.3v1.3h-1.3zM223.9 208.7h1.3v1.3h-1.3zM228.5 201.5h1.3v1.3h-1.3zM226.6 205.3h1.3v1.3h-1.3zM228.2 223.7h1.3v1.3h-1.3zM226.9 221.2h1.3v1.3h-1.3zM226.5 223.2h1.3v1.3h-1.3zM238.4 219.8h1.3v1.3h-1.3zM246.7 222.3h1.3v1.3h-1.3zM222.6 214.8h1.3v1.3h-1.3zM223.6 214.9h1.3v1.3h-1.3zM243.9 220.6h1.3v1.3h-1.3zM225.5 216.9h1.3v1.3h-1.3zM241.6 218.6h1.3v1.3h-1.3zM249.2 222.7h1.3v1.3h-1.3zM247.9 218.2h1.3v1.3h-1.3zM228.8 214.5h1.3v1.3h-1.3zM237.0 217.3h1.3v1.3h-1.3zM226.3 223.3h1.3v1.3h-1.3zM224.8 222.3h1.3v1.3h-1.3zM225.7 216.0h1.3v1.3h-1.3zM222.5 223.1h1.3v1.3h-1.3zM232.5 215.5h1.3v1.3h-1.3zM222.6 217.6h1.3v1.3h-1.3zM261.0 184.5h1.3v1.3h-1.3zM263.0 182.7h1.3v1.3h-1.3zM258.9 193.7h1.3v1.3h-1.3zM260.0 196.3h1.3v1.3h-1.3zM295.6 176.6h1.3v1.3h-1.3zM296.3 184.2h1.3v1.3h-1.3zM267.9 189.8h1.3v1.3h-1.3zM297.2 199.2h1.3v1.3h-1.3zM276.0 177.6h1.3v1.3h-1.3zM281.2 187.2h1.3v1.3h-1.3zM258.7 200.8h1.3v1.3h-1.3zM280.0 197.5h1.3v1.3h-1.3zM295.7 194.0h1.3v1.3h-1.3zM271.3 196.3h1.3v1.3h-1.3zM277.3 177.4h1.3v1.3h-1.3zM255.6 198.9h1.3v1.3h-1.3zM255.9 197.9h1.3v1.3h-1.3zM268.4 209.6h1.3v1.3h-1.3zM289.5 179.4h1.3v1.3h-1.3zM273.2 192.3h1.3v1.3h-1.3zM281.9 207.8h1.3v1.3h-1.3zM268.4 177.1h1.3v1.3h-1.3zM274.9 181.1h1.3v1.3h-1.3zM279.1 209.7h1.3v1.3h-1.3zM279.0 176.5h1.3v1.3h-1.3zM286.2 199.7h1.3v1.3h-1.3zM278.8 179.2h1.3v1.3h-1.3zM266.9 196.2h1.3v1.3h-1.3zM288.7 178.2h1.3v1.3h-1.3zM270.1 175.1h1.3v1.3h-1.3zM255.4 194.7h1.3v1.3h-1.3zM263.2 205.0h1.3v1.3h-1.3zM297.3 186.5h1.3v1.3h-1.3zM279.6 172.0h1.3v1.3h-1.3zM264.6 186.3h1.3v1.3h-1.3zM259.6 208.3h1.3v1.3h-1.3zM256.8 193.6h1.3v1.3h-1.3zM270.7 209.3h1.3v1.3h-1.3zM299.6 209.6h1.3v1.3h-1.3zM299.2 178.4h1.3v1.3h-1.3zM262.9 188.7h1.3v1.3h-1.3zM267.6 204.4h1.3v1.3h-1.3zM279.7 197.4h1.3v1.3h-1.3zM274.3 207.6h1.3v1.3h-1.3zM271.1 176.0h1.3v1.3h-1.3zM272.1 224.4h1.3v1.3h-1.3zM263.9 221.1h1.3v1.3h-1.3zM286.4 228.4h1.3v1.3h-1.3zM263.6 216.5h1.3v1.3h-1.3zM261.4 228.8h1.3v1.3h-1.3zM273.4 214.5h1.3v1.3h-1.3zM263.9 215.1h1.3v1.3h-1.3zM276.3 223.7h1.3v1.3h-1.3zM281.6 222.4h1.3v1.3h-1.3zM276.7 219.7h1.3v1.3h-1.3zM257.5 229.8h1.3v1.3h-1.3zM287.0 217.4h1.3v1.3h-1.3zM278.4 227.2h1.3v1.3h-1.3zM256.5 228.3h1.3v1.3h-1.3zM269.5 217.1h1.3v1.3h-1.3zM274.7 229.4h1.3v1.3h-1.3zM271.6 231.0h1.3v1.3h-1.3zM261.8 228.3h1.3v1.3h-1.3zM393.7 184.1h1.3v1.3h-1.3zM391.0 177.9h1.3v1.3h-1.3zM387.2 177.2h1.3v1.3h-1.3zM388.8 179.2h1.3v1.3h-1.3zM387.1 178.4h1.3v1.3h-1.3zM381.8 178.2h1.3v1.3h-1.3zM391.7 181.6h1.3v1.3h-1.3zM385.5 183.9h1.3v1.3h-1.3zM389.3 182.0h1.3v1.3h-1.3zM394.7 176.0h1.3v1.3h-1.3zM388.7 183.0h1.3v1.3h-1.3zM392.2 184.6h1.3v1.3h-1.3zM388.6 179.8h1.3v1.3h-1.3zM381.6 179.5h1.3v1.3h-1.3zM382.6 180.0h1.3v1.3h-1.3zM396.0 179.5h1.3v1.3h-1.3zM384.6 177.4h1.3v1.3h-1.3zM389.9 177.1h1.3v1.3h-1.3zM389.3 180.0h1.3v1.3h-1.3zM395.2 179.8h1.3v1.3h-1.3zM389.9 179.2h1.3v1.3h-1.3zM388.1 174.9h1.3v1.3h-1.3zM391.6 180.4h1.3v1.3h-1.3zM398.0 178.1h1.3v1.3h-1.3zM380.0 179.8h1.3v1.3h-1.3zM392.5 177.5h1.3v1.3h-1.3zM379.1 178.4h1.3v1.3h-1.3zM379.5 184.7h1.3v1.3h-1.3zM381.6 178.0h1.3v1.3h-1.3zM384.2 177.7h1.3v1.3h-1.3zM390.4 178.9h1.3v1.3h-1.3zM389.2 177.7h1.3v1.3h-1.3zM376.8 179.1h1.3v1.3h-1.3zM385.6 175.8h1.3v1.3h-1.3zM387.6 181.6h1.3v1.3h-1.3zM388.7 181.8h1.3v1.3h-1.3zM386.5 178.5h1.3v1.3h-1.3zM390.5 185.2h1.3v1.3h-1.3zM391.0 178.0h1.3v1.3h-1.3zM384.5 174.4h1.3v1.3h-1.3zM389.6 176.3h1.3v1.3h-1.3zM394.2 180.5h1.3v1.3h-1.3zM382.2 179.7h1.3v1.3h-1.3zM386.8 176.8h1.3v1.3h-1.3zM377.2 181.5h1.3v1.3h-1.3zM386.0 174.3h1.3v1.3h-1.3zM388.1 181.7h1.3v1.3h-1.3zM376.9 181.0h1.3v1.3h-1.3zM383.9 179.6h1.3v1.3h-1.3zM390.5 177.9h1.3v1.3h-1.3zM389.6 180.5h1.3v1.3h-1.3zM384.2 181.1h1.3v1.3h-1.3zM386.5 183.4h1.3v1.3h-1.3zM386.5 177.5h1.3v1.3h-1.3zM392.5 173.9h1.3v1.3h-1.3zM396.6 180.5h1.3v1.3h-1.3zM382.7 178.6h1.3v1.3h-1.3zM398.7 175.2h1.3v1.3h-1.3zM395.7 182.2h1.3v1.3h-1.3zM393.2 179.3h1.3v1.3h-1.3zM388.6 179.8h1.3v1.3h-1.3zM385.8 178.2h1.3v1.3h-1.3zM391.3 181.1h1.3v1.3h-1.3zM380.1 180.9h1.3v1.3h-1.3zM394.7 180.2h1.3v1.3h-1.3zM394.7 175.4h1.3v1.3h-1.3zM383.9 178.5h1.3v1.3h-1.3zM395.5 176.7h1.3v1.3h-1.3zM382.4 179.5h1.3v1.3h-1.3zM392.0 183.1h1.3v1.3h-1.3zM388.2 178.2h1.3v1.3h-1.3zM392.2 179.4h1.3v1.3h-1.3zM383.5 183.2h1.3v1.3h-1.3zM392.0 182.7h1.3v1.3h-1.3zM389.1 176.6h1.3v1.3h-1.3zM385.5 177.9h1.3v1.3h-1.3zM391.6 174.1h1.3v1.3h-1.3zM387.2 177.9h1.3v1.3h-1.3zM387.6 175.3h1.3v1.3h-1.3zM395.3 177.0h1.3v1.3h-1.3zM388.5 178.5h1.3v1.3h-1.3zM384.6 180.7h1.3v1.3h-1.3zM382.7 178.9h1.3v1.3h-1.3zM388.4 182.3h1.3v1.3h-1.3zM393.3 177.1h1.3v1.3h-1.3zM391.1 177.4h1.3v1.3h-1.3zM392.8 181.0h1.3v1.3h-1.3zM384.7 174.6h1.3v1.3h-1.3zM382.2 180.6h1.3v1.3h-1.3zM390.3 177.7h1.3v1.3h-1.3zM389.6 180.3h1.3v1.3h-1.3zM378.5 179.0h1.3v1.3h-1.3zM389.6 177.7h1.3v1.3h-1.3zM385.6 180.6h1.3v1.3h-1.3zM379.1 175.7h1.3v1.3h-1.3zM393.5 181.2h1.3v1.3h-1.3zM387.7 177.4h1.3v1.3h-1.3zM382.1 175.1h1.3v1.3h-1.3zM393.4 181.0h1.3v1.3h-1.3zM395.1 181.0h1.3v1.3h-1.3zM387.6 180.7h1.3v1.3h-1.3zM388.7 179.2h1.3v1.3h-1.3zM393.7 176.1h1.3v1.3h-1.3zM393.0 180.2h1.3v1.3h-1.3zM385.0 181.0h1.3v1.3h-1.3zM384.1 176.9h1.3v1.3h-1.3zM376.2 178.9h1.3v1.3h-1.3zM390.6 177.0h1.3v1.3h-1.3zM388.8 177.1h1.3v1.3h-1.3zM394.4 176.3h1.3v1.3h-1.3zM376.9 181.7h1.3v1.3h-1.3zM385.9 177.9h1.3v1.3h-1.3zM386.9 178.6h1.3v1.3h-1.3zM388.3 174.9h1.3v1.3h-1.3zM384.7 176.6h1.3v1.3h-1.3zM378.2 181.3h1.3v1.3h-1.3zM390.2 175.8h1.3v1.3h-1.3zM395.6 179.1h1.3v1.3h-1.3zM392.6 178.1h1.3v1.3h-1.3zM385.3 179.3h1.3v1.3h-1.3zM390.3 183.7h1.3v1.3h-1.3zM381.9 177.0h1.3v1.3h-1.3zM394.1 174.6h1.3v1.3h-1.3zM394.0 176.4h1.3v1.3h-1.3zM383.7 183.7h1.3v1.3h-1.3zM385.5 175.1h1.3v1.3h-1.3zM387.2 178.4h1.3v1.3h-1.3zM393.9 180.8h1.3v1.3h-1.3zM394.1 181.3h1.3v1.3h-1.3zM388.0 180.0h1.3v1.3h-1.3zM388.7 178.8h1.3v1.3h-1.3zM386.8 181.6h1.3v1.3h-1.3zM386.9 177.9h1.3v1.3h-1.3zM389.8 180.4h1.3v1.3h-1.3zM376.7 175.8h1.3v1.3h-1.3zM387.8 178.9h1.3v1.3h-1.3zM392.9 181.4h1.3v1.3h-1.3zM392.6 179.6h1.3v1.3h-1.3zM385.8 180.5h1.3v1.3h-1.3zM392.8 177.5h1.3v1.3h-1.3zM388.4 177.0h1.3v1.3h-1.3zM398.3 178.6h1.3v1.3h-1.3zM395.0 179.5h1.3v1.3h-1.3zM386.1 175.5h1.3v1.3h-1.3zM389.7 177.9h1.3v1.3h-1.3zM390.8 176.4h1.3v1.3h-1.3zM392.2 178.5h1.3v1.3h-1.3zM388.4 182.4h1.3v1.3h-1.3zM390.3 178.0h1.3v1.3h-1.3zM379.4 178.5h1.3v1.3h-1.3zM391.0 177.7h1.3v1.3h-1.3zM383.8 182.3h1.3v1.3h-1.3zM387.7 179.6h1.3v1.3h-1.3zM391.7 180.5h1.3v1.3h-1.3zM391.7 174.5h1.3v1.3h-1.3zM385.7 179.9h1.3v1.3h-1.3zM387.9 177.9h1.3v1.3h-1.3zM396.5 178.9h1.3v1.3h-1.3zM387.6 180.5h1.3v1.3h-1.3zM394.2 183.0h1.3v1.3h-1.3zM386.1 182.5h1.3v1.3h-1.3zM388.1 177.3h1.3v1.3h-1.3zM385.7 180.9h1.3v1.3h-1.3zM378.4 181.2h1.3v1.3h-1.3zM392.7 183.2h1.3v1.3h-1.3zM391.2 181.7h1.3v1.3h-1.3zM385.7 180.7h1.3v1.3h-1.3zM390.7 182.9h1.3v1.3h-1.3zM390.5 178.6h1.3v1.3h-1.3zM389.1 182.1h1.3v1.3h-1.3zM393.8 180.9h1.3v1.3h-1.3zM388.2 178.3h1.3v1.3h-1.3zM379.1 182.6h1.3v1.3h-1.3zM387.2 179.7h1.3v1.3h-1.3zM382.2 180.9h1.3v1.3h-1.3zM386.6 176.1h1.3v1.3h-1.3zM394.5 180.2h1.3v1.3h-1.3zM382.6 177.1h1.3v1.3h-1.3zM385.1 179.6h1.3v1.3h-1.3zM385.2 179.7h1.3v1.3h-1.3zM393.4 175.8h1.3v1.3h-1.3zM386.4 182.9h1.3v1.3h-1.3zM384.6 182.4h1.3v1.3h-1.3zM382.3 182.4h1.3v1.3h-1.3zM384.5 177.4h1.3v1.3h-1.3zM392.1 177.6h1.3v1.3h-1.3zM393.3 179.0h1.3v1.3h-1.3zM394.2 180.3h1.3v1.3h-1.3zM396.2 182.6h1.3v1.3h-1.3zM386.4 182.0h1.3v1.3h-1.3zM389.1 182.1h1.3v1.3h-1.3zM389.0 180.0h1.3v1.3h-1.3zM390.3 183.2h1.3v1.3h-1.3zM386.5 177.4h1.3v1.3h-1.3zM382.7 178.1h1.3v1.3h-1.3zM388.3 180.5h1.3v1.3h-1.3zM385.9 178.7h1.3v1.3h-1.3zM385.7 184.1h1.3v1.3h-1.3zM375.4 178.3h1.3v1.3h-1.3zM385.9 182.8h1.3v1.3h-1.3zM389.4 176.2h1.3v1.3h-1.3zM381.0 179.3h1.3v1.3h-1.3zM390.3 176.2h1.3v1.3h-1.3zM388.5 181.9h1.3v1.3h-1.3zM381.7 178.7h1.3v1.3h-1.3zM382.6 183.4h1.3v1.3h-1.3zM386.0 178.6h1.3v1.3h-1.3zM395.4 181.6h1.3v1.3h-1.3zM398.1 178.7h1.3v1.3h-1.3zM377.8 185.5h1.3v1.3h-1.3zM389.1 183.8h1.3v1.3h-1.3zM390.5 180.1h1.3v1.3h-1.3zM392.7 177.7h1.3v1.3h-1.3zM388.4 180.8h1.3v1.3h-1.3zM388.9 176.9h1.3v1.3h-1.3zM389.5 181.5h1.3v1.3h-1.3zM381.4 176.3h1.3v1.3h-1.3zM386.9 176.9h1.3v1.3h-1.3zM392.2 181.6h1.3v1.3h-1.3zM380.2 180.4h1.3v1.3h-1.3zM390.4 183.6h1.3v1.3h-1.3zM378.2 181.5h1.3v1.3h-1.3zM381.6 184.1h1.3v1.3h-1.3zM397.9 177.5h1.3v1.3h-1.3zM378.0 178.0h1.3v1.3h-1.3zM395.0 180.4h1.3v1.3h-1.3zM384.6 179.9h1.3v1.3h-1.3zM380.8 180.7h1.3v1.3h-1.3zM392.5 173.9h1.3v1.3h-1.3zM391.0 176.8h1.3v1.3h-1.3zM384.0 179.7h1.3v1.3h-1.3zM386.4 177.1h1.3v1.3h-1.3zM386.9 178.1h1.3v1.3h-1.3zM391.1 181.1h1.3v1.3h-1.3zM384.4 176.7h1.3v1.3h-1.3zM388.7 178.5h1.3v1.3h-1.3zM388.5 178.4h1.3v1.3h-1.3zM382.6 180.6h1.3v1.3h-1.3zM383.3 180.7h1.3v1.3h-1.3zM389.5 175.8h1.3v1.3h-1.3zM385.4 181.1h1.3v1.3h-1.3zM390.2 177.6h1.3v1.3h-1.3zM391.1 181.2h1.3v1.3h-1.3zM394.5 180.4h1.3v1.3h-1.3zM383.4 180.0h1.3v1.3h-1.3zM383.1 176.9h1.3v1.3h-1.3zM388.7 179.4h1.3v1.3h-1.3zM396.3 173.6h1.3v1.3h-1.3zM385.3 180.1h1.3v1.3h-1.3zM383.2 179.2h1.3v1.3h-1.3zM377.9 178.1h1.3v1.3h-1.3zM389.3 178.7h1.3v1.3h-1.3zM390.1 178.3h1.3v1.3h-1.3zM389.0 178.9h1.3v1.3h-1.3zM380.0 183.3h1.3v1.3h-1.3zM383.1 176.7h1.3v1.3h-1.3zM386.2 173.9h1.3v1.3h-1.3zM381.0 183.0h1.3v1.3h-1.3zM387.1 176.9h1.3v1.3h-1.3zM390.2 177.2h1.3v1.3h-1.3zM382.3 181.0h1.3v1.3h-1.3zM378.7 176.3h1.3v1.3h-1.3zM393.9 176.4h1.3v1.3h-1.3zM383.4 175.2h1.3v1.3h-1.3zM384.3 175.8h1.3v1.3h-1.3zM386.7 182.0h1.3v1.3h-1.3zM373.7 180.5h1.3v1.3h-1.3zM385.1 180.9h1.3v1.3h-1.3zM394.5 173.6h1.3v1.3h-1.3zM381.0 176.0h1.3v1.3h-1.3zM392.6 181.4h1.3v1.3h-1.3zM395.2 180.8h1.3v1.3h-1.3zM389.9 176.3h1.3v1.3h-1.3zM385.7 176.5h1.3v1.3h-1.3zM387.8 181.6h1.3v1.3h-1.3zM389.4 174.4h1.3v1.3h-1.3zM388.1 181.2h1.3v1.3h-1.3zM389.0 181.8h1.3v1.3h-1.3zM388.2 179.2h1.3v1.3h-1.3zM380.0 182.3h1.3v1.3h-1.3zM369.5 183.8h1.3v1.3h-1.3zM390.8 179.9h1.3v1.3h-1.3zM399.4 178.0h1.3v1.3h-1.3zM391.5 180.2h1.3v1.3h-1.3zM382.4 176.9h1.3v1.3h-1.3zM379.0 176.2h1.3v1.3h-1.3zM388.6 175.8h1.3v1.3h-1.3zM385.1 179.7h1.3v1.3h-1.3zM380.0 175.9h1.3v1.3h-1.3zM387.4 180.1h1.3v1.3h-1.3zM387.3 178.0h1.3v1.3h-1.3zM389.9 176.7h1.3v1.3h-1.3zM388.0 181.3h1.3v1.3h-1.3zM394.2 176.4h1.3v1.3h-1.3zM389.4 176.5h1.3v1.3h-1.3zM386.2 180.9h1.3v1.3h-1.3zM386.3 182.4h1.3v1.3h-1.3zM390.5 184.8h1.3v1.3h-1.3zM390.2 183.4h1.3v1.3h-1.3zM385.1 180.3h1.3v1.3h-1.3zM383.0 182.7h1.3v1.3h-1.3zM389.7 185.0h1.3v1.3h-1.3zM386.4 179.6h1.3v1.3h-1.3zM385.5 181.1h1.3v1.3h-1.3zM386.7 189.6h1.3v1.3h-1.3zM383.2 187.7h1.3v1.3h-1.3zM383.1 178.4h1.3v1.3h-1.3zM385.6 177.0h1.3v1.3h-1.3zM378.9 184.0h1.3v1.3h-1.3zM387.5 183.3h1.3v1.3h-1.3zM384.9 183.3h1.3v1.3h-1.3zM381.3 183.3h1.3v1.3h-1.3zM379.0 190.9h1.3v1.3h-1.3zM389.9 180.5h1.3v1.3h-1.3zM385.4 188.3h1.3v1.3h-1.3zM386.4 188.6h1.3v1.3h-1.3zM377.8 176.2h1.3v1.3h-1.3zM380.0 186.2h1.3v1.3h-1.3zM384.1 182.7h1.3v1.3h-1.3zM385.4 190.8h1.3v1.3h-1.3zM387.7 190.0h1.3v1.3h-1.3zM385.4 185.6h1.3v1.3h-1.3zM388.4 185.8h1.3v1.3h-1.3zM384.4 178.9h1.3v1.3h-1.3zM384.5 176.4h1.3v1.3h-1.3zM388.4 185.2h1.3v1.3h-1.3zM393.1 192.7h1.3v1.3h-1.3zM379.3 176.2h1.3v1.3h-1.3zM384.3 179.5h1.3v1.3h-1.3zM385.7 189.9h1.3v1.3h-1.3zM384.3 194.1h1.3v1.3h-1.3zM385.4 183.6h1.3v1.3h-1.3zM389.6 189.7h1.3v1.3h-1.3zM393.7 191.3h1.3v1.3h-1.3zM388.8 188.5h1.3v1.3h-1.3zM388.2 184.2h1.3v1.3h-1.3zM389.4 184.1h1.3v1.3h-1.3zM389.7 192.4h1.3v1.3h-1.3zM383.6 179.6h1.3v1.3h-1.3zM384.0 184.0h1.3v1.3h-1.3zM386.7 188.0h1.3v1.3h-1.3zM386.2 193.0h1.3v1.3h-1.3zM388.9 181.3h1.3v1.3h-1.3zM385.3 188.4h1.3v1.3h-1.3zM389.9 188.1h1.3v1.3h-1.3zM392.6 183.8h1.3v1.3h-1.3zM378.5 185.9h1.3v1.3h-1.3zM385.0 185.0h1.3v1.3h-1.3zM381.4 191.6h1.3v1.3h-1.3zM380.0 183.1h1.3v1.3h-1.3zM384.2 182.1h1.3v1.3h-1.3zM387.1 188.8h1.3v1.3h-1.3zM379.0 185.5h1.3v1.3h-1.3zM381.7 182.0h1.3v1.3h-1.3zM386.4 186.4h1.3v1.3h-1.3zM385.0 189.8h1.3v1.3h-1.3zM386.6 186.6h1.3v1.3h-1.3zM382.4 184.9h1.3v1.3h-1.3zM378.6 180.1h1.3v1.3h-1.3zM384.7 185.7h1.3v1.3h-1.3zM384.0 186.5h1.3v1.3h-1.3zM383.4 184.0h1.3v1.3h-1.3zM384.5 184.5h1.3v1.3h-1.3zM386.1 180.4h1.3v1.3h-1.3zM383.4 179.8h1.3v1.3h-1.3zM389.8 186.0h1.3v1.3h-1.3zM386.1 188.0h1.3v1.3h-1.3zM382.9 185.1h1.3v1.3h-1.3zM381.6 178.1h1.3v1.3h-1.3zM385.1 187.0h1.3v1.3h-1.3zM381.2 185.7h1.3v1.3h-1.3zM378.0 182.5h1.3v1.3h-1.3zM385.3 186.1h1.3v1.3h-1.3zM388.2 177.1h1.3v1.3h-1.3zM381.8 188.9h1.3v1.3h-1.3zM386.2 182.3h1.3v1.3h-1.3zM384.2 189.3h1.3v1.3h-1.3zM388.1 189.3h1.3v1.3h-1.3zM389.5 182.8h1.3v1.3h-1.3zM389.6 186.6h1.3v1.3h-1.3zM385.3 187.0h1.3v1.3h-1.3zM382.9 184.1h1.3v1.3h-1.3zM382.2 181.8h1.3v1.3h-1.3zM376.5 178.6h1.3v1.3h-1.3zM386.8 187.1h1.3v1.3h-1.3zM385.2 188.2h1.3v1.3h-1.3zM387.1 184.1h1.3v1.3h-1.3zM382.9 180.7h1.3v1.3h-1.3zM382.8 189.7h1.3v1.3h-1.3zM380.6 178.4h1.3v1.3h-1.3zM391.1 179.0h1.3v1.3h-1.3zM385.4 192.1h1.3v1.3h-1.3zM383.4 186.6h1.3v1.3h-1.3zM388.0 188.7h1.3v1.3h-1.3zM384.9 191.4h1.3v1.3h-1.3zM384.4 187.2h1.3v1.3h-1.3zM387.3 191.1h1.3v1.3h-1.3zM381.2 180.5h1.3v1.3h-1.3zM382.8 190.2h1.3v1.3h-1.3zM378.2 182.8h1.3v1.3h-1.3zM379.2 180.7h1.3v1.3h-1.3zM382.6 182.5h1.3v1.3h-1.3zM387.4 187.3h1.3v1.3h-1.3zM388.3 181.4h1.3v1.3h-1.3zM385.2 182.3h1.3v1.3h-1.3zM382.3 181.2h1.3v1.3h-1.3zM384.8 187.4h1.3v1.3h-1.3zM384.9 187.7h1.3v1.3h-1.3zM381.1 185.0h1.3v1.3h-1.3zM381.1 185.7h1.3v1.3h-1.3zM380.6 184.1h1.3v1.3h-1.3zM384.3 181.7h1.3v1.3h-1.3zM386.4 183.2h1.3v1.3h-1.3zM387.2 184.1h1.3v1.3h-1.3zM386.9 186.5h1.3v1.3h-1.3zM380.4 183.4h1.3v1.3h-1.3zM383.0 192.7h1.3v1.3h-1.3zM379.9 180.4h1.3v1.3h-1.3zM382.2 180.6h1.3v1.3h-1.3zM381.8 181.1h1.3v1.3h-1.3zM390.0 191.7h1.3v1.3h-1.3zM387.2 180.3h1.3v1.3h-1.3zM386.7 188.3h1.3v1.3h-1.3zM389.7 186.6h1.3v1.3h-1.3zM381.5 183.9h1.3v1.3h-1.3zM388.1 185.6h1.3v1.3h-1.3zM385.3 180.3h1.3v1.3h-1.3zM382.0 182.0h1.3v1.3h-1.3zM384.2 181.2h1.3v1.3h-1.3zM389.1 186.9h1.3v1.3h-1.3zM391.4 185.4h1.3v1.3h-1.3zM389.8 193.0h1.3v1.3h-1.3zM386.1 186.3h1.3v1.3h-1.3zM382.2 180.4h1.3v1.3h-1.3zM379.4 180.2h1.3v1.3h-1.3zM383.4 186.2h1.3v1.3h-1.3zM386.4 189.1h1.3v1.3h-1.3zM387.1 188.2h1.3v1.3h-1.3zM385.9 189.5h1.3v1.3h-1.3zM390.6 186.1h1.3v1.3h-1.3zM388.8 192.3h1.3v1.3h-1.3zM389.5 182.1h1.3v1.3h-1.3zM380.8 184.6h1.3v1.3h-1.3zM382.6 180.6h1.3v1.3h-1.3zM385.3 184.1h1.3v1.3h-1.3zM390.9 185.0h1.3v1.3h-1.3zM383.9 180.2h1.3v1.3h-1.3zM388.4 184.2h1.3v1.3h-1.3zM380.6 182.8h1.3v1.3h-1.3zM379.0 177.5h1.3v1.3h-1.3zM386.5 185.0h1.3v1.3h-1.3zM380.3 190.0h1.3v1.3h-1.3zM389.5 185.8h1.3v1.3h-1.3zM386.7 194.8h1.3v1.3h-1.3zM385.8 185.9h1.3v1.3h-1.3zM382.2 181.3h1.3v1.3h-1.3zM384.3 185.2h1.3v1.3h-1.3zM384.7 182.0h1.3v1.3h-1.3zM381.9 185.8h1.3v1.3h-1.3zM384.9 185.9h1.3v1.3h-1.3zM382.9 182.8h1.3v1.3h-1.3zM384.1 185.0h1.3v1.3h-1.3zM385.8 175.8h1.3v1.3h-1.3zM388.7 184.8h1.3v1.3h-1.3zM383.1 182.6h1.3v1.3h-1.3zM384.7 185.9h1.3v1.3h-1.3zM387.2 184.6h1.3v1.3h-1.3zM382.6 187.8h1.3v1.3h-1.3zM383.7 182.1h1.3v1.3h-1.3zM383.7 184.2h1.3v1.3h-1.3zM383.9 191.3h1.3v1.3h-1.3zM385.6 189.6h1.3v1.3h-1.3zM382.7 185.7h1.3v1.3h-1.3zM391.4 193.8h1.3v1.3h-1.3zM383.1 190.3h1.3v1.3h-1.3zM378.5 181.4h1.3v1.3h-1.3zM389.5 183.9h1.3v1.3h-1.3zM387.4 188.0h1.3v1.3h-1.3zM382.8 185.5h1.3v1.3h-1.3zM389.0 181.8h1.3v1.3h-1.3zM376.5 178.4h1.3v1.3h-1.3zM383.2 182.9h1.3v1.3h-1.3zM385.0 183.6h1.3v1.3h-1.3zM386.3 182.1h1.3v1.3h-1.3zM382.5 190.1h1.3v1.3h-1.3zM385.2 181.0h1.3v1.3h-1.3zM386.2 193.7h1.3v1.3h-1.3zM380.6 187.5h1.3v1.3h-1.3zM392.5 185.9h1.3v1.3h-1.3zM387.4 185.1h1.3v1.3h-1.3zM385.5 181.7h1.3v1.3h-1.3zM384.3 180.2h1.3v1.3h-1.3zM383.1 188.3h1.3v1.3h-1.3zM383.1 183.1h1.3v1.3h-1.3zM385.4 185.5h1.3v1.3h-1.3zM382.4 187.7h1.3v1.3h-1.3zM380.2 182.8h1.3v1.3h-1.3zM387.8 184.4h1.3v1.3h-1.3zM384.8 189.3h1.3v1.3h-1.3zM387.1 194.1h1.3v1.3h-1.3zM382.4 199.3h1.3v1.3h-1.3zM380.8 198.0h1.3v1.3h-1.3zM381.7 200.9h1.3v1.3h-1.3zM377.4 200.0h1.3v1.3h-1.3zM381.1 197.8h1.3v1.3h-1.3zM379.4 197.9h1.3v1.3h-1.3zM379.7 195.8h1.3v1.3h-1.3zM379.2 191.0h1.3v1.3h-1.3zM381.6 192.1h1.3v1.3h-1.3zM380.8 194.1h1.3v1.3h-1.3zM383.5 195.5h1.3v1.3h-1.3zM381.6 192.2h1.3v1.3h-1.3zM377.6 200.5h1.3v1.3h-1.3zM381.1 196.3h1.3v1.3h-1.3zM380.6 185.5h1.3v1.3h-1.3zM380.4 194.5h1.3v1.3h-1.3zM379.9 184.3h1.3v1.3h-1.3zM379.4 190.5h1.3v1.3h-1.3zM385.2 190.4h1.3v1.3h-1.3zM378.7 200.6h1.3v1.3h-1.3zM380.0 187.2h1.3v1.3h-1.3zM382.4 200.1h1.3v1.3h-1.3zM379.7 198.1h1.3v1.3h-1.3zM379.0 190.6h1.3v1.3h-1.3zM383.0 197.6h1.3v1.3h-1.3zM382.0 192.3h1.3v1.3h-1.3zM384.6 199.2h1.3v1.3h-1.3zM383.8 198.7h1.3v1.3h-1.3zM381.8 194.0h1.3v1.3h-1.3zM380.8 192.6h1.3v1.3h-1.3zM381.9 204.0h1.3v1.3h-1.3zM375.7 187.9h1.3v1.3h-1.3zM382.1 197.9h1.3v1.3h-1.3zM383.3 203.8h1.3v1.3h-1.3zM383.8 200.4h1.3v1.3h-1.3zM381.1 193.1h1.3v1.3h-1.3zM386.3 191.8h1.3v1.3h-1.3zM384.6 193.8h1.3v1.3h-1.3zM383.5 197.7h1.3v1.3h-1.3zM380.2 201.3h1.3v1.3h-1.3zM377.3 190.2h1.3v1.3h-1.3zM379.5 190.2h1.3v1.3h-1.3zM381.2 195.9h1.3v1.3h-1.3zM382.0 202.9h1.3v1.3h-1.3zM383.2 197.0h1.3v1.3h-1.3zM386.0 200.5h1.3v1.3h-1.3zM385.5 191.9h1.3v1.3h-1.3zM380.0 185.5h1.3v1.3h-1.3zM383.4 194.3h1.3v1.3h-1.3zM381.5 196.0h1.3v1.3h-1.3zM384.6 198.7h1.3v1.3h-1.3zM384.3 196.4h1.3v1.3h-1.3zM380.7 191.0h1.3v1.3h-1.3zM381.4 191.8h1.3v1.3h-1.3zM382.5 198.3h1.3v1.3h-1.3zM380.9 202.7h1.3v1.3h-1.3zM380.4 202.4h1.3v1.3h-1.3zM382.8 197.0h1.3v1.3h-1.3zM381.3 204.4h1.3v1.3h-1.3zM381.2 197.2h1.3v1.3h-1.3zM384.4 198.3h1.3v1.3h-1.3zM383.7 201.2h1.3v1.3h-1.3zM383.1 198.2h1.3v1.3h-1.3zM382.7 188.5h1.3v1.3h-1.3zM384.8 197.1h1.3v1.3h-1.3zM382.5 190.5h1.3v1.3h-1.3zM380.1 192.2h1.3v1.3h-1.3zM378.2 196.0h1.3v1.3h-1.3zM382.5 198.6h1.3v1.3h-1.3zM382.8 190.9h1.3v1.3h-1.3zM381.1 199.6h1.3v1.3h-1.3zM382.6 191.6h1.3v1.3h-1.3zM386.5 198.1h1.3v1.3h-1.3zM381.1 191.4h1.3v1.3h-1.3zM373.4 190.5h1.3v1.3h-1.3zM382.6 198.8h1.3v1.3h-1.3zM381.5 185.3h1.3v1.3h-1.3zM381.2 192.1h1.3v1.3h-1.3zM382.8 196.6h1.3v1.3h-1.3zM377.2 198.2h1.3v1.3h-1.3zM378.4 190.6h1.3v1.3h-1.3zM377.8 192.4h1.3v1.3h-1.3zM381.8 185.8h1.3v1.3h-1.3zM379.9 190.5h1.3v1.3h-1.3zM380.4 194.1h1.3v1.3h-1.3zM382.6 203.2h1.3v1.3h-1.3zM381.2 193.0h1.3v1.3h-1.3zM375.8 194.3h1.3v1.3h-1.3zM377.7 193.6h1.3v1.3h-1.3zM377.5 201.6h1.3v1.3h-1.3zM384.4 180.3h1.3v1.3h-1.3zM386.6 190.6h1.3v1.3h-1.3zM399.9 181.9h1.3v1.3h-1.3zM370.7 189.5h1.3v1.3h-1.3zM359.0 196.1h1.3v1.3h-1.3zM387.8 173.2h1.3v1.3h-1.3zM401.4 197.2h1.3v1.3h-1.3zM365.3 172.7h1.3v1.3h-1.3zM366.3 198.9h1.3v1.3h-1.3zM375.6 182.8h1.3v1.3h-1.3zM392.9 206.6h1.3v1.3h-1.3zM389.3 205.5h1.3v1.3h-1.3zM396.3 196.4h1.3v1.3h-1.3zM387.4 180.3h1.3v1.3h-1.3zM365.1 192.2h1.3v1.3h-1.3zM393.2 181.9h1.3v1.3h-1.3zM365.5 191.4h1.3v1.3h-1.3zM371.3 175.4h1.3v1.3h-1.3zM380.8 196.4h1.3v1.3h-1.3zM358.9 208.3h1.3v1.3h-1.3zM398.6 188.4h1.3v1.3h-1.3zM362.6 174.7h1.3v1.3h-1.3zM378.9 176.8h1.3v1.3h-1.3zM362.8 187.8h1.3v1.3h-1.3zM379.7 196.1h1.3v1.3h-1.3zM391.6 190.1h1.3v1.3h-1.3zM365.2 195.6h1.3v1.3h-1.3zM396.8 192.4h1.3v1.3h-1.3zM372.4 197.9h1.3v1.3h-1.3zM394.7 174.4h1.3v1.3h-1.3zM381.2 199.8h1.3v1.3h-1.3zM362.8 210.4h1.3v1.3h-1.3zM368.7 194.7h1.3v1.3h-1.3zM384.2 179.3h1.3v1.3h-1.3zM367.0 173.2h1.3v1.3h-1.3zM381.8 209.0h1.3v1.3h-1.3zM395.1 184.7h1.3v1.3h-1.3zM390.6 183.2h1.3v1.3h-1.3zM381.7 189.7h1.3v1.3h-1.3zM398.9 180.8h1.3v1.3h-1.3zM397.4 208.2h1.3v1.3h-1.3zM392.1 198.1h1.3v1.3h-1.3zM385.7 174.4h1.3v1.3h-1.3zM400.3 181.3h1.3v1.3h-1.3zM382.0 205.2h1.3v1.3h-1.3zM398.1 206.3h1.3v1.3h-1.3zM388.0 172.9h1.3v1.3h-1.3zM376.2 199.5h1.3v1.3h-1.3zM366.7 181.2h1.3v1.3h-1.3zM377.5 206.1h1.3v1.3h-1.3zM361.0 211.4h1.3v1.3h-1.3zM386.3 200.2h1.3v1.3h-1.3zM387.6 196.2h1.3v1.3h-1.3zM376.8 185.8h1.3v1.3h-1.3zM392.9 184.6h1.3v1.3h-1.3zM397.3 181.1h1.3v1.3h-1.3zM387.3 204.0h1.3v1.3h-1.3zM384.2 203.6h1.3v1.3h-1.3zM378.9 185.2h1.3v1.3h-1.3zM397.8 178.3h1.3v1.3h-1.3zM400.0 201.7h1.3v1.3h-1.3zM364.4 197.7h1.3v1.3h-1.3zM357.2 176.1h1.3v1.3h-1.3zM390.4 178.4h1.3v1.3h-1.3zM358.6 194.4h1.3v1.3h-1.3zM401.5 189.7h1.3v1.3h-1.3zM390.9 177.5h1.3v1.3h-1.3zM363.1 172.1h1.3v1.3h-1.3zM358.1 175.1h1.3v1.3h-1.3zM361.6 208.9h1.3v1.3h-1.3zM365.0 172.7h1.3v1.3h-1.3zM356.4 190.9h1.3v1.3h-1.3zM392.3 195.2h1.3v1.3h-1.3zM389.1 181.7h1.3v1.3h-1.3zM387.4 189.0h1.3v1.3h-1.3zM363.6 211.6h1.3v1.3h-1.3zM378.4 209.5h1.3v1.3h-1.3zM397.7 208.4h1.3v1.3h-1.3zM362.6 177.3h1.3v1.3h-1.3zM392.2 210.3h1.3v1.3h-1.3zM359.3 207.8h1.3v1.3h-1.3zM367.5 194.3h1.3v1.3h-1.3zM393.7 194.2h1.3v1.3h-1.3zM374.7 173.1h1.3v1.3h-1.3zM392.0 195.0h1.3v1.3h-1.3zM367.9 172.7h1.3v1.3h-1.3zM376.7 176.3h1.3v1.3h-1.3zM400.7 173.6h1.3v1.3h-1.3zM358.3 200.6h1.3v1.3h-1.3zM399.3 188.4h1.3v1.3h-1.3zM362.4 183.8h1.3v1.3h-1.3zM389.2 183.5h1.3v1.3h-1.3zM367.1 208.8h1.3v1.3h-1.3zM367.7 190.6h1.3v1.3h-1.3zM364.2 180.0h1.3v1.3h-1.3zM361.8 194.3h1.3v1.3h-1.3zM392.9 172.8h1.3v1.3h-1.3zM392.9 195.0h1.3v1.3h-1.3zM399.5 208.4h1.3v1.3h-1.3zM366.2 177.5h1.3v1.3h-1.3zM335.8 222.9h1.3v1.3h-1.3zM350.2 231.3h1.3v1.3h-1.3zM341.6 234.3h1.3v1.3h-1.3zM328.2 231.8h1.3v1.3h-1.3zM335.6 217.1h1.3v1.3h-1.3zM350.8 211.4h1.3v1.3h-1.3zM325.0 208.5h1.3v1.3h-1.3zM328.2 221.1h1.3v1.3h-1.3zM337.2 218.4h1.3v1.3h-1.3zM332.9 231.7h1.3v1.3h-1.3zM348.8 199.9h1.3v1.3h-1.3zM341.5 199.1h1.3v1.3h-1.3zM329.5 221.9h1.3v1.3h-1.3zM335.3 217.7h1.3v1.3h-1.3zM338.4 237.0h1.3v1.3h-1.3zM348.8 217.5h1.3v1.3h-1.3zM326.4 211.1h1.3v1.3h-1.3zM326.9 203.9h1.3v1.3h-1.3zM346.6 230.4h1.3v1.3h-1.3zM334.2 231.4h1.3v1.3h-1.3zM335.3 198.7h1.3v1.3h-1.3zM346.6 223.7h1.3v1.3h-1.3zM349.5 210.5h1.3v1.3h-1.3zM326.0 233.9h1.3v1.3h-1.3zM336.6 224.3h1.3v1.3h-1.3zM345.6 238.2h1.3v1.3h-1.3zM331.7 205.6h1.3v1.3h-1.3zM339.0 211.8h1.3v1.3h-1.3zM346.8 233.4h1.3v1.3h-1.3zM338.3 232.1h1.3v1.3h-1.3zM336.2 233.7h1.3v1.3h-1.3zM332.2 239.5h1.3v1.3h-1.3zM350.7 214.7h1.3v1.3h-1.3zM346.7 203.1h1.3v1.3h-1.3zM350.5 229.9h1.3v1.3h-1.3zM345.4 216.5h1.3v1.3h-1.3zM333.3 238.9h1.3v1.3h-1.3zM331.0 231.6h1.3v1.3h-1.3zM341.6 234.0h1.3v1.3h-1.3zM337.5 204.6h1.3v1.3h-1.3zM338.2 208.1h1.3v1.3h-1.3zM351.2 231.4h1.3v1.3h-1.3zM333.0 215.2h1.3v1.3h-1.3zM329.7 200.2h1.3v1.3h-1.3zM338.3 221.9h1.3v1.3h-1.3zM328.2 210.4h1.3v1.3h-1.3zM334.2 228.0h1.3v1.3h-1.3zM328.5 232.3h1.3v1.3h-1.3zM347.5 217.8h1.3v1.3h-1.3zM336.8 209.3h1.3v1.3h-1.3zM362.3 219.0h1.3v1.3h-1.3zM380.8 227.3h1.3v1.3h-1.3zM379.1 228.1h1.3v1.3h-1.3zM375.0 220.8h1.3v1.3h-1.3zM359.9 226.5h1.3v1.3h-1.3zM377.5 216.4h1.3v1.3h-1.3zM372.4 226.6h1.3v1.3h-1.3zM356.1 228.0h1.3v1.3h-1.3zM368.0 215.8h1.3v1.3h-1.3zM358.6 231.9h1.3v1.3h-1.3zM376.0 230.7h1.3v1.3h-1.3zM383.4 229.8h1.3v1.3h-1.3zM437.9 240.9h1.3v1.3h-1.3zM440.4 231.8h1.3v1.3h-1.3zM431.2 233.2h1.3v1.3h-1.3zM441.3 239.6h1.3v1.3h-1.3zM439.7 237.6h1.3v1.3h-1.3zM424.7 235.0h1.3v1.3h-1.3zM423.1 227.6h1.3v1.3h-1.3zM432.3 229.8h1.3v1.3h-1.3zM428.8 237.6h1.3v1.3h-1.3zM432.3 235.3h1.3v1.3h-1.3zM443.3 238.6h1.3v1.3h-1.3zM435.9 239.2h1.3v1.3h-1.3zM438.4 230.0h1.3v1.3h-1.3zM425.1 240.6h1.3v1.3h-1.3zM431.0 235.8h1.3v1.3h-1.3zM426.5 230.4h1.3v1.3h-1.3zM435.8 241.2h1.3v1.3h-1.3zM432.4 241.6h1.3v1.3h-1.3zM431.2 240.9h1.3v1.3h-1.3zM429.2 228.1h1.3v1.3h-1.3zM432.6 240.5h1.3v1.3h-1.3zM434.0 240.2h1.3v1.3h-1.3zM441.7 225.6h1.3v1.3h-1.3zM424.8 232.0h1.3v1.3h-1.3zM434.3 229.1h1.3v1.3h-1.3zM435.0 236.0h1.3v1.3h-1.3zM436.9 240.8h1.3v1.3h-1.3zM434.0 230.0h1.3v1.3h-1.3zM427.0 236.3h1.3v1.3h-1.3zM423.7 241.3h1.3v1.3h-1.3zM427.0 239.5h1.3v1.3h-1.3zM443.1 235.9h1.3v1.3h-1.3zM438.1 234.6h1.3v1.3h-1.3zM433.4 231.0h1.3v1.3h-1.3zM436.7 240.5h1.3v1.3h-1.3zM438.3 241.5h1.3v1.3h-1.3zM437.4 230.9h1.3v1.3h-1.3zM424.8 240.0h1.3v1.3h-1.3zM427.6 233.8h1.3v1.3h-1.3zM432.1 234.7h1.3v1.3h-1.3zM429.8 243.4h1.3v1.3h-1.3zM438.8 235.1h1.3v1.3h-1.3zM433.1 242.6h1.3v1.3h-1.3zM430.1 238.6h1.3v1.3h-1.3zM436.5 231.8h1.3v1.3h-1.3zM426.2 239.1h1.3v1.3h-1.3zM428.1 231.2h1.3v1.3h-1.3zM430.6 230.8h1.3v1.3h-1.3zM425.9 235.9h1.3v1.3h-1.3zM443.4 234.0h1.3v1.3h-1.3zM423.2 232.1h1.3v1.3h-1.3zM428.8 227.8h1.3v1.3h-1.3zM431.8 233.7h1.3v1.3h-1.3zM438.9 236.7h1.3v1.3h-1.3zM425.7 232.1h1.3v1.3h-1.3zM426.0 232.4h1.3v1.3h-1.3zM426.8 237.1h1.3v1.3h-1.3zM435.2 234.4h1.3v1.3h-1.3zM428.4 230.5h1.3v1.3h-1.3zM433.2 228.4h1.3v1.3h-1.3zM428.9 235.0h1.3v1.3h-1.3zM433.1 244.1h1.3v1.3h-1.3zM430.1 233.7h1.3v1.3h-1.3zM423.7 236.0h1.3v1.3h-1.3zM429.6 234.4h1.3v1.3h-1.3zM426.7 238.0h1.3v1.3h-1.3zM424.1 231.8h1.3v1.3h-1.3zM438.4 242.0h1.3v1.3h-1.3zM441.4 233.6h1.3v1.3h-1.3zM437.5 241.9h1.3v1.3h-1.3zM435.0 238.7h1.3v1.3h-1.3zM430.6 229.7h1.3v1.3h-1.3zM433.8 232.9h1.3v1.3h-1.3zM432.0 229.2h1.3v1.3h-1.3zM438.4 237.2h1.3v1.3h-1.3zM428.9 226.2h1.3v1.3h-1.3zM428.9 226.8h1.3v1.3h-1.3zM427.3 240.0h1.3v1.3h-1.3zM441.5 231.1h1.3v1.3h-1.3zM424.4 238.0h1.3v1.3h-1.3zM433.8 230.3h1.3v1.3h-1.3zM432.5 228.3h1.3v1.3h-1.3zM434.5 234.4h1.3v1.3h-1.3zM425.5 228.4h1.3v1.3h-1.3zM431.2 242.6h1.3v1.3h-1.3zM428.2 235.4h1.3v1.3h-1.3zM435.8 236.4h1.3v1.3h-1.3zM425.9 238.2h1.3v1.3h-1.3zM428.2 238.2h1.3v1.3h-1.3zM437.0 232.7h1.3v1.3h-1.3zM430.5 231.6h1.3v1.3h-1.3zM433.4 241.7h1.3v1.3h-1.3zM432.6 236.6h1.3v1.3h-1.3zM439.3 231.7h1.3v1.3h-1.3zM429.8 238.4h1.3v1.3h-1.3zM448.1 240.2h1.3v1.3h-1.3zM430.2 237.2h1.3v1.3h-1.3zM434.9 238.7h1.3v1.3h-1.3zM435.0 238.9h1.3v1.3h-1.3zM430.3 235.3h1.3v1.3h-1.3zM437.4 233.2h1.3v1.3h-1.3zM435.1 235.6h1.3v1.3h-1.3zM429.0 230.1h1.3v1.3h-1.3zM426.2 233.5h1.3v1.3h-1.3zM431.1 237.3h1.3v1.3h-1.3zM430.8 233.5h1.3v1.3h-1.3zM426.3 240.7h1.3v1.3h-1.3zM432.5 244.3h1.3v1.3h-1.3zM438.9 239.1h1.3v1.3h-1.3zM441.4 240.2h1.3v1.3h-1.3zM431.0 227.4h1.3v1.3h-1.3zM430.5 236.9h1.3v1.3h-1.3zM440.8 235.0h1.3v1.3h-1.3zM429.2 238.0h1.3v1.3h-1.3zM429.1 240.1h1.3v1.3h-1.3zM431.3 238.8h1.3v1.3h-1.3zM426.5 239.2h1.3v1.3h-1.3zM435.6 221.4h1.3v1.3h-1.3zM427.1 230.0h1.3v1.3h-1.3zM439.6 240.8h1.3v1.3h-1.3zM434.4 226.2h1.3v1.3h-1.3zM429.6 235.0h1.3v1.3h-1.3zM442.4 237.7h1.3v1.3h-1.3zM433.6 236.3h1.3v1.3h-1.3zM427.5 242.5h1.3v1.3h-1.3zM429.6 242.5h1.3v1.3h-1.3zM432.4 236.2h1.3v1.3h-1.3zM433.1 243.2h1.3v1.3h-1.3zM431.1 230.0h1.3v1.3h-1.3zM436.9 239.6h1.3v1.3h-1.3zM434.9 244.1h1.3v1.3h-1.3zM432.5 240.8h1.3v1.3h-1.3zM435.8 235.6h1.3v1.3h-1.3zM435.7 235.6h1.3v1.3h-1.3zM437.5 238.6h1.3v1.3h-1.3zM447.1 239.7h1.3v1.3h-1.3zM433.3 243.0h1.3v1.3h-1.3zM437.1 234.3h1.3v1.3h-1.3zM437.2 227.5h1.3v1.3h-1.3zM432.5 231.6h1.3v1.3h-1.3zM433.5 234.4h1.3v1.3h-1.3zM426.3 237.9h1.3v1.3h-1.3zM423.9 242.8h1.3v1.3h-1.3zM435.2 235.0h1.3v1.3h-1.3zM434.5 235.3h1.3v1.3h-1.3zM434.9 240.9h1.3v1.3h-1.3zM443.8 232.6h1.3v1.3h-1.3zM432.9 235.6h1.3v1.3h-1.3zM433.2 239.3h1.3v1.3h-1.3zM437.0 236.0h1.3v1.3h-1.3zM435.5 242.7h1.3v1.3h-1.3zM439.0 239.4h1.3v1.3h-1.3zM440.1 232.0h1.3v1.3h-1.3zM430.1 243.6h1.3v1.3h-1.3zM424.0 231.6h1.3v1.3h-1.3zM440.5 237.1h1.3v1.3h-1.3zM431.8 239.7h1.3v1.3h-1.3zM427.0 239.4h1.3v1.3h-1.3zM440.5 240.0h1.3v1.3h-1.3zM431.5 225.4h1.3v1.3h-1.3zM432.4 233.2h1.3v1.3h-1.3zM434.0 234.5h1.3v1.3h-1.3zM434.9 239.4h1.3v1.3h-1.3zM431.8 242.0h1.3v1.3h-1.3zM424.6 235.1h1.3v1.3h-1.3zM433.9 235.4h1.3v1.3h-1.3zM438.5 239.0h1.3v1.3h-1.3zM427.0 239.5h1.3v1.3h-1.3zM426.5 238.6h1.3v1.3h-1.3zM431.5 237.8h1.3v1.3h-1.3zM442.8 235.9h1.3v1.3h-1.3zM437.1 230.2h1.3v1.3h-1.3zM424.2 237.2h1.3v1.3h-1.3zM433.7 231.8h1.3v1.3h-1.3zM435.3 232.3h1.3v1.3h-1.3zM427.5 239.5h1.3v1.3h-1.3zM431.5 239.8h1.3v1.3h-1.3zM427.8 240.7h1.3v1.3h-1.3zM429.4 234.4h1.3v1.3h-1.3zM448.7 229.7h1.3v1.3h-1.3zM437.2 233.0h1.3v1.3h-1.3zM428.5 242.6h1.3v1.3h-1.3zM429.8 237.2h1.3v1.3h-1.3zM436.1 227.7h1.3v1.3h-1.3zM435.7 243.7h1.3v1.3h-1.3zM435.5 238.2h1.3v1.3h-1.3zM426.9 237.3h1.3v1.3h-1.3zM440.2 232.0h1.3v1.3h-1.3zM433.4 231.9h1.3v1.3h-1.3zM426.2 230.8h1.3v1.3h-1.3zM430.0 241.6h1.3v1.3h-1.3zM426.9 231.1h1.3v1.3h-1.3zM431.2 241.7h1.3v1.3h-1.3zM431.1 233.0h1.3v1.3h-1.3zM438.0 241.7h1.3v1.3h-1.3zM445.8 230.9h1.3v1.3h-1.3zM432.9 240.3h1.3v1.3h-1.3zM437.7 238.1h1.3v1.3h-1.3zM437.9 228.1h1.3v1.3h-1.3zM437.6 236.1h1.3v1.3h-1.3zM430.7 220.6h1.3v1.3h-1.3zM430.8 232.0h1.3v1.3h-1.3zM427.0 241.1h1.3v1.3h-1.3zM424.7 241.6h1.3v1.3h-1.3zM429.2 237.9h1.3v1.3h-1.3zM430.0 238.8h1.3v1.3h-1.3zM427.0 242.2h1.3v1.3h-1.3zM441.7 237.2h1.3v1.3h-1.3zM435.5 235.8h1.3v1.3h-1.3zM430.8 236.5h1.3v1.3h-1.3zM435.5 240.5h1.3v1.3h-1.3zM432.6 237.0h1.3v1.3h-1.3zM428.7 241.6h1.3v1.3h-1.3zM428.6 229.3h1.3v1.3h-1.3zM426.5 240.7h1.3v1.3h-1.3zM429.2 238.7h1.3v1.3h-1.3zM429.7 241.8h1.3v1.3h-1.3zM445.6 228.6h1.3v1.3h-1.3zM433.7 231.1h1.3v1.3h-1.3zM433.1 236.5h1.3v1.3h-1.3zM435.8 239.7h1.3v1.3h-1.3zM438.1 236.6h1.3v1.3h-1.3zM435.3 233.0h1.3v1.3h-1.3zM434.6 231.2h1.3v1.3h-1.3zM424.4 238.6h1.3v1.3h-1.3zM437.5 242.4h1.3v1.3h-1.3zM437.0 230.7h1.3v1.3h-1.3zM430.5 242.0h1.3v1.3h-1.3zM433.7 237.9h1.3v1.3h-1.3zM429.9 228.1h1.3v1.3h-1.3zM436.3 239.5h1.3v1.3h-1.3zM434.3 228.4h1.3v1.3h-1.3zM427.0 230.4h1.3v1.3h-1.3zM429.0 239.9h1.3v1.3h-1.3zM433.0 242.6h1.3v1.3h-1.3zM430.9 244.2h1.3v1.3h-1.3zM424.4 225.0h1.3v1.3h-1.3zM427.6 232.2h1.3v1.3h-1.3zM439.5 239.9h1.3v1.3h-1.3zM440.4 229.6h1.3v1.3h-1.3zM433.6 236.4h1.3v1.3h-1.3zM437.6 244.8h1.3v1.3h-1.3zM437.0 230.3h1.3v1.3h-1.3zM429.9 231.7h1.3v1.3h-1.3zM432.5 233.8h1.3v1.3h-1.3zM432.0 237.1h1.3v1.3h-1.3zM433.7 238.8h1.3v1.3h-1.3zM438.0 234.5h1.3v1.3h-1.3zM430.6 237.7h1.3v1.3h-1.3zM435.4 240.3h1.3v1.3h-1.3zM437.1 237.2h1.3v1.3h-1.3zM437.0 243.8h1.3v1.3h-1.3zM428.7 235.3h1.3v1.3h-1.3zM434.6 230.5h1.3v1.3h-1.3zM437.8 238.1h1.3v1.3h-1.3zM424.3 232.0h1.3v1.3h-1.3zM434.3 239.5h1.3v1.3h-1.3zM439.1 239.4h1.3v1.3h-1.3zM427.8 229.8h1.3v1.3h-1.3zM425.9 236.0h1.3v1.3h-1.3zM443.1 242.5h1.3v1.3h-1.3zM425.1 231.1h1.3v1.3h-1.3zM431.3 244.6h1.3v1.3h-1.3zM439.8 236.0h1.3v1.3h-1.3zM432.4 230.5h1.3v1.3h-1.3zM433.9 237.1h1.3v1.3h-1.3zM423.7 242.3h1.3v1.3h-1.3zM431.7 233.9h1.3v1.3h-1.3zM432.6 234.4h1.3v1.3h-1.3zM434.3 229.6h1.3v1.3h-1.3zM429.3 239.2h1.3v1.3h-1.3zM441.9 241.2h1.3v1.3h-1.3zM424.1 231.2h1.3v1.3h-1.3zM423.9 240.3h1.3v1.3h-1.3zM438.2 241.2h1.3v1.3h-1.3zM433.0 238.0h1.3v1.3h-1.3zM440.3 236.2h1.3v1.3h-1.3zM431.0 237.7h1.3v1.3h-1.3zM429.1 235.7h1.3v1.3h-1.3zM432.1 229.3h1.3v1.3h-1.3zM429.2 228.8h1.3v1.3h-1.3zM440.5 237.1h1.3v1.3h-1.3zM430.6 231.0h1.3v1.3h-1.3zM446.3 240.3h1.3v1.3h-1.3zM429.0 240.2h1.3v1.3h-1.3zM435.1 241.4h1.3v1.3h-1.3zM432.2 243.1h1.3v1.3h-1.3zM429.2 239.6h1.3v1.3h-1.3zM443.9 241.4h1.3v1.3h-1.3zM434.8 218.3h1.3v1.3h-1.3zM439.3 236.4h1.3v1.3h-1.3zM428.4 221.0h1.3v1.3h-1.3zM440.8 218.3h1.3v1.3h-1.3zM431.7 240.0h1.3v1.3h-1.3zM424.8 240.4h1.3v1.3h-1.3zM451.8 220.5h1.3v1.3h-1.3zM441.9 228.0h1.3v1.3h-1.3zM439.2 227.0h1.3v1.3h-1.3zM451.7 240.1h1.3v1.3h-1.3zM431.2 243.4h1.3v1.3h-1.3zM440.4 235.7h1.3v1.3h-1.3zM431.0 240.3h1.3v1.3h-1.3zM431.6 213.5h1.3v1.3h-1.3zM436.4 239.4h1.3v1.3h-1.3zM445.9 219.5h1.3v1.3h-1.3zM437.8 233.0h1.3v1.3h-1.3zM424.3 218.7h1.3v1.3h-1.3zM444.9 229.4h1.3v1.3h-1.3zM426.7 228.6h1.3v1.3h-1.3zM447.0 236.8h1.3v1.3h-1.3zM451.8 226.8h1.3v1.3h-1.3zM438.9 226.2h1.3v1.3h-1.3zM440.7 227.8h1.3v1.3h-1.3zM442.0 214.0h1.3v1.3h-1.3zM423.9 227.8h1.3v1.3h-1.3zM451.5 232.1h1.3v1.3h-1.3zM444.1 245.0h1.3v1.3h-1.3zM438.6 233.1h1.3v1.3h-1.3zM440.5 214.0h1.3v1.3h-1.3zM433.8 229.3h1.3v1.3h-1.3zM448.2 213.2h1.3v1.3h-1.3zM432.7 231.5h1.3v1.3h-1.3zM436.5 230.5h1.3v1.3h-1.3zM434.4 219.5h1.3v1.3h-1.3zM440.5 231.4h1.3v1.3h-1.3zM424.7 229.2h1.3v1.3h-1.3zM442.6 243.4h1.3v1.3h-1.3zM448.8 236.9h1.3v1.3h-1.3zM445.0 229.7h1.3v1.3h-1.3zM441.6 236.7h1.3v1.3h-1.3zM445.8 243.1h1.3v1.3h-1.3zM424.5 244.1h1.3v1.3h-1.3zM427.1 232.7h1.3v1.3h-1.3zM427.5 228.0h1.3v1.3h-1.3zM425.7 240.8h1.3v1.3h-1.3zM450.6 230.1h1.3v1.3h-1.3zM437.1 218.8h1.3v1.3h-1.3zM445.6 237.4h1.3v1.3h-1.3zM448.1 219.8h1.3v1.3h-1.3zM449.2 222.1h1.3v1.3h-1.3zM438.3 241.2h1.3v1.3h-1.3zM441.1 244.5h1.3v1.3h-1.3zM450.8 239.5h1.3v1.3h-1.3zM427.5 226.3h1.3v1.3h-1.3zM428.0 233.1h1.3v1.3h-1.3zM423.2 233.7h1.3v1.3h-1.3zM429.3 232.0h1.3v1.3h-1.3zM430.4 227.7h1.3v1.3h-1.3zM445.2 220.7h1.3v1.3h-1.3zM423.9 244.2h1.3v1.3h-1.3zM450.4 239.9h1.3v1.3h-1.3zM427.4 238.2h1.3v1.3h-1.3zM447.8 213.0h1.3v1.3h-1.3zM446.4 221.9h1.3v1.3h-1.3zM434.2 220.8h1.3v1.3h-1.3zM431.4 243.0h1.3v1.3h-1.3zM450.6 236.2h1.3v1.3h-1.3zM437.7 214.3h1.3v1.3h-1.3zM425.0 218.2h1.3v1.3h-1.3zM440.7 233.7h1.3v1.3h-1.3zM432.5 215.9h1.3v1.3h-1.3zM442.6 228.8h1.3v1.3h-1.3zM433.7 228.2h1.3v1.3h-1.3zM437.7 219.8h1.3v1.3h-1.3zM431.5 234.7h1.3v1.3h-1.3zM428.5 224.7h1.3v1.3h-1.3zM451.4 243.0h1.3v1.3h-1.3zM443.6 235.2h1.3v1.3h-1.3zM429.4 227.4h1.3v1.3h-1.3zM440.2 240.2h1.3v1.3h-1.3zM440.4 215.1h1.3v1.3h-1.3zM449.1 227.6h1.3v1.3h-1.3zM425.7 233.1h1.3v1.3h-1.3zM442.6 245.0h1.3v1.3h-1.3zM461.5 232.6h1.3v1.3h-1.3zM470.3 229.0h1.3v1.3h-1.3zM472.6 223.2h1.3v1.3h-1.3zM468.5 234.1h1.3v1.3h-1.3zM475.4 217.4h1.3v1.3h-1.3zM479.0 216.9h1.3v1.3h-1.3zM457.0 238.5h1.3v1.3h-1.3zM473.6 224.0h1.3v1.3h-1.3zM465.6 225.9h1.3v1.3h-1.3zM477.8 218.7h1.3v1.3h-1.3zM480.0 215.2h1.3v1.3h-1.3zM469.4 219.9h1.3v1.3h-1.3zM463.2 232.0h1.3v1.3h-1.3zM481.3 211.7h1.3v1.3h-1.3zM479.2 217.2h1.3v1.3h-1.3zM470.6 222.5h1.3v1.3h-1.3zM458.2 235.9h1.3v1.3h-1.3zM473.2 223.1h1.3v1.3h-1.3zM460.9 229.3h1.3v1.3h-1.3zM477.5 214.0h1.3v1.3h-1.3zM477.8 215.0h1.3v1.3h-1.3zM467.4 231.1h1.3v1.3h-1.3zM475.4 220.5h1.3v1.3h-1.3zM457.4 230.6h1.3v1.3h-1.3zM476.3 220.0h1.3v1.3h-1.3zM468.9 226.6h1.3v1.3h-1.3zM459.1 233.7h1.3v1.3h-1.3zM468.5 222.3h1.3v1.3h-1.3zM474.9 221.0h1.3v1.3h-1.3zM457.4 235.9h1.3v1.3h-1.3zM466.6 229.4h1.3v1.3h-1.3zM476.2 219.5h1.3v1.3h-1.3zM483.3 211.1h1.3v1.3h-1.3zM470.4 223.6h1.3v1.3h-1.3zM480.6 217.9h1.3v1.3h-1.3zM459.5 234.1h1.3v1.3h-1.3zM480.0 218.2h1.3v1.3h-1.3zM464.6 225.8h1.3v1.3h-1.3zM474.9 217.0h1.3v1.3h-1.3zM465.1 232.4h1.3v1.3h-1.3zM457.1 234.9h1.3v1.3h-1.3zM474.0 225.5h1.3v1.3h-1.3zM471.1 228.3h1.3v1.3h-1.3zM461.6 233.2h1.3v1.3h-1.3zM464.5 230.4h1.3v1.3h-1.3zM464.3 226.3h1.3v1.3h-1.3zM453.7 237.2h1.3v1.3h-1.3zM462.3 229.9h1.3v1.3h-1.3zM470.1 223.6h1.3v1.3h-1.3zM471.7 224.4h1.3v1.3h-1.3zM469.9 222.1h1.3v1.3h-1.3zM476.6 220.5h1.3v1.3h-1.3zM460.5 237.0h1.3v1.3h-1.3zM472.4 219.4h1.3v1.3h-1.3zM480.7 215.2h1.3v1.3h-1.3zM479.0 218.8h1.3v1.3h-1.3zM482.8 212.9h1.3v1.3h-1.3zM459.0 237.6h1.3v1.3h-1.3zM455.6 232.1h1.3v1.3h-1.3zM473.7 221.4h1.3v1.3h-1.3zM459.1 232.3h1.3v1.3h-1.3zM461.5 233.4h1.3v1.3h-1.3zM476.4 214.4h1.3v1.3h-1.3zM479.0 221.1h1.3v1.3h-1.3zM465.0 231.4h1.3v1.3h-1.3zM464.5 235.1h1.3v1.3h-1.3zM461.9 232.8h1.3v1.3h-1.3zM455.3 235.6h1.3v1.3h-1.3zM456.8 228.5h1.3v1.3h-1.3zM466.5 230.3h1.3v1.3h-1.3zM475.8 219.3h1.3v1.3h-1.3zM465.7 225.0h1.3v1.3h-1.3zM463.0 229.7h1.3v1.3h-1.3zM463.4 232.4h1.3v1.3h-1.3zM458.5 236.3h1.3v1.3h-1.3zM470.8 229.8h1.3v1.3h-1.3zM461.9 229.9h1.3v1.3h-1.3zM459.1 231.8h1.3v1.3h-1.3zM472.3 224.8h1.3v1.3h-1.3zM470.8 221.9h1.3v1.3h-1.3zM474.6 218.1h1.3v1.3h-1.3zM462.9 227.7h1.3v1.3h-1.3zM464.4 231.1h1.3v1.3h-1.3zM465.8 230.4h1.3v1.3h-1.3zM472.6 224.0h1.3v1.3h-1.3zM455.6 239.5h1.3v1.3h-1.3zM472.8 218.4h1.3v1.3h-1.3zM464.4 229.9h1.3v1.3h-1.3zM463.8 228.9h1.3v1.3h-1.3zM468.6 227.3h1.3v1.3h-1.3zM480.6 219.5h1.3v1.3h-1.3zM475.1 219.2h1.3v1.3h-1.3zM478.7 218.1h1.3v1.3h-1.3zM482.4 211.3h1.3v1.3h-1.3zM473.4 229.2h1.3v1.3h-1.3zM478.2 219.9h1.3v1.3h-1.3zM480.0 221.3h1.3v1.3h-1.3zM473.0 227.3h1.3v1.3h-1.3zM470.4 224.1h1.3v1.3h-1.3zM475.6 222.2h1.3v1.3h-1.3zM475.2 222.5h1.3v1.3h-1.3zM472.8 226.4h1.3v1.3h-1.3zM482.1 210.6h1.3v1.3h-1.3zM481.0 213.1h1.3v1.3h-1.3zM479.4 218.9h1.3v1.3h-1.3zM477.8 225.8h1.3v1.3h-1.3zM475.7 225.1h1.3v1.3h-1.3zM479.7 216.6h1.3v1.3h-1.3zM477.9 215.0h1.3v1.3h-1.3zM476.9 223.2h1.3v1.3h-1.3zM479.6 215.6h1.3v1.3h-1.3zM477.0 219.8h1.3v1.3h-1.3zM475.9 224.7h1.3v1.3h-1.3zM480.0 222.2h1.3v1.3h-1.3zM479.1 220.4h1.3v1.3h-1.3zM483.1 214.8h1.3v1.3h-1.3zM471.2 229.8h1.3v1.3h-1.3zM478.2 218.3h1.3v1.3h-1.3zM478.3 218.9h1.3v1.3h-1.3zM478.0 218.4h1.3v1.3h-1.3zM481.4 216.4h1.3v1.3h-1.3zM477.5 213.3h1.3v1.3h-1.3zM481.0 216.3h1.3v1.3h-1.3zM475.0 222.3h1.3v1.3h-1.3zM478.1 217.8h1.3v1.3h-1.3zM478.9 219.7h1.3v1.3h-1.3zM477.0 214.0h1.3v1.3h-1.3zM475.6 222.5h1.3v1.3h-1.3zM476.5 220.5h1.3v1.3h-1.3zM477.7 221.2h1.3v1.3h-1.3zM480.5 215.9h1.3v1.3h-1.3zM479.2 217.5h1.3v1.3h-1.3zM474.9 224.5h1.3v1.3h-1.3zM479.2 217.9h1.3v1.3h-1.3zM483.5 214.0h1.3v1.3h-1.3zM479.7 216.5h1.3v1.3h-1.3zM472.5 220.6h1.3v1.3h-1.3zM477.1 215.0h1.3v1.3h-1.3zM475.4 222.5h1.3v1.3h-1.3zM476.2 217.1h1.3v1.3h-1.3zM481.9 220.8h1.3v1.3h-1.3zM480.4 218.9h1.3v1.3h-1.3zM475.5 210.8h1.3v1.3h-1.3zM476.7 218.6h1.3v1.3h-1.3zM479.7 215.4h1.3v1.3h-1.3zM476.9 212.4h1.3v1.3h-1.3zM476.1 218.8h1.3v1.3h-1.3zM478.2 219.7h1.3v1.3h-1.3zM475.4 221.4h1.3v1.3h-1.3zM480.8 211.4h1.3v1.3h-1.3zM481.0 218.6h1.3v1.3h-1.3zM479.3 218.6h1.3v1.3h-1.3zM474.7 221.1h1.3v1.3h-1.3zM477.5 222.5h1.3v1.3h-1.3zM476.6 223.3h1.3v1.3h-1.3zM467.7 228.3h1.3v1.3h-1.3zM481.4 210.9h1.3v1.3h-1.3zM482.9 217.0h1.3v1.3h-1.3zM481.7 209.2h1.3v1.3h-1.3zM479.3 216.6h1.3v1.3h-1.3zM483.8 214.9h1.3v1.3h-1.3zM481.3 218.8h1.3v1.3h-1.3zM478.2 224.9h1.3v1.3h-1.3zM475.7 221.9h1.3v1.3h-1.3zM477.7 221.3h1.3v1.3h-1.3zM476.0 222.0h1.3v1.3h-1.3zM484.6 214.6h1.3v1.3h-1.3zM472.6 223.9h1.3v1.3h-1.3zM476.7 222.0h1.3v1.3h-1.3zM479.6 215.0h1.3v1.3h-1.3zM477.1 217.7h1.3v1.3h-1.3zM476.3 221.7h1.3v1.3h-1.3zM474.4 227.9h1.3v1.3h-1.3zM480.1 217.3h1.3v1.3h-1.3zM476.8 218.0h1.3v1.3h-1.3zM476.2 222.1h1.3v1.3h-1.3zM476.3 218.0h1.3v1.3h-1.3zM475.4 220.4h1.3v1.3h-1.3zM477.4 217.2h1.3v1.3h-1.3zM476.6 223.1h1.3v1.3h-1.3zM476.5 217.7h1.3v1.3h-1.3zM478.6 217.5h1.3v1.3h-1.3zM482.3 213.9h1.3v1.3h-1.3zM480.0 214.6h1.3v1.3h-1.3zM482.8 210.8h1.3v1.3h-1.3zM482.2 211.4h1.3v1.3h-1.3zM474.5 225.7h1.3v1.3h-1.3zM477.6 215.3h1.3v1.3h-1.3zM481.2 219.4h1.3v1.3h-1.3zM480.9 216.3h1.3v1.3h-1.3zM478.5 221.8h1.3v1.3h-1.3zM475.7 225.1h1.3v1.3h-1.3zM474.8 223.4h1.3v1.3h-1.3zM477.9 214.1h1.3v1.3h-1.3zM479.0 219.4h1.3v1.3h-1.3zM481.3 214.3h1.3v1.3h-1.3zM482.4 220.4h1.3v1.3h-1.3zM479.0 214.2h1.3v1.3h-1.3zM474.7 222.2h1.3v1.3h-1.3zM474.9 219.1h1.3v1.3h-1.3zM483.2 213.2h1.3v1.3h-1.3zM475.9 222.4h1.3v1.3h-1.3zM474.8 226.2h1.3v1.3h-1.3zM475.8 219.6h1.3v1.3h-1.3zM474.0 224.0h1.3v1.3h-1.3zM476.4 221.4h1.3v1.3h-1.3zM477.2 223.3h1.3v1.3h-1.3zM481.3 213.5h1.3v1.3h-1.3zM471.0 227.1h1.3v1.3h-1.3zM478.1 215.6h1.3v1.3h-1.3zM478.6 219.7h1.3v1.3h-1.3zM476.8 217.0h1.3v1.3h-1.3zM474.8 221.2h1.3v1.3h-1.3zM479.5 213.4h1.3v1.3h-1.3zM482.4 213.5h1.3v1.3h-1.3zM473.8 214.9h1.3v1.3h-1.3zM480.4 210.6h1.3v1.3h-1.3zM485.1 210.0h1.3v1.3h-1.3zM473.3 226.5h1.3v1.3h-1.3zM476.5 221.3h1.3v1.3h-1.3zM477.6 219.5h1.3v1.3h-1.3zM484.2 213.2h1.3v1.3h-1.3zM479.6 225.6h1.3v1.3h-1.3zM469.3 228.6h1.3v1.3h-1.3zM479.5 218.1h1.3v1.3h-1.3zM482.1 217.9h1.3v1.3h-1.3zM471.1 222.0h1.3v1.3h-1.3zM474.1 225.1h1.3v1.3h-1.3zM475.8 219.8h1.3v1.3h-1.3zM484.2 215.4h1.3v1.3h-1.3zM474.7 222.9h1.3v1.3h-1.3zM476.3 221.6h1.3v1.3h-1.3zM477.3 216.0h1.3v1.3h-1.3zM483.9 209.8h1.3v1.3h-1.3zM479.9 217.6h1.3v1.3h-1.3zM478.8 216.7h1.3v1.3h-1.3zM474.2 224.1h1.3v1.3h-1.3zM476.5 218.7h1.3v1.3h-1.3zM477.2 219.6h1.3v1.3h-1.3zM469.5 226.9h1.3v1.3h-1.3zM477.7 215.2h1.3v1.3h-1.3zM478.6 227.4h1.3v1.3h-1.3zM476.4 216.8h1.3v1.3h-1.3zM475.2 219.9h1.3v1.3h-1.3zM476.1 219.1h1.3v1.3h-1.3zM482.3 217.7h1.3v1.3h-1.3zM478.2 214.9h1.3v1.3h-1.3zM474.6 220.7h1.3v1.3h-1.3zM471.8 226.4h1.3v1.3h-1.3zM478.1 219.4h1.3v1.3h-1.3zM474.6 212.9h1.3v1.3h-1.3zM478.3 192.5h1.3v1.3h-1.3zM484.4 208.6h1.3v1.3h-1.3zM483.1 206.4h1.3v1.3h-1.3zM475.7 193.2h1.3v1.3h-1.3zM482.3 206.6h1.3v1.3h-1.3zM480.3 184.4h1.3v1.3h-1.3zM483.3 197.4h1.3v1.3h-1.3zM482.4 197.7h1.3v1.3h-1.3zM478.5 188.9h1.3v1.3h-1.3zM483.3 195.2h1.3v1.3h-1.3zM489.0 197.5h1.3v1.3h-1.3zM484.8 187.5h1.3v1.3h-1.3zM483.4 198.5h1.3v1.3h-1.3zM485.1 190.6h1.3v1.3h-1.3zM481.9 206.5h1.3v1.3h-1.3zM483.1 192.2h1.3v1.3h-1.3zM480.5 198.9h1.3v1.3h-1.3zM485.2 193.0h1.3v1.3h-1.3zM481.6 212.1h1.3v1.3h-1.3zM480.8 209.1h1.3v1.3h-1.3zM478.4 208.6h1.3v1.3h-1.3zM477.7 215.1h1.3v1.3h-1.3zM472.6 209.3h1.3v1.3h-1.3zM477.3 197.7h1.3v1.3h-1.3zM477.2 202.0h1.3v1.3h-1.3zM482.7 200.1h1.3v1.3h-1.3zM475.9 205.4h1.3v1.3h-1.3zM490.9 204.2h1.3v1.3h-1.3zM479.0 191.6h1.3v1.3h-1.3zM490.2 198.7h1.3v1.3h-1.3zM484.2 200.7h1.3v1.3h-1.3zM478.6 201.4h1.3v1.3h-1.3zM474.9 193.9h1.3v1.3h-1.3zM482.0 196.8h1.3v1.3h-1.3zM483.7 200.8h1.3v1.3h-1.3zM478.7 204.7h1.3v1.3h-1.3zM478.6 187.2h1.3v1.3h-1.3zM471.2 198.0h1.3v1.3h-1.3zM480.6 215.8h1.3v1.3h-1.3zM485.2 206.1h1.3v1.3h-1.3zM487.3 212.6h1.3v1.3h-1.3zM482.0 199.8h1.3v1.3h-1.3zM479.6 207.0h1.3v1.3h-1.3zM484.5 201.4h1.3v1.3h-1.3zM483.9 205.1h1.3v1.3h-1.3zM489.6 192.4h1.3v1.3h-1.3zM485.0 192.6h1.3v1.3h-1.3zM478.7 199.7h1.3v1.3h-1.3zM480.8 198.5h1.3v1.3h-1.3zM483.1 196.5h1.3v1.3h-1.3zM486.4 205.7h1.3v1.3h-1.3zM485.0 200.5h1.3v1.3h-1.3zM481.3 178.9h1.3v1.3h-1.3zM483.2 206.3h1.3v1.3h-1.3zM490.1 210.5h1.3v1.3h-1.3zM485.4 199.8h1.3v1.3h-1.3zM488.8 213.7h1.3v1.3h-1.3zM477.9 188.5h1.3v1.3h-1.3zM488.9 187.4h1.3v1.3h-1.3zM483.3 207.3h1.3v1.3h-1.3zM482.5 210.3h1.3v1.3h-1.3zM479.2 201.7h1.3v1.3h-1.3zM487.5 191.0h1.3v1.3h-1.3zM479.3 215.0h1.3v1.3h-1.3zM485.4 197.0h1.3v1.3h-1.3zM480.8 201.8h1.3v1.3h-1.3zM483.5 194.7h1.3v1.3h-1.3zM478.9 209.3h1.3v1.3h-1.3zM482.6 208.3h1.3v1.3h-1.3zM485.0 209.3h1.3v1.3h-1.3zM479.0 200.0h1.3v1.3h-1.3zM482.6 200.4h1.3v1.3h-1.3zM482.5 189.2h1.3v1.3h-1.3zM487.1 199.1h1.3v1.3h-1.3zM479.4 197.4h1.3v1.3h-1.3zM482.6 182.8h1.3v1.3h-1.3zM481.8 212.2h1.3v1.3h-1.3zM478.8 209.7h1.3v1.3h-1.3zM476.1 196.3h1.3v1.3h-1.3zM476.2 209.0h1.3v1.3h-1.3zM483.6 197.8h1.3v1.3h-1.3zM481.8 203.8h1.3v1.3h-1.3zM485.9 188.0h1.3v1.3h-1.3zM477.8 205.9h1.3v1.3h-1.3zM485.2 189.6h1.3v1.3h-1.3zM480.9 208.7h1.3v1.3h-1.3zM481.3 207.7h1.3v1.3h-1.3zM477.4 195.1h1.3v1.3h-1.3zM480.7 204.5h1.3v1.3h-1.3zM478.1 197.4h1.3v1.3h-1.3zM482.9 212.3h1.3v1.3h-1.3zM478.0 190.9h1.3v1.3h-1.3zM487.5 198.9h1.3v1.3h-1.3zM483.3 208.4h1.3v1.3h-1.3zM481.4 207.4h1.3v1.3h-1.3zM482.4 209.1h1.3v1.3h-1.3zM478.8 197.5h1.3v1.3h-1.3zM481.9 212.0h1.3v1.3h-1.3zM480.3 190.8h1.3v1.3h-1.3zM482.6 199.7h1.3v1.3h-1.3zM481.5 196.5h1.3v1.3h-1.3zM481.5 200.5h1.3v1.3h-1.3zM481.5 199.8h1.3v1.3h-1.3zM481.2 188.3h1.3v1.3h-1.3zM479.6 211.7h1.3v1.3h-1.3zM485.8 210.4h1.3v1.3h-1.3zM473.6 209.4h1.3v1.3h-1.3zM480.2 208.0h1.3v1.3h-1.3zM484.4 204.6h1.3v1.3h-1.3zM487.5 180.0h1.3v1.3h-1.3zM488.2 184.3h1.3v1.3h-1.3zM484.4 183.4h1.3v1.3h-1.3zM488.3 181.0h1.3v1.3h-1.3zM485.3 182.6h1.3v1.3h-1.3zM501.5 188.8h1.3v1.3h-1.3zM486.2 180.9h1.3v1.3h-1.3zM491.5 185.7h1.3v1.3h-1.3zM503.5 188.1h1.3v1.3h-1.3zM482.9 185.4h1.3v1.3h-1.3zM488.0 180.6h1.3v1.3h-1.3zM490.2 181.3h1.3v1.3h-1.3zM490.8 183.5h1.3v1.3h-1.3zM499.1 187.1h1.3v1.3h-1.3zM488.3 185.5h1.3v1.3h-1.3zM489.2 183.9h1.3v1.3h-1.3zM485.0 179.3h1.3v1.3h-1.3zM493.2 190.0h1.3v1.3h-1.3zM495.1 188.9h1.3v1.3h-1.3zM489.5 181.3h1.3v1.3h-1.3zM501.7 188.3h1.3v1.3h-1.3zM496.1 184.7h1.3v1.3h-1.3zM490.7 180.6h1.3v1.3h-1.3zM493.8 184.3h1.3v1.3h-1.3zM482.9 181.3h1.3v1.3h-1.3zM486.4 179.4h1.3v1.3h-1.3zM480.3 182.2h1.3v1.3h-1.3zM500.1 190.1h1.3v1.3h-1.3zM492.3 184.9h1.3v1.3h-1.3zM485.8 184.0h1.3v1.3h-1.3zM476.4 182.3h1.3v1.3h-1.3zM492.0 184.2h1.3v1.3h-1.3zM484.9 184.4h1.3v1.3h-1.3zM484.7 179.0h1.3v1.3h-1.3zM500.9 190.9h1.3v1.3h-1.3zM429.8 205.8h1.3v1.3h-1.3zM429.3 204.7h1.3v1.3h-1.3zM433.4 198.1h1.3v1.3h-1.3zM442.5 201.3h1.3v1.3h-1.3zM439.7 206.1h1.3v1.3h-1.3zM428.0 209.6h1.3v1.3h-1.3zM438.9 202.1h1.3v1.3h-1.3zM425.6 196.1h1.3v1.3h-1.3zM434.9 205.1h1.3v1.3h-1.3zM441.9 201.5h1.3v1.3h-1.3zM435.9 207.1h1.3v1.3h-1.3zM443.7 209.9h1.3v1.3h-1.3zM445.9 200.3h1.3v1.3h-1.3zM440.5 203.6h1.3v1.3h-1.3zM436.6 211.1h1.3v1.3h-1.3zM448.4 204.3h1.3v1.3h-1.3zM475.2 214.2h1.3v1.3h-1.3zM461.2 235.8h1.3v1.3h-1.3zM478.5 234.9h1.3v1.3h-1.3zM478.9 237.3h1.3v1.3h-1.3zM456.6 215.6h1.3v1.3h-1.3zM475.9 239.4h1.3v1.3h-1.3zM464.4 224.1h1.3v1.3h-1.3zM471.5 224.5h1.3v1.3h-1.3zM472.3 219.4h1.3v1.3h-1.3zM474.9 236.8h1.3v1.3h-1.3zM458.8 236.3h1.3v1.3h-1.3zM478.4 233.3h1.3v1.3h-1.3zM476.5 222.7h1.3v1.3h-1.3zM478.7 228.8h1.3v1.3h-1.3zM461.4 239.5h1.3v1.3h-1.3zM463.1 218.9h1.3v1.3h-1.3zM479.0 220.4h1.3v1.3h-1.3zM465.4 219.8h1.3v1.3h-1.3zM470.7 218.1h1.3v1.3h-1.3zM467.2 224.9h1.3v1.3h-1.3zM463.1 186.8h1.3v1.3h-1.3zM485.2 208.1h1.3v1.3h-1.3zM493.1 180.8h1.3v1.3h-1.3zM467.3 192.8h1.3v1.3h-1.3zM494.7 192.0h1.3v1.3h-1.3zM477.7 190.9h1.3v1.3h-1.3zM467.6 191.1h1.3v1.3h-1.3zM465.8 189.5h1.3v1.3h-1.3zM479.5 210.6h1.3v1.3h-1.3zM482.2 211.4h1.3v1.3h-1.3zM485.2 207.5h1.3v1.3h-1.3zM491.0 202.1h1.3v1.3h-1.3zM498.7 206.7h1.3v1.3h-1.3zM476.8 180.0h1.3v1.3h-1.3zM494.9 189.2h1.3v1.3h-1.3zM497.3 208.8h1.3v1.3h-1.3zM496.5 203.0h1.3v1.3h-1.3zM476.4 196.1h1.3v1.3h-1.3zM496.5 211.3h1.3v1.3h-1.3zM492.0 206.5h1.3v1.3h-1.3z" fill="#000" fill-opacity="0.85"/>
<text x="1.8" y="21.7" font-size="28.6" font-weight="bold" font-family="'Liberation Sans', Arial, sans-serif" stroke="#000" stroke-width="0.6">A</text>
<text x="158.8" y="15.4" font-size="15" font-weight="bold" font-family="'Liberation Serif', 'Times New Roman', serif" text-anchor="middle">0 h</text>
<line x1="110" y1="29.2" x2="207" y2="29.2" stroke="#333" stroke-width="1.4"/>
<text x="367.7" y="15.4" font-size="15" font-weight="bold" font-family="'Liberation Serif', 'Times New Roman', serif" text-anchor="middle">12 h</text>
<line x1="221" y1="29.2" x2="512" y2="29.2" stroke="#333" stroke-width="1.4"/>
<text x="258" y="59.6" font-size="15" font-weight="bold" font-style="italic" font-family="'Liberation Serif', 'Times New Roman', serif">Co.</text>
<text x="323.4" y="59.8" font-size="15" font-weight="bold" font-family="'Liberation Serif', 'Times New Roman', serif" textLength="77.6" lengthAdjust="spacingAndGlyphs">BAY1170-82</text>
<text x="425.6" y="59.8" font-size="15" font-weight="bold" font-family="'Liberation Serif', 'Times New Roman', serif" textLength="74" lengthAdjust="spacingAndGlyphs">Bortezomib</text>
<text x="4" y="116.5" font-size="18" font-weight="bold" font-family="'Liberation Serif', 'Times New Roman', serif" textLength="69" lengthAdjust="spacingAndGlyphs">Low risk</text>
<text x="4" y="209.6" font-size="18" font-weight="bold" font-family="'Liberation Serif', 'Times New Roman', serif" textLength="72.3" lengthAdjust="spacingAndGlyphs">High risk</text>
<text x="83.8" y="156.3" font-size="14.5" font-weight="bold" font-family="'Liberation Serif', 'Times New Roman', serif" textLength="13.6" lengthAdjust="spacingAndGlyphs">PI</text>
<line x1="101" y1="73" x2="101" y2="246" stroke="#555" stroke-width="1.5"/>
<rect x="119.8" y="72.5" width="89.39999999999999" height="79.80000000000001" fill="none" stroke="#000" stroke-width="1.3"/>
<line x1="156.5" y1="72.5" x2="156.5" y2="152.3" stroke="#111" stroke-width="1.1"/>
<line x1="119.8" y1="121.5" x2="209.2" y2="121.5" stroke="#111" stroke-width="1.1"/>
<path d="M119.8 152.3h-3.8M119.8 152.3v3.8M119.8 146.3h-2.6M126.5 152.3v2.6M119.8 142.8h-2.6M130.5 152.3v2.6M119.8 140.3h-2.6M133.3 152.3v2.6M119.8 138.4h-2.6M135.4 152.3v2.6M119.8 136.8h-2.6M137.2 152.3v2.6M119.8 135.4h-2.6M138.7 152.3v2.6M119.8 134.3h-2.6M140.0 152.3v2.6M119.8 133.3h-2.6M141.1 152.3v2.6M119.8 132.4h-3.8M142.2 152.3v3.8M119.8 126.3h-2.6M148.9 152.3v2.6M119.8 122.8h-2.6M152.8 152.3v2.6M119.8 120.3h-2.6M155.6 152.3v2.6M119.8 118.4h-2.6M157.8 152.3v2.6M119.8 116.8h-2.6M159.5 152.3v2.6M119.8 115.5h-2.6M161.0 152.3v2.6M119.8 114.3h-2.6M162.3 152.3v2.6M119.8 113.3h-2.6M163.5 152.3v2.6M119.8 112.4h-3.8M164.5 152.3v3.8M119.8 106.4h-2.6M171.2 152.3v2.6M119.8 102.9h-2.6M175.2 152.3v2.6M119.8 100.4h-2.6M178.0 152.3v2.6M119.8 98.5h-2.6M180.1 152.3v2.6M119.8 96.9h-2.6M181.9 152.3v2.6M119.8 95.5h-2.6M183.4 152.3v2.6M119.8 94.4h-2.6M184.7 152.3v2.6M119.8 93.4h-2.6M185.8 152.3v2.6M119.8 92.5h-3.8M186.8 152.3v3.8M119.8 86.4h-2.6M193.6 152.3v2.6M119.8 82.9h-2.6M197.5 152.3v2.6M119.8 80.4h-2.6M200.3 152.3v2.6M119.8 78.5h-2.6M202.5 152.3v2.6M119.8 76.9h-2.6M204.2 152.3v2.6M119.8 75.6h-2.6M205.7 152.3v2.6M119.8 74.4h-2.6M207.0 152.3v2.6M119.8 73.4h-2.6M208.2 152.3v2.6M119.8 72.5h-3.8M209.2 152.3v3.8" stroke="#000" stroke-width="1" fill="none"/>
<text x="206.0" y="94.4" font-size="15.6" font-weight="bold" font-family="'Liberation Serif', 'Times New Roman', serif" text-anchor="end">8%</text>
<text x="206.0" y="149.79999999999998" font-size="15.6" font-weight="bold" font-family="'Liberation Serif', 'Times New Roman', serif" text-anchor="end">9%</text>
<rect x="220.4" y="72.3" width="88.4" height="79.2" fill="none" stroke="#000" stroke-width="1.3"/>
<line x1="256.5" y1="72.3" x2="256.5" y2="151.5" stroke="#111" stroke-width="1.1"/>
<line x1="220.4" y1="119.5" x2="308.8" y2="119.5" stroke="#111" stroke-width="1.1"/>
<path d="M220.4 151.5h-3.8M220.4 151.5v3.8M220.4 145.5h-2.6M227.1 151.5v2.6M220.4 142.1h-2.6M230.9 151.5v2.6M220.4 139.6h-2.6M233.7 151.5v2.6M220.4 137.7h-2.6M235.8 151.5v2.6M220.4 136.1h-2.6M237.6 151.5v2.6M220.4 134.8h-2.6M239.1 151.5v2.6M220.4 133.6h-2.6M240.4 151.5v2.6M220.4 132.6h-2.6M241.5 151.5v2.6M220.4 131.7h-3.8M242.5 151.5v3.8M220.4 125.7h-2.6M249.2 151.5v2.6M220.4 122.3h-2.6M253.0 151.5v2.6M220.4 119.8h-2.6M255.8 151.5v2.6M220.4 117.9h-2.6M257.9 151.5v2.6M220.4 116.3h-2.6M259.7 151.5v2.6M220.4 115.0h-2.6M261.2 151.5v2.6M220.4 113.8h-2.6M262.5 151.5v2.6M220.4 112.8h-2.6M263.6 151.5v2.6M220.4 111.9h-3.8M264.6 151.5v3.8M220.4 105.9h-2.6M271.3 151.5v2.6M220.4 102.5h-2.6M275.1 151.5v2.6M220.4 100.0h-2.6M277.9 151.5v2.6M220.4 98.1h-2.6M280.0 151.5v2.6M220.4 96.5h-2.6M281.8 151.5v2.6M220.4 95.2h-2.6M283.3 151.5v2.6M220.4 94.0h-2.6M284.6 151.5v2.6M220.4 93.0h-2.6M285.7 151.5v2.6M220.4 92.1h-3.8M286.7 151.5v3.8M220.4 86.1h-2.6M293.4 151.5v2.6M220.4 82.7h-2.6M297.2 151.5v2.6M220.4 80.2h-2.6M300.0 151.5v2.6M220.4 78.3h-2.6M302.1 151.5v2.6M220.4 76.7h-2.6M303.9 151.5v2.6M220.4 75.4h-2.6M305.4 151.5v2.6M220.4 74.2h-2.6M306.7 151.5v2.6M220.4 73.2h-2.6M307.8 151.5v2.6M220.4 72.3h-3.8M308.8 151.5v3.8" stroke="#000" stroke-width="1" fill="none"/>
<text x="305.0" y="94.4" font-size="15.6" font-weight="bold" font-family="'Liberation Serif', 'Times New Roman', serif" text-anchor="end">22%</text>
<text x="305.0" y="147.89999999999998" font-size="15.6" font-weight="bold" font-family="'Liberation Serif', 'Times New Roman', serif" text-anchor="end">20%</text>
<rect x="322.3" y="71.7" width="84.89999999999998" height="79.8" fill="none" stroke="#000" stroke-width="1.3"/>
<line x1="357.5" y1="71.7" x2="357.5" y2="151.5" stroke="#111" stroke-width="1.1"/>
<line x1="322.3" y1="119.5" x2="407.2" y2="119.5" stroke="#111" stroke-width="1.1"/>
<path d="M322.3 151.5h-3.8M322.3 151.5v3.8M322.3 145.5h-2.6M328.7 151.5v2.6M322.3 142.0h-2.6M332.4 151.5v2.6M322.3 139.5h-2.6M335.1 151.5v2.6M322.3 137.6h-2.6M337.1 151.5v2.6M322.3 136.0h-2.6M338.8 151.5v2.6M322.3 134.6h-2.6M340.2 151.5v2.6M322.3 133.5h-2.6M341.5 151.5v2.6M322.3 132.5h-2.6M342.6 151.5v2.6M322.3 131.6h-3.8M343.5 151.5v3.8M322.3 125.5h-2.6M349.9 151.5v2.6M322.3 122.0h-2.6M353.7 151.5v2.6M322.3 119.5h-2.6M356.3 151.5v2.6M322.3 117.6h-2.6M358.4 151.5v2.6M322.3 116.0h-2.6M360.0 151.5v2.6M322.3 114.7h-2.6M361.5 151.5v2.6M322.3 113.5h-2.6M362.7 151.5v2.6M322.3 112.5h-2.6M363.8 151.5v2.6M322.3 111.6h-3.8M364.8 151.5v3.8M322.3 105.6h-2.6M371.1 151.5v2.6M322.3 102.1h-2.6M374.9 151.5v2.6M322.3 99.6h-2.6M377.5 151.5v2.6M322.3 97.7h-2.6M379.6 151.5v2.6M322.3 96.1h-2.6M381.3 151.5v2.6M322.3 94.7h-2.6M382.7 151.5v2.6M322.3 93.6h-2.6M383.9 151.5v2.6M322.3 92.6h-2.6M385.0 151.5v2.6M322.3 91.7h-3.8M386.0 151.5v3.8M322.3 85.6h-2.6M392.4 151.5v2.6M322.3 82.1h-2.6M396.1 151.5v2.6M322.3 79.6h-2.6M398.8 151.5v2.6M322.3 77.7h-2.6M400.8 151.5v2.6M322.3 76.1h-2.6M402.5 151.5v2.6M322.3 74.8h-2.6M403.9 151.5v2.6M322.3 73.6h-2.6M405.1 151.5v2.6M322.3 72.6h-2.6M406.2 151.5v2.6M322.3 71.7h-3.8M407.2 151.5v3.8" stroke="#000" stroke-width="1" fill="none"/>
<text x="405.6" y="92.5" font-size="15.6" font-weight="bold" font-family="'Liberation Serif', 'Times New Roman', serif" text-anchor="end">25%</text>
<text x="405.6" y="148.2" font-size="15.6" font-weight="bold" font-family="'Liberation Serif', 'Times New Roman', serif" text-anchor="end">19%</text>
<rect x="421.2" y="72.3" width="87.5" height="79.2" fill="none" stroke="#000" stroke-width="1.3"/>
<line x1="456.5" y1="72.3" x2="456.5" y2="151.5" stroke="#111" stroke-width="1.1"/>
<line x1="421.2" y1="121.5" x2="508.7" y2="121.5" stroke="#111" stroke-width="1.1"/>
<path d="M421.2 151.5h-3.8M421.2 151.5v3.8M421.2 145.5h-2.6M427.8 151.5v2.6M421.2 142.1h-2.6M431.6 151.5v2.6M421.2 139.6h-2.6M434.4 151.5v2.6M421.2 137.7h-2.6M436.5 151.5v2.6M421.2 136.1h-2.6M438.2 151.5v2.6M421.2 134.8h-2.6M439.7 151.5v2.6M421.2 133.6h-2.6M441.0 151.5v2.6M421.2 132.6h-2.6M442.1 151.5v2.6M421.2 131.7h-3.8M443.1 151.5v3.8M421.2 125.7h-2.6M449.7 151.5v2.6M421.2 122.3h-2.6M453.5 151.5v2.6M421.2 119.8h-2.6M456.2 151.5v2.6M421.2 117.9h-2.6M458.4 151.5v2.6M421.2 116.3h-2.6M460.1 151.5v2.6M421.2 115.0h-2.6M461.6 151.5v2.6M421.2 113.8h-2.6M462.8 151.5v2.6M421.2 112.8h-2.6M463.9 151.5v2.6M421.2 111.9h-3.8M464.9 151.5v3.8M421.2 105.9h-2.6M471.5 151.5v2.6M421.2 102.5h-2.6M475.4 151.5v2.6M421.2 100.0h-2.6M478.1 151.5v2.6M421.2 98.1h-2.6M480.2 151.5v2.6M421.2 96.5h-2.6M482.0 151.5v2.6M421.2 95.2h-2.6M483.4 151.5v2.6M421.2 94.0h-2.6M484.7 151.5v2.6M421.2 93.0h-2.6M485.8 151.5v2.6M421.2 92.1h-3.8M486.8 151.5v3.8M421.2 86.1h-2.6M493.4 151.5v2.6M421.2 82.7h-2.6M497.3 151.5v2.6M421.2 80.2h-2.6M500.0 151.5v2.6M421.2 78.3h-2.6M502.1 151.5v2.6M421.2 76.7h-2.6M503.8 151.5v2.6M421.2 75.4h-2.6M505.3 151.5v2.6M421.2 74.2h-2.6M506.6 151.5v2.6M421.2 73.2h-2.6M507.7 151.5v2.6M421.2 72.3h-3.8M508.7 151.5v3.8" stroke="#000" stroke-width="1" fill="none"/>
<text x="507.6" y="94.4" font-size="15.6" font-weight="bold" font-family="'Liberation Serif', 'Times New Roman', serif" text-anchor="end">25%</text>
<text x="506.90000000000003" y="147.89999999999998" font-size="15.6" font-weight="bold" font-family="'Liberation Serif', 'Times New Roman', serif" text-anchor="end">22%</text>
<rect x="120.4" y="168.7" width="87.9" height="78.80000000000001" fill="none" stroke="#000" stroke-width="1.3"/>
<line x1="150.5" y1="168.7" x2="150.5" y2="247.5" stroke="#111" stroke-width="1.1"/>
<line x1="120.4" y1="212.5" x2="208.3" y2="212.5" stroke="#111" stroke-width="1.1"/>
<path d="M120.4 247.5h-3.8M120.4 247.5v3.8M120.4 241.6h-2.6M127.0 247.5v2.6M120.4 238.1h-2.6M130.9 247.5v2.6M120.4 235.6h-2.6M133.6 247.5v2.6M120.4 233.7h-2.6M135.8 247.5v2.6M120.4 232.2h-2.6M137.5 247.5v2.6M120.4 230.9h-2.6M139.0 247.5v2.6M120.4 229.7h-2.6M140.2 247.5v2.6M120.4 228.7h-2.6M141.4 247.5v2.6M120.4 227.8h-3.8M142.4 247.5v3.8M120.4 221.9h-2.6M149.0 247.5v2.6M120.4 218.4h-2.6M152.9 247.5v2.6M120.4 215.9h-2.6M155.6 247.5v2.6M120.4 214.0h-2.6M157.7 247.5v2.6M120.4 212.5h-2.6M159.5 247.5v2.6M120.4 211.2h-2.6M160.9 247.5v2.6M120.4 210.0h-2.6M162.2 247.5v2.6M120.4 209.0h-2.6M163.3 247.5v2.6M120.4 208.1h-3.8M164.4 247.5v3.8M120.4 202.2h-2.6M171.0 247.5v2.6M120.4 198.7h-2.6M174.8 247.5v2.6M120.4 196.2h-2.6M177.6 247.5v2.6M120.4 194.3h-2.6M179.7 247.5v2.6M120.4 192.8h-2.6M181.4 247.5v2.6M120.4 191.5h-2.6M182.9 247.5v2.6M120.4 190.3h-2.6M184.2 247.5v2.6M120.4 189.3h-2.6M185.3 247.5v2.6M120.4 188.4h-3.8M186.3 247.5v3.8M120.4 182.5h-2.6M192.9 247.5v2.6M120.4 179.0h-2.6M196.8 247.5v2.6M120.4 176.5h-2.6M199.6 247.5v2.6M120.4 174.6h-2.6M201.7 247.5v2.6M120.4 173.1h-2.6M203.4 247.5v2.6M120.4 171.8h-2.6M204.9 247.5v2.6M120.4 170.6h-2.6M206.2 247.5v2.6M120.4 169.6h-2.6M207.3 247.5v2.6M120.4 168.7h-3.8M208.3 247.5v3.8" stroke="#000" stroke-width="1" fill="none"/>
<text x="206.9" y="196.7" font-size="15.6" font-weight="bold" font-family="'Liberation Serif', 'Times New Roman', serif" text-anchor="end">6%</text>
<text x="206.6" y="242.5" font-size="15.6" font-weight="bold" font-family="'Liberation Serif', 'Times New Roman', serif" text-anchor="end">2%</text>
<rect x="220.4" y="168.7" width="89.20000000000002" height="78.80000000000001" fill="none" stroke="#000" stroke-width="1.3"/>
<line x1="251.5" y1="168.7" x2="251.5" y2="247.5" stroke="#111" stroke-width="1.1"/>
<line x1="220.4" y1="212.5" x2="309.6" y2="212.5" stroke="#111" stroke-width="1.1"/>
<path d="M220.4 247.5h-3.8M220.4 247.5v3.8M220.4 241.6h-2.6M227.1 247.5v2.6M220.4 238.1h-2.6M231.0 247.5v2.6M220.4 235.6h-2.6M233.8 247.5v2.6M220.4 233.7h-2.6M236.0 247.5v2.6M220.4 232.2h-2.6M237.8 247.5v2.6M220.4 230.9h-2.6M239.2 247.5v2.6M220.4 229.7h-2.6M240.5 247.5v2.6M220.4 228.7h-2.6M241.7 247.5v2.6M220.4 227.8h-3.8M242.7 247.5v3.8M220.4 221.9h-2.6M249.4 247.5v2.6M220.4 218.4h-2.6M253.3 247.5v2.6M220.4 215.9h-2.6M256.1 247.5v2.6M220.4 214.0h-2.6M258.3 247.5v2.6M220.4 212.5h-2.6M260.1 247.5v2.6M220.4 211.2h-2.6M261.5 247.5v2.6M220.4 210.0h-2.6M262.8 247.5v2.6M220.4 209.0h-2.6M264.0 247.5v2.6M220.4 208.1h-3.8M265.0 247.5v3.8M220.4 202.2h-2.6M271.7 247.5v2.6M220.4 198.7h-2.6M275.6 247.5v2.6M220.4 196.2h-2.6M278.4 247.5v2.6M220.4 194.3h-2.6M280.6 247.5v2.6M220.4 192.8h-2.6M282.4 247.5v2.6M220.4 191.5h-2.6M283.8 247.5v2.6M220.4 190.3h-2.6M285.1 247.5v2.6M220.4 189.3h-2.6M286.3 247.5v2.6M220.4 188.4h-3.8M287.3 247.5v3.8M220.4 182.5h-2.6M294.0 247.5v2.6M220.4 179.0h-2.6M297.9 247.5v2.6M220.4 176.5h-2.6M300.7 247.5v2.6M220.4 174.6h-2.6M302.9 247.5v2.6M220.4 173.1h-2.6M304.7 247.5v2.6M220.4 171.8h-2.6M306.1 247.5v2.6M220.4 170.6h-2.6M307.4 247.5v2.6M220.4 169.6h-2.6M308.6 247.5v2.6M220.4 168.7h-3.8M309.6 247.5v3.8" stroke="#000" stroke-width="1" fill="none"/>
<text x="306.40000000000003" y="196.7" font-size="15.6" font-weight="bold" font-family="'Liberation Serif', 'Times New Roman', serif" text-anchor="end">5%</text>
<text x="306.0" y="242.89999999999998" font-size="15.6" font-weight="bold" font-family="'Liberation Serif', 'Times New Roman', serif" text-anchor="end">3%</text>
<rect x="322.3" y="168.7" width="88.89999999999998" height="77.80000000000001" fill="none" stroke="#000" stroke-width="1.3"/>
<line x1="353.5" y1="168.7" x2="353.5" y2="246.5" stroke="#111" stroke-width="1.1"/>
<line x1="322.3" y1="212.5" x2="411.2" y2="212.5" stroke="#111" stroke-width="1.1"/>
<path d="M322.3 246.5h-3.8M322.3 246.5v3.8M322.3 240.6h-2.6M329.0 246.5v2.6M322.3 237.2h-2.6M332.9 246.5v2.6M322.3 234.8h-2.6M335.7 246.5v2.6M322.3 232.9h-2.6M337.8 246.5v2.6M322.3 231.4h-2.6M339.6 246.5v2.6M322.3 230.1h-2.6M341.1 246.5v2.6M322.3 228.9h-2.6M342.4 246.5v2.6M322.3 227.9h-2.6M343.5 246.5v2.6M322.3 227.1h-3.8M344.5 246.5v3.8M322.3 221.2h-2.6M351.2 246.5v2.6M322.3 217.8h-2.6M355.1 246.5v2.6M322.3 215.3h-2.6M357.9 246.5v2.6M322.3 213.5h-2.6M360.1 246.5v2.6M322.3 211.9h-2.6M361.8 246.5v2.6M322.3 210.6h-2.6M363.3 246.5v2.6M322.3 209.5h-2.6M364.6 246.5v2.6M322.3 208.5h-2.6M365.7 246.5v2.6M322.3 207.6h-3.8M366.8 246.5v3.8M322.3 201.7h-2.6M373.4 246.5v2.6M322.3 198.3h-2.6M377.4 246.5v2.6M322.3 195.9h-2.6M380.1 246.5v2.6M322.3 194.0h-2.6M382.3 246.5v2.6M322.3 192.5h-2.6M384.0 246.5v2.6M322.3 191.2h-2.6M385.5 246.5v2.6M322.3 190.0h-2.6M386.8 246.5v2.6M322.3 189.0h-2.6M388.0 246.5v2.6M322.3 188.1h-3.8M389.0 246.5v3.8M322.3 182.3h-2.6M395.7 246.5v2.6M322.3 178.9h-2.6M399.6 246.5v2.6M322.3 176.4h-2.6M402.4 246.5v2.6M322.3 174.6h-2.6M404.5 246.5v2.6M322.3 173.0h-2.6M406.3 246.5v2.6M322.3 171.7h-2.6M407.8 246.5v2.6M322.3 170.6h-2.6M409.0 246.5v2.6M322.3 169.6h-2.6M410.2 246.5v2.6M322.3 168.7h-3.8M411.2 246.5v3.8" stroke="#000" stroke-width="1" fill="none"/>
<text x="414.1" y="197.7" font-size="15.6" font-weight="bold" font-family="'Liberation Serif', 'Times New Roman', serif" text-anchor="end">90%</text>
<text x="406.0" y="242.5" font-size="15.6" font-weight="bold" font-family="'Liberation Serif', 'Times New Roman', serif" text-anchor="end">2%</text>
<rect x="422.3" y="168.7" width="88.5" height="77.80000000000001" fill="none" stroke="#000" stroke-width="1.3"/>
<line x1="452.5" y1="168.7" x2="452.5" y2="246.5" stroke="#111" stroke-width="1.1"/>
<line x1="422.3" y1="212.5" x2="510.8" y2="212.5" stroke="#111" stroke-width="1.1"/>
<path d="M422.3 246.5h-3.8M422.3 246.5v3.8M422.3 240.6h-2.6M429.0 246.5v2.6M422.3 237.2h-2.6M432.9 246.5v2.6M422.3 234.8h-2.6M435.6 246.5v2.6M422.3 232.9h-2.6M437.8 246.5v2.6M422.3 231.4h-2.6M439.5 246.5v2.6M422.3 230.1h-2.6M441.0 246.5v2.6M422.3 228.9h-2.6M442.3 246.5v2.6M422.3 227.9h-2.6M443.4 246.5v2.6M422.3 227.1h-3.8M444.4 246.5v3.8M422.3 221.2h-2.6M451.1 246.5v2.6M422.3 217.8h-2.6M455.0 246.5v2.6M422.3 215.3h-2.6M457.7 246.5v2.6M422.3 213.5h-2.6M459.9 246.5v2.6M422.3 211.9h-2.6M461.6 246.5v2.6M422.3 210.6h-2.6M463.1 246.5v2.6M422.3 209.5h-2.6M464.4 246.5v2.6M422.3 208.5h-2.6M465.5 246.5v2.6M422.3 207.6h-3.8M466.6 246.5v3.8M422.3 201.7h-2.6M473.2 246.5v2.6M422.3 198.3h-2.6M477.1 246.5v2.6M422.3 195.9h-2.6M479.9 246.5v2.6M422.3 194.0h-2.6M482.0 246.5v2.6M422.3 192.5h-2.6M483.8 246.5v2.6M422.3 191.2h-2.6M485.2 246.5v2.6M422.3 190.0h-2.6M486.5 246.5v2.6M422.3 189.0h-2.6M487.7 246.5v2.6M422.3 188.1h-3.8M488.7 246.5v3.8M422.3 182.3h-2.6M495.3 246.5v2.6M422.3 178.9h-2.6M499.2 246.5v2.6M422.3 176.4h-2.6M502.0 246.5v2.6M422.3 174.6h-2.6M504.1 246.5v2.6M422.3 173.0h-2.6M505.9 246.5v2.6M422.3 171.7h-2.6M507.4 246.5v2.6M422.3 170.6h-2.6M508.7 246.5v2.6M422.3 169.6h-2.6M509.8 246.5v2.6M422.3 168.7h-3.8M510.8 246.5v3.8" stroke="#000" stroke-width="1" fill="none"/>
<text x="511.8" y="197.7" font-size="15.6" font-weight="bold" font-family="'Liberation Serif', 'Times New Roman', serif" text-anchor="end">20%</text>
<text x="510.8" y="242.89999999999998" font-size="15.6" font-weight="bold" font-family="'Liberation Serif', 'Times New Roman', serif" text-anchor="end">26%</text>
<text x="114.8" y="151.5" font-size="9.5" font-weight="bold" font-family="'Liberation Serif', 'Times New Roman', serif" text-anchor="end">10</text>
<text x="114.4" y="143.89999999999998" font-size="6" font-weight="bold" font-family="'Liberation Serif', 'Times New Roman', serif">0</text>
<text x="114.8" y="132.45000000000002" font-size="9.5" font-weight="bold" font-family="'Liberation Serif', 'Times New Roman', serif" text-anchor="end">10</text>
<text x="114.4" y="124.85000000000001" font-size="6" font-weight="bold" font-family="'Liberation Serif', 'Times New Roman', serif">1</text>
<text x="114.8" y="113.39999999999999" font-size="9.5" font-weight="bold" font-family="'Liberation Serif', 'Times New Roman', serif" text-anchor="end">10</text>
<text x="114.4" y="105.8" font-size="6" font-weight="bold" font-family="'Liberation Serif', 'Times New Roman', serif">2</text>
<text x="114.8" y="94.35" font-size="9.5" font-weight="bold" font-family="'Liberation Serif', 'Times New Roman', serif" text-anchor="end">10</text>
<text x="114.4" y="86.75" font-size="6" font-weight="bold" font-family="'Liberation Serif', 'Times New Roman', serif">3</text>
<text x="114.8" y="75.3" font-size="9.5" font-weight="bold" font-family="'Liberation Serif', 'Times New Roman', serif" text-anchor="end">10</text>
<text x="114.4" y="67.7" font-size="6" font-weight="bold" font-family="'Liberation Serif', 'Times New Roman', serif">4</text>
<text x="114.8" y="247.7" font-size="9.5" font-weight="bold" font-family="'Liberation Serif', 'Times New Roman', serif" text-anchor="end">10</text>
<text x="114.4" y="240.09999999999997" font-size="6" font-weight="bold" font-family="'Liberation Serif', 'Times New Roman', serif">0</text>
<text x="114.8" y="228.65" font-size="9.5" font-weight="bold" font-family="'Liberation Serif', 'Times New Roman', serif" text-anchor="end">10</text>
<text x="114.4" y="221.04999999999998" font-size="6" font-weight="bold" font-family="'Liberation Serif', 'Times New Roman', serif">1</text>
<text x="114.8" y="209.6" font-size="9.5" font-weight="bold" font-family="'Liberation Serif', 'Times New Roman', serif" text-anchor="end">10</text>
<text x="114.4" y="201.99999999999997" font-size="6" font-weight="bold" font-family="'Liberation Serif', 'Times New Roman', serif">2</text>
<text x="114.8" y="190.55" font-size="9.5" font-weight="bold" font-family="'Liberation Serif', 'Times New Roman', serif" text-anchor="end">10</text>
<text x="114.4" y="182.95" font-size="6" font-weight="bold" font-family="'Liberation Serif', 'Times New Roman', serif">3</text>
<text x="114.8" y="171.5" font-size="9.5" font-weight="bold" font-family="'Liberation Serif', 'Times New Roman', serif" text-anchor="end">10</text>
<text x="114.4" y="163.89999999999998" font-size="6" font-weight="bold" font-family="'Liberation Serif', 'Times New Roman', serif">4</text>
<text x="117.6" y="261.6" font-size="10" font-weight="bold" font-family="'Liberation Serif', 'Times New Roman', serif">10</text>
<text x="127.69999999999999" y="255.8" font-size="6" font-weight="bold" font-family="'Liberation Serif', 'Times New Roman', serif">0</text>
<text x="139.0" y="261.6" font-size="10" font-weight="bold" font-family="'Liberation Serif', 'Times New Roman', serif">10</text>
<text x="149.1" y="255.8" font-size="6" font-weight="bold" font-family="'Liberation Serif', 'Times New Roman', serif">1</text>
<text x="159.1" y="261.6" font-size="10" font-weight="bold" font-family="'Liberation Serif', 'Times New Roman', serif">10</text>
<text x="169.2" y="255.8" font-size="6" font-weight="bold" font-family="'Liberation Serif', 'Times New Roman', serif">2</text>
<text x="182.2" y="261.6" font-size="10" font-weight="bold" font-family="'Liberation Serif', 'Times New Roman', serif">10</text>
<text x="192.29999999999998" y="255.8" font-size="6" font-weight="bold" font-family="'Liberation Serif', 'Times New Roman', serif">3</text>
<text x="203.0" y="261.6" font-size="10" font-weight="bold" font-family="'Liberation Serif', 'Times New Roman', serif">10</text>
<text x="213.1" y="255.8" font-size="6" font-weight="bold" font-family="'Liberation Serif', 'Times New Roman', serif">4</text>
<text x="217.7" y="261.6" font-size="10" font-weight="bold" font-family="'Liberation Serif', 'Times New Roman', serif">10</text>
<text x="227.79999999999998" y="255.8" font-size="6" font-weight="bold" font-family="'Liberation Serif', 'Times New Roman', serif">0</text>
<text x="239.9" y="261.6" font-size="10" font-weight="bold" font-family="'Liberation Serif', 'Times New Roman', serif">10</text>
<text x="250.0" y="255.8" font-size="6" font-weight="bold" font-family="'Liberation Serif', 'Times New Roman', serif">1</text>
<text x="260.7" y="261.6" font-size="10" font-weight="bold" font-family="'Liberation Serif', 'Times New Roman', serif">10</text>
<text x="270.8" y="255.8" font-size="6" font-weight="bold" font-family="'Liberation Serif', 'Times New Roman', serif">2</text>
<text x="282.6" y="261.6" font-size="10" font-weight="bold" font-family="'Liberation Serif', 'Times New Roman', serif">10</text>
<text x="292.70000000000005" y="255.8" font-size="6" font-weight="bold" font-family="'Liberation Serif', 'Times New Roman', serif">3</text>
<text x="305.2" y="261.6" font-size="10" font-weight="bold" font-family="'Liberation Serif', 'Times New Roman', serif">10</text>
<text x="315.3" y="255.8" font-size="6" font-weight="bold" font-family="'Liberation Serif', 'Times New Roman', serif">4</text>
<text x="317.1" y="261.6" font-size="10" font-weight="bold" font-family="'Liberation Serif', 'Times New Roman', serif">10</text>
<text x="327.20000000000005" y="255.8" font-size="6" font-weight="bold" font-family="'Liberation Serif', 'Times New Roman', serif">0</text>
<text x="341.0" y="261.6" font-size="10" font-weight="bold" font-family="'Liberation Serif', 'Times New Roman', serif">10</text>
<text x="351.1" y="255.8" font-size="6" font-weight="bold" font-family="'Liberation Serif', 'Times New Roman', serif">1</text>
<text x="361.8" y="261.6" font-size="10" font-weight="bold" font-family="'Liberation Serif', 'Times New Roman', serif">10</text>
<text x="371.90000000000003" y="255.8" font-size="6" font-weight="bold" font-family="'Liberation Serif', 'Times New Roman', serif">2</text>
<text x="383.7" y="261.6" font-size="10" font-weight="bold" font-family="'Liberation Serif', 'Times New Roman', serif">10</text>
<text x="393.8" y="255.8" font-size="6" font-weight="bold" font-family="'Liberation Serif', 'Times New Roman', serif">3</text>
<text x="406.1" y="261.6" font-size="10" font-weight="bold" font-family="'Liberation Serif', 'Times New Roman', serif">10</text>
<text x="416.20000000000005" y="255.8" font-size="6" font-weight="bold" font-family="'Liberation Serif', 'Times New Roman', serif">4</text>
<text x="419.1" y="261.6" font-size="10" font-weight="bold" font-family="'Liberation Serif', 'Times New Roman', serif">10</text>
<text x="429.20000000000005" y="255.8" font-size="6" font-weight="bold" font-family="'Liberation Serif', 'Times New Roman', serif">0</text>
<text x="442.2" y="261.6" font-size="10" font-weight="bold" font-family="'Liberation Serif', 'Times New Roman', serif">10</text>
<text x="452.3" y="255.8" font-size="6" font-weight="bold" font-family="'Liberation Serif', 'Times New Roman', serif">1</text>
<text x="461.8" y="261.6" font-size="10" font-weight="bold" font-family="'Liberation Serif', 'Times New Roman', serif">10</text>
<text x="471.90000000000003" y="255.8" font-size="6" font-weight="bold" font-family="'Liberation Serif', 'Times New Roman', serif">2</text>
<text x="483.7" y="261.6" font-size="10" font-weight="bold" font-family="'Liberation Serif', 'Times New Roman', serif">10</text>
<text x="493.8" y="255.8" font-size="6" font-weight="bold" font-family="'Liberation Serif', 'Times New Roman', serif">3</text>
<text x="506.1" y="261.6" font-size="10" font-weight="bold" font-family="'Liberation Serif', 'Times New Roman', serif">10</text>
<text x="516.2" y="255.8" font-size="6" font-weight="bold" font-family="'Liberation Serif', 'Times New Roman', serif">4</text>
<line x1="120.5" y1="264.7" x2="516" y2="264.7" stroke="#666" stroke-width="1.9"/>
<text x="280" y="279.6" font-size="15" font-weight="bold" font-family="'Liberation Serif', 'Times New Roman', serif">Annexin V-FITC</text>
<text x="0.6" y="328.3" font-size="28.6" font-weight="bold" font-family="'Liberation Sans', Arial, sans-serif" textLength="18.6" lengthAdjust="spacingAndGlyphs" stroke="#000" stroke-width="0.6">B</text>
<line x1="61.5" y1="313" x2="61.5" y2="534.5" stroke="#000" stroke-width="1.2"/>
<line x1="61" y1="534" x2="338.8" y2="534" stroke="#000" stroke-width="1.2"/>
<path d="M61.5 534.4h-4M61.5 525.2h-2.5M61.5 516.0h-2.5M61.5 506.8h-2.5M61.5 497.6h-4M61.5 488.4h-2.5M61.5 479.2h-2.5M61.5 470.0h-2.5M61.5 460.8h-4M61.5 451.6h-2.5M61.5 442.4h-2.5M61.5 433.2h-2.5M61.5 424.0h-4M61.5 414.8h-2.5M61.5 405.6h-2.5M61.5 396.4h-2.5M61.5 387.2h-4M61.5 378.0h-2.5M61.5 368.8h-2.5M61.5 359.6h-2.5M61.5 350.4h-4M61.5 341.2h-2.5M61.5 332.0h-2.5M61.5 322.8h-2.5M61.5 313.6h-4M60.8 534v4M74.7 534v2.5M88.6 534v4M102.5 534v2.5M116.5 534v4M130.4 534v2.5M144.3 534v4M158.2 534v2.5M172.1 534v4M186.0 534v2.5M199.9 534v4M213.8 534v2.5M227.8 534v4M241.7 534v2.5M255.6 534v4M269.5 534v2.5M283.4 534v4M297.3 534v2.5M311.2 534v4M325.1 534v2.5M339.1 534v4" stroke="#000" stroke-width="1" fill="none"/>
<text x="55" y="539.0" font-size="14" font-weight="bold" font-family="'Liberation Serif', 'Times New Roman', serif" text-anchor="end">0</text>
<text x="55" y="502.2" font-size="14" font-weight="bold" font-family="'Liberation Serif', 'Times New Roman', serif" text-anchor="end">10</text>
<text x="55" y="465.4" font-size="14" font-weight="bold" font-family="'Liberation Serif', 'Times New Roman', serif" text-anchor="end">20</text>
<text x="55" y="428.6" font-size="14" font-weight="bold" font-family="'Liberation Serif', 'Times New Roman', serif" text-anchor="end">30</text>
<text x="55" y="391.79999999999995" font-size="14" font-weight="bold" font-family="'Liberation Serif', 'Times New Roman', serif" text-anchor="end">40</text>
<text x="55" y="355.0" font-size="14" font-weight="bold" font-family="'Liberation Serif', 'Times New Roman', serif" text-anchor="end">50</text>
<text x="55" y="318.2" font-size="14" font-weight="bold" font-family="'Liberation Serif', 'Times New Roman', serif" text-anchor="end">60</text>
<text x="60.805" y="552.6" font-size="14" font-weight="bold" font-family="'Liberation Serif', 'Times New Roman', serif" text-anchor="middle">5</text>
<text x="88.63" y="552.6" font-size="14" font-weight="bold" font-family="'Liberation Serif', 'Times New Roman', serif" text-anchor="middle">10</text>
<text x="144.28" y="552.6" font-size="14" font-weight="bold" font-family="'Liberation Serif', 'Times New Roman', serif" text-anchor="middle">20</text>
<text x="199.93" y="552.6" font-size="14" font-weight="bold" font-family="'Liberation Serif', 'Times New Roman', serif" text-anchor="middle">30</text>
<text x="255.58" y="552.6" font-size="14" font-weight="bold" font-family="'Liberation Serif', 'Times New Roman', serif" text-anchor="middle">40</text>
<text x="311.23" y="552.6" font-size="14" font-weight="bold" font-family="'Liberation Serif', 'Times New Roman', serif" text-anchor="middle">50</text>
<ellipse cx="77.5" cy="335.7" rx="4.1" ry="4.9" fill="#1a1a1a"/>
<ellipse cx="88.6" cy="368.8" rx="4.1" ry="4.9" fill="#1a1a1a"/>
<ellipse cx="83.1" cy="413.0" rx="4.1" ry="4.9" fill="#1a1a1a"/>
<ellipse cx="199.9" cy="482.9" rx="4.1" ry="4.9" fill="#1a1a1a"/>
<ellipse cx="244.5" cy="527.0" rx="4.1" ry="4.9" fill="#1a1a1a"/>
<ellipse cx="316.8" cy="523.4" rx="4.1" ry="4.9" fill="#1a1a1a"/>
<line x1="61.5" y1="362.3" x2="291.8" y2="534" stroke="#000" stroke-width="1.2"/>
<text x="182.5" y="384.3" font-size="15.6" font-weight="bold" font-family="'Liberation Serif', 'Times New Roman', serif">R<tspan font-size="11" dy="-7.5">2</tspan><tspan dy="7.5">= 0.856</tspan></text>
<text transform="translate(31.6,476) rotate(-90)" font-size="15" font-weight="bold" font-family="'Liberation Serif', 'Times New Roman', serif" textLength="18" lengthAdjust="spacingAndGlyphs">%</text>
<text transform="translate(31.6,453.8) rotate(-90)" font-size="14.7" font-weight="bold" font-family="'Liberation Serif', 'Times New Roman', serif">nuclear p65</text>
<text x="130.6" y="575.5" font-size="15" font-weight="bold" font-family="'Liberation Serif', 'Times New Roman', serif">% Annexin V high</text>
<text x="1.2" y="628.2" font-size="28.6" font-weight="bold" font-family="'Liberation Sans', Arial, sans-serif" stroke="#000" stroke-width="0.6">C</text>
<rect x="76.7" y="612.3" width="245.3" height="145.30000000000007" fill="none" stroke="#555" stroke-width="1.3"/>
<line x1="76.7" y1="612" x2="76.7" y2="758.2" stroke="#222" stroke-width="1.2"/>
<line x1="76.1" y1="757.6" x2="322.6" y2="757.6" stroke="#222" stroke-width="1.3"/>
<path d="M76.7 757.6h-4.5M76.7 743.1h-3.3M76.7 728.6h-4.5M76.7 714.1h-3.3M76.7 699.6h-4.5M76.7 685.1h-3.3M76.7 670.5h-4.5M76.7 656.0h-3.3M76.7 641.5h-4.5M76.7 627.0h-3.3M76.7 612.5h-4.5" stroke="#000" stroke-width="1" fill="none"/>
<text x="70.7" y="760.7" font-size="12.2" font-weight="bold" font-family="'Liberation Serif', 'Times New Roman', serif" text-anchor="end">0</text>
<text x="70.7" y="731.6800000000001" font-size="12.2" font-weight="bold" font-family="'Liberation Serif', 'Times New Roman', serif" text-anchor="end">20</text>
<text x="70.7" y="702.6600000000001" font-size="12.2" font-weight="bold" font-family="'Liberation Serif', 'Times New Roman', serif" text-anchor="end">40</text>
<text x="70.7" y="673.64" font-size="12.2" font-weight="bold" font-family="'Liberation Serif', 'Times New Roman', serif" text-anchor="end">60</text>
<text x="70.7" y="644.62" font-size="12.2" font-weight="bold" font-family="'Liberation Serif', 'Times New Roman', serif" text-anchor="end">80</text>
<text x="70.7" y="615.6" font-size="12.2" font-weight="bold" font-family="'Liberation Serif', 'Times New Roman', serif" text-anchor="end">100</text>
<text transform="translate(51.5,709.4) rotate(-90)" font-size="15" font-weight="bold" font-family="'Liberation Serif', 'Times New Roman', serif" textLength="43" lengthAdjust="spacingAndGlyphs">% cells</text>
<rect x="81.3" y="618.8" width="91.7" height="34.200000000000045" fill="none" stroke="#000" stroke-width="1"/>
<defs><pattern id="hatch" patternUnits="userSpaceOnUse" width="4.8" height="4.8" patternTransform="rotate(45)"><rect width="4.8" height="4.8" fill="#fff"/><rect width="4.8" height="2.3" fill="#000"/></pattern></defs>
<rect x="86.3" y="624.5" width="5.7" height="6.7" fill="url(#hatch)" stroke="#000" stroke-width="1"/>
<rect x="86.3" y="642" width="5.7" height="6.7" fill="#000" stroke="#000" stroke-width="1"/>
<text x="94.3" y="632.3" font-size="13.6" font-weight="bold" font-family="'Liberation Serif', 'Times New Roman', serif">AnnV+/PI-</text>
<text x="94.3" y="648.2" font-size="13.6" font-weight="bold" font-family="'Liberation Serif', 'Times New Roman', serif">AnnV+/PI+</text>
<rect x="79.8" y="719.3" width="5.6" height="38.30000000000007" fill="#000" stroke="none" stroke-width="0"/>
<rect x="79.8" y="716.2" width="5.6" height="3.099999999999909" fill="url(#hatch)" stroke="none" stroke-width="0"/>
<rect x="79.8" y="716.2" width="5.6" height="41.39999999999998" fill="none" stroke="#000" stroke-width="1"/>
<rect x="92.8" y="734.3" width="5.6" height="23.300000000000068" fill="#000" stroke="none" stroke-width="0"/>
<rect x="92.8" y="724" width="5.6" height="10.299999999999955" fill="url(#hatch)" stroke="none" stroke-width="0"/>
<rect x="92.8" y="724" width="5.6" height="33.60000000000002" fill="none" stroke="#000" stroke-width="1"/>
<rect x="105.5" y="731.2" width="5.6" height="26.399999999999977" fill="#000" stroke="none" stroke-width="0"/>
<rect x="105.5" y="724" width="5.6" height="7.2000000000000455" fill="url(#hatch)" stroke="none" stroke-width="0"/>
<rect x="105.5" y="724" width="5.6" height="33.60000000000002" fill="none" stroke="#000" stroke-width="1"/>
<rect x="131.29999999999998" y="719.8" width="5.6" height="37.80000000000007" fill="#000" stroke="none" stroke-width="0"/>
<rect x="131.29999999999998" y="702.7" width="5.6" height="17.09999999999991" fill="url(#hatch)" stroke="none" stroke-width="0"/>
<rect x="131.29999999999998" y="702.7" width="5.6" height="54.89999999999998" fill="none" stroke="#000" stroke-width="1"/>
<rect x="144.5" y="721.6" width="5.6" height="36.0" fill="#000" stroke="none" stroke-width="0"/>
<rect x="144.5" y="694.9" width="5.6" height="26.700000000000045" fill="url(#hatch)" stroke="none" stroke-width="0"/>
<rect x="144.5" y="694.9" width="5.6" height="62.700000000000045" fill="none" stroke="#000" stroke-width="1"/>
<rect x="157.2" y="719.8" width="5.6" height="37.80000000000007" fill="#000" stroke="none" stroke-width="0"/>
<rect x="157.2" y="696.3" width="5.6" height="23.5" fill="url(#hatch)" stroke="none" stroke-width="0"/>
<rect x="157.2" y="696.3" width="5.6" height="61.30000000000007" fill="none" stroke="#000" stroke-width="1"/>
<rect x="183.1" y="740" width="5.6" height="17.600000000000023" fill="#000" stroke="none" stroke-width="0"/>
<rect x="183.1" y="732.5" width="5.6" height="7.5" fill="url(#hatch)" stroke="none" stroke-width="0"/>
<rect x="183.1" y="732.5" width="5.6" height="25.100000000000023" fill="none" stroke="#000" stroke-width="1"/>
<rect x="196.1" y="652.6" width="5.6" height="105.0" fill="#000" stroke="none" stroke-width="0"/>
<rect x="196.1" y="636.7" width="5.6" height="15.899999999999977" fill="url(#hatch)" stroke="none" stroke-width="0"/>
<rect x="196.1" y="636.7" width="5.6" height="120.89999999999998" fill="none" stroke="#000" stroke-width="1"/>
<rect x="209.0" y="729" width="5.6" height="28.600000000000023" fill="#000" stroke="none" stroke-width="0"/>
<rect x="209.0" y="682.9" width="5.6" height="46.10000000000002" fill="url(#hatch)" stroke="none" stroke-width="0"/>
<rect x="209.0" y="682.9" width="5.6" height="74.70000000000005" fill="none" stroke="#000" stroke-width="1"/>
<rect x="235.0" y="746.3" width="5.6" height="11.300000000000068" fill="#000" stroke="none" stroke-width="0"/>
<rect x="235.0" y="742.9" width="5.6" height="3.3999999999999773" fill="url(#hatch)" stroke="none" stroke-width="0"/>
<rect x="235.0" y="742.9" width="5.6" height="14.700000000000045" fill="none" stroke="#000" stroke-width="1"/>
<rect x="248.0" y="652.6" width="5.6" height="105.0" fill="#000" stroke="none" stroke-width="0"/>
<rect x="248.0" y="615.1" width="5.6" height="37.5" fill="url(#hatch)" stroke="none" stroke-width="0"/>
<rect x="248.0" y="615.1" width="5.6" height="142.5" fill="none" stroke="#000" stroke-width="1"/>
<rect x="260.4" y="716" width="5.6" height="41.60000000000002" fill="#000" stroke="none" stroke-width="0"/>
<rect x="260.4" y="665" width="5.6" height="51" fill="url(#hatch)" stroke="none" stroke-width="0"/>
<rect x="260.4" y="665" width="5.6" height="92.60000000000002" fill="none" stroke="#000" stroke-width="1"/>
<rect x="286.3" y="742" width="5.6" height="15.600000000000023" fill="#000" stroke="none" stroke-width="0"/>
<rect x="286.3" y="735.4" width="5.6" height="6.600000000000023" fill="url(#hatch)" stroke="none" stroke-width="0"/>
<rect x="286.3" y="735.4" width="5.6" height="22.200000000000045" fill="none" stroke="#000" stroke-width="1"/>
<rect x="299.3" y="625.2" width="5.6" height="132.39999999999998" fill="#000" stroke="none" stroke-width="0"/>
<rect x="299.3" y="622.9" width="5.6" height="2.300000000000068" fill="url(#hatch)" stroke="none" stroke-width="0"/>
<rect x="299.3" y="622.9" width="5.6" height="134.70000000000005" fill="none" stroke="#000" stroke-width="1"/>
<rect x="312.3" y="712.3" width="5.6" height="45.30000000000007" fill="#000" stroke="none" stroke-width="0"/>
<rect x="312.3" y="665" width="5.6" height="47.299999999999955" fill="url(#hatch)" stroke="none" stroke-width="0"/>
<rect x="312.3" y="665" width="5.6" height="92.60000000000002" fill="none" stroke="#000" stroke-width="1"/>
<path d="M82.0 752.2h1.2v1.2h-1.2zM82.0 745.3h1.2v1.2h-1.2zM82.0 738.4h1.2v1.2h-1.2zM82.0 731.5h1.2v1.2h-1.2zM82.0 724.6h1.2v1.2h-1.2zM95.0 752.2h1.2v1.2h-1.2zM95.0 745.3h1.2v1.2h-1.2zM95.0 738.4h1.2v1.2h-1.2zM107.7 752.2h1.2v1.2h-1.2zM107.7 745.3h1.2v1.2h-1.2zM107.7 738.4h1.2v1.2h-1.2zM133.5 752.2h1.2v1.2h-1.2zM133.5 745.3h1.2v1.2h-1.2zM133.5 738.4h1.2v1.2h-1.2zM133.5 731.5h1.2v1.2h-1.2zM133.5 724.6h1.2v1.2h-1.2zM146.7 752.2h1.2v1.2h-1.2zM146.7 745.3h1.2v1.2h-1.2zM146.7 738.4h1.2v1.2h-1.2zM146.7 731.5h1.2v1.2h-1.2zM146.7 724.6h1.2v1.2h-1.2zM159.4 752.2h1.2v1.2h-1.2zM159.4 745.3h1.2v1.2h-1.2zM159.4 738.4h1.2v1.2h-1.2zM159.4 731.5h1.2v1.2h-1.2zM159.4 724.6h1.2v1.2h-1.2zM185.3 752.2h1.2v1.2h-1.2zM185.3 745.3h1.2v1.2h-1.2zM198.3 752.2h1.2v1.2h-1.2zM198.3 745.3h1.2v1.2h-1.2zM198.3 738.4h1.2v1.2h-1.2zM198.3 731.5h1.2v1.2h-1.2zM198.3 724.6h1.2v1.2h-1.2zM198.3 717.7h1.2v1.2h-1.2zM198.3 710.8h1.2v1.2h-1.2zM198.3 703.9h1.2v1.2h-1.2zM198.3 697.0h1.2v1.2h-1.2zM198.3 690.1h1.2v1.2h-1.2zM198.3 683.2h1.2v1.2h-1.2zM198.3 676.3h1.2v1.2h-1.2zM198.3 669.4h1.2v1.2h-1.2zM198.3 662.5h1.2v1.2h-1.2zM198.3 655.6h1.2v1.2h-1.2zM211.2 752.2h1.2v1.2h-1.2zM211.2 745.3h1.2v1.2h-1.2zM211.2 738.4h1.2v1.2h-1.2zM211.2 731.5h1.2v1.2h-1.2zM237.2 752.2h1.2v1.2h-1.2zM250.2 752.2h1.2v1.2h-1.2zM250.2 745.3h1.2v1.2h-1.2zM250.2 738.4h1.2v1.2h-1.2zM250.2 731.5h1.2v1.2h-1.2zM250.2 724.6h1.2v1.2h-1.2zM250.2 717.7h1.2v1.2h-1.2zM250.2 710.8h1.2v1.2h-1.2zM250.2 703.9h1.2v1.2h-1.2zM250.2 697.0h1.2v1.2h-1.2zM250.2 690.1h1.2v1.2h-1.2zM250.2 683.2h1.2v1.2h-1.2zM250.2 676.3h1.2v1.2h-1.2zM250.2 669.4h1.2v1.2h-1.2zM250.2 662.5h1.2v1.2h-1.2zM250.2 655.6h1.2v1.2h-1.2zM262.6 752.2h1.2v1.2h-1.2zM262.6 745.3h1.2v1.2h-1.2zM262.6 738.4h1.2v1.2h-1.2zM262.6 731.5h1.2v1.2h-1.2zM262.6 724.6h1.2v1.2h-1.2zM288.5 752.2h1.2v1.2h-1.2zM288.5 745.3h1.2v1.2h-1.2zM301.5 752.2h1.2v1.2h-1.2zM301.5 745.3h1.2v1.2h-1.2zM301.5 738.4h1.2v1.2h-1.2zM301.5 731.5h1.2v1.2h-1.2zM301.5 724.6h1.2v1.2h-1.2zM301.5 717.7h1.2v1.2h-1.2zM301.5 710.8h1.2v1.2h-1.2zM301.5 703.9h1.2v1.2h-1.2zM301.5 697.0h1.2v1.2h-1.2zM301.5 690.1h1.2v1.2h-1.2zM301.5 683.2h1.2v1.2h-1.2zM301.5 676.3h1.2v1.2h-1.2zM301.5 669.4h1.2v1.2h-1.2zM301.5 662.5h1.2v1.2h-1.2zM301.5 655.6h1.2v1.2h-1.2zM301.5 648.7h1.2v1.2h-1.2zM301.5 641.8h1.2v1.2h-1.2zM301.5 634.9h1.2v1.2h-1.2zM301.5 628.0h1.2v1.2h-1.2zM314.5 752.2h1.2v1.2h-1.2zM314.5 745.3h1.2v1.2h-1.2zM314.5 738.4h1.2v1.2h-1.2zM314.5 731.5h1.2v1.2h-1.2zM314.5 724.6h1.2v1.2h-1.2zM314.5 717.7h1.2v1.2h-1.2z" fill="#9a9a9a"/>
<text x="3.0" y="771.2" font-size="13.5" font-weight="bold" font-family="'Liberation Serif', 'Times New Roman', serif">BAY1170-82</text>
<text x="3.0" y="780.3" font-size="13.8" font-weight="bold" font-family="'Liberation Serif', 'Times New Roman', serif">Bortezomib</text>
<text x="3.0" y="792.4" font-size="14" font-weight="bold" font-family="'Liberation Serif', 'Times New Roman', serif">Patient No.</text>
<text x="82.8" y="770.3" font-size="14.5" font-weight="bold" font-family="'Liberation Serif', 'Times New Roman', serif" text-anchor="middle">−</text>
<text x="82.8" y="780.3" font-size="14.5" font-weight="bold" font-family="'Liberation Serif', 'Times New Roman', serif" text-anchor="middle">−</text>
<text x="95.8" y="770.3" font-size="14.5" font-weight="bold" font-family="'Liberation Serif', 'Times New Roman', serif" text-anchor="middle">+</text>
<text x="95.8" y="780.3" font-size="14.5" font-weight="bold" font-family="'Liberation Serif', 'Times New Roman', serif" text-anchor="middle">−</text>
<text x="108.5" y="770.3" font-size="14.5" font-weight="bold" font-family="'Liberation Serif', 'Times New Roman', serif" text-anchor="middle">−</text>
<text x="108.5" y="780.3" font-size="14.5" font-weight="bold" font-family="'Liberation Serif', 'Times New Roman', serif" text-anchor="middle">+</text>
<text x="97.2" y="790.9" font-size="12.3" font-weight="bold" font-family="'Liberation Serif', 'Times New Roman', serif" text-anchor="middle">24</text>
<text x="134.29999999999998" y="770.3" font-size="14.5" font-weight="bold" font-family="'Liberation Serif', 'Times New Roman', serif" text-anchor="middle">−</text>
<text x="134.29999999999998" y="780.3" font-size="14.5" font-weight="bold" font-family="'Liberation Serif', 'Times New Roman', serif" text-anchor="middle">−</text>
<text x="147.5" y="770.3" font-size="14.5" font-weight="bold" font-family="'Liberation Serif', 'Times New Roman', serif" text-anchor="middle">+</text>
<text x="147.5" y="780.3" font-size="14.5" font-weight="bold" font-family="'Liberation Serif', 'Times New Roman', serif" text-anchor="middle">−</text>
<text x="160.2" y="770.3" font-size="14.5" font-weight="bold" font-family="'Liberation Serif', 'Times New Roman', serif" text-anchor="middle">−</text>
<text x="160.2" y="780.3" font-size="14.5" font-weight="bold" font-family="'Liberation Serif', 'Times New Roman', serif" text-anchor="middle">+</text>
<text x="150" y="790.9" font-size="12.3" font-weight="bold" font-family="'Liberation Serif', 'Times New Roman', serif" text-anchor="middle">10</text>
<text x="186.1" y="770.3" font-size="14.5" font-weight="bold" font-family="'Liberation Serif', 'Times New Roman', serif" text-anchor="middle">−</text>
<text x="186.1" y="780.3" font-size="14.5" font-weight="bold" font-family="'Liberation Serif', 'Times New Roman', serif" text-anchor="middle">−</text>
<text x="199.1" y="770.3" font-size="14.5" font-weight="bold" font-family="'Liberation Serif', 'Times New Roman', serif" text-anchor="middle">+</text>
<text x="199.1" y="780.3" font-size="14.5" font-weight="bold" font-family="'Liberation Serif', 'Times New Roman', serif" text-anchor="middle">−</text>
<text x="212.0" y="770.3" font-size="14.5" font-weight="bold" font-family="'Liberation Serif', 'Times New Roman', serif" text-anchor="middle">−</text>
<text x="212.0" y="780.3" font-size="14.5" font-weight="bold" font-family="'Liberation Serif', 'Times New Roman', serif" text-anchor="middle">+</text>
<text x="200" y="790.9" font-size="12.3" font-weight="bold" font-family="'Liberation Serif', 'Times New Roman', serif" text-anchor="middle">57</text>
<text x="238.0" y="770.3" font-size="14.5" font-weight="bold" font-family="'Liberation Serif', 'Times New Roman', serif" text-anchor="middle">−</text>
<text x="238.0" y="780.3" font-size="14.5" font-weight="bold" font-family="'Liberation Serif', 'Times New Roman', serif" text-anchor="middle">−</text>
<text x="251.0" y="770.3" font-size="14.5" font-weight="bold" font-family="'Liberation Serif', 'Times New Roman', serif" text-anchor="middle">+</text>
<text x="251.0" y="780.3" font-size="14.5" font-weight="bold" font-family="'Liberation Serif', 'Times New Roman', serif" text-anchor="middle">−</text>
<text x="263.4" y="770.3" font-size="14.5" font-weight="bold" font-family="'Liberation Serif', 'Times New Roman', serif" text-anchor="middle">−</text>
<text x="263.4" y="780.3" font-size="14.5" font-weight="bold" font-family="'Liberation Serif', 'Times New Roman', serif" text-anchor="middle">+</text>
<text x="251.5" y="790.9" font-size="12.3" font-weight="bold" font-family="'Liberation Serif', 'Times New Roman', serif" text-anchor="middle">54</text>
<text x="289.3" y="770.3" font-size="14.5" font-weight="bold" font-family="'Liberation Serif', 'Times New Roman', serif" text-anchor="middle">−</text>
<text x="289.3" y="780.3" font-size="14.5" font-weight="bold" font-family="'Liberation Serif', 'Times New Roman', serif" text-anchor="middle">−</text>
<text x="302.3" y="770.3" font-size="14.5" font-weight="bold" font-family="'Liberation Serif', 'Times New Roman', serif" text-anchor="middle">+</text>
<text x="302.3" y="780.3" font-size="14.5" font-weight="bold" font-family="'Liberation Serif', 'Times New Roman', serif" text-anchor="middle">−</text>
<text x="315.3" y="770.3" font-size="14.5" font-weight="bold" font-family="'Liberation Serif', 'Times New Roman', serif" text-anchor="middle">−</text>
<text x="315.3" y="780.3" font-size="14.5" font-weight="bold" font-family="'Liberation Serif', 'Times New Roman', serif" text-anchor="middle">+</text>
<text x="303.5" y="790.9" font-size="12.3" font-weight="bold" font-family="'Liberation Serif', 'Times New Roman', serif" text-anchor="middle">56</text>
<line x1="80.4" y1="793.8" x2="165.8" y2="793.8" stroke="#000" stroke-width="1.5"/>
<line x1="183" y1="793.8" x2="320.2" y2="793.8" stroke="#000" stroke-width="1.5"/>
<text x="97.8" y="806.5" font-size="13.6" font-weight="bold" font-family="'Liberation Serif', 'Times New Roman', serif">low risk</text>
<text x="227.6" y="806.5" font-size="13.6" font-weight="bold" font-family="'Liberation Serif', 'Times New Roman', serif">high risk</text>
</svg></body></html>
